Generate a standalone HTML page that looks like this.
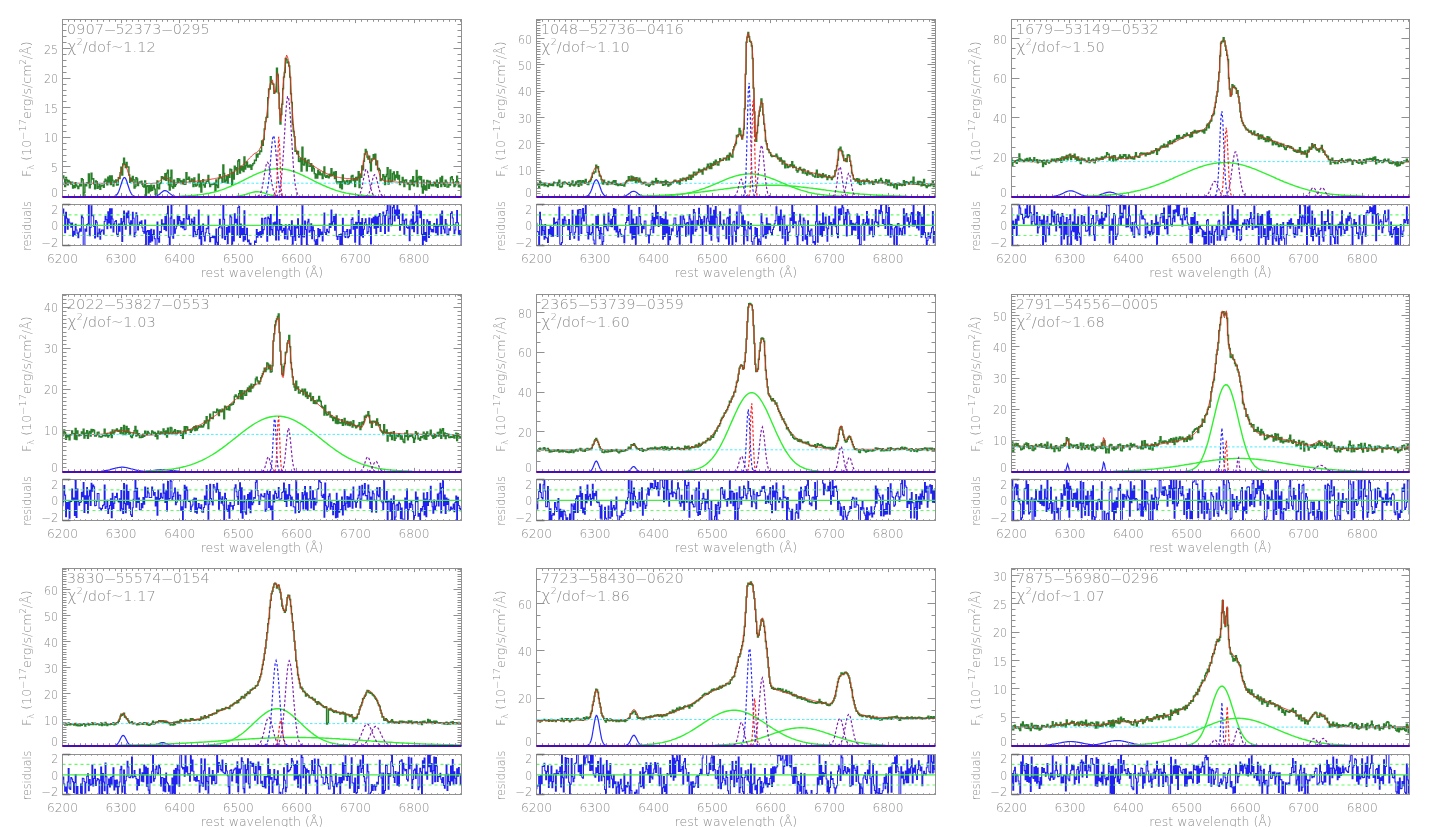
<!DOCTYPE html>
<html><head><meta charset="utf-8"><style>
html,body{margin:0;padding:0;background:#fff;}
svg{display:block;}
text{font-weight:200;}
</style></head><body>
<svg width="1449" height="827" viewBox="0 0 1449 827">
<rect width="1449" height="827" fill="#fff"/>
<clipPath id="c0m"><rect x="62.5" y="19.5" width="399" height="177"/></clipPath>
<clipPath id="c0r"><rect x="62.5" y="204.5" width="399" height="41"/></clipPath>
<g clip-path="url(#c0m)" fill="none">
<path d="M62.5 177.6H62.9V175.9H63.8V178.6H64.7V186.5H65.6V177.4H66.5V180H67.3V184.8H68.2V180.4H69.1V181.8H70V182.5H70.8V184H71.7V182.1H72.6V188.1H73.5V185.8H74.4V187.4H75.2V182.7H76.1V185.2H77V186.6H77.9V188.6H78.8V186.1H79.6V184.7H80.5V185.8H81.4V178.7H82.3V179.8H83.2V196.1H84V192.4H84.9V184.8H85.8V185.8H86.7V182.8H87.5V182.6H88.4V173.9H89.3V187.8H90.2V184.2H91.1V173.2H91.9V179H92.8V178.7H93.7V183.7H94.6V188.8H95.5V181H96.3V181.8H97.2V188.3H98.1V186.7H99V184.8H99.9V189.3H100.7V186.1H101.6V185.3H102.5V185.4H103.4V187.2H104.2V181.5H105.1V179.2H106V180.7H106.9V184.8H107.8V177.2H108.6V182.2H109.5V175.9H110.4V184.5H111.3V175.9H112.2V180.3H113V186.1H113.9V182.3H114.8V180.9H115.7V180H116.5V185.1H117.4V184.8H118.3V177.6H119.2V178.4H120.1V172.6H120.9V167.2H121.8V174.9H122.7V164H123.6V158.1H124.5V164.4H125.3V167.5H126.2V162.4H127.1V167.1H128V167H128.9V175H129.7V182.3H130.6V178.1H131.5V180.9H132.4V176.4H133.2V179.6H134.1V188.1H135V186.5H135.9V177.7H136.8V179H137.6V185.4H138.5V183.2H139.4V182H140.3V182.5H141.2V181.3H142V184.4H142.9V186.2H143.8V186.9H144.7V181H145.6V195.5H146.4V186.2H147.3V185.7H148.2V192.7H149.1V185.7H149.9V190.9H150.8V185.1H151.7V190.3H152.6V187.5H153.5V185.4H154.3V189.1H155.2V194.3H156.1V196.4H157V181H157.9V187.8H158.7V188.8H159.6V183.4H160.5V183H161.4V176.6H162.2V178.6H163.1V177.2H164V179.4H164.9V173.6H165.8V180.2H166.6V173.1H167.5V170.2H168.4V184.7H169.3V190.1H170.2V177.7H171V170.2H171.9V186.6H172.8V188.1H173.7V180.1H174.6V186.2H175.4V184.4H176.3V183.1H177.2V178.7H178.1V182.3H178.9V178.9H179.8V180.6H180.7V183.4H181.6V181H182.5V183.7H183.3V179.5H184.2V184.3H185.1V184H186V172.6H186.9V179.2H187.7V179.3H188.6V177.1H189.5V181.7H190.4V181.3H191.3V178.9H192.1V180H193V186.6H193.9V177.9H194.8V184.1H195.6V186H196.5V185.1H197.4V182.8H198.3V174.1H199.2V186.7H200V181.3H200.9V191.9H201.8V183.1H202.7V179.7H203.6V185.1H204.4V187H205.3V183.3H206.2V181.2H207.1V181.2H208V175.4H208.8V183.1H209.7V186.6H210.6V184.6H211.5V184.4H212.3V183.7H213.2V184.3H214.1V183.3H215V191.2H215.9V179.9H216.7V185.5H217.6V187.4H218.5V178.6H219.4V174.7H220.3V177.4H221.1V178.1H222V182.2H222.9V165H223.8V173.5H224.6V182.1H225.5V180.3H226.4V176.2H227.3V183H228.2V175H229V177.2H229.9V169.2H230.8V169.7H231.7V185.2H232.6V172.4H233.4V179H234.3V166.3H235.2V169.8H236.1V167.6H237V174.2H237.8V161H238.7V159.8H239.6V173H240.5V166.1H241.3V170.1H242.2V166.6H243.1V171.4H244V156.9H244.9V168.9H245.7V165.6H246.6V162H247.5V167.1H248.4V165.4H249.3V166.9H250.1V165H251V169.3H251.9V165.6H252.8V163.8H253.7V163.3H254.5V160.2H255.4V160.4H256.3V154.3H257.2V157.1H258V154H258.9V153.9H259.8V150.9H260.7V151.6H261.6V141H262.4V145.3H263.3V139.6H264.2V128.9H265.1V121.6H266V117.5H266.8V117.2H267.7V97.8H268.6V88.9H269.5V88.9H270.3V76.8H271.2V82.3H272.1V84H273V84.1H273.9V93.3H274.7V91.1H275.6V91.7H276.5V68.3H277.4V75H278.3V93.1H279.1V108.5H280V123.9H280.9V114.5H281.8V104.2H282.7V88.7H283.5V77.1H284.4V72.5H285.3V58.4H286.2V59.7H287V62.7H287.9V62.3H288.8V65.9H289.7V77.1H290.6V93.8H291.4V102.4H292.3V124.6H293.2V131.5H294.1V136.6H295V151.2H295.8V150.9H296.7V153.8H297.6V151.5H298.5V161.2H299.4V161.4H300.2V158.1H301.1V171.1H302V147.3H302.9V164.5H303.7V165.1H304.6V158.5H305.5V162.8H306.4V170.8H307.3V160.6H308.1V160H309V166.3H309.9V166.2H310.8V163.7H311.7V170.9H312.5V166.1H313.4V168.5H314.3V173.6H315.2V178.1H316V174.1H316.9V177.9H317.8V170.3H318.7V174.5H319.6V171.9H320.4V174.7H321.3V174H322.2V178.4H323.1V171.9H324V166.9H324.8V176.1H325.7V177.3H326.6V175.4H327.5V176.8H328.4V177.8H329.2V174.1H330.1V176H331V168.6H331.9V175.3H332.7V174.4H333.6V172.3H334.5V178.6H335.4V171.8H336.3V181.8H337.1V183.4H338V182.2H338.9V181.6H339.8V187.6H340.7V181.6H341.5V188.7H342.4V174.9H343.3V181H344.2V183H345.1V183.8H345.9V181.2H346.8V180.4H347.7V184H348.6V183.6H349.4V180.6H350.3V182.4H351.2V176.2H352.1V175.5H353V180.6H353.8V178.6H354.7V186.4H355.6V177.5H356.5V180.1H357.4V177.3H358.2V171.6H359.1V187.4H360V174.2H360.9V177.3H361.8V166H362.6V169.7H363.5V161.2H364.4V153.9H365.3V149.5H366.1V151.5H367V157H367.9V159.1H368.8V156.1H369.7V162.6H370.5V170.8H371.4V158.9H372.3V158.9H373.2V154.8H374.1V159H374.9V154.2H375.8V164.7H376.7V160.9H377.6V169.6H378.4V168.4H379.3V170.3H380.2V180.4H381.1V179H382V179.4H382.8V174.6H383.7V176.5H384.6V184.5H385.5V176.5H386.4V174.5H387.2V167.8H388.1V184H389V178.5H389.9V170H390.8V181.7H391.6V181.1H392.5V173.8H393.4V172H394.3V179.9H395.1V175.1H396V177.5H396.9V171.8H397.8V179.1H398.7V175.4H399.5V184.4H400.4V182H401.3V182.3H402.2V177.4H403.1V180.3H403.9V186.5H404.8V180.3H405.7V179.9H406.6V183.6H407.5V184H408.3V183.4H409.2V189.6H410.1V180.8H411V180.1H411.8V184.4H412.7V176.8H413.6V185.7H414.5V181.7H415.4V181.3H416.2V170.5H417.1V186.6H418V177.5H418.9V176.4H419.8V179.5H420.6V176.6H421.5V186.8H422.4V193.1H423.3V180.3H424.1V189.5H425V186H425.9V190.1H426.8V180.4H427.7V181.3H428.5V188.3H429.4V181.1H430.3V184.6H431.2V185.7H432.1V184.7H432.9V185.8H433.8V182.1H434.7V183.3H435.6V186.1H436.5V180.1H437.3V187.2H438.2V183.2H439.1V182.6H440V177.9H440.8V186.6H441.7V176.5H442.6V183.2H443.5V184.5H444.4V186.2H445.2V180.3H446.1V182.3H447V187.1H447.9V187H448.8V184.4H449.6V185.1H450.5V177.6H451.4V176.8H452.3V179.6H453.2V182.5H454V186.5H454.9V184.9H455.8V181.6H456.7V176.3H457.5V181.7H458.4V186.8H459.3V185.1H460.2V187H461.1V196.5H461.5" stroke="#2a7f2a" stroke-width="1.45"/>
<path d="M62.5 183.2l.9 0 .9 0 .8 0 .9 0 .9 0 .9 0 .9 0 .8 0 .9 0 .9 0 .9 0 .8 0 .9 0 .9 0 .9 0 .9 0 .8 0 .9 0 .9 0 .9 0 .9 0 .8 0 .9 0 .9 0 .9 0 .9 0 .8 0 .9 0 .9 0 .9 0 .8 0 .9 0 .9 0 .9 0 .9 0 .8 0 .9 0 .9 .1 .9 0 .9 0 .8 0 .9 0 .9 0 .9 0 .8 0 .9 0 .9 0 .9 0 .9 0 .8 0 .9 0 .9 0 .9 0 .9 0 .8 0 .9 0 .9-.1 .9 0 .9-.2 .8-.3 .9-.5 .9-.9 .9-1.3 .8-1.8 .9-2.3 .9-2.7 .9-2.9 .9-2.6 .8-2.1 .9-1.1 .9 .1 .9 1.2 .9 2.1 .8 2.6 .9 2.9 .9 2.7 .9 2.3 .9 1.8 .8 1.2 .9 .9 .9 .5 .9 .3 .8 .2 .9 0 .9 .1 .9 0 .9 0 .8 0 .9 0 .9 0 .9 0 .9 0 .8 0 .9 .1 .9 0 .9 0 .8 0 .9 0 .9 0 .9 0 .9 0 .8-.1 .9 0 .9-.1 .9-.1 .9-.1 .8-.3 .9-.4 .9-.4 .9-.6 .9-.7 .8-.8 .9-.8 .9-.7 .9-.5 .8-.3 .9 0 .9 .2 .9 .4 .9 .6 .8 .7 .9 .8 .9 .7 .9 .6 .9 .5 .8 .3 .9 .3 .9 .1 .9 .1 .9 0 .8 0 .9 0 .9-.1 .9 0 .8-.1 .9-.1 .9 0 .9-.1 .9-.1 .8-.1 .9 0 .9-.1 .9-.1 .9-.1 .8-.1 .9-.1 .9-.1 .9-.1 .8-.1 .9 0 .9-.1 .9-.1 .9-.2 .8-.1 .9-.1 .9-.1 .9-.1 .9-.1 .8-.1 .9-.1 .9-.1 .9-.2 .9-.1 .8-.1 .9-.1 .9-.1 .9-.2 .8-.1 .9-.2 .9-.1 .9-.2 .9-.1 .8-.2 .9-.2 .9-.1 .9-.2 .9-.2 .8-.3 .9-.2 .9-.2 .9-.3 .9-.2 .8-.3 .9-.3 .9-.2 .9-.3 .8-.4 .9-.3 .9-.3 .9-.4 .9-.4 .8-.4 .9-.4 .9-.5 .9-.4 .9-.6 .8-.5 .9-.6 .9-.7 .9-.7 .8-.7 .9-.7 .9-.8 .9-.8 .9-.8 .8-.9 .9-.9 .9-.9 .9-.9 .9-.9 .8-.9 .9-.9 .9-1 .9-.8 .9-.9 .8-.8 .9-.8 .9-.7 .9-.6 .8-.4 .9-.4 .9-.7 .9-1 .9-1.2 .8-1.5 .9-1.8 .9-2.2 .9-2.6 .9-3.8 .8-5.7 .9-7 .9-7.5 .9-7.4 .9-8.6 .8-9.5 .9-7.5 .9-2.8 .9-1.3 .8-.4 .9 5.3 .9 7.8 .9-.5 .9-7.3 .8-8.4 .9-4 .9 13.7 .9 24.6 .9 10.6 .8-6.9 .9-13.7 .9-14.8 .9-10.6 .9-9.2 .8-7.9 .9-3.6 .9 1.5 .9 4.1 .8 5.6 .9 8.7 .9 14.2 .9 15.2 .9 11.9 .8 10.1 .9 9.8 .9 8.3 .9 5.8 .9 2.4 .8 1.7 .9 1.6 .9 1.2 .9 .7 .8 .6 .9 .5 .9 .5 .9 .5 .9 .5 .8 .6 .9 .5 .9 .6 .9 .5 .9 .6 .8 .5 .9 .6 .9 .6 .9 .6 .9 .5 .8 .6 .9 .6 .9 .5 .9 .6 .8 .5 .9 .6 .9 .5 .9 .5 .9 .5 .8 .5 .9 .5 .9 .4 .9 .5 .9 .4 .8 .4 .9 .4 .9 .4 .9 .3 .9 .3 .8 .4 .9 .3 .9 .2 .9 .3 .8 .2 .9 .3 .9 .2 .9 .2 .9 .2 .8 .1 .9 .2 .9 .1 .9 .2 .9 .1 .8 .1 .9 .1 .9 .1 .9 .1 .8 .1 .9 0 .9 .1 .9 .1 .9 0 .8 .1 .9 0 .9 0 .9 .1 .9 0 .8 0 .9-.1 .9-.2 .9-.5 .9-1 .8-1.7 .9-2.7 .9-3.8 .9-4.6 .8-4.9 .9-4.2 .9-2.8 .9-.6 .9 1.5 .8 2.9 .9 3.1 .9 2.3 .9 .9 .9-.8 .8-1.7 .9-1.7 .9-.7 .9 .9 .9 2.4 .8 3.6 .9 4.1 .9 3.8 .9 3 .8 2.3 .9 1.4 .9 .9 .9 .4 .9 .3 .8 .2 .9 .1 .9 .1 .9 .1 .9 0 .8 .1 .9 .1 .9 .1 .9 .1 .8 0 .9 .1 .9 .1 .9 .1 .9 0 .8 .1 .9 .1 .9 .1 .9 0 .9 .1 .8 0 .9 .1 .9 .1 .9 0 .9 0 .8 .1 .9 0 .9 .1 .9 0 .8 0 .9 0 .9 .1 .9 0 .9 0 .8 0 .9 0 .9 0 .9 0 .9 0 .8 0 .9 0 .9 0 .9 0 .9 0 .8 0 .9 0 .9 0 .9 0 .8 0 .9 0 .9 0 .9 0 .9 0 .8 0 .9 0 .9 0 .9 0 .9 0 .8 0 .9 0 .9 0 .9 0 .8 0 .9 0 .9 0 .9 0 .9 0 .8 0 .9 0 .9 0 .9 0 .9 0 .8 0 .9 0 .9 0 .9 0 .9 0 .8 0 .9 0 .9 0 .9 0 .8 0 .9 0 .9 0 .9 0 .9 0 .8 0 .9 0 .9 0" stroke="#e8281e" stroke-width="0.9"/>
<path d="M62.5 183.2l3.5 0 3.5 0 3.5 0 3.6 0 3.5 0 3.5 0 3.5 0 3.5 0 3.5 0 3.6 0 3.5 0 3.5 0 3.5 0 3.5 0 3.5 0 3.5 0 3.6 0 3.5 0 3.5 0 3.5 0 3.5 0 3.5 0 3.6 0 3.5 0 3.5 0 3.5 0 3.5 0 3.5 0 3.5 0 3.6 0 3.5 0 3.5 0 3.5 0 3.5 0 3.5 0 3.6 0 3.5 0 3.5 0 3.5 0 3.5 0 3.5 0 3.5 0 3.6 0 3.5 0 3.5 0 3.5 0 3.5 0 3.5 0 3.6 0 3.5 0 3.5 0 3.5 0 3.5 0 3.5 0 3.5 0 3.6 0 3.5 0 3.5 0 3.5 0 3.5 0 3.5 0 3.6 0 3.5 0 3.5 0 3.5 0 3.5 0 3.5 0 3.5 0 3.6 0 3.5 0 3.5 0 3.5 0 3.5 0 3.5 0 3.6 0 3.5 0 3.5 0 3.5 0 3.5 0 3.5 0 3.5 0 3.6 0 3.5 0 3.5 0 3.5 0 3.5 0 3.5 0 3.6 0 3.5 0 3.5 0 3.5 0 3.5 0 3.5 0 3.5 0 3.6 0 3.5 0 3.5 0 3.5 0 3.5 0 3.5 0 3.6 0 3.5 0 3.5 0 3.5 0 3.5 0 3.5 0 3.5 0 3.6 0 3.5 0 3.5 0 3.5 0 3.5 0 3.5 0" stroke="#40f0ff" stroke-width="1.0" stroke-dasharray="2.5,2"/>
<path d="M114.4 196.2l.8-.3 .9-.6 .9-.8 .9-1.3 .8-1.8 .9-2.3 .9-2.7 .9-2.9 .9-2.7 .8-2 .9-1.1 .9 0 .9 1.2 .9 2.1 .8 2.7 .9 2.8 .9 2.7 .9 2.3 .9 1.8 .8 1.3 .9 .8 .9 .5 .9 .3" stroke="#2828ff" stroke-width="1.2"/>
<path d="M154.8 196.2l.9-.1 .8-.3 .9-.4 .9-.4 .9-.6 .9-.7 .8-.8 .9-.7 .9-.7 .9-.6 .8-.3 .9 0 .9 .2 .9 .5 .9 .6 .8 .8 .9 .7 .9 .7 .9 .7 .9 .5 .8 .4 .9 .3 .9 .2" stroke="#2828ff" stroke-width="1.2"/>
<path d="M179.4 196.1l1.7 0 1.8-.1 1.8-.1 1.7 0 1.8-.1 1.7-.2 1.8-.1 1.7-.1 1.8-.2 1.8-.2 1.7-.1 1.8-.3 1.7-.2 1.8-.3 1.8-.3 1.7-.3 1.8-.3 1.7-.4 1.8-.4 1.7-.4 1.8-.5 1.8-.5 1.7-.6 1.8-.5 1.7-.6 1.8-.7 1.7-.7 1.8-.7 1.8-.7 1.7-.8 1.8-.8 1.7-.8 1.8-.8 1.7-.9 1.8-.8 1.8-.9 1.7-.9 1.8-.9 1.7-.9 1.8-.9 1.8-.8 1.7-.9 1.8-.8 1.7-.8 1.8-.7 1.7-.7 1.8-.6 1.8-.7 1.7-.5 1.8-.5 1.7-.4 1.8-.3 1.7-.3 1.8-.2 1.8-.2 1.7 0 1.8 0 1.7 .1 1.8 .2 1.8 .3 1.7 .3 1.8 .4 1.7 .4 1.8 .6 1.7 .5 1.8 .7 1.8 .7 1.7 .7 1.8 .8 1.7 .8 1.8 .8 1.7 .9 1.8 .8 1.8 .9 1.7 .9 1.8 .9 1.7 .9 1.8 .8 1.7 .9 1.8 .8 1.8 .9 1.7 .8 1.8 .7 1.7 .8 1.8 .7 1.8 .7 1.7 .6 1.8 .7 1.7 .6 1.8 .5 1.7 .5 1.8 .5 1.8 .5 1.7 .4 1.8 .4 1.7 .3 1.8 .3 1.7 .3 1.8 .3 1.8 .3 1.7 .2 1.8 .2 1.7 .2 1.8 .1 1.7 .2 1.8 .1 1.8 .1 1.7 .1 1.8 .1 1.7 .1 1.8 .1 1.8 0" stroke="#30f030" stroke-width="1.4"/>
<path d="M236.5 196.2l1.8-.2 1.7-.2 1.8-.4 1.7-.4 1.8-.4 1.8-.6 1.7-.6 1.8-.5 1.7-.5 1.8-.4 1.7-.2 1.8 0 1.8 .1 1.7 .4 1.8 .4 1.7 .5 1.8 .6 1.8 .6 1.7 .5 1.8 .4 1.7 .4 1.8 .2 1.7 .2" stroke="#30f030" stroke-width="1.4"/>
<path d="M263.8 196.3l.8-.4 .9-.8 .9-1.7 .9-3.1 .9-5 .8-7.4 .9-9.6 .9-11 .9-10.4 .8-7.9 .9-3.4 .9 2 .9 6.8 .9 10 .8 11 .9 10.1 .9 8.1 .9 5.6 .9 3.5 .8 2 .9 1 .9 .5" stroke="#2828ff" stroke-width="1.2" stroke-dasharray="2.5,2"/>
<path d="M274.3 196.5l.9-.4 .9-3 .8-12.1 .9-24.7 .9-19.5 .9 9.3 .9 26.1 .8 17.6 .9 5.7 .9 .9" stroke="#ff2020" stroke-width="1.2" stroke-dasharray="2.5,2"/>
<path d="M257.6 196.2l.9-.4 .9-.8 .8-1.3 .9-2.2 .9-3.2 .9-4.4 .9-5.2 .8-5.6 .9-5.3 .9-3.8 .9-1.8 .9 .8 .8 3.1 .9 4.8 .9 5.5 .9 5.5 .8 4.8 .9 3.7 .9 2.5 .9 1.7 .9 .9 .8 .6 .9 .2" stroke="#8020b0" stroke-width="1.2" stroke-dasharray="2.5,2"/>
<path d="M276.1 196.2l.8-.4 .9-.9 .9-1.5 .9-2.8 .9-4.4 .8-6.8 .9-9.4 .9-12.1 .9-14.3 .9-15.2 .8-14.2 .9-11.1 .9-6.3 .9-.2 .8 5.9 .9 10.8 .9 14.1 .9 15.2 .9 14.4 .8 12.3 .9 9.6 .9 6.9 .9 4.6 .9 2.8 .8 1.6 .9 .9 .9 .5" stroke="#8020b0" stroke-width="1.2" stroke-dasharray="2.5,2"/>
<path d="M356.9 196.3l.9-.2 .9-.5 .9-1 .8-1.8 .9-2.7 .9-3.8 .9-4.7 .8-4.9 .9-4.2 .9-2.7 .9-.4 .9 2 .8 3.8 .9 4.8 .9 4.8 .9 4.1 .9 3.1 .8 2.1 .9 1.2 .9 .7 .9 .3" stroke="#8020b0" stroke-width="1.2" stroke-dasharray="2.5,2"/>
<path d="M365.7 196.3l.9-.3 .9-.5 .8-1 .9-1.7 .9-2.6 .9-3.3 .9-3.9 .8-3.9 .9-3 .9-1.4 .9 .4 .9 2.3 .8 3.5 .9 3.9 .9 3.7 .9 3 .8 2.2 .9 1.3 .9 .8 .9 .4" stroke="#8020b0" stroke-width="1.2" stroke-dasharray="2.5,2"/>
</g>
<g clip-path="url(#c0r)" fill="none">
<path d="M62.5 212.8H62.9V209H63.8V215.1H64.7V232.7H65.6V212.3H66.5V218.2H67.3V229.1H68.2V219.1H69.1V222.2H70V223.7H70.8V227.2H71.7V222.9H72.6V236.3H73.5V231.2H74.4V234.8H75.2V224.3H76.1V229.9H77V233.1H77.9V237.6H78.8V231.9H79.6V228.8H80.5V231.1H81.4V215.2H82.3V217.7H83.2V254.3H84V246.1H84.9V229H85.8V231.2H86.7V224.5H87.5V224H88.4V204.5H89.3V235.7H90.2V227.5H91.1V202.8H91.9V215.8H92.8V215.1H93.7V226.5H94.6V237.9H95.5V220.4H96.3V222.1H97.2V236.8H98.1V233.1H99V228.9H99.9V239.1H100.7V231.7H101.6V230.1H102.5V230.1H103.4V234.2H104.2V221.4H105.1V216.3H106V219.6H106.9V228.8H107.8V211.8H108.6V222.9H109.5V208.7H110.4V228H111.3V208.8H112.2V218.9H113V232H113.9V223.9H114.8V221.5H115.7V220.5H116.5V234.1H117.4V236.3H118.3V224.1H119.2V231.1H120.1V224.1H120.9V218.5H121.8V241.5H122.7V221.7H123.6V211H124.5V225H125.3V229.2H126.2V213.1H127.1V217.6H128V210.9H128.9V223H129.7V234.2H130.6V220.7H131.5V224.2H132.4V212.3H133.2V218.3H134.1V236.6H135V232.7H135.9V212.8H136.8V215.6H137.6V229.9H138.5V225H139.4V222.1H140.3V223.4H141.2V220.7H142V227.7H142.9V231.5H143.8V233.1H144.7V219.9H145.6V252.4H146.4V231.6H147.3V230.5H148.2V246.1H149.1V230.4H149.9V242.1H150.8V229.2H151.7V240.9H152.6V234.5H153.5V230H154.3V238.6H155.2V250.6H156.1V256H157V222.1H157.9V238.6H158.7V242.2H159.6V231.6H160.5V232.5H161.4V219.8H162.2V225.6H163.1V223.8H164V229.4H164.9V216.5H165.8V230.8H166.6V214H167.5V206H168.4V237.1H169.3V247.5H170.2V218.1H171V199.9H171.9V235.6H172.8V238.3H173.7V219.7H174.6V233.1H175.4V228.7H176.3V225.9H177.2V215.9H178.1V224.1H178.9V216.5H179.8V220.5H180.7V226.9H181.6V221.7H182.5V228H183.3V218.6H184.2V229.7H185.1V229.2H186V203.8H186.9V218.8H187.7V219.2H188.6V214.4H189.5V224.8H190.4V224.2H191.3V219.1H192.1V221.6H193V236.7H193.9V217.3H194.8V231.5H195.6V236H196.5V234.4H197.4V229.5H198.3V209.9H199.2V238.6H200V226.6H200.9V250.9H201.8V231.4H202.7V223.9H203.6V236.3H204.4V240.9H205.3V232.7H206.2V228.3H207.1V228.7H208V215.8H208.8V233.4H209.7V241.7H210.6V237.4H211.5V237.4H212.3V236H213.2V237.8H214.1V236H215V254.2H215.9V229H216.7V242.2H217.6V246.9H218.5V227.6H219.4V219.3H220.3V225.9H221.1V227.9H222V237.9H222.9V199.8H223.8V219.3H224.6V239.4H225.5V236H226.4V227.5H227.3V243.7H228.2V226.3H229V232.1H229.9V214.9H230.8V217H231.7V252.8H232.6V225H233.4V241H234.3V213.7H235.2V222.8H236.1V219.2H237V235.5H237.8V207.4H238.7V206.2H239.6V237.5H240.5V223.9H241.3V234.7H242.2V228.6H243.1V241.3H244V210.8H244.9V239.7H245.7V234.4H246.6V228.3H247.5V241.8H248.4V240.1H249.3V245.5H250.1V243.2H251V254.9H251.9V248.3H252.8V246H253.7V246.4H254.5V241H255.4V242.4H256.3V229.4H257.2V237.3H258V232.6H258.9V235.2H259.8V231.6H260.7V237.2H261.6V218.3H262.4V234H263.3V229.6H264.2V218.4H265.1V217.8H266V225.5H266.8V241.2H267.7V216.9H268.6V218.6H269.5V235.4H270.3V214.4H271.2V229.6H272.1V234.4H273V222.8H273.9V225.8H274.7V222H275.6V239.9H276.5V206H277.4V230.1H278.3V239.9H279.1V219.4H280V230H280.9V224.5H281.8V232.3H282.7V230.5H283.5V228.3H284.4V238.6H285.3V224.7H286.2V235.8H287V239.2H287.9V229H288.8V224.4H289.7V230.3H290.6V235.9H291.4V220.7H292.3V244.1H293.2V236.8H294.1V226.3H295V240.4H295.8V226.8H296.7V227.9H297.6V218.8H298.5V237.2H299.4V234.8H300.2V225.8H301.1V253.8H302V199H302.9V236.7H303.7V236.9H304.6V220.9H305.5V229.4H306.4V246.1H307.3V221.9H308.1V219.3H309V232.2H309.9V230.8H310.8V223.8H311.7V238.7H312.5V226.7H313.4V230.6H314.3V241H315.2V249.7H316V239.5H316.9V246.8H317.8V228.6H318.7V236.8H319.6V229.6H320.4V234.8H321.3V232.1H322.2V240.9H323.1V225.2H324V212.9H324.8V232.5H325.7V234.4H326.6V229.2H327.5V231.5H328.4V232.8H329.2V223.7H330.1V227.4H331V210H331.9V224.4H332.7V221.7H333.6V216.4H334.5V230.1H335.4V214.3H336.3V236.3H337.1V239.5H338V236.3H338.9V234.6H339.8V247.6H340.7V233.9H341.5V249.5H342.4V218.2H343.3V231.5H344.2V235.9H345.1V237.5H345.9V231.5H346.8V229.5H347.7V237.6H348.6V236.5H349.4V229.7H350.3V233.4H351.2V219.4H352.1V217.8H353V229.1H353.8V224.5H354.7V242.1H355.6V222.2H356.5V228.2H357.4V222.4H358.2V210.6H359.1V248.3H360V222.6H360.9V235.6H361.8V218.5H362.6V237.2H363.5V229.2H364.4V222.4H365.3V218.7H366.1V224.4H367V233.5H367.9V231.7H368.8V218H369.7V227.2H370.5V244H371.4V218.8H372.3V222.6H373.2V217.2H374.1V228.2H374.9V215.7H375.8V233.6H376.7V217H377.6V227.5H378.4V216.3H379.3V213.6H380.2V231.4H381.1V225H382V224H382.8V212.1H383.7V215.7H384.6V233.4H385.5V215.1H386.4V210.5H387.2V195.1H388.1V231.3H389V218.8H389.9V199.4H390.8V225.7H391.6V224.2H392.5V207.6H393.4V203.4H394.3V220.9H395.1V209.9H396V215.1H396.9V202.2H397.8V218.5H398.7V209.9H399.5V230.1H400.4V224.5H401.3V225H402.2V214H403.1V220.4H403.9V234.2H404.8V220.1H405.7V219.1H406.6V227.4H407.5V228.2H408.3V226.8H409.2V240.7H410.1V220.9H411V219.2H411.8V228.8H412.7V211.7H413.6V231.6H414.5V222.8H415.4V221.8H416.2V197.6H417.1V233.7H418V213.3H418.9V210.7H419.8V217.7H420.6V211.2H421.5V234.3H422.4V248.4H423.3V219.6H424.1V240.2H425V232.5H425.9V241.5H426.8V219.8H427.7V221.8H428.5V237.5H429.4V221.4H430.3V229.1H431.2V231.6H432.1V229.5H432.9V231.9H433.8V223.6H434.7V226.3H435.6V232.6H436.5V219H437.3V235H438.2V226.1H439.1V224.8H440V214.2H440.8V233.7H441.7V211.1H442.6V226H443.5V229H444.4V232.9H445.2V219.5H446.1V224.1H447V234.8H447.9V234.6H448.8V228.8H449.6V230.3H450.5V213.4H451.4V211.7H452.3V218H453.2V224.5H454V233.6H454.9V230H455.8V222.6H456.7V210.6H457.5V222.7H458.4V234.1H459.3V230.4H460.2V234.7H461.1V250.2H461.5" stroke="#2020f0" stroke-width="1.05"/>
<line x1="62.5" y1="225.4" x2="461.5" y2="225.4" stroke="#40f040" stroke-width="1.1"/>
<line x1="62.5" y1="214.92" x2="461.5" y2="214.92" stroke="#60ff60" stroke-width="1.1" stroke-dasharray="3,3"/>
<line x1="62.5" y1="235.47" x2="461.5" y2="235.47" stroke="#60ff60" stroke-width="1.1" stroke-dasharray="3,3"/>
</g>
<g fill="none" stroke="#909090" stroke-width="1">
<rect x="62.5" y="19.5" width="399" height="177"/>
<rect x="62.5" y="204.5" width="399" height="41"/>
<path d="M68.5 196.5v-2.3 M68.5 19.5v2.3 M68.5 245.5v-1.2 M68.5 204.5v1.2 M74.5 196.5v-2.3 M74.5 19.5v2.3 M74.5 245.5v-1.2 M74.5 204.5v1.2 M80.5 196.5v-2.3 M80.5 19.5v2.3 M80.5 245.5v-1.2 M80.5 204.5v1.2 M85.5 196.5v-2.3 M85.5 19.5v2.3 M85.5 245.5v-1.2 M85.5 204.5v1.2 M91.5 196.5v-2.3 M91.5 19.5v2.3 M91.5 245.5v-1.2 M91.5 204.5v1.2 M97.5 196.5v-2.3 M97.5 19.5v2.3 M97.5 245.5v-1.2 M97.5 204.5v1.2 M103.5 196.5v-2.3 M103.5 19.5v2.3 M103.5 245.5v-1.2 M103.5 204.5v1.2 M109.5 196.5v-2.3 M109.5 19.5v2.3 M109.5 245.5v-1.2 M109.5 204.5v1.2 M115.5 196.5v-2.3 M115.5 19.5v2.3 M115.5 245.5v-1.2 M115.5 204.5v1.2 M121.5 196.5v-3.6 M121.5 19.5v3.6 M121.5 245.5v-2 M121.5 204.5v2 M126.5 196.5v-2.3 M126.5 19.5v2.3 M126.5 245.5v-1.2 M126.5 204.5v1.2 M132.5 196.5v-2.3 M132.5 19.5v2.3 M132.5 245.5v-1.2 M132.5 204.5v1.2 M138.5 196.5v-2.3 M138.5 19.5v2.3 M138.5 245.5v-1.2 M138.5 204.5v1.2 M144.5 196.5v-2.3 M144.5 19.5v2.3 M144.5 245.5v-1.2 M144.5 204.5v1.2 M150.5 196.5v-2.3 M150.5 19.5v2.3 M150.5 245.5v-1.2 M150.5 204.5v1.2 M156.5 196.5v-2.3 M156.5 19.5v2.3 M156.5 245.5v-1.2 M156.5 204.5v1.2 M162.5 196.5v-2.3 M162.5 19.5v2.3 M162.5 245.5v-1.2 M162.5 204.5v1.2 M167.5 196.5v-2.3 M167.5 19.5v2.3 M167.5 245.5v-1.2 M167.5 204.5v1.2 M173.5 196.5v-2.3 M173.5 19.5v2.3 M173.5 245.5v-1.2 M173.5 204.5v1.2 M179.5 196.5v-3.6 M179.5 19.5v3.6 M179.5 245.5v-2 M179.5 204.5v2 M185.5 196.5v-2.3 M185.5 19.5v2.3 M185.5 245.5v-1.2 M185.5 204.5v1.2 M191.5 196.5v-2.3 M191.5 19.5v2.3 M191.5 245.5v-1.2 M191.5 204.5v1.2 M197.5 196.5v-2.3 M197.5 19.5v2.3 M197.5 245.5v-1.2 M197.5 204.5v1.2 M203.5 196.5v-2.3 M203.5 19.5v2.3 M203.5 245.5v-1.2 M203.5 204.5v1.2 M208.5 196.5v-2.3 M208.5 19.5v2.3 M208.5 245.5v-1.2 M208.5 204.5v1.2 M214.5 196.5v-2.3 M214.5 19.5v2.3 M214.5 245.5v-1.2 M214.5 204.5v1.2 M220.5 196.5v-2.3 M220.5 19.5v2.3 M220.5 245.5v-1.2 M220.5 204.5v1.2 M226.5 196.5v-2.3 M226.5 19.5v2.3 M226.5 245.5v-1.2 M226.5 204.5v1.2 M232.5 196.5v-2.3 M232.5 19.5v2.3 M232.5 245.5v-1.2 M232.5 204.5v1.2 M238.5 196.5v-3.6 M238.5 19.5v3.6 M238.5 245.5v-2 M238.5 204.5v2 M244.5 196.5v-2.3 M244.5 19.5v2.3 M244.5 245.5v-1.2 M244.5 204.5v1.2 M249.5 196.5v-2.3 M249.5 19.5v2.3 M249.5 245.5v-1.2 M249.5 204.5v1.2 M255.5 196.5v-2.3 M255.5 19.5v2.3 M255.5 245.5v-1.2 M255.5 204.5v1.2 M261.5 196.5v-2.3 M261.5 19.5v2.3 M261.5 245.5v-1.2 M261.5 204.5v1.2 M267.5 196.5v-2.3 M267.5 19.5v2.3 M267.5 245.5v-1.2 M267.5 204.5v1.2 M273.5 196.5v-2.3 M273.5 19.5v2.3 M273.5 245.5v-1.2 M273.5 204.5v1.2 M279.5 196.5v-2.3 M279.5 19.5v2.3 M279.5 245.5v-1.2 M279.5 204.5v1.2 M285.5 196.5v-2.3 M285.5 19.5v2.3 M285.5 245.5v-1.2 M285.5 204.5v1.2 M291.5 196.5v-2.3 M291.5 19.5v2.3 M291.5 245.5v-1.2 M291.5 204.5v1.2 M296.5 196.5v-3.6 M296.5 19.5v3.6 M296.5 245.5v-2 M296.5 204.5v2 M302.5 196.5v-2.3 M302.5 19.5v2.3 M302.5 245.5v-1.2 M302.5 204.5v1.2 M308.5 196.5v-2.3 M308.5 19.5v2.3 M308.5 245.5v-1.2 M308.5 204.5v1.2 M314.5 196.5v-2.3 M314.5 19.5v2.3 M314.5 245.5v-1.2 M314.5 204.5v1.2 M320.5 196.5v-2.3 M320.5 19.5v2.3 M320.5 245.5v-1.2 M320.5 204.5v1.2 M326.5 196.5v-2.3 M326.5 19.5v2.3 M326.5 245.5v-1.2 M326.5 204.5v1.2 M332.5 196.5v-2.3 M332.5 19.5v2.3 M332.5 245.5v-1.2 M332.5 204.5v1.2 M337.5 196.5v-2.3 M337.5 19.5v2.3 M337.5 245.5v-1.2 M337.5 204.5v1.2 M343.5 196.5v-2.3 M343.5 19.5v2.3 M343.5 245.5v-1.2 M343.5 204.5v1.2 M349.5 196.5v-2.3 M349.5 19.5v2.3 M349.5 245.5v-1.2 M349.5 204.5v1.2 M355.5 196.5v-3.6 M355.5 19.5v3.6 M355.5 245.5v-2 M355.5 204.5v2 M361.5 196.5v-2.3 M361.5 19.5v2.3 M361.5 245.5v-1.2 M361.5 204.5v1.2 M367.5 196.5v-2.3 M367.5 19.5v2.3 M367.5 245.5v-1.2 M367.5 204.5v1.2 M373.5 196.5v-2.3 M373.5 19.5v2.3 M373.5 245.5v-1.2 M373.5 204.5v1.2 M378.5 196.5v-2.3 M378.5 19.5v2.3 M378.5 245.5v-1.2 M378.5 204.5v1.2 M384.5 196.5v-2.3 M384.5 19.5v2.3 M384.5 245.5v-1.2 M384.5 204.5v1.2 M390.5 196.5v-2.3 M390.5 19.5v2.3 M390.5 245.5v-1.2 M390.5 204.5v1.2 M396.5 196.5v-2.3 M396.5 19.5v2.3 M396.5 245.5v-1.2 M396.5 204.5v1.2 M402.5 196.5v-2.3 M402.5 19.5v2.3 M402.5 245.5v-1.2 M402.5 204.5v1.2 M408.5 196.5v-2.3 M408.5 19.5v2.3 M408.5 245.5v-1.2 M408.5 204.5v1.2 M414.5 196.5v-3.6 M414.5 19.5v3.6 M414.5 245.5v-2 M414.5 204.5v2 M419.5 196.5v-2.3 M419.5 19.5v2.3 M419.5 245.5v-1.2 M419.5 204.5v1.2 M425.5 196.5v-2.3 M425.5 19.5v2.3 M425.5 245.5v-1.2 M425.5 204.5v1.2 M431.5 196.5v-2.3 M431.5 19.5v2.3 M431.5 245.5v-1.2 M431.5 204.5v1.2 M437.5 196.5v-2.3 M437.5 19.5v2.3 M437.5 245.5v-1.2 M437.5 204.5v1.2 M443.5 196.5v-2.3 M443.5 19.5v2.3 M443.5 245.5v-1.2 M443.5 204.5v1.2 M449.5 196.5v-2.3 M449.5 19.5v2.3 M449.5 245.5v-1.2 M449.5 204.5v1.2 M455.5 196.5v-2.3 M455.5 19.5v2.3 M455.5 245.5v-1.2 M455.5 204.5v1.2 M460.5 196.5v-2.3 M460.5 19.5v2.3 M460.5 245.5v-1.2 M460.5 204.5v1.2 M62.5 190.5h4 M461.5 190.5h-4 M62.5 184.5h4 M461.5 184.5h-4 M62.5 178.5h4 M461.5 178.5h-4 M62.5 172.5h4 M461.5 172.5h-4 M62.5 166.5h8 M461.5 166.5h-8 M62.5 161.5h4 M461.5 161.5h-4 M62.5 155.5h4 M461.5 155.5h-4 M62.5 149.5h4 M461.5 149.5h-4 M62.5 143.5h4 M461.5 143.5h-4 M62.5 137.5h8 M461.5 137.5h-8 M62.5 131.5h4 M461.5 131.5h-4 M62.5 125.5h4 M461.5 125.5h-4 M62.5 119.5h4 M461.5 119.5h-4 M62.5 113.5h4 M461.5 113.5h-4 M62.5 107.5h8 M461.5 107.5h-8 M62.5 101.5h4 M461.5 101.5h-4 M62.5 95.5h4 M461.5 95.5h-4 M62.5 90.5h4 M461.5 90.5h-4 M62.5 84.5h4 M461.5 84.5h-4 M62.5 78.5h8 M461.5 78.5h-8 M62.5 72.5h4 M461.5 72.5h-4 M62.5 66.5h4 M461.5 66.5h-4 M62.5 60.5h4 M461.5 60.5h-4 M62.5 54.5h4 M461.5 54.5h-4 M62.5 48.5h8 M461.5 48.5h-8 M62.5 42.5h4 M461.5 42.5h-4 M62.5 36.5h4 M461.5 36.5h-4 M62.5 30.5h4 M461.5 30.5h-4 M62.5 24.5h4 M461.5 24.5h-4"/>
</g>
<path d="M62.5 204.5h8M62.5 245.5h8" stroke="#6e6e6e" stroke-width="1.3" fill="none"/>
<line x1="62.5" y1="197" x2="461.5" y2="197" stroke="#2418e8" stroke-width="2"/>
<line x1="62.5" y1="197" x2="461.5" y2="197" stroke="#68009c" stroke-width="2" stroke-dasharray="3,2"/>
<g fill="#8c8c8c" font-family="'DejaVu Sans', 'Liberation Sans', sans-serif">
<text x="57.9" y="197.1" font-size="12.2" text-anchor="end" textLength="7" lengthAdjust="spacingAndGlyphs">0</text>
<text x="57.9" y="171.92" font-size="12.2" text-anchor="end" textLength="7" lengthAdjust="spacingAndGlyphs">5</text>
<text x="57.9" y="142.34" font-size="12.2" text-anchor="end" textLength="14" lengthAdjust="spacingAndGlyphs">10</text>
<text x="57.9" y="112.76" font-size="12.2" text-anchor="end" textLength="14" lengthAdjust="spacingAndGlyphs">15</text>
<text x="57.9" y="83.18" font-size="12.2" text-anchor="end" textLength="14" lengthAdjust="spacingAndGlyphs">20</text>
<text x="57.9" y="53.61" font-size="12.2" text-anchor="end" textLength="14" lengthAdjust="spacingAndGlyphs">25</text>
<text x="58.3" y="213.5" font-size="12.2" text-anchor="end" textLength="7" lengthAdjust="spacingAndGlyphs">2</text>
<text x="58.3" y="230" font-size="12.2" text-anchor="end" textLength="7" lengthAdjust="spacingAndGlyphs">0</text>
<text x="58.3" y="246.5" font-size="12.2" text-anchor="end" textLength="17" lengthAdjust="spacingAndGlyphs">&#8722;2</text>
<text x="62.5" y="263.1" font-size="12.4" text-anchor="middle" textLength="31" lengthAdjust="spacingAndGlyphs">6200</text>
<text x="121.09" y="263.1" font-size="12.4" text-anchor="middle" textLength="31" lengthAdjust="spacingAndGlyphs">6300</text>
<text x="179.68" y="263.1" font-size="12.4" text-anchor="middle" textLength="31" lengthAdjust="spacingAndGlyphs">6400</text>
<text x="238.27" y="263.1" font-size="12.4" text-anchor="middle" textLength="31" lengthAdjust="spacingAndGlyphs">6500</text>
<text x="296.86" y="263.1" font-size="12.4" text-anchor="middle" textLength="31" lengthAdjust="spacingAndGlyphs">6600</text>
<text x="355.45" y="263.1" font-size="12.4" text-anchor="middle" textLength="31" lengthAdjust="spacingAndGlyphs">6700</text>
<text x="414.04" y="263.1" font-size="12.4" text-anchor="middle" textLength="31" lengthAdjust="spacingAndGlyphs">6800</text>
<text x="262" y="277.3" font-size="12" text-anchor="middle" textLength="122.5" lengthAdjust="spacingAndGlyphs">rest wavelength (&#197;)</text>
<text y="34.1" font-size="13.8"><tspan x="66.7" textLength="37.5" lengthAdjust="spacingAndGlyphs">0907</tspan><tspan x="103.4" textLength="13.2" lengthAdjust="spacingAndGlyphs">-</tspan><tspan x="115.4" textLength="46" lengthAdjust="spacingAndGlyphs">52373</tspan><tspan x="160.7" textLength="12.8" lengthAdjust="spacingAndGlyphs">-</tspan><tspan x="172.8" textLength="36.8" lengthAdjust="spacingAndGlyphs">0295</tspan></text>
<text x="67.3" y="51.8" font-size="13.8" textLength="88.5" lengthAdjust="spacingAndGlyphs"><tspan font-size="15">&#967;</tspan><tspan font-size="9" dy="-7">2</tspan><tspan dy="7">/dof~1.12</tspan></text>
<text x="31.3" y="109.2" font-size="12" text-anchor="middle" textLength="135.5" lengthAdjust="spacingAndGlyphs" transform="rotate(-90 31.3 109.2)">F<tspan font-size="8" dy="3">&#955;</tspan><tspan dy="-3"> (10</tspan><tspan font-size="9.5" dy="-5">&#8722;17</tspan><tspan dy="5">erg/s/cm</tspan><tspan font-size="8" dy="-5">2</tspan><tspan dy="5">/&#197;)</tspan></text>
<text x="30.8" y="226" font-size="11.6" text-anchor="middle" textLength="49.7" lengthAdjust="spacingAndGlyphs" transform="rotate(-90 30.8 226)">residuals</text>
</g>
<clipPath id="c1m"><rect x="536.5" y="19.5" width="399" height="177"/></clipPath>
<clipPath id="c1r"><rect x="536.5" y="204.5" width="399" height="41"/></clipPath>
<g clip-path="url(#c1m)" fill="none">
<path d="M536.5 183H536.9V184.4H537.8V184.5H538.7V188.2H539.6V181.1H540.5V182.4H541.3V185.1H542.2V183.3H543.1V184.3H544V185.8H544.8V183.3H545.7V185.6H546.6V185.6H547.5V186.4H548.4V184.1H549.2V184.9H550.1V183.6H551V185.3H551.9V183.8H552.8V185.4H553.6V182.2H554.5V183.2H555.4V183H556.3V182.9H557.2V185.4H558V182.4H558.9V180.3H559.8V186.8H560.7V186.9H561.5V186.5H562.4V182.4H563.3V183.7H564.2V182H565.1V182.6H565.9V183.5H566.8V183.5H567.7V184.3H568.6V182.5H569.5V186H570.3V184.8H571.2V183.6H572.1V180.9H573V185.3H573.9V185.8H574.7V184.8H575.6V182H576.5V183.8H577.4V180.9H578.2V186.2H579.1V180.8H580V180.8H580.9V185H581.8V182.3H582.6V180.6H583.5V182.8H584.4V181.5H585.3V179.4H586.2V183.2H587V184.1H587.9V184.6H588.8V181.4H589.7V181.6H590.5V179.7H591.4V177.2H592.3V173.2H593.2V173.5H594.1V172H594.9V172H595.8V165.2H596.7V167.7H597.6V166.8H598.5V171.8H599.3V175.7H600.2V176.3H601.1V179.6H602V183.5H602.9V184.1H603.7V180.3H604.6V183.1H605.5V183H606.4V184H607.2V184.4H608.1V181.4H609V182.8H609.9V183.7H610.8V182.5H611.6V183.8H612.5V182H613.4V180.6H614.3V184.3H615.2V180.7H616V184.7H616.9V183.6H617.8V185.5H618.7V184.6H619.6V184.2H620.4V184.9H621.3V185.3H622.2V185H623.1V185H623.9V186H624.8V183.4H625.7V181.9H626.6V180.6H627.5V180.5H628.3V176.8H629.2V179.9H630.1V180.7H631V176.1H631.9V180.8H632.7V177H633.6V180.2H634.5V178H635.4V182.4H636.2V177.8H637.1V180.2H638V182.1H638.9V178.1H639.8V180.3H640.6V182H641.5V183.8H642.4V183H643.3V183.6H644.2V182.3H645V182.4H645.9V185H646.8V184.9H647.7V184.9H648.6V186.3H649.4V184.9H650.3V183.9H651.2V182.4H652.1V181.1H652.9V184.5H653.8V181.8H654.7V183.2H655.6V178.5H656.5V182H657.3V180.8H658.2V183.3H659.1V183.1H660V181.5H660.9V182.7H661.7V181.7H662.6V185.3H663.5V181.8H664.4V184.7H665.3V180.4H666.1V184H667V181.7H667.9V186H668.8V182.7H669.6V184.8H670.5V183.9H671.4V182.7H672.3V183H673.2V181.6H674V180.5H674.9V180.3H675.8V181.3H676.7V183.3H677.6V182.1H678.4V180.9H679.3V184.1H680.2V178.9H681.1V180.5H682V180.4H682.8V178.1H683.7V178.4H684.6V178.9H685.5V180.7H686.3V178H687.2V177.5H688.1V179.2H689V175.3H689.9V175.6H690.7V179.3H691.6V175.1H692.5V176.9H693.4V172.2H694.3V172.2H695.1V175.1H696V174.3H696.9V172.2H697.8V172.5H698.6V169.2H699.5V170.3H700.4V171.8H701.3V169.9H702.2V174.1H703V169.5H703.9V168.1H704.8V169.4H705.7V169.8H706.6V167.1H707.4V164.2H708.3V166.7H709.2V168.5H710.1V163.5H711V168.6H711.8V163.9H712.7V165.2H713.6V161.9H714.5V164.5H715.3V160.3H716.2V161.7H717.1V164.8H718V165H718.9V161.8H719.7V158.7H720.6V160.4H721.5V160.2H722.4V160.3H723.3V158.2H724.1V158.4H725V158.2H725.9V160.1H726.8V156H727.7V155.4H728.5V159.7H729.4V153.1H730.3V155.4H731.2V156.5H732V157H732.9V149.8H733.8V146.7H734.7V145H735.6V143.5H736.4V135.5H737.3V136.5H738.2V134.7H739.1V128.5H740V131H740.8V135.2H741.7V139.1H742.6V135.1H743.5V129.1H744.3V108.8H745.2V74.1H746.1V42.2H747V37.2H747.9V32.5H748.7V36.6H749.6V41.3H750.5V41.9H751.4V46H752.3V58.4H753.1V88.1H754V112H754.9V135H755.8V141.3H756.7V132.7H757.5V125.5H758.4V116H759.3V110.9H760.2V106.9H761V99H761.9V103.6H762.8V114.7H763.7V123.9H764.6V130.5H765.4V141.1H766.3V143.7H767.2V149.3H768.1V149.7H769V152.5H769.8V152.8H770.7V155.4H771.6V156.6H772.5V156.3H773.4V156.3H774.2V156H775.1V156.1H776V154.3H776.9V156.2H777.7V158.8H778.6V157.9H779.5V161H780.4V158H781.3V160.3H782.1V164.1H783V160.9H783.9V161.2H784.8V167.7H785.7V164.7H786.5V164.5H787.4V167.5H788.3V166.4H789.2V166.7H790V164.6H790.9V165.4H791.8V161.8H792.7V167.4H793.6V165.1H794.4V167.3H795.3V167.3H796.2V170.2H797.1V172H798V170.5H798.8V168.4H799.7V167.5H800.6V169.6H801.5V170.2H802.4V172.9H803.2V169.2H804.1V169.8H805V173.4H805.9V172.9H806.7V174.9H807.6V170.9H808.5V172.9H809.4V174H810.3V173.2H811.1V173.2H812V174.7H812.9V176.1H813.8V176.1H814.7V176.9H815.5V173.2H816.4V170.2H817.3V177.2H818.2V174.3H819.1V174.1H819.9V176.7H820.8V174.9H821.7V177.4H822.6V173.6H823.4V176.8H824.3V175.8H825.2V174.9H826.1V177H827V179.6H827.8V177.6H828.7V175.6H829.6V177.4H830.5V177.1H831.4V179.6H832.2V177.6H833.1V176.3H834V176.4H834.9V170.8H835.8V170.3H836.6V165.8H837.5V160H838.4V149.4H839.3V148.7H840.1V147.3H841V150.5H841.9V151.6H842.8V155.3H843.7V160.4H844.5V160.5H845.4V158.8H846.3V161.4H847.2V155.1H848.1V154.6H848.9V155.8H849.8V161.3H850.7V165.5H851.6V173.1H852.4V175.1H853.3V178.9H854.2V179.3H855.1V181H856V180H856.8V178.6H857.7V183H858.6V179.1H859.5V184.2H860.4V184.5H861.2V181H862.1V180.9H863V180.2H863.9V183.9H864.8V181.2H865.6V181H866.5V179.1H867.4V181.6H868.3V180.6H869.1V183.4H870V182.2H870.9V182.9H871.8V181.1H872.7V184.2H873.5V184.1H874.4V181.8H875.3V179.7H876.2V182.1H877.1V182H877.9V182.9H878.8V180.1H879.7V180.8H880.6V178.4H881.5V180.6H882.3V182.7H883.2V182.1H884.1V183H885V183.8H885.8V179.8H886.7V181H887.6V185.1H888.5V180.2H889.4V183.2H890.2V185.5H891.1V183.3H892V184.1H892.9V185.3H893.8V187.4H894.6V184H895.5V183.6H896.4V188.7H897.3V183.4H898.1V183.3H899V185.2H899.9V184.2H900.8V184.7H901.7V185.4H902.5V184.2H903.4V180.8H904.3V185.3H905.2V181.9H906.1V181.7H906.9V183H907.8V182.4H908.7V184.1H909.6V183.2H910.5V181.8H911.3V181.5H912.2V183.9H913.1V177.3H914V183.9H914.8V182.9H915.7V183.8H916.6V184.2H917.5V181.4H918.4V184.5H919.2V181.5H920.1V181.9H921V185.8H921.9V182.3H922.8V185.3H923.6V179.4H924.5V184.9H925.4V185.8H926.3V187.4H927.2V186.2H928V184.9H928.9V185.5H929.8V185.8H930.7V184.8H931.5V183.9H932.4V181H933.3V186.5H934.2V184.4H935.1V185.1H935.5" stroke="#2a7f2a" stroke-width="1.45"/>
<path d="M536.5 183.3l.9 0 .9 .1 .8 0 .9 0 .9 0 .9 0 .9 0 .8 0 .9 0 .9 0 .9 0 .8 0 .9 0 .9 0 .9 0 .9 0 .8 0 .9 .1 .9 0 .9 0 .9 0 .8 0 .9 0 .9 0 .9 0 .9 0 .8 0 .9 0 .9 0 .9 0 .8 0 .9 0 .9 0 .9 0 .9 0 .8 0 .9 0 .9 .1 .9 0 .9 0 .8 0 .9 0 .9 0 .9 0 .8 0 .9 0 .9 0 .9 0 .9 0 .8 0 .9 0 .9 0 .9 0 .9 0 .8-.1 .9-.1 .9-.2 .9-.3 .9-.6 .8-1 .9-1.3 .9-1.9 .9-2.2 .8-2.5 .9-2.5 .9-2.2 .9-1.4 .9-.5 .8 .5 .9 1.4 .9 2.2 .9 2.5 .9 2.5 .8 2.2 .9 1.9 .9 1.3 .9 .9 .9 .6 .8 .4 .9 .2 .9 .1 .9 0 .8 .1 .9 0 .9 0 .9 0 .9-.1 .8 0 .9 0 .9 0 .9 0 .9 0 .8 0 .9 0 .9 0 .9-.1 .8 0 .9-.1 .9-.1 .9-.2 .9-.2 .8-.4 .9-.4 .9-.6 .9-.7 .9-.6 .8-.7 .9-.6 .9-.5 .9-.2 .9 0 .8 .2 .9 .4 .9 .6 .9 .7 .8 .6 .9 .7 .9 .5 .9 .4 .9 .4 .8 .2 .9 .2 .9 .1 .9 0 .9 .1 .8 0 .9 0 .9 0 .9 0 .9 0 .8 0 .9 0 .9 0 .9 0 .8 0 .9-.1 .9 0 .9 0 .9 0 .8-.1 .9 0 .9 0 .9-.1 .9 0 .8-.1 .9 0 .9-.1 .9 0 .8-.1 .9-.1 .9-.1 .9-.1 .9-.1 .8-.1 .9-.1 .9-.1 .9-.1 .9-.2 .8-.1 .9-.2 .9-.2 .9-.1 .9-.2 .8-.2 .9-.3 .9-.2 .9-.3 .8-.3 .9-.4 .9-.3 .9-.4 .9-.4 .8-.4 .9-.4 .9-.4 .9-.5 .9-.4 .8-.5 .9-.4 .9-.5 .9-.5 .9-.4 .8-.5 .9-.4 .9-.5 .9-.4 .8-.4 .9-.4 .9-.4 .9-.5 .9-.4 .8-.4 .9-.5 .9-.4 .9-.5 .9-.4 .8-.5 .9-.5 .9-.5 .9-.4 .8-.5 .9-.5 .9-.5 .9-.5 .9-.5 .8-.5 .9-.5 .9-.5 .9-.5 .9-.5 .8-.4 .9-.5 .9-.5 .9-.5 .9-.5 .8-.4 .9-.5 .9-.5 .9-.4 .8-.5 .9-.4 .9-.9 .9-1.7 .9-2.5 .8-3 .9-3.4 .9-3.4 .9-2.8 .9-1.8 .8-1.6 .9-.5 .9 1.3 .9 2.2 .9 1.6 .8-2.1 .9-11.1 .9-16.2 .9-36.3 .8-33 .9-5.8 .9-1.4 .9 3.1 .9 4.5 .8 1.5 .9 .9 .9 11.7 .9 28.6 .9 26.3 .8 24.9 .9 4.8 .9-7.2 .9-10.4 .9-8.2 .8-5.5 .9-4.7 .9-2.4 .9 3.1 .8 8.6 .9 9.6 .9 8.1 .9 8.5 .9 6.1 .8 2.8 .9 2.2 .9 1.7 .9 1.4 .9 1 .8 .9 .9 .6 .9 .4 .9 .3 .8 .6 .9 .7 .9 .6 .9 .6 .9 .7 .8 .6 .9 .6 .9 .6 .9 .6 .9 .6 .8 .5 .9 .5 .9 .4 .9 .4 .9 .5 .8 .3 .9 .4 .9 .4 .9 .4 .8 .3 .9 .4 .9 .3 .9 .3 .9 .4 .8 .3 .9 .3 .9 .3 .9 .2 .9 .3 .8 .3 .9 .3 .9 .2 .9 .3 .9 .2 .8 .3 .9 .2 .9 .3 .9 .2 .8 .2 .9 .3 .9 .2 .9 .2 .9 .2 .8 .3 .9 .2 .9 .2 .9 .3 .9 .2 .8 .3 .9 .2 .9 .3 .9 .2 .8 .3 .9 .2 .9 .2 .9 .3 .9 .2 .8 .2 .9 .2 .9 .2 .9 .3 .9 .2 .8 .2 .9 .1 .9 .2 .9 0 .9-.4 .8-1 .9-2.3 .9-4 .9-5.7 .8-6.5 .9-5.6 .9-2.6 .9 .5 .9 2.2 .8 3.1 .9 2.9 .9 2 .9 1.1 .9-.4 .8-1.5 .9-1.8 .9-.9 .9 .8 .9 3.5 .8 5.1 .9 5.2 .9 4 .9 2.6 .8 1.4 .9 .7 .9 .3 .9 .1 .9 .1 .8 0 .9 .1 .9 .1 .9 .1 .9 .1 .8 .1 .9 .1 .9 .1 .9 .1 .8 .1 .9 .1 .9 0 .9 .1 .9 .1 .8 .1 .9 .1 .9 .1 .9 .1 .9 .1 .8 .1 .9 .1 .9 0 .9 .1 .9 .1 .8 .1 .9 0 .9 .1 .9 .1 .8 0 .9 .1 .9 0 .9 .1 .9 0 .8 0 .9 .1 .9 0 .9 0 .9 .1 .8 0 .9 0 .9 0 .9 .1 .9 0 .8 0 .9 0 .9 .1 .9 0 .8 0 .9 0 .9 0 .9 0 .9 0 .8 .1 .9 0 .9 0 .9 0 .9 0 .8 0 .9 0 .9 0 .9 0 .8 0 .9 0 .9 0 .9 0 .9 0 .8 0 .9 0 .9 0 .9-.1 .9 0 .8 0 .9 0 .9 0 .9 0 .9 0 .8-.1 .9 0 .9 0 .9 0 .8-.1 .9 0 .9 0 .9 0 .9-.1 .8 0 .9 0 .9-.1" stroke="#e8281e" stroke-width="0.9"/>
<path d="M536.5 183.3l3.5 0 3.5 0 3.5 0 3.6 0 3.5 0 3.5 0 3.5 0 3.5 0 3.5 0 3.6 0 3.5 0 3.5 0 3.5 0 3.5 0 3.5 0 3.5 0 3.6 0 3.5 0 3.5 0 3.5 0 3.5 0 3.5 0 3.6 0 3.5 0 3.5 0 3.5 0 3.5 0 3.5 0 3.5 0 3.6 0 3.5 0 3.5 0 3.5 0 3.5 0 3.5 0 3.6 0 3.5 0 3.5 0 3.5 0 3.5 0 3.5 0 3.5 0 3.6 0 3.5 0 3.5 0 3.5 0 3.5 0 3.5 0 3.6 0 3.5 0 3.5 0 3.5 0 3.5 0 3.5 0 3.5 0 3.6 0 3.5 0 3.5 0 3.5 0 3.5 0 3.5 0 3.6 0 3.5 0 3.5 0 3.5 0 3.5 0 3.5 0 3.5 0 3.6 0 3.5 0 3.5 0 3.5 0 3.5 0 3.5 0 3.6 0 3.5 0 3.5 0 3.5 0 3.5 0 3.5 0 3.5 0 3.6 0 3.5 0 3.5 0 3.5 0 3.5 0 3.5 0 3.6 0 3.5 0 3.5 0 3.5 0 3.5 0 3.5 0 3.5 0 3.6 0 3.5 0 3.5 0 3.5 0 3.5 0 3.5 0 3.6 0 3.5 0 3.5 0 3.5 0 3.5 0 3.5 0 3.5 0 3.6 0 3.5 0 3.5 0 3.5 0 3.5 0 3.5 0" stroke="#40f0ff" stroke-width="1.0" stroke-dasharray="2.5,2"/>
<path d="M585.7 196.3l.9-.2 .9-.3 .9-.6 .8-1 .9-1.3 .9-1.9 .9-2.2 .8-2.5 .9-2.5 .9-2.2 .9-1.4 .9-.5 .8 .5 .9 1.4 .9 2.2 .9 2.5 .9 2.5 .8 2.2 .9 1.9 .9 1.3 .9 1 .9 .6 .8 .3 .9 .2" stroke="#2828ff" stroke-width="1.2"/>
<path d="M623.5 196.2l.9-.1 .9-.3 .8-.3 .9-.5 .9-.5 .9-.7 .9-.6 .8-.7 .9-.6 .9-.4 .9-.2 .9 0 .8 .2 .9 .5 .9 .5 .9 .7 .8 .7 .9 .6 .9 .6 .9 .4 .9 .3 .8 .3 .9 .2" stroke="#2828ff" stroke-width="1.2"/>
<path d="M656.9 196.2l1.8-.1 1.7-.1 1.8 0 1.7-.1 1.8-.1 1.7-.1 1.8-.1 1.8-.2 1.7-.1 1.8-.2 1.7-.2 1.8-.2 1.8-.2 1.7-.3 1.8-.3 1.7-.3 1.8-.3 1.7-.4 1.8-.4 1.8-.4 1.7-.5 1.8-.4 1.7-.6 1.8-.5 1.7-.6 1.8-.6 1.8-.6 1.7-.7 1.8-.6 1.7-.7 1.8-.7 1.7-.8 1.8-.7 1.8-.8 1.7-.7 1.8-.8 1.7-.7 1.8-.8 1.8-.7 1.7-.7 1.8-.7 1.7-.6 1.8-.6 1.7-.6 1.8-.5 1.8-.4 1.7-.5 1.8-.3 1.7-.3 1.8-.2 1.7-.2 1.8-.1 1.8 0 1.7 0 1.8 .1 1.7 .2 1.8 .2 1.8 .3 1.7 .4 1.8 .4 1.7 .5 1.8 .5 1.7 .6 1.8 .6 1.8 .6 1.7 .7 1.8 .7 1.7 .7 1.8 .8 1.7 .7 1.8 .8 1.8 .7 1.7 .8 1.8 .7 1.7 .7 1.8 .8 1.7 .7 1.8 .6 1.8 .7 1.7 .6 1.8 .6 1.7 .6 1.8 .5 1.8 .5 1.7 .5 1.8 .5 1.7 .4 1.8 .4 1.7 .3 1.8 .4 1.8 .3 1.7 .2 1.8 .3 1.7 .2 1.8 .2 1.7 .2 1.8 .2 1.8 .1 1.7 .2 1.8 .1 1.7 .1 1.8 .1 1.7 .1 1.8 .1 1.8 0" stroke="#30f030" stroke-width="1.4"/>
<path d="M634.9 196.1l1.8 0 1.7 0 1.8-.1 1.8 0 1.7 0 1.8-.1 1.7 0 1.8-.1 1.8-.1 1.7 0 1.8-.1 1.7 0 1.8-.1 1.7-.1 1.8-.1 1.8-.1 1.7-.1 1.8-.1 1.7-.1 1.8-.1 1.7-.1 1.8-.1 1.8-.1 1.7-.2 1.8-.1 1.7-.1 1.8-.2 1.7-.2 1.8-.1 1.8-.2 1.7-.2 1.8-.1 1.7-.2 1.8-.2 1.8-.2 1.7-.2 1.8-.2 1.7-.2 1.8-.2 1.7-.2 1.8-.3 1.8-.2 1.7-.2 1.8-.2 1.7-.3 1.8-.2 1.7-.2 1.8-.3 1.8-.2 1.7-.2 1.8-.3 1.7-.2 1.8-.2 1.7-.2 1.8-.3 1.8-.2 1.7-.2 1.8-.2 1.7-.2 1.8-.2 1.8-.2 1.7-.2 1.8-.1 1.7-.2 1.8-.2 1.7-.1 1.8-.1 1.8-.2 1.7-.1 1.8-.1 1.7-.1 1.8 0 1.7-.1 1.8 0 1.8-.1 1.7 0 1.8 0 1.7 0 1.8 0 1.7 0 1.8 .1 1.8 0 1.7 .1 1.8 .1 1.7 .1 1.8 .1 1.8 .1 1.7 .1 1.8 .1 1.7 .2 1.8 .1 1.7 .2 1.8 .2 1.8 .2 1.7 .2 1.8 .2 1.7 .2 1.8 .2 1.7 .2 1.8 .2 1.8 .2 1.7 .3 1.8 .2 1.7 .2 1.8 .2 1.7 .3 1.8 .2 1.8 .2 1.7 .3 1.8 .2 1.7 .2 1.8 .3 1.8 .2 1.7 .2 1.8 .2 1.7 .3 1.8 .2 1.7 .2 1.8 .2 1.8 .2 1.7 .2 1.8 .2 1.7 .1 1.8 .2 1.7 .2 1.8 .1 1.8 .2 1.7 .2 1.8 .1 1.7 .1 1.8 .2 1.7 .1 1.8 .1 1.8 .1 1.7 .2 1.8 .1 1.7 .1 1.8 .1 1.8 .1 1.7 0 1.8 .1 1.7 .1 1.8 .1 1.7 0 1.8 .1 1.8 .1 1.7 0 1.8 .1 1.7 0 1.8 .1 1.7 0 1.8 .1 1.8 0 1.7 0 1.8 .1" stroke="#30f030" stroke-width="1.4"/>
<path d="M743 196.3l.9-.8 .9-3.6 .9-10.9 .8-23.8 .9-35.3 .9-31.6 .9-7.4 .9 22.5 .8 36.2 .9 30.1 .9 16.4 .9 6.3 .9 1.7 .8 .3" stroke="#2828ff" stroke-width="1.2" stroke-dasharray="2.5,2"/>
<path d="M748.3 196.4l.9-.7 .9-4.7 .8-17.2 .9-35.7 .9-35.9 .9-1.5 .9 34.7 .8 36.6 .9 18.3 .9 5.2 .9 .9" stroke="#ff2020" stroke-width="1.2" stroke-dasharray="2.5,2"/>
<path d="M734.2 196.2l.9-.4 .9-1 .9-1.9 .9-2.9 .8-3.8 .9-3.8 .9-2.6 .9-.6 .9 1.8 .8 3.4 .9 3.9 .9 3.4 .9 2.3 .8 1.4 .9 .7 .9 .3" stroke="#8020b0" stroke-width="1.2" stroke-dasharray="2.5,2"/>
<path d="M752.7 196.3l.9-.3 .9-.9 .8-1.8 .9-3.4 .9-5.7 .9-8.2 .9-9.9 .8-10.1 .9-7.7 .9-3.1 .9 2.4 .8 7.2 .9 9.9 .9 10.1 .9 8.4 .9 6 .8 3.7 .9 2 .9 1 .9 .4" stroke="#8020b0" stroke-width="1.2" stroke-dasharray="2.5,2"/>
<path d="M832.7 196.2l.9-.5 .8-1.2 .9-2.4 .9-4.2 .9-5.9 .8-6.7 .9-5.7 .9-2.8 .9 1.3 .9 4.7 .8 6.6 .9 6.3 .9 4.9 .9 3.1 .9 1.6 .8 .8 .9 .3" stroke="#8020b0" stroke-width="1.2" stroke-dasharray="2.5,2"/>
<path d="M841.5 196.3l.8-.3 .9-.9 .9-1.8 .9-3.1 .9-4.4 .8-5.3 .9-4.7 .9-2.5 .9 .5 .9 3.4 .8 5.1 .9 5.1 .9 4 .9 2.7 .8 1.4 .9 .6 .9 .3" stroke="#8020b0" stroke-width="1.2" stroke-dasharray="2.5,2"/>
</g>
<g clip-path="url(#c1r)" fill="none">
<path d="M536.5 223.2H536.9V231.6H537.8V231.8H538.7V253.2H539.6V212.3H540.5V219.7H541.3V235.1H542.2V224.9H543.1V230.4H544V239.3H544.8V224.6H545.7V237.7H546.6V238H547.5V242.4H548.4V229.4H549.2V233.9H550.1V226.2H551V236.2H551.9V227.4H552.8V236.2H553.6V218.1H554.5V224H555.4V222.4H556.3V221.9H557.2V236.4H558V219.2H558.9V207H559.8V243.9H560.7V244.9H561.5V242.6H562.4V219.2H563.3V226.1H564.2V216.7H565.1V220.2H565.9V225.5H566.8V225H567.7V229.7H568.6V219.6H569.5V239.5H570.3V232.5H571.2V225.8H572.1V210.3H573V235.4H573.9V238.1H574.7V232.3H575.6V216.1H576.5V226.8H577.4V210H578.2V240.3H579.1V209.4H580V209.4H580.9V233.4H581.8V218.1H582.6V208.4H583.5V221H584.4V213.8H585.3V202.2H586.2V225.1H587V232.5H587.9V238.9H588.8V225.8H589.7V234.5H590.5V234.1H591.4V232.6H592.3V224.1H593.2V240H594.1V243.8H594.9V252.2H595.8V216.2H596.7V227.8H597.6V214.4H598.5V230.4H599.3V238.7H600.2V227.6H601.1V233.6H602V245.5H602.9V241.4H603.7V214.2H604.6V226.7H605.5V224.3H606.4V229H607.2V230.8H608.1V213H609V221.1H609.9V226.2H610.8V219.2H611.6V226.7H612.5V216.5H613.4V208.4H614.3V229.6H615.2V209.2H616V232H616.9V225.7H617.8V236.9H618.7V231.7H619.6V229.3H620.4V233.9H621.3V236.1H622.2V235.2H623.1V235.8H623.9V242.6H624.8V229.2H625.7V222.4H626.6V217.5H627.5V220.4H628.3V203H629.2V224.8H630.1V233H631V210.3H631.9V239.3H632.7V219.1H633.6V237.6H634.5V223.9H635.4V246.1H636.2V216.8H637.1V226.5H638V233.9H638.9V207.4H639.8V216.5H640.6V224.1H641.5V232.6H642.4V226.6H643.3V228.8H644.2V220.9H645V220.9H645.9V236H646.8V235.2H647.7V235.1H648.6V243H649.4V235.1H650.3V229.5H651.2V220.7H652.1V213.2H652.9V232.7H653.8V217.6H654.7V225.7H655.6V199.1H656.5V218.8H657.3V212.4H658.2V226.4H659.1V225.5H660V216.5H660.9V223.8H661.7V218.4H662.6V239.3H663.5V219.2H664.4V236.4H665.3V211.9H666.1V233H667V220.1H667.9V245.2H668.8V227.1H669.6V239.7H670.5V234.9H671.4V228.8H672.3V230.9H673.2V223.9H674V218H674.9V218H675.8V224.6H676.7V236.8H677.6V231H678.4V225H679.3V244.2H680.2V216.1H681.1V226.4H682V227.1H682.8V215.8H683.7V219.1H684.6V223.9H685.5V236.2H686.3V223.1H687.2V222.5H688.1V234.2H689V214.5H689.9V219H690.7V242.7H691.6V221.1H692.5V234H693.4V209.6H694.3V212.5H695.1V231.3H696V229.5H696.9V220.4H697.8V224.7H698.6V208.2H699.5V216.9H700.4V227.7H701.3V219.5H702.2V245.4H703V222H703.9V216.2H704.8V226.2H705.7V231.1H706.6V218.3H707.4V204.3H708.3V221.3H709.2V234H710.1V208H711V240.2H711.8V215.8H712.7V225.8H713.6V210.3H714.5V227.7H715.3V206.4H716.2V217.1H717.1V238H718V241.6H718.9V226.4H719.7V211.7H720.6V224.3H721.5V225.6H722.4V229.2H723.3V220H724.1V224H725V225.4H725.9V238.7H726.8V218.1H727.7V217.2H728.5V244.4H729.4V209.1H730.3V224.6H731.2V236H732V248.8H732.9V221.9H733.8V221.2H734.7V231.1H735.6V241.8H736.4V212.1H737.3V228.6H738.2V227.3H739.1V194.4H740V201.4H740.8V212.8H741.7V226.5H742.6V215.2H743.5V244.1H744.3V220.7H745.2V229.9H746.1V236.3H747V240.8H747.9V221.7H748.7V227.9H749.6V228.9H750.5V223.6H751.4V241.5H752.3V246.2H753.1V252.1H754V238.1H754.9V227.4H755.8V236.5H756.7V228.6H757.5V246.4H758.4V239.1H759.3V241.6H760.2V245.6H761V213.8H761.9V222.4H762.8V236.8H763.7V235H764.6V226.1H765.4V238.1H766.3V217.9H767.2V233.8H768.1V223.7H769V229.6H769.8V223.9H770.7V232.4H771.6V235H772.5V229.4H773.4V227.1H774.2V223.8H775.1V220.6H776V206.7H776.9V214.2H777.7V225.3H778.6V216.2H779.5V230.8H780.4V210.1H781.3V219.3H782.1V238.1H783V216.7H783.9V215.4H784.8V249.4H785.7V229.5H786.5V226.4H787.4V240.8H788.3V232.5H789.2V231.8H790V218H790.9V220.5H791.8V197.7H792.7V227.8H793.6V212.5H794.4V223.3H795.3V221.8H796.2V236.6H797.1V245H798V234.9H798.8V221.1H799.7V214.2H800.6V225H801.5V226.9H802.4V240.8H803.2V217.9H804.1V220.3H805V239.3H805.9V235H806.7V244.8H807.6V220.7H808.5V231.2H809.4V235.9H810.3V230.3H811.1V228.9H812V236H812.9V242.7H813.8V241.6H814.7V244.7H815.5V221.8H816.4V203.8H817.3V242.2H818.2V223.9H819.1V221.3H819.9V235.2H820.8V223.4H821.7V236.1H822.6V213.1H823.4V230.4H824.3V223.1H825.2V217H826.1V227.8H827V241.1H827.8V228.8H828.7V216.2H829.6V225H830.5V222.5H831.4V236H832.2V224.5H833.1V219H834V225.7H834.9V206.7H835.8V226.6H836.6V233.6H837.5V237.8H838.4V209H839.3V220H840.1V208.8H841V214.4H841.9V203.3H842.8V207.7H843.7V225H844.5V219.6H845.4V212.4H846.3V236H847.2V209.6H848.1V212H848.9V214.1H849.8V225.6H850.7V220.5H851.6V234.6H852.4V223.2H853.3V230H854.2V223.9H855.1V230.2H856V222.8H856.8V214.1H857.7V238.7H858.6V216.3H859.5V244.8H860.4V246.1H861.2V225.5H862.1V224H863V219.5H863.9V240.1H864.8V224.4H865.6V222.6H866.5V211.5H867.4V225H868.3V219H869.1V234.3H870V226.9H870.9V230.1H871.8V219.4H872.7V236.8H873.5V235.7H874.4V221.8H875.3V209.5H876.2V222.6H877.1V222H877.9V226.6H878.8V210.3H879.7V213.5H880.6V199.6H881.5V211.8H882.3V223.5H883.2V219.5H884.1V224.4H885V228.4H885.8V205.6H886.7V212.5H887.6V235.2H888.5V207.4H889.4V224.3H890.2V237.2H891.1V224.4H892V229H892.9V235.8H893.8V247.3H894.6V227.7H895.5V225.4H896.4V254.3H897.3V223.8H898.1V223.6H899V234.4H899.9V228.2H900.8V231H901.7V234.9H902.5V228H903.4V208.7H904.3V233.9H905.2V215H906.1V213.6H906.9V221.1H907.8V217.7H908.7V227H909.6V222H910.5V214.2H911.3V212.4H912.2V226H913.1V188.5H914V226H914.8V220.5H915.7V225.3H916.6V227.9H917.5V211.7H918.4V229.9H919.2V212.5H920.1V214.9H921V237.2H921.9V217.2H922.8V234.4H923.6V201.3H924.5V232.4H925.4V237.8H926.3V247.1H927.2V240.5H928V232.8H928.9V236.4H929.8V238.3H930.7V232.8H931.5V228H932.4V211.6H933.3V242.8H934.2V231.4H935.1V235.2H935.5" stroke="#2020f0" stroke-width="1.05"/>
<line x1="536.5" y1="225.4" x2="935.5" y2="225.4" stroke="#40f040" stroke-width="1.1"/>
<line x1="536.5" y1="214.92" x2="935.5" y2="214.92" stroke="#60ff60" stroke-width="1.1" stroke-dasharray="3,3"/>
<line x1="536.5" y1="235.47" x2="935.5" y2="235.47" stroke="#60ff60" stroke-width="1.1" stroke-dasharray="3,3"/>
</g>
<g fill="none" stroke="#909090" stroke-width="1">
<rect x="536.5" y="19.5" width="399" height="177"/>
<rect x="536.5" y="204.5" width="399" height="41"/>
<path d="M542.5 196.5v-2.3 M542.5 19.5v2.3 M542.5 245.5v-1.2 M542.5 204.5v1.2 M548.5 196.5v-2.3 M548.5 19.5v2.3 M548.5 245.5v-1.2 M548.5 204.5v1.2 M554.5 196.5v-2.3 M554.5 19.5v2.3 M554.5 245.5v-1.2 M554.5 204.5v1.2 M559.5 196.5v-2.3 M559.5 19.5v2.3 M559.5 245.5v-1.2 M559.5 204.5v1.2 M565.5 196.5v-2.3 M565.5 19.5v2.3 M565.5 245.5v-1.2 M565.5 204.5v1.2 M571.5 196.5v-2.3 M571.5 19.5v2.3 M571.5 245.5v-1.2 M571.5 204.5v1.2 M577.5 196.5v-2.3 M577.5 19.5v2.3 M577.5 245.5v-1.2 M577.5 204.5v1.2 M583.5 196.5v-2.3 M583.5 19.5v2.3 M583.5 245.5v-1.2 M583.5 204.5v1.2 M589.5 196.5v-2.3 M589.5 19.5v2.3 M589.5 245.5v-1.2 M589.5 204.5v1.2 M595.5 196.5v-3.6 M595.5 19.5v3.6 M595.5 245.5v-2 M595.5 204.5v2 M600.5 196.5v-2.3 M600.5 19.5v2.3 M600.5 245.5v-1.2 M600.5 204.5v1.2 M606.5 196.5v-2.3 M606.5 19.5v2.3 M606.5 245.5v-1.2 M606.5 204.5v1.2 M612.5 196.5v-2.3 M612.5 19.5v2.3 M612.5 245.5v-1.2 M612.5 204.5v1.2 M618.5 196.5v-2.3 M618.5 19.5v2.3 M618.5 245.5v-1.2 M618.5 204.5v1.2 M624.5 196.5v-2.3 M624.5 19.5v2.3 M624.5 245.5v-1.2 M624.5 204.5v1.2 M630.5 196.5v-2.3 M630.5 19.5v2.3 M630.5 245.5v-1.2 M630.5 204.5v1.2 M636.5 196.5v-2.3 M636.5 19.5v2.3 M636.5 245.5v-1.2 M636.5 204.5v1.2 M641.5 196.5v-2.3 M641.5 19.5v2.3 M641.5 245.5v-1.2 M641.5 204.5v1.2 M647.5 196.5v-2.3 M647.5 19.5v2.3 M647.5 245.5v-1.2 M647.5 204.5v1.2 M653.5 196.5v-3.6 M653.5 19.5v3.6 M653.5 245.5v-2 M653.5 204.5v2 M659.5 196.5v-2.3 M659.5 19.5v2.3 M659.5 245.5v-1.2 M659.5 204.5v1.2 M665.5 196.5v-2.3 M665.5 19.5v2.3 M665.5 245.5v-1.2 M665.5 204.5v1.2 M671.5 196.5v-2.3 M671.5 19.5v2.3 M671.5 245.5v-1.2 M671.5 204.5v1.2 M677.5 196.5v-2.3 M677.5 19.5v2.3 M677.5 245.5v-1.2 M677.5 204.5v1.2 M682.5 196.5v-2.3 M682.5 19.5v2.3 M682.5 245.5v-1.2 M682.5 204.5v1.2 M688.5 196.5v-2.3 M688.5 19.5v2.3 M688.5 245.5v-1.2 M688.5 204.5v1.2 M694.5 196.5v-2.3 M694.5 19.5v2.3 M694.5 245.5v-1.2 M694.5 204.5v1.2 M700.5 196.5v-2.3 M700.5 19.5v2.3 M700.5 245.5v-1.2 M700.5 204.5v1.2 M706.5 196.5v-2.3 M706.5 19.5v2.3 M706.5 245.5v-1.2 M706.5 204.5v1.2 M712.5 196.5v-3.6 M712.5 19.5v3.6 M712.5 245.5v-2 M712.5 204.5v2 M718.5 196.5v-2.3 M718.5 19.5v2.3 M718.5 245.5v-1.2 M718.5 204.5v1.2 M723.5 196.5v-2.3 M723.5 19.5v2.3 M723.5 245.5v-1.2 M723.5 204.5v1.2 M729.5 196.5v-2.3 M729.5 19.5v2.3 M729.5 245.5v-1.2 M729.5 204.5v1.2 M735.5 196.5v-2.3 M735.5 19.5v2.3 M735.5 245.5v-1.2 M735.5 204.5v1.2 M741.5 196.5v-2.3 M741.5 19.5v2.3 M741.5 245.5v-1.2 M741.5 204.5v1.2 M747.5 196.5v-2.3 M747.5 19.5v2.3 M747.5 245.5v-1.2 M747.5 204.5v1.2 M753.5 196.5v-2.3 M753.5 19.5v2.3 M753.5 245.5v-1.2 M753.5 204.5v1.2 M759.5 196.5v-2.3 M759.5 19.5v2.3 M759.5 245.5v-1.2 M759.5 204.5v1.2 M765.5 196.5v-2.3 M765.5 19.5v2.3 M765.5 245.5v-1.2 M765.5 204.5v1.2 M770.5 196.5v-3.6 M770.5 19.5v3.6 M770.5 245.5v-2 M770.5 204.5v2 M776.5 196.5v-2.3 M776.5 19.5v2.3 M776.5 245.5v-1.2 M776.5 204.5v1.2 M782.5 196.5v-2.3 M782.5 19.5v2.3 M782.5 245.5v-1.2 M782.5 204.5v1.2 M788.5 196.5v-2.3 M788.5 19.5v2.3 M788.5 245.5v-1.2 M788.5 204.5v1.2 M794.5 196.5v-2.3 M794.5 19.5v2.3 M794.5 245.5v-1.2 M794.5 204.5v1.2 M800.5 196.5v-2.3 M800.5 19.5v2.3 M800.5 245.5v-1.2 M800.5 204.5v1.2 M806.5 196.5v-2.3 M806.5 19.5v2.3 M806.5 245.5v-1.2 M806.5 204.5v1.2 M811.5 196.5v-2.3 M811.5 19.5v2.3 M811.5 245.5v-1.2 M811.5 204.5v1.2 M817.5 196.5v-2.3 M817.5 19.5v2.3 M817.5 245.5v-1.2 M817.5 204.5v1.2 M823.5 196.5v-2.3 M823.5 19.5v2.3 M823.5 245.5v-1.2 M823.5 204.5v1.2 M829.5 196.5v-3.6 M829.5 19.5v3.6 M829.5 245.5v-2 M829.5 204.5v2 M835.5 196.5v-2.3 M835.5 19.5v2.3 M835.5 245.5v-1.2 M835.5 204.5v1.2 M841.5 196.5v-2.3 M841.5 19.5v2.3 M841.5 245.5v-1.2 M841.5 204.5v1.2 M847.5 196.5v-2.3 M847.5 19.5v2.3 M847.5 245.5v-1.2 M847.5 204.5v1.2 M852.5 196.5v-2.3 M852.5 19.5v2.3 M852.5 245.5v-1.2 M852.5 204.5v1.2 M858.5 196.5v-2.3 M858.5 19.5v2.3 M858.5 245.5v-1.2 M858.5 204.5v1.2 M864.5 196.5v-2.3 M864.5 19.5v2.3 M864.5 245.5v-1.2 M864.5 204.5v1.2 M870.5 196.5v-2.3 M870.5 19.5v2.3 M870.5 245.5v-1.2 M870.5 204.5v1.2 M876.5 196.5v-2.3 M876.5 19.5v2.3 M876.5 245.5v-1.2 M876.5 204.5v1.2 M882.5 196.5v-2.3 M882.5 19.5v2.3 M882.5 245.5v-1.2 M882.5 204.5v1.2 M888.5 196.5v-3.6 M888.5 19.5v3.6 M888.5 245.5v-2 M888.5 204.5v2 M893.5 196.5v-2.3 M893.5 19.5v2.3 M893.5 245.5v-1.2 M893.5 204.5v1.2 M899.5 196.5v-2.3 M899.5 19.5v2.3 M899.5 245.5v-1.2 M899.5 204.5v1.2 M905.5 196.5v-2.3 M905.5 19.5v2.3 M905.5 245.5v-1.2 M905.5 204.5v1.2 M911.5 196.5v-2.3 M911.5 19.5v2.3 M911.5 245.5v-1.2 M911.5 204.5v1.2 M917.5 196.5v-2.3 M917.5 19.5v2.3 M917.5 245.5v-1.2 M917.5 204.5v1.2 M923.5 196.5v-2.3 M923.5 19.5v2.3 M923.5 245.5v-1.2 M923.5 204.5v1.2 M929.5 196.5v-2.3 M929.5 19.5v2.3 M929.5 245.5v-1.2 M929.5 204.5v1.2 M934.5 196.5v-2.3 M934.5 19.5v2.3 M934.5 245.5v-1.2 M934.5 204.5v1.2 M536.5 193.5h4 M935.5 193.5h-4 M536.5 191.5h4 M935.5 191.5h-4 M536.5 188.5h4 M935.5 188.5h-4 M536.5 185.5h4 M935.5 185.5h-4 M536.5 183.5h4 M935.5 183.5h-4 M536.5 180.5h4 M935.5 180.5h-4 M536.5 178.5h4 M935.5 178.5h-4 M536.5 175.5h4 M935.5 175.5h-4 M536.5 172.5h4 M935.5 172.5h-4 M536.5 170.5h8 M935.5 170.5h-8 M536.5 167.5h4 M935.5 167.5h-4 M536.5 164.5h4 M935.5 164.5h-4 M536.5 162.5h4 M935.5 162.5h-4 M536.5 159.5h4 M935.5 159.5h-4 M536.5 157.5h4 M935.5 157.5h-4 M536.5 154.5h4 M935.5 154.5h-4 M536.5 151.5h4 M935.5 151.5h-4 M536.5 149.5h4 M935.5 149.5h-4 M536.5 146.5h4 M935.5 146.5h-4 M536.5 143.5h8 M935.5 143.5h-8 M536.5 141.5h4 M935.5 141.5h-4 M536.5 138.5h4 M935.5 138.5h-4 M536.5 135.5h4 M935.5 135.5h-4 M536.5 133.5h4 M935.5 133.5h-4 M536.5 130.5h4 M935.5 130.5h-4 M536.5 128.5h4 M935.5 128.5h-4 M536.5 125.5h4 M935.5 125.5h-4 M536.5 122.5h4 M935.5 122.5h-4 M536.5 120.5h4 M935.5 120.5h-4 M536.5 117.5h8 M935.5 117.5h-8 M536.5 114.5h4 M935.5 114.5h-4 M536.5 112.5h4 M935.5 112.5h-4 M536.5 109.5h4 M935.5 109.5h-4 M536.5 107.5h4 M935.5 107.5h-4 M536.5 104.5h4 M935.5 104.5h-4 M536.5 101.5h4 M935.5 101.5h-4 M536.5 99.5h4 M935.5 99.5h-4 M536.5 96.5h4 M935.5 96.5h-4 M536.5 93.5h4 M935.5 93.5h-4 M536.5 91.5h8 M935.5 91.5h-8 M536.5 88.5h4 M935.5 88.5h-4 M536.5 85.5h4 M935.5 85.5h-4 M536.5 83.5h4 M935.5 83.5h-4 M536.5 80.5h4 M935.5 80.5h-4 M536.5 78.5h4 M935.5 78.5h-4 M536.5 75.5h4 M935.5 75.5h-4 M536.5 72.5h4 M935.5 72.5h-4 M536.5 70.5h4 M935.5 70.5h-4 M536.5 67.5h4 M935.5 67.5h-4 M536.5 64.5h8 M935.5 64.5h-8 M536.5 62.5h4 M935.5 62.5h-4 M536.5 59.5h4 M935.5 59.5h-4 M536.5 57.5h4 M935.5 57.5h-4 M536.5 54.5h4 M935.5 54.5h-4 M536.5 51.5h4 M935.5 51.5h-4 M536.5 49.5h4 M935.5 49.5h-4 M536.5 46.5h4 M935.5 46.5h-4 M536.5 43.5h4 M935.5 43.5h-4 M536.5 41.5h4 M935.5 41.5h-4 M536.5 38.5h8 M935.5 38.5h-8 M536.5 35.5h4 M935.5 35.5h-4 M536.5 33.5h4 M935.5 33.5h-4 M536.5 30.5h4 M935.5 30.5h-4 M536.5 28.5h4 M935.5 28.5h-4 M536.5 25.5h4 M935.5 25.5h-4 M536.5 22.5h4 M935.5 22.5h-4 M536.5 20.5h4 M935.5 20.5h-4"/>
</g>
<path d="M536.5 204.5h8M536.5 245.5h8" stroke="#6e6e6e" stroke-width="1.3" fill="none"/>
<line x1="536.5" y1="197" x2="935.5" y2="197" stroke="#2418e8" stroke-width="2"/>
<line x1="536.5" y1="197" x2="935.5" y2="197" stroke="#68009c" stroke-width="2" stroke-dasharray="3,2"/>
<g fill="#8c8c8c" font-family="'DejaVu Sans', 'Liberation Sans', sans-serif">
<text x="531.9" y="197.1" font-size="12.2" text-anchor="end" textLength="7" lengthAdjust="spacingAndGlyphs">0</text>
<text x="531.9" y="175.18" font-size="12.2" text-anchor="end" textLength="14" lengthAdjust="spacingAndGlyphs">10</text>
<text x="531.9" y="148.87" font-size="12.2" text-anchor="end" textLength="14" lengthAdjust="spacingAndGlyphs">20</text>
<text x="531.9" y="122.55" font-size="12.2" text-anchor="end" textLength="14" lengthAdjust="spacingAndGlyphs">30</text>
<text x="531.9" y="96.24" font-size="12.2" text-anchor="end" textLength="14" lengthAdjust="spacingAndGlyphs">40</text>
<text x="531.9" y="69.92" font-size="12.2" text-anchor="end" textLength="14" lengthAdjust="spacingAndGlyphs">50</text>
<text x="531.9" y="43.61" font-size="12.2" text-anchor="end" textLength="14" lengthAdjust="spacingAndGlyphs">60</text>
<text x="532.3" y="213.5" font-size="12.2" text-anchor="end" textLength="7" lengthAdjust="spacingAndGlyphs">2</text>
<text x="532.3" y="230" font-size="12.2" text-anchor="end" textLength="7" lengthAdjust="spacingAndGlyphs">0</text>
<text x="532.3" y="246.5" font-size="12.2" text-anchor="end" textLength="17" lengthAdjust="spacingAndGlyphs">&#8722;2</text>
<text x="536.5" y="263.1" font-size="12.4" text-anchor="middle" textLength="31" lengthAdjust="spacingAndGlyphs">6200</text>
<text x="595.09" y="263.1" font-size="12.4" text-anchor="middle" textLength="31" lengthAdjust="spacingAndGlyphs">6300</text>
<text x="653.68" y="263.1" font-size="12.4" text-anchor="middle" textLength="31" lengthAdjust="spacingAndGlyphs">6400</text>
<text x="712.27" y="263.1" font-size="12.4" text-anchor="middle" textLength="31" lengthAdjust="spacingAndGlyphs">6500</text>
<text x="770.86" y="263.1" font-size="12.4" text-anchor="middle" textLength="31" lengthAdjust="spacingAndGlyphs">6600</text>
<text x="829.45" y="263.1" font-size="12.4" text-anchor="middle" textLength="31" lengthAdjust="spacingAndGlyphs">6700</text>
<text x="888.04" y="263.1" font-size="12.4" text-anchor="middle" textLength="31" lengthAdjust="spacingAndGlyphs">6800</text>
<text x="736" y="277.3" font-size="12" text-anchor="middle" textLength="122.5" lengthAdjust="spacingAndGlyphs">rest wavelength (&#197;)</text>
<text y="34.1" font-size="13.8"><tspan x="540.7" textLength="37.5" lengthAdjust="spacingAndGlyphs">1048</tspan><tspan x="577.4" textLength="13.2" lengthAdjust="spacingAndGlyphs">-</tspan><tspan x="589.4" textLength="46" lengthAdjust="spacingAndGlyphs">52736</tspan><tspan x="634.7" textLength="12.8" lengthAdjust="spacingAndGlyphs">-</tspan><tspan x="646.8" textLength="36.8" lengthAdjust="spacingAndGlyphs">0416</tspan></text>
<text x="541.3" y="51.8" font-size="13.8" textLength="88.5" lengthAdjust="spacingAndGlyphs"><tspan font-size="15">&#967;</tspan><tspan font-size="9" dy="-7">2</tspan><tspan dy="7">/dof~1.10</tspan></text>
<text x="505.3" y="109.2" font-size="12" text-anchor="middle" textLength="135.5" lengthAdjust="spacingAndGlyphs" transform="rotate(-90 505.3 109.2)">F<tspan font-size="8" dy="3">&#955;</tspan><tspan dy="-3"> (10</tspan><tspan font-size="9.5" dy="-5">&#8722;17</tspan><tspan dy="5">erg/s/cm</tspan><tspan font-size="8" dy="-5">2</tspan><tspan dy="5">/&#197;)</tspan></text>
<text x="504.8" y="226" font-size="11.6" text-anchor="middle" textLength="49.7" lengthAdjust="spacingAndGlyphs" transform="rotate(-90 504.8 226)">residuals</text>
</g>
<clipPath id="c2m"><rect x="1011.5" y="19.5" width="398" height="177"/></clipPath>
<clipPath id="c2r"><rect x="1011.5" y="204.5" width="398" height="41"/></clipPath>
<g clip-path="url(#c2m)" fill="none">
<path d="M1011.5 158.8H1011.9V166H1012.8V160.9H1013.7V162.1H1014.6V161.5H1015.4V160.7H1016.3V163.2H1017.2V160H1018.1V160.8H1019V154H1019.8V158.9H1020.7V159.9H1021.6V159.9H1022.5V160.6H1023.3V161.4H1024.2V160.4H1025.1V159.1H1026V160.3H1026.8V158.5H1027.7V160.5H1028.6V160.2H1029.5V157.9H1030.3V159.7H1031.2V161.5H1032.1V161.1H1033V160H1033.9V157.8H1034.7V161.5H1035.6V161.5H1036.5V159.6H1037.4V162.8H1038.2V162H1039.1V160.3H1040V160.9H1040.9V161.7H1041.7V160.8H1042.6V166.4H1043.5V160.1H1044.4V163.2H1045.3V164.2H1046.1V161H1047V160.2H1047.9V162.1H1048.8V163.1H1049.6V161.3H1050.5V161.5H1051.4V159.1H1052.3V160.1H1053.1V160.8H1054V159.1H1054.9V160.9H1055.8V161.8H1056.6V159H1057.5V158.7H1058.4V159.7H1059.3V160.2H1060.2V158.3H1061V162.3H1061.9V156.9H1062.8V156.9H1063.7V160H1064.5V157H1065.4V158.4H1066.3V155.4H1067.2V159.7H1068V157.8H1068.9V155H1069.8V154.2H1070.7V159.5H1071.6V156.8H1072.4V155.6H1073.3V157.3H1074.2V154.2H1075.1V159.1H1075.9V157.3H1076.8V160.2H1077.7V156.9H1078.6V159.8H1079.4V160.9H1080.3V163.4H1081.2V158.2H1082.1V159.7H1082.9V159.7H1083.8V159H1084.7V160.1H1085.6V161.6H1086.5V161.7H1087.3V161.6H1088.2V158H1089.1V162.4H1090V161H1090.8V160.5H1091.7V159.6H1092.6V159.1H1093.5V162H1094.3V162.7H1095.2V159.9H1096.1V157.9H1097V158.4H1097.9V159.1H1098.7V159.7H1099.6V158.5H1100.5V159H1101.4V156.9H1102.2V159.2H1103.1V157.3H1104V157.4H1104.9V156.1H1105.7V156.4H1106.6V152.6H1107.5V154.2H1108.4V154.2H1109.2V159.9H1110.1V157.3H1111V157.9H1111.9V156.2H1112.8V160.9H1113.6V155.6H1114.5V155.9H1115.4V159.9H1116.3V159.5H1117.1V159.4H1118V158.1H1118.9V157.2H1119.8V154.9H1120.6V158.4H1121.5V156.7H1122.4V157.5H1123.3V154.6H1124.1V156H1125V154.8H1125.9V158.7H1126.8V157.3H1127.7V158.4H1128.5V154.9H1129.4V156.4H1130.3V158.1H1131.2V158.5H1132V156.9H1132.9V158.7H1133.8V158.9H1134.7V156.3H1135.5V152.7H1136.4V156.6H1137.3V156.7H1138.2V157.2H1139.1V157.1H1139.9V153.7H1140.8V152.9H1141.7V153.9H1142.6V153.2H1143.4V153.4H1144.3V153.2H1145.2V155.8H1146.1V154H1146.9V153H1147.8V154.3H1148.7V153.7H1149.6V154.1H1150.4V153.1H1151.3V151.1H1152.2V152.9H1153.1V152.4H1154V150.6H1154.8V150.6H1155.7V148.6H1156.6V154.3H1157.5V149.1H1158.3V150.6H1159.2V149H1160.1V147.3H1161V146.3H1161.8V145.9H1162.7V146.9H1163.6V144.3H1164.5V147.1H1165.4V146.6H1166.2V144.9H1167.1V146.7H1168V141.9H1168.9V143.2H1169.7V140.7H1170.6V143.6H1171.5V143.4H1172.4V141.8H1173.2V140.1H1174.1V141.5H1175V139.2H1175.9V139.1H1176.7V135.8H1177.6V138.8H1178.5V135.5H1179.4V137.9H1180.3V138.1H1181.1V137.5H1182V138.2H1182.9V136.1H1183.8V134.6H1184.6V136H1185.5V135.1H1186.4V133.3H1187.3V135.3H1188.1V135H1189V135.4H1189.9V137.1H1190.8V132.8H1191.7V136.4H1192.5V132H1193.4V132.7H1194.3V130.5H1195.2V132.1H1196V133H1196.9V130.9H1197.8V132.1H1198.7V131.2H1199.5V130.6H1200.4V130.7H1201.3V130.7H1202.2V131.7H1203V130.3H1203.9V133H1204.8V129.1H1205.7V130H1206.6V125.3H1207.4V123.9H1208.3V127.7H1209.2V122.7H1210.1V121.3H1210.9V120.7H1211.8V115.8H1212.7V114.9H1213.6V113.8H1214.4V107.4H1215.3V102.4H1216.2V96.3H1217.1V91.8H1218V81.2H1218.8V72.3H1219.7V56H1220.6V43.2H1221.5V41.4H1222.3V41.7H1223.2V37.8H1224.1V40.9H1225V45.9H1225.8V50.3H1226.7V55.3H1227.6V59.5H1228.5V78.2H1229.3V89H1230.2V96H1231.1V94.4H1232V84.6H1232.9V87.5H1233.7V85.9H1234.6V87.8H1235.5V88.5H1236.4V93.3H1237.2V90.8H1238.1V96.8H1239V102.9H1239.9V111.7H1240.7V117.6H1241.6V121.1H1242.5V123H1243.4V125.2H1244.3V125.9H1245.1V127.8H1246V129.8H1246.9V129.3H1247.8V130.3H1248.6V132H1249.5V131.2H1250.4V130.9H1251.3V133.1H1252.1V134.4H1253V132.9H1253.9V131.2H1254.8V134.9H1255.6V135H1256.5V135.4H1257.4V133.6H1258.3V138.9H1259.2V135.8H1260V135H1260.9V138.6H1261.8V135.3H1262.7V137.2H1263.5V139.3H1264.4V138.5H1265.3V141.6H1266.2V140.3H1267V136.8H1267.9V141.4H1268.8V137.2H1269.7V140.6H1270.6V139.1H1271.4V140.8H1272.3V144.7H1273.2V142.3H1274.1V141.4H1274.9V143.8H1275.8V144.5H1276.7V142.1H1277.6V144.2H1278.4V146.4H1279.3V145.4H1280.2V143.5H1281.1V146.3H1281.9V144.6H1282.8V144.2H1283.7V146.9H1284.6V149H1285.5V149.4H1286.3V147.3H1287.2V145.8H1288.1V146.7H1289V146.2H1289.8V147.8H1290.7V146.7H1291.6V148.2H1292.5V148.3H1293.3V150.3H1294.2V151.3H1295.1V150.1H1296V151.8H1296.9V152.3H1297.7V150.3H1298.6V152.1H1299.5V147.8H1300.4V151.3H1301.2V153.9H1302.1V151.7H1303V152.4H1303.9V153.9H1304.7V150.9H1305.6V153.7H1306.5V157H1307.4V150.3H1308.2V151.7H1309.1V147.2H1310V149.3H1310.9V148.9H1311.8V143.6H1312.6V147.4H1313.5V145.8H1314.4V144.7H1315.3V148.1H1316.1V149.6H1317V150.2H1317.9V149.3H1318.8V151.7H1319.6V148.8H1320.5V148.4H1321.4V145.4H1322.3V150.2H1323.1V152.2H1324V151.1H1324.9V154.6H1325.8V155.1H1326.7V156.7H1327.5V156.1H1328.4V159.8H1329.3V159.4H1330.2V163.9H1331V161.6H1331.9V158.1H1332.8V162H1333.7V162.3H1334.5V163.4H1335.4V160.6H1336.3V161.4H1337.2V163.6H1338.1V160.6H1338.9V161.2H1339.8V160.3H1340.7V162.5H1341.6V158.6H1342.4V160.7H1343.3V161.6H1344.2V162.2H1345.1V161.8H1345.9V160H1346.8V161.7H1347.7V159.5H1348.6V160.3H1349.4V159.1H1350.3V159.9H1351.2V161.3H1352.1V164.3H1353V160.9H1353.8V160.1H1354.7V161.2H1355.6V160.6H1356.5V162.3H1357.3V162.2H1358.2V163.2H1359.1V159.6H1360V161.6H1360.8V162.7H1361.7V164.1H1362.6V162.2H1363.5V159.7H1364.4V161.2H1365.2V162.9H1366.1V159.3H1367V159H1367.9V159.4H1368.7V159.4H1369.6V158.5H1370.5V159.2H1371.4V158.6H1372.2V161.1H1373.1V157.4H1374V159.6H1374.9V157H1375.7V163.8H1376.6V159.8H1377.5V159.7H1378.4V162H1379.3V161H1380.1V160.6H1381V160.9H1381.9V162.6H1382.8V161.9H1383.6V159.9H1384.5V159.3H1385.4V161H1386.3V160.9H1387.1V160.6H1388V159.2H1388.9V162.6H1389.8V163.2H1390.7V161.1H1391.5V163.4H1392.4V163H1393.3V162.3H1394.2V162H1395V164.7H1395.9V161.8H1396.8V166H1397.7V162.2H1398.5V165.5H1399.4V164.9H1400.3V161.6H1401.2V163.1H1402V163.5H1402.9V162.7H1403.8V160.9H1404.7V161.5H1405.6V161.1H1406.4V159.1H1407.3V161.6H1408.2V161.1H1409.1V161.1H1409.5" stroke="#2a7f2a" stroke-width="1.45"/>
<path d="M1011.5 161.6l.9 0 .9 0 .8 0 .9 0 .9 0 .9 0 .8 0 .9 0 .9 0 .9 0 .8 0 .9 0 .9 0 .9 0 .8 0 .9 0 .9 0 .9 0 .9 0 .8 0 .9 .1 .9 0 .9 0 .8 0 .9 0 .9 0 .9 0 .8 0 .9 0 .9 0 .9 0 .9 0 .8 0 .9 0 .9 0 .9 0 .8 0 .9 0 .9 0 .9-.1 .8 0 .9 0 .9 0 .9 0 .8-.1 .9 0 .9-.1 .9-.1 .9-.1 .8-.1 .9-.2 .9-.2 .9-.2 .8-.3 .9-.3 .9-.4 .9-.4 .8-.4 .9-.4 .9-.4 .9-.5 .9-.4 .8-.3 .9-.4 .9-.2 .9-.2 .8-.1 .9 .1 .9 0 .9 .2 .8 .3 .9 .3 .9 .3 .9 .4 .8 .4 .9 .4 .9 .4 .9 .4 .9 .4 .8 .3 .9 .3 .9 .2 .9 .2 .8 .2 .9 .1 .9 .1 .9 0 .8 0 .9 0 .9 0 .9 0 .9-.1 .8-.1 .9-.1 .9-.1 .9-.1 .8-.1 .9-.2 .9-.2 .9-.1 .8-.2 .9-.3 .9-.2 .9-.3 .8-.2 .9-.3 .9-.2 .9-.2 .9-.2 .8-.2 .9-.1 .9-.1 .9 0 .8 0 .9 0 .9 .1 .9 .1 .8 .2 .9 .1 .9 .2 .9 .1 .9 .2 .8 .1 .9 .1 .9 .1 .9 .1 .8 0 .9 0 .9 0 .9-.1 .8-.1 .9-.1 .9-.1 .9-.1 .8-.2 .9-.2 .9-.1 .9-.2 .9-.2 .8-.2 .9-.2 .9-.2 .9-.2 .8-.3 .9-.2 .9-.2 .9-.3 .8-.2 .9-.2 .9-.3 .9-.3 .9-.2 .8-.3 .9-.3 .9-.2 .9-.3 .8-.3 .9-.3 .9-.3 .9-.3 .8-.3 .9-.4 .9-.3 .9-.3 .8-.4 .9-.3 .9-.4 .9-.3 .9-.4 .8-.3 .9-.4 .9-.4 .9-.3 .8-.4 .9-.4 .9-.4 .9-.4 .8-.4 .9-.4 .9-.4 .9-.4 .9-.5 .8-.4 .9-.4 .9-.4 .9-.5 .8-.4 .9-.4 .9-.5 .9-.4 .8-.4 .9-.5 .9-.4 .9-.4 .8-.5 .9-.4 .9-.4 .9-.4 .9-.5 .8-.4 .9-.4 .9-.4 .9-.4 .8-.4 .9-.4 .9-.4 .9-.4 .8-.3 .9-.4 .9-.4 .9-.3 .9-.3 .8-.4 .9-.3 .9-.3 .9-.3 .8-.1 .9-.2 .9-.4 .9-.6 .8-.8 .9-.9 .9-1.1 .9-1.3 .8-1.4 .9-1.6 .9-1.8 .9-2 .9-2.2 .8-2.5 .9-3 .9-3.9 .9-4.7 .8-5.6 .9-6.6 .9-7.6 .9-8.8 .8-19.4 .9-12.1 .9-.9 .9-.6 .8-.3 .9 .7 .9 3.1 .9 4.9 .9 6.2 .8 8 .9 14.9 .9 11.3 .9 7.7 .8-2.5 .9-6.1 .9-1.6 .9 .5 .8 1 .9 1.4 .9 1.8 .9 2.2 .9 2.7 .8 6.3 .9 7 .9 6.1 .9 5.4 .8 2.6 .9 1.8 .9 1.5 .9 1.4 .8 1.1 .9 .9 .9 .9 .9 .7 .8 .6 .9 .6 .9 .5 .9 .4 .9 .2 .8 .2 .9 .3 .9 .3 .9 .3 .8 .3 .9 .3 .9 .4 .9 .3 .8 .3 .9 .3 .9 .3 .9 .3 .9 .3 .8 .4 .9 .3 .9 .3 .9 .3 .8 .3 .9 .3 .9 .3 .9 .4 .8 .3 .9 .3 .9 .3 .9 .3 .8 .3 .9 .4 .9 .3 .9 .3 .9 .3 .8 .3 .9 .4 .9 .3 .9 .3 .8 .4 .9 .3 .9 .3 .9 .3 .8 .4 .9 .3 .9 .4 .9 .3 .9 .4 .8 .4 .9 .5 .9 .4 .9 .4 .8 .5 .9 .5 .9 .4 .9 .5 .8 .4 .9 .4 .9 .4 .9 .4 .8 .4 .9 .3 .9 .3 .9 .2 .9 0 .8-.3 .9-.7 .9-1.1 .9-1.4 .8-1.7 .9-1.7 .9-1.4 .9-.7 .8 0 .9 .7 .9 1.1 .9 1.1 .9 .7 .8 .2 .9-.3 .9-.6 .9-.4 .8 0 .9 .7 .9 1.5 .9 1.9 .8 2.1 .9 1.9 .9 1.6 .9 1.2 .8 .8 .9 .4 .9 .3 .9 .2 .9 .1 .8 .1 .9 .1 .9 0 .9 .1 .8 .1 .9 0 .9 .1 .9 0 .8 0 .9 .1 .9 0 .9 0 .9 0 .8 .1 .9 0 .9 0 .9 0 .8 0 .9 0 .9 0 .9 0 .8 0 .9 .1 .9 0 .9 0 .8 0 .9 0 .9 0 .9 0 .9 0 .8 0 .9 0 .9 .1 .9 0 .8 0 .9 0 .9 0 .9 .1 .8 0 .9 0 .9 0 .9 0 .9 0 .8 .1 .9 0 .9 0 .9 0 .8 0 .9 0 .9 0 .9 0 .8 .1 .9 0 .9 0 .9 0 .8 0 .9 0 .9 0 .9 0 .9 0 .8 .1 .9 0 .9 0 .9 0 .8 0 .9 0 .9 0 .9 0 .8 0 .9 .1 .9 0 .9 0 .9 0 .8 0 .9 0 .9 0 .9 .1 .8 0 .9 0 .9 0 .9 0 .8 0 .9 .1 .9 0 .9 0 .8 0 .9 0 .9 .1" stroke="#e8281e" stroke-width="0.9"/>
<path d="M1011.5 161.6l3.5 0 3.5 0 3.5 0 3.5 0 3.5 0 3.5 0 3.5 0 3.6 0 3.5 0 3.5 0 3.5 0 3.5 0 3.5 0 3.5 0 3.5 0 3.5 0 3.5 0 3.5 0 3.5 0 3.5 0 3.5 0 3.5 0 3.6 0 3.5 0 3.5 0 3.5 0 3.5 0 3.5 0 3.5 0 3.5 0 3.5 0 3.5 0 3.5 0 3.5 0 3.5 0 3.5 0 3.5 0 3.6 0 3.5 0 3.5 0 3.5 0 3.5 0 3.5 0 3.5 0 3.5 0 3.5 0 3.5 0 3.5 0 3.5 0 3.5 0 3.5 0 3.5 0 3.6 0 3.5 0 3.5 0 3.5 0 3.5 0 3.5 0 3.5 0 3.5 0 3.5 0 3.5 0 3.5 0 3.5 0 3.5 0 3.5 0 3.5 0 3.5 0 3.6 0 3.5 0 3.5 0 3.5 0 3.5 0 3.5 0 3.5 0 3.5 0 3.5 0 3.5 0 3.5 0 3.5 0 3.5 0 3.5 0 3.5 0 3.6 0 3.5 0 3.5 0 3.5 0 3.5 0 3.5 0 3.5 0 3.5 0 3.5 0 3.5 0 3.5 0 3.5 0 3.5 0 3.5 0 3.5 0 3.6 0 3.5 0 3.5 0 3.5 0 3.5 0 3.5 0 3.5 0 3.5 0 3.5 0 3.5 0 3.5 0 3.5 0 3.5 0 3.5 0 3.5 0" stroke="#40f0ff" stroke-width="1.0" stroke-dasharray="2.5,2"/>
<path d="M1053.6 196.2l.9-.1 .8-.1 .9-.2 .9-.2 .9-.2 .8-.3 .9-.3 .9-.4 .9-.4 .8-.4 .9-.4 .9-.5 .9-.4 .9-.4 .8-.3 .9-.3 .9-.3 .9-.1 .8-.1 .9 0 .9 .1 .9 .2 .8 .2 .9 .4 .9 .3 .9 .5 .8 .4 .9 .4 .9 .4 .9 .4 .9 .4 .8 .4 .9 .3 .9 .2 .9 .3 .8 .1 .9 .2 .9 .1 .9 .1" stroke="#2828ff" stroke-width="1.2"/>
<path d="M1093 196.2l.9-.1 .9-.1 .9-.1 .8-.2 .9-.2 .9-.2 .9-.3 .8-.3 .9-.3 .9-.3 .9-.3 .8-.3 .9-.4 .9-.2 .9-.3 .9-.2 .8-.1 .9-.1 .9 0 .9 0 .8 .1 .9 .2 .9 .2 .9 .3 .8 .3 .9 .3 .9 .4 .9 .3 .9 .3 .8 .3 .9 .3 .9 .2 .9 .2 .8 .2 .9 .2 .9 .1 .9 .1" stroke="#2828ff" stroke-width="1.2"/>
<path d="M1084.3 196.2l1.7-.1 1.8 0 1.7-.1 1.8 0 1.7-.1 1.8-.1 1.7 0 1.8-.1 1.7-.1 1.8-.1 1.7-.1 1.8-.1 1.8-.1 1.7-.2 1.8-.1 1.7-.2 1.8-.1 1.7-.2 1.8-.2 1.7-.2 1.8-.3 1.7-.2 1.8-.3 1.7-.2 1.8-.3 1.7-.3 1.8-.4 1.8-.3 1.7-.4 1.8-.4 1.7-.4 1.8-.4 1.7-.5 1.8-.5 1.7-.5 1.8-.5 1.7-.5 1.8-.6 1.7-.6 1.8-.6 1.7-.6 1.8-.7 1.8-.6 1.7-.7 1.8-.7 1.7-.7 1.8-.8 1.7-.7 1.8-.8 1.7-.7 1.8-.8 1.7-.8 1.8-.8 1.7-.7 1.8-.8 1.7-.8 1.8-.8 1.8-.7 1.7-.8 1.8-.7 1.7-.8 1.8-.7 1.7-.7 1.8-.6 1.7-.7 1.8-.6 1.7-.5 1.8-.6 1.7-.5 1.8-.5 1.7-.4 1.8-.4 1.8-.4 1.7-.3 1.8-.2 1.7-.3 1.8-.1 1.7-.1 1.8-.1 1.7 0 1.8 0 1.7 .1 1.8 .1 1.7 .1 1.8 .3 1.7 .2 1.8 .3 1.8 .4 1.7 .4 1.8 .4 1.7 .5 1.8 .5 1.7 .6 1.8 .5 1.7 .6 1.8 .7 1.7 .6 1.8 .7 1.7 .7 1.8 .8 1.7 .7 1.8 .8 1.8 .7 1.7 .8 1.8 .8 1.7 .8 1.8 .7 1.7 .8 1.8 .8 1.7 .8 1.8 .7 1.7 .8 1.8 .7 1.7 .8 1.8 .7 1.7 .7 1.8 .7 1.8 .6 1.7 .7 1.8 .6 1.7 .6 1.8 .6 1.7 .6 1.8 .5 1.7 .5 1.8 .5 1.7 .5 1.8 .5 1.7 .4 1.8 .4 1.7 .4 1.8 .4 1.8 .3 1.7 .4 1.8 .3 1.7 .3 1.8 .2 1.7 .3 1.8 .2 1.7 .3 1.8 .2 1.7 .2 1.8 .2 1.7 .1 1.8 .2 1.7 .1 1.8 .2 1.8 .1 1.7 .1 1.8 .1 1.7 .1 1.8 .1 1.7 .1 1.8 0 1.7 .1 1.8 .1 1.7 0 1.8 .1 1.7 0 1.8 .1" stroke="#30f030" stroke-width="1.4"/>
<path d="M1214.9 196.2l.9-.8 .8-2.5 .9-6.1 .9-12 .9-18.6 .8-21.9 .9-17.7 .9-5.6 .9 9.4 .8 19.7 .9 21.6 .9 17 .9 10.2 .9 4.9 .8 1.9 .9 .6" stroke="#2828ff" stroke-width="1.2" stroke-dasharray="2.5,2"/>
<path d="M1220.1 196.3l.9-.6 .9-2.5 .9-6.7 .8-13.5 .9-19.7 .9-18.6 .9-7 .9 9.1 .8 19.3 .9 19.1 .9 12.6 .9 5.9 .8 2.1 .9 .6" stroke="#ff2020" stroke-width="1.2" stroke-dasharray="2.5,2"/>
<path d="M1204.4 196.3l.8-.2 .9-.4 .9-.6 .9-.9 .8-1.4 .9-1.7 .9-2.1 .9-2.3 .9-2.2 .8-1.8 .9-1.1 .9-.3 .9 .7 .8 1.6 .9 2 .9 2.3 .9 2.2 .8 1.9 .9 1.6 .9 1.1 .9 .8 .8 .4 .9 .3" stroke="#8020b0" stroke-width="1.2" stroke-dasharray="2.5,2"/>
<path d="M1224.5 196.2l.9-.4 .9-.7 .9-1.2 .8-2 .9-3 .9-4.2 .9-5.4 .8-6.4 .9-6.7 .9-6.4 .9-4.9 .8-2.8 .9-.1 .9 2.6 .9 4.9 .9 6.2 .8 6.8 .9 6.4 .9 5.5 .9 4.3 .8 3 .9 2.1 .9 1.2 .9 .8 .8 .4" stroke="#8020b0" stroke-width="1.2" stroke-dasharray="2.5,2"/>
<path d="M1305.2 196.3l.9-.2 .8-.5 .9-.7 .9-1 .9-1.4 .8-1.6 .9-1.5 .9-1.2 .9-.6 .8 .3 .9 .9 .9 1.5 .9 1.6 .9 1.5 .8 1.1 .9 .9 .9 .5 .9 .3" stroke="#8020b0" stroke-width="1.2" stroke-dasharray="2.5,2"/>
<path d="M1313.9 196.3l.9-.2 .9-.4 .9-.7 .9-1 .8-1.3 .9-1.6 .9-1.6 .9-1.2 .8-.6 .9 .1 .9 .9 .9 1.4 .8 1.6 .9 1.5 .9 1.2 .9 .9 .8 .6 .9 .3" stroke="#8020b0" stroke-width="1.2" stroke-dasharray="2.5,2"/>
</g>
<g clip-path="url(#c2r)" fill="none">
<path d="M1011.5 207.9H1011.9V253.7H1012.8V220.9H1013.7V228.5H1014.6V224.6H1015.4V219.3H1016.3V235.4H1017.2V214.9H1018.1V220.1H1019V176.2H1019.8V208H1020.7V214.4H1021.6V214.3H1022.5V219H1023.3V223.7H1024.2V217.5H1025.1V209H1026V216.9H1026.8V205.1H1027.7V217.8H1028.6V216.2H1029.5V201.4H1030.3V212.6H1031.2V224.2H1032.1V221.5H1033V214.6H1033.9V200.8H1034.7V224.1H1035.6V224.5H1036.5V212.4H1037.4V232.9H1038.2V227.7H1039.1V216.5H1040V220.4H1040.9V225.8H1041.7V219.9H1042.6V255.7H1043.5V215.5H1044.4V235.2H1045.3V241.8H1046.1V221.1H1047V216.4H1047.9V228.2H1048.8V234.8H1049.6V223.8H1050.5V224.9H1051.4V210H1052.3V216.6H1053.1V221.9H1054V211.7H1054.9V224.4H1055.8V230.9H1056.6V214.5H1057.5V213.9H1058.4V221.8H1059.3V227.6H1060.2V217.3H1061V245.8H1061.9V213.5H1062.8V216.2H1063.7V239H1064.5V222.5H1065.4V234.1H1066.3V217.4H1067.2V247H1068V236.1H1068.9V219.5H1069.8V214.8H1070.7V248.6H1071.6V231H1072.4V222.1H1073.3V231.6H1074.2V209.3H1075.1V238.9H1075.9V224.3H1076.8V240.4H1077.7V216.8H1078.6V232.9H1079.4V237.3H1080.3V251.2H1081.2V215.5H1082.1V223.9H1082.9V222.2H1083.8V216.4H1084.7V222.6H1085.6V231.1H1086.5V231.3H1087.3V230.2H1088.2V206.9H1089.1V235.6H1090V226.5H1090.8V223.8H1091.7V218.5H1092.6V215.4H1093.5V234.8H1094.3V240.4H1095.2V223H1096.1V210.6H1097V215.3H1097.9V220.7H1098.7V225.8H1099.6V219H1100.5V223.9H1101.4V212.3H1102.2V228.3H1103.1V218.2H1104V220.3H1104.9V213.4H1105.7V216.9H1106.6V193.3H1107.5V204.8H1108.4V205.6H1109.2V243H1110.1V226.4H1111V230.1H1111.9V219.1H1112.8V248.8H1113.6V213.6H1114.5V215H1115.4V239.5H1116.3V236.1H1117.1V234.1H1118V225H1118.9V218.2H1119.8V202.8H1120.6V224.7H1121.5V213.2H1122.4V217.8H1123.3V199.7H1124.1V208.9H1125V201.7H1125.9V226.9H1126.8V218.7H1127.7V226.7H1128.5V204.8H1129.4V215.9H1130.3V227.9H1131.2V231.2H1132V222.6H1132.9V235.2H1133.8V237.4H1134.7V222.1H1135.5V200.5H1136.4V227.1H1137.3V228.9H1138.2V233.9H1139.1V234.4H1139.9V214.3H1140.8V210.4H1141.7V218.9H1142.6V215.8H1143.4V218.7H1144.3V219.3H1145.2V237.6H1146.1V227.8H1146.9V223.1H1147.8V233.4H1148.7V231.3H1149.6V235.7H1150.4V231.7H1151.3V220.4H1152.2V234.3H1153.1V232.7H1154V223.5H1154.8V225.8H1155.7V215.1H1156.6V253.7H1157.5V222.3H1158.3V234.6H1159.2V226.5H1160.1V217.6H1161V213.7H1161.8V213.4H1162.7V222.5H1163.6V208.1H1164.5V228.6H1165.4V228.3H1166.2V219.6H1167.1V233.9H1168V205.7H1168.9V216.6H1169.7V203.3H1170.6V224.2H1171.5V226H1172.4V218.3H1173.2V210.3H1174.1V221.8H1175V209.8H1175.9V211.9H1176.7V193.4H1177.6V215.7H1178.5V197.5H1179.4V215.2H1180.3V219.6H1181.1V218.8H1182V226H1182.9V214.8H1183.8V208.2H1184.6V219.6H1185.5V216.9H1186.4V208.1H1187.3V223.1H1188.1V224.4H1189V229.2H1189.9V242.6H1190.8V217.6H1191.7V243H1192.5V217.6H1193.4V224.2H1194.3V212.5H1195.2V225H1196V233.3H1196.9V221.6H1197.8V231.7H1198.7V228.2H1199.5V226.3H1200.4V228.5H1201.3V229.5H1202.2V236.7H1203V230.8H1203.9V251.7H1204.8V232.2H1205.7V243.8H1206.6V220.6H1207.4V219.5H1208.3V252.9H1209.2V231.2H1210.1V233.7H1210.9V242.7H1211.8V225.7H1212.7V235.2H1213.6V247.9H1214.4V231.6H1215.3V229.7H1216.2V226.6H1217.1V240.2H1218V221.2H1218.8V220.3H1219.7V240.2H1220.6V235.7H1221.5V230.3H1222.3V235.7H1223.2V212.1H1224.1V227.9H1225V240.2H1225.8V237.4H1226.7V229.3H1227.6V204.5H1228.5V229.5H1229.3V226H1230.2V221.7H1231.1V227.2H1232V203.1H1232.9V232H1233.7V218.9H1234.6V225H1235.5V220.5H1236.4V239.5H1237.2V209.8H1238.1V230.1H1239V229.5H1239.9V240.6H1240.7V239.5H1241.6V226.9H1242.5V223H1243.4V225.2H1244.3V219.8H1245.1V223.7H1246V229.4H1246.9V219.6H1247.8V221H1248.6V227.3H1249.5V218.4H1250.4V212.5H1251.3V223.4H1252.1V229.5H1253V218.4H1253.9V206.1H1254.8V227.7H1255.6V226.6H1256.5V227.3H1257.4V213.7H1258.3V246H1259.2V224.1H1260V216.3H1260.9V237.7H1261.8V214.6H1262.7V224.9H1263.5V236.4H1264.4V228.8H1265.3V246.8H1266.2V236.7H1267V211.8H1267.9V239.4H1268.8V210.7H1269.7V230.1H1270.6V218.5H1271.4V227.8H1272.3V250.9H1273.2V233.3H1274.1V225.2H1274.9V238.8H1275.8V240.9H1276.7V223.7H1277.6V235H1278.4V247.1H1279.3V238.4H1280.2V224.5H1281.1V240.3H1281.9V227.5H1282.8V222.5H1283.7V238.2H1284.6V249.6H1285.5V249.8H1286.3V234.4H1287.2V222.4H1288.1V225.9H1289V220.3H1289.8V228.3H1290.7V218.8H1291.6V225.6H1292.5V223.5H1293.3V233.6H1294.2V237.1H1295.1V227H1296V234.9H1296.9V234.9H1297.7V219.4H1298.6V228.3H1299.5V197.3H1300.4V217.2H1301.2V231.8H1302.1V215.3H1303V217.3H1303.9V225.6H1304.7V205.2H1305.6V223.2H1306.5V246.2H1307.4V206.9H1308.2V222.9H1309.1V203.4H1310V228.1H1310.9V236.4H1311.8V211.1H1312.6V240.6H1313.5V229.5H1314.4V218.2H1315.3V233.2H1316.1V236.1H1317V235H1317.9V228H1318.8V245.3H1319.6V230.8H1320.5V230.6H1321.4V211.5H1322.3V237.3H1323.1V241.1H1324V221.6H1324.9V230.8H1325.8V221.5H1326.7V221.5H1327.5V209.9H1328.4V228.7H1329.3V223.6H1330.2V250.3H1331V234.8H1331.9V211.5H1332.8V236H1333.7V237.5H1334.5V243.7H1335.4V225.7H1336.3V230H1337.2V243.8H1338.1V224.2H1338.9V227.8H1339.8V222H1340.7V235.8H1341.6V210.7H1342.4V224.1H1343.3V229.3H1344.2V233.4H1345.1V230.4H1345.9V218.8H1346.8V230.2H1347.7V216H1348.6V220.8H1349.4V212.7H1350.3V218.2H1351.2V227.3H1352.1V246.6H1353V224.1H1353.8V219.4H1354.7V226.3H1355.6V222.5H1356.5V233.4H1357.3V232.8H1358.2V238.8H1359.1V215.4H1360V228.1H1360.8V235.2H1361.7V244.1H1362.6V232.1H1363.5V215.5H1364.4V225H1365.2V236.2H1366.1V212.5H1367V210.6H1367.9V213H1368.7V212.7H1369.6V206.8H1370.5V211.4H1371.4V207.8H1372.2V223.3H1373.1V200H1374V214H1374.9V197H1375.7V240.8H1376.6V214.6H1377.5V213.8H1378.4V229.1H1379.3V222.1H1380.1V219.7H1381V221.5H1381.9V232.6H1382.8V227.7H1383.6V214.6H1384.5V210.8H1385.4V221.7H1386.3V220.9H1387.1V218.9H1388V209.9H1388.9V231.7H1389.8V235.5H1390.7V222.1H1391.5V237H1392.4V234.1H1393.3V229.5H1394.2V227.4H1395V244.8H1395.9V226.2H1396.8V252.8H1397.7V228.5H1398.5V249.6H1399.4V245.4H1400.3V224.5H1401.2V234H1402V236.4H1402.9V231H1403.8V219.6H1404.7V222.8H1405.6V220.3H1406.4V207.1H1407.3V223.6H1408.2V219.8H1409.1V219.5H1409.5" stroke="#2020f0" stroke-width="1.05"/>
<line x1="1011.5" y1="225.4" x2="1409.5" y2="225.4" stroke="#40f040" stroke-width="1.1"/>
<line x1="1011.5" y1="214.92" x2="1409.5" y2="214.92" stroke="#60ff60" stroke-width="1.1" stroke-dasharray="3,3"/>
<line x1="1011.5" y1="235.47" x2="1409.5" y2="235.47" stroke="#60ff60" stroke-width="1.1" stroke-dasharray="3,3"/>
</g>
<g fill="none" stroke="#909090" stroke-width="1">
<rect x="1011.5" y="19.5" width="398" height="177"/>
<rect x="1011.5" y="204.5" width="398" height="41"/>
<path d="M1017.5 196.5v-2.3 M1017.5 19.5v2.3 M1017.5 245.5v-1.2 M1017.5 204.5v1.2 M1023.5 196.5v-2.3 M1023.5 19.5v2.3 M1023.5 245.5v-1.2 M1023.5 204.5v1.2 M1029.5 196.5v-2.3 M1029.5 19.5v2.3 M1029.5 245.5v-1.2 M1029.5 204.5v1.2 M1034.5 196.5v-2.3 M1034.5 19.5v2.3 M1034.5 245.5v-1.2 M1034.5 204.5v1.2 M1040.5 196.5v-2.3 M1040.5 19.5v2.3 M1040.5 245.5v-1.2 M1040.5 204.5v1.2 M1046.5 196.5v-2.3 M1046.5 19.5v2.3 M1046.5 245.5v-1.2 M1046.5 204.5v1.2 M1052.5 196.5v-2.3 M1052.5 19.5v2.3 M1052.5 245.5v-1.2 M1052.5 204.5v1.2 M1058.5 196.5v-2.3 M1058.5 19.5v2.3 M1058.5 245.5v-1.2 M1058.5 204.5v1.2 M1064.5 196.5v-2.3 M1064.5 19.5v2.3 M1064.5 245.5v-1.2 M1064.5 204.5v1.2 M1069.5 196.5v-3.6 M1069.5 19.5v3.6 M1069.5 245.5v-2 M1069.5 204.5v2 M1075.5 196.5v-2.3 M1075.5 19.5v2.3 M1075.5 245.5v-1.2 M1075.5 204.5v1.2 M1081.5 196.5v-2.3 M1081.5 19.5v2.3 M1081.5 245.5v-1.2 M1081.5 204.5v1.2 M1087.5 196.5v-2.3 M1087.5 19.5v2.3 M1087.5 245.5v-1.2 M1087.5 204.5v1.2 M1093.5 196.5v-2.3 M1093.5 19.5v2.3 M1093.5 245.5v-1.2 M1093.5 204.5v1.2 M1099.5 196.5v-2.3 M1099.5 19.5v2.3 M1099.5 245.5v-1.2 M1099.5 204.5v1.2 M1105.5 196.5v-2.3 M1105.5 19.5v2.3 M1105.5 245.5v-1.2 M1105.5 204.5v1.2 M1110.5 196.5v-2.3 M1110.5 19.5v2.3 M1110.5 245.5v-1.2 M1110.5 204.5v1.2 M1116.5 196.5v-2.3 M1116.5 19.5v2.3 M1116.5 245.5v-1.2 M1116.5 204.5v1.2 M1122.5 196.5v-2.3 M1122.5 19.5v2.3 M1122.5 245.5v-1.2 M1122.5 204.5v1.2 M1128.5 196.5v-3.6 M1128.5 19.5v3.6 M1128.5 245.5v-2 M1128.5 204.5v2 M1134.5 196.5v-2.3 M1134.5 19.5v2.3 M1134.5 245.5v-1.2 M1134.5 204.5v1.2 M1140.5 196.5v-2.3 M1140.5 19.5v2.3 M1140.5 245.5v-1.2 M1140.5 204.5v1.2 M1145.5 196.5v-2.3 M1145.5 19.5v2.3 M1145.5 245.5v-1.2 M1145.5 204.5v1.2 M1151.5 196.5v-2.3 M1151.5 19.5v2.3 M1151.5 245.5v-1.2 M1151.5 204.5v1.2 M1157.5 196.5v-2.3 M1157.5 19.5v2.3 M1157.5 245.5v-1.2 M1157.5 204.5v1.2 M1163.5 196.5v-2.3 M1163.5 19.5v2.3 M1163.5 245.5v-1.2 M1163.5 204.5v1.2 M1169.5 196.5v-2.3 M1169.5 19.5v2.3 M1169.5 245.5v-1.2 M1169.5 204.5v1.2 M1175.5 196.5v-2.3 M1175.5 19.5v2.3 M1175.5 245.5v-1.2 M1175.5 204.5v1.2 M1180.5 196.5v-2.3 M1180.5 19.5v2.3 M1180.5 245.5v-1.2 M1180.5 204.5v1.2 M1186.5 196.5v-3.6 M1186.5 19.5v3.6 M1186.5 245.5v-2 M1186.5 204.5v2 M1192.5 196.5v-2.3 M1192.5 19.5v2.3 M1192.5 245.5v-1.2 M1192.5 204.5v1.2 M1198.5 196.5v-2.3 M1198.5 19.5v2.3 M1198.5 245.5v-1.2 M1198.5 204.5v1.2 M1204.5 196.5v-2.3 M1204.5 19.5v2.3 M1204.5 245.5v-1.2 M1204.5 204.5v1.2 M1210.5 196.5v-2.3 M1210.5 19.5v2.3 M1210.5 245.5v-1.2 M1210.5 204.5v1.2 M1216.5 196.5v-2.3 M1216.5 19.5v2.3 M1216.5 245.5v-1.2 M1216.5 204.5v1.2 M1221.5 196.5v-2.3 M1221.5 19.5v2.3 M1221.5 245.5v-1.2 M1221.5 204.5v1.2 M1227.5 196.5v-2.3 M1227.5 19.5v2.3 M1227.5 245.5v-1.2 M1227.5 204.5v1.2 M1233.5 196.5v-2.3 M1233.5 19.5v2.3 M1233.5 245.5v-1.2 M1233.5 204.5v1.2 M1239.5 196.5v-2.3 M1239.5 19.5v2.3 M1239.5 245.5v-1.2 M1239.5 204.5v1.2 M1245.5 196.5v-3.6 M1245.5 19.5v3.6 M1245.5 245.5v-2 M1245.5 204.5v2 M1251.5 196.5v-2.3 M1251.5 19.5v2.3 M1251.5 245.5v-1.2 M1251.5 204.5v1.2 M1256.5 196.5v-2.3 M1256.5 19.5v2.3 M1256.5 245.5v-1.2 M1256.5 204.5v1.2 M1262.5 196.5v-2.3 M1262.5 19.5v2.3 M1262.5 245.5v-1.2 M1262.5 204.5v1.2 M1268.5 196.5v-2.3 M1268.5 19.5v2.3 M1268.5 245.5v-1.2 M1268.5 204.5v1.2 M1274.5 196.5v-2.3 M1274.5 19.5v2.3 M1274.5 245.5v-1.2 M1274.5 204.5v1.2 M1280.5 196.5v-2.3 M1280.5 19.5v2.3 M1280.5 245.5v-1.2 M1280.5 204.5v1.2 M1286.5 196.5v-2.3 M1286.5 19.5v2.3 M1286.5 245.5v-1.2 M1286.5 204.5v1.2 M1292.5 196.5v-2.3 M1292.5 19.5v2.3 M1292.5 245.5v-1.2 M1292.5 204.5v1.2 M1297.5 196.5v-2.3 M1297.5 19.5v2.3 M1297.5 245.5v-1.2 M1297.5 204.5v1.2 M1303.5 196.5v-3.6 M1303.5 19.5v3.6 M1303.5 245.5v-2 M1303.5 204.5v2 M1309.5 196.5v-2.3 M1309.5 19.5v2.3 M1309.5 245.5v-1.2 M1309.5 204.5v1.2 M1315.5 196.5v-2.3 M1315.5 19.5v2.3 M1315.5 245.5v-1.2 M1315.5 204.5v1.2 M1321.5 196.5v-2.3 M1321.5 19.5v2.3 M1321.5 245.5v-1.2 M1321.5 204.5v1.2 M1327.5 196.5v-2.3 M1327.5 19.5v2.3 M1327.5 245.5v-1.2 M1327.5 204.5v1.2 M1332.5 196.5v-2.3 M1332.5 19.5v2.3 M1332.5 245.5v-1.2 M1332.5 204.5v1.2 M1338.5 196.5v-2.3 M1338.5 19.5v2.3 M1338.5 245.5v-1.2 M1338.5 204.5v1.2 M1344.5 196.5v-2.3 M1344.5 19.5v2.3 M1344.5 245.5v-1.2 M1344.5 204.5v1.2 M1350.5 196.5v-2.3 M1350.5 19.5v2.3 M1350.5 245.5v-1.2 M1350.5 204.5v1.2 M1356.5 196.5v-2.3 M1356.5 19.5v2.3 M1356.5 245.5v-1.2 M1356.5 204.5v1.2 M1362.5 196.5v-3.6 M1362.5 19.5v3.6 M1362.5 245.5v-2 M1362.5 204.5v2 M1368.5 196.5v-2.3 M1368.5 19.5v2.3 M1368.5 245.5v-1.2 M1368.5 204.5v1.2 M1373.5 196.5v-2.3 M1373.5 19.5v2.3 M1373.5 245.5v-1.2 M1373.5 204.5v1.2 M1379.5 196.5v-2.3 M1379.5 19.5v2.3 M1379.5 245.5v-1.2 M1379.5 204.5v1.2 M1385.5 196.5v-2.3 M1385.5 19.5v2.3 M1385.5 245.5v-1.2 M1385.5 204.5v1.2 M1391.5 196.5v-2.3 M1391.5 19.5v2.3 M1391.5 245.5v-1.2 M1391.5 204.5v1.2 M1397.5 196.5v-2.3 M1397.5 19.5v2.3 M1397.5 245.5v-1.2 M1397.5 204.5v1.2 M1403.5 196.5v-2.3 M1403.5 19.5v2.3 M1403.5 245.5v-1.2 M1403.5 204.5v1.2 M1408.5 196.5v-2.3 M1408.5 19.5v2.3 M1408.5 245.5v-1.2 M1408.5 204.5v1.2 M1011.5 186.5h4 M1409.5 186.5h-4 M1011.5 176.5h4 M1409.5 176.5h-4 M1011.5 166.5h4 M1409.5 166.5h-4 M1011.5 157.5h8 M1409.5 157.5h-8 M1011.5 147.5h4 M1409.5 147.5h-4 M1011.5 137.5h4 M1409.5 137.5h-4 M1011.5 127.5h4 M1409.5 127.5h-4 M1011.5 117.5h8 M1409.5 117.5h-8 M1011.5 107.5h4 M1409.5 107.5h-4 M1011.5 97.5h4 M1409.5 97.5h-4 M1011.5 87.5h4 M1409.5 87.5h-4 M1011.5 78.5h8 M1409.5 78.5h-8 M1011.5 68.5h4 M1409.5 68.5h-4 M1011.5 58.5h4 M1409.5 58.5h-4 M1011.5 48.5h4 M1409.5 48.5h-4 M1011.5 38.5h8 M1409.5 38.5h-8 M1011.5 28.5h4 M1409.5 28.5h-4"/>
</g>
<path d="M1011.5 204.5h8M1011.5 245.5h8" stroke="#6e6e6e" stroke-width="1.3" fill="none"/>
<line x1="1011.5" y1="197" x2="1409.5" y2="197" stroke="#2418e8" stroke-width="2"/>
<line x1="1011.5" y1="197" x2="1409.5" y2="197" stroke="#68009c" stroke-width="2" stroke-dasharray="3,2"/>
<g fill="#8c8c8c" font-family="'DejaVu Sans', 'Liberation Sans', sans-serif">
<text x="1006.9" y="197.1" font-size="12.2" text-anchor="end" textLength="7" lengthAdjust="spacingAndGlyphs">0</text>
<text x="1006.9" y="162.04" font-size="12.2" text-anchor="end" textLength="14" lengthAdjust="spacingAndGlyphs">20</text>
<text x="1006.9" y="122.57" font-size="12.2" text-anchor="end" textLength="14" lengthAdjust="spacingAndGlyphs">40</text>
<text x="1006.9" y="83.11" font-size="12.2" text-anchor="end" textLength="14" lengthAdjust="spacingAndGlyphs">60</text>
<text x="1006.9" y="43.64" font-size="12.2" text-anchor="end" textLength="14" lengthAdjust="spacingAndGlyphs">80</text>
<text x="1007.3" y="213.5" font-size="12.2" text-anchor="end" textLength="7" lengthAdjust="spacingAndGlyphs">2</text>
<text x="1007.3" y="230" font-size="12.2" text-anchor="end" textLength="7" lengthAdjust="spacingAndGlyphs">0</text>
<text x="1007.3" y="246.5" font-size="12.2" text-anchor="end" textLength="17" lengthAdjust="spacingAndGlyphs">&#8722;2</text>
<text x="1011.5" y="263.1" font-size="12.4" text-anchor="middle" textLength="31" lengthAdjust="spacingAndGlyphs">6200</text>
<text x="1069.94" y="263.1" font-size="12.4" text-anchor="middle" textLength="31" lengthAdjust="spacingAndGlyphs">6300</text>
<text x="1128.39" y="263.1" font-size="12.4" text-anchor="middle" textLength="31" lengthAdjust="spacingAndGlyphs">6400</text>
<text x="1186.83" y="263.1" font-size="12.4" text-anchor="middle" textLength="31" lengthAdjust="spacingAndGlyphs">6500</text>
<text x="1245.27" y="263.1" font-size="12.4" text-anchor="middle" textLength="31" lengthAdjust="spacingAndGlyphs">6600</text>
<text x="1303.72" y="263.1" font-size="12.4" text-anchor="middle" textLength="31" lengthAdjust="spacingAndGlyphs">6700</text>
<text x="1362.16" y="263.1" font-size="12.4" text-anchor="middle" textLength="31" lengthAdjust="spacingAndGlyphs">6800</text>
<text x="1210.5" y="277.3" font-size="12" text-anchor="middle" textLength="122.5" lengthAdjust="spacingAndGlyphs">rest wavelength (&#197;)</text>
<text y="34.1" font-size="13.8"><tspan x="1015.7" textLength="37.5" lengthAdjust="spacingAndGlyphs">1679</tspan><tspan x="1052.4" textLength="13.2" lengthAdjust="spacingAndGlyphs">-</tspan><tspan x="1064.4" textLength="46" lengthAdjust="spacingAndGlyphs">53149</tspan><tspan x="1109.7" textLength="12.8" lengthAdjust="spacingAndGlyphs">-</tspan><tspan x="1121.8" textLength="36.8" lengthAdjust="spacingAndGlyphs">0532</tspan></text>
<text x="1016.3" y="51.8" font-size="13.8" textLength="88.5" lengthAdjust="spacingAndGlyphs"><tspan font-size="15">&#967;</tspan><tspan font-size="9" dy="-7">2</tspan><tspan dy="7">/dof~1.50</tspan></text>
<text x="980.3" y="109.2" font-size="12" text-anchor="middle" textLength="135.5" lengthAdjust="spacingAndGlyphs" transform="rotate(-90 980.3 109.2)">F<tspan font-size="8" dy="3">&#955;</tspan><tspan dy="-3"> (10</tspan><tspan font-size="9.5" dy="-5">&#8722;17</tspan><tspan dy="5">erg/s/cm</tspan><tspan font-size="8" dy="-5">2</tspan><tspan dy="5">/&#197;)</tspan></text>
<text x="979.8" y="226" font-size="11.6" text-anchor="middle" textLength="49.7" lengthAdjust="spacingAndGlyphs" transform="rotate(-90 979.8 226)">residuals</text>
</g>
<clipPath id="c3m"><rect x="62.5" y="294.5" width="399" height="177"/></clipPath>
<clipPath id="c3r"><rect x="62.5" y="479.5" width="399" height="41"/></clipPath>
<g clip-path="url(#c3m)" fill="none">
<path d="M62.5 436H62.9V434.8H63.8V429.9H64.7V432.8H65.6V439.2H66.5V435H67.3V436.8H68.2V434.9H69.1V439.7H70V434.7H70.8V434.7H71.7V431H72.6V434.3H73.5V433.6H74.4V438.9H75.2V428.5H76.1V439.5H77V431H77.9V434.6H78.8V435.8H79.6V435H80.5V434.9H81.4V432H82.3V433.4H83.2V429.1H84V438.1H84.9V433.1H85.8V435.4H86.7V430.6H87.5V438.2H88.4V433.1H89.3V431.5H90.2V436H91.1V429.4H91.9V431.8H92.8V429.8H93.7V430.4H94.6V436H95.5V435.9H96.3V434.7H97.2V432.4H98.1V432.3H99V436.7H99.9V436.5H100.7V437.1H101.6V436.6H102.5V435.6H103.4V435.3H104.2V429.3H105.1V436.1H106V435.5H106.9V433.4H107.8V437.1H108.6V435.5H109.5V434.3H110.4V432.1H111.3V437.6H112.2V430H113V434.3H113.9V432.5H114.8V430.2H115.7V430.3H116.5V428.9H117.4V430.9H118.3V431.2H119.2V430.1H120.1V433.6H120.9V427.6H121.8V433H122.7V434.4H123.6V425.5H124.5V431.6H125.3V434.6H126.2V426.5H127.1V432.5H128V428.8H128.9V434H129.7V432.6H130.6V436.6H131.5V437.4H132.4V435H133.2V432.8H134.1V430.6H135V426.4H135.9V435.9H136.8V430.5H137.6V434.9H138.5V433.8H139.4V437.5H140.3V437.6H141.2V435.9H142V437.2H142.9V434.2H143.8V436.3H144.7V431.2H145.6V434.3H146.4V434.3H147.3V431.5H148.2V433H149.1V434.3H149.9V434.3H150.8V434.2H151.7V431H152.6V431.9H153.5V433.3H154.3V432.4H155.2V436.2H156.1V433.5H157V438.8H157.9V431.1H158.7V434.2H159.6V433.5H160.5V431.9H161.4V433H162.2V433.2H163.1V428.9H164V431.6H164.9V434.4H165.8V430.9H166.6V436.9H167.5V428.1H168.4V433.4H169.3V433.1H170.2V427.4H171V428H171.9V433.7H172.8V432.4H173.7V431.3H174.6V429.7H175.4V434.6H176.3V433.7H177.2V430.6H178.1V432.8H178.9V431.1H179.8V431H180.7V435.2H181.6V433.9H182.5V438.3H183.3V431.4H184.2V426.8H185.1V433.2H186V426.7H186.9V427.3H187.7V430.1H188.6V430H189.5V429.8H190.4V432.2H191.3V430.5H192.1V429.6H193V427.6H193.9V426.8H194.8V430.6H195.6V426H196.5V430.1H197.4V428.1H198.3V426.3H199.2V427.1H200V426.9H200.9V425.4H201.8V427.1H202.7V426.7H203.6V424.8H204.4V420.9H205.3V423H206.2V416.8H207.1V420.5H208V428.4H208.8V420.7H209.7V414.2H210.6V417.9H211.5V418.3H212.3V418.6H213.2V411.9H214.1V412.1H215V412.3H215.9V412.4H216.7V409.1H217.6V410.4H218.5V415.6H219.4V409.9H220.3V411.2H221.1V411.8H222V409.2H222.9V411H223.8V418.7H224.6V406.1H225.5V407H226.4V409.4H227.3V409.3H228.2V406.8H229V409.9H229.9V404.6H230.8V404.9H231.7V404H232.6V404.3H233.4V402.5H234.3V396.5H235.2V394.9H236.1V396.2H237V396.9H237.8V398.5H238.7V393.6H239.6V390.7H240.5V398.8H241.3V390.7H242.2V399.1H243.1V393.6H244V391H244.9V395.2H245.7V395.2H246.6V390.2H247.5V388H248.4V391.4H249.3V386.2H250.1V391.6H251V384.2H251.9V388H252.8V386.8H253.7V384.7H254.5V384.4H255.4V379H256.3V377.2H257.2V380.8H258V381.9H258.9V383.7H259.8V381.3H260.7V377.6H261.6V376H262.4V373.7H263.3V371.5H264.2V368.2H265.1V371.5H266V369.4H266.8V363H267.7V363.9H268.6V368.7H269.5V365.3H270.3V372H271.2V371.4H272.1V365.8H273V340.9H273.9V333.8H274.7V325H275.6V321H276.5V318.9H277.4V316.4H278.3V313.9H279.1V332.4H280V351.1H280.9V364.4H281.8V373.9H282.7V375H283.5V366.5H284.4V363.5H285.3V352.4H286.2V352.1H287V343.3H287.9V340.6H288.8V335.4H289.7V346.8H290.6V362.7H291.4V369.1H292.3V376.9H293.2V384.3H294.1V386.9H295V390.2H295.8V381.2H296.7V388.8H297.6V386.9H298.5V392.9H299.4V393H300.2V390.9H301.1V391.3H302V389.2H302.9V394.7H303.7V391.1H304.6V389.2H305.5V396.5H306.4V392.3H307.3V398.2H308.1V395.5H309V396.2H309.9V393.2H310.8V400.4H311.7V398.6H312.5V396.8H313.4V403.3H314.3V400.6H315.2V403.4H316V403.5H316.9V400.3H317.8V400.9H318.7V396.5H319.6V400.4H320.4V401.4H321.3V406.2H322.2V407.4H323.1V407.3H324V414.9H324.8V405.4H325.7V412.9H326.6V415.1H327.5V414.6H328.4V412H329.2V411.9H330.1V417.1H331V415.6H331.9V417.5H332.7V420.4H333.6V417.6H334.5V418.3H335.4V422.9H336.3V416H337.1V423.6H338V419.1H338.9V423H339.8V422.8H340.7V422.9H341.5V419.6H342.4V425.3H343.3V422.8H344.2V418.4H345.1V424.8H345.9V423.2H346.8V421.5H347.7V425H348.6V422.3H349.4V425.5H350.3V422H351.2V423.9H352.1V426.9H353V420.8H353.8V425.1H354.7V425.8H355.6V427.8H356.5V426.7H357.4V425.8H358.2V425.1H359.1V422.8H360V429.4H360.9V426.7H361.8V422.1H362.6V423.9H363.5V421.6H364.4V416.2H365.3V417.3H366.1V415.1H367V415.7H367.9V411.6H368.8V415.5H369.7V422.8H370.5V421.5H371.4V427.3H372.3V421.1H373.2V421.2H374.1V421.9H374.9V421.5H375.8V425H376.7V418.9H377.6V423H378.4V425.5H379.3V424.7H380.2V430.1H381.1V431.1H382V432.2H382.8V434.6H383.7V424.8H384.6V432.2H385.5V433H386.4V429.9H387.2V441.1H388.1V433H389V433.2H389.9V436.1H390.8V432.5H391.6V439.5H392.5V434.1H393.4V431.8H394.3V440.3H395.1V438.3H396V434.9H396.9V434.7H397.8V436.5H398.7V434H399.5V434.6H400.4V439.1H401.3V436H402.2V439.3H403.1V441.6H403.9V442.5H404.8V433.2H405.7V436.3H406.6V430.6H407.5V439.8H408.3V436.8H409.2V434.9H410.1V436.2H411V434.4H411.8V435.4H412.7V437.5H413.6V442.3H414.5V438.7H415.4V431.7H416.2V434.6H417.1V433.3H418V439H418.9V438.2H419.8V440.2H420.6V436.7H421.5V437.5H422.4V436.1H423.3V432.2H424.1V438.7H425V433.9H425.9V439.2H426.8V432H427.7V435.9H428.5V434.8H429.4V434.2H430.3V430.2H431.2V434.9H432.1V436.3H432.9V438.3H433.8V434.3H434.7V437.3H435.6V436.1H436.5V434.6H437.3V432.5H438.2V436.1H439.1V432.3H440V429.3H440.8V438.2H441.7V430.6H442.6V428.6H443.5V436.1H444.4V432.9H445.2V438.4H446.1V433.8H447V435.7H447.9V434.2H448.8V437.6H449.6V437.4H450.5V436.5H451.4V437.2H452.3V436.9H453.2V435.7H454V438H454.9V435.2H455.8V433.3H456.7V440.6H457.5V433.6H458.4V436.1H459.3V437H460.2V437.6H461.1V436.4H461.5" stroke="#2a7f2a" stroke-width="1.45"/>
<path d="M62.5 434.4l.9 0 .9 0 .8 0 .9 0 .9 0 .9 0 .9 0 .8 0 .9 0 .9 0 .9 0 .8 0 .9 0 .9 0 .9 0 .9 0 .8 0 .9 0 .9 0 .9 0 .9 0 .8 0 .9 0 .9 0 .9 0 .9 .1 .8 0 .9 0 .9 0 .9 0 .8 0 .9 0 .9 0 .9 0 .9 0 .8 0 .9 0 .9-.1 .9 0 .9 0 .8 0 .9-.1 .9 0 .9-.1 .8 0 .9-.1 .9-.1 .9-.1 .9-.2 .8-.1 .9-.2 .9-.2 .9-.2 .9-.2 .8-.2 .9-.2 .9-.3 .9-.2 .9-.2 .8-.3 .9-.2 .9-.2 .9-.1 .8-.2 .9-.1 .9-.1 .9 0 .9 0 .8 0 .9 .1 .9 .1 .9 .2 .9 .1 .8 .2 .9 .3 .9 .2 .9 .3 .9 .3 .8 .3 .9 .2 .9 .3 .9 .3 .8 .2 .9 .3 .9 .2 .9 .2 .9 .2 .8 .2 .9 .1 .9 .1 .9 .1 .9 .1 .8 .1 .9 0 .9 .1 .9 0 .8 0 .9-.1 .9 0 .9-.1 .9 0 .8-.1 .9-.1 .9-.1 .9-.1 .9-.1 .8-.1 .9-.1 .9-.1 .9-.1 .9-.1 .8-.1 .9 0 .9-.1 .9 0 .8-.1 .9 0 .9 0 .9 0 .9 0 .8 0 .9-.1 .9 0 .9 0 .9-.1 .8 0 .9-.1 .9-.1 .9-.1 .9-.1 .8-.2 .9-.1 .9-.2 .9-.2 .8-.2 .9-.2 .9-.3 .9-.2 .9-.3 .8-.3 .9-.3 .9-.3 .9-.4 .9-.3 .8-.3 .9-.4 .9-.4 .9-.3 .8-.4 .9-.4 .9-.4 .9-.4 .9-.4 .8-.5 .9-.4 .9-.4 .9-.5 .9-.4 .8-.5 .9-.5 .9-.4 .9-.5 .9-.5 .8-.5 .9-.6 .9-.5 .9-.5 .8-.6 .9-.6 .9-.5 .9-.6 .9-.6 .8-.6 .9-.6 .9-.6 .9-.7 .9-.6 .8-.6 .9-.7 .9-.7 .9-.6 .9-.7 .8-.7 .9-.7 .9-.7 .9-.7 .8-.7 .9-.7 .9-.7 .9-.8 .9-.7 .8-.7 .9-.7 .9-.8 .9-.7 .9-.8 .8-.7 .9-.7 .9-.7 .9-.8 .8-.7 .9-.7 .9-.7 .9-.7 .9-.7 .8-.7 .9-.7 .9-.7 .9-.6 .9-.7 .8-.6 .9-.7 .9-.6 .9-.6 .9-.6 .8-.6 .9-.6 .9-.6 .9-.5 .8-.6 .9-.2 .9-.4 .9-.5 .9-.8 .8-1.3 .9-1.8 .9-2.1 .9-2.4 .9-2.4 .8-2.2 .9-2 .9-1.5 .9-.9 .9-.2 .8 .9 .9 1.4 .9 1.2 .9 .6 .8-9.8 .9-17.5 .9-9.2 .9-5.5 .9-4.8 .8-3.5 .9-2.1 .9 .4 .9 14.7 .9 18.7 .8 13.7 .9 11.4 .9 1.3 .9-5.9 .9-8.5 .8-7.5 .9-5.4 .9-5.4 .9-3.9 .8-.9 .9 8.2 .9 12.8 .9 9 .9 6.9 .8 5.4 .9 2.6 .9 1.4 .9 1.1 .9 .8 .8 .5 .9 .5 .9 .6 .9 .5 .8 .6 .9 .6 .9 .5 .9 .6 .9 .6 .8 .7 .9 .6 .9 .7 .9 .7 .9 .7 .8 .7 .9 .7 .9 .8 .9 .8 .9 .7 .8 .8 .9 .8 .9 .8 .9 .8 .8 .8 .9 .8 .9 .8 .9 .8 .9 .8 .8 .7 .9 .8 .9 .7 .9 .8 .9 .7 .8 .7 .9 .6 .9 .7 .9 .6 .9 .6 .8 .6 .9 .5 .9 .6 .9 .5 .8 .5 .9 .5 .9 .4 .9 .5 .9 .4 .8 .4 .9 .4 .9 .4 .9 .4 .9 .4 .8 .3 .9 .4 .9 .3 .9 .3 .8 .4 .9 .3 .9 .3 .9 .3 .9 .3 .8 .3 .9 .3 .9 .3 .9 .3 .9 .3 .8 .4 .9 .3 .9 .3 .9 .3 .9 .3 .8 .2 .9-.1 .9-.5 .9-1.1 .8-1.8 .9-2.4 .9-2.6 .9-2.1 .9-1 .8 .6 .9 1.8 .9 2.4 .9 2.1 .9 1.3 .8 .1 .9-.8 .9-1 .9-.7 .9 .1 .8 1.2 .9 1.8 .9 2.1 .9 1.9 .8 1.5 .9 1 .9 .5 .9 .4 .9 .2 .8 .2 .9 .1 .9 .1 .9 .1 .9 .1 .8 .1 .9 .1 .9 .1 .9 .1 .8 0 .9 .1 .9 .1 .9 0 .9 .1 .8 .1 .9 0 .9 .1 .9 0 .9 .1 .8 0 .9 .1 .9 0 .9 .1 .9 0 .8 0 .9 .1 .9 0 .9 0 .8 .1 .9 0 .9 0 .9 0 .9 .1 .8 0 .9 0 .9 0 .9 0 .9 0 .8 .1 .9 0 .9 0 .9 0 .9 0 .8 0 .9 0 .9 .1 .9 0 .8 0 .9 0 .9 0 .9 0 .9 0 .8 0 .9 0 .9 0 .9 0 .9 0 .8 .1 .9 0 .9 0 .9 0 .8 0 .9 0 .9 0 .9 0 .9 0 .8 0 .9 0 .9 0 .9 0 .9 0 .8 0 .9 0 .9 0 .9 0 .9 0 .8 0 .9 0 .9 0 .9 .1 .8 0 .9 0 .9 0 .9 0 .9 0 .8 0 .9 0 .9 0" stroke="#e8281e" stroke-width="0.9"/>
<path d="M62.5 434.4l3.5 0 3.5 0 3.5 0 3.6 0 3.5 0 3.5 0 3.5 0 3.5 0 3.5 0 3.6 0 3.5 0 3.5 0 3.5 0 3.5 0 3.5 0 3.5 0 3.6 0 3.5 0 3.5 0 3.5 0 3.5 0 3.5 0 3.6 0 3.5 0 3.5 0 3.5 0 3.5 0 3.5 0 3.5 0 3.6 0 3.5 0 3.5 0 3.5 0 3.5 0 3.5 0 3.6 0 3.5 0 3.5 0 3.5 0 3.5 0 3.5 0 3.5 0 3.6 0 3.5 0 3.5 0 3.5 0 3.5 0 3.5 0 3.6 0 3.5 0 3.5 0 3.5 0 3.5 0 3.5 0 3.5 0 3.6 0 3.5 0 3.5 0 3.5 0 3.5 0 3.5 0 3.6 0 3.5 0 3.5 0 3.5 0 3.5 0 3.5 0 3.5 0 3.6 0 3.5 0 3.5 0 3.5 0 3.5 0 3.5 0 3.6 0 3.5 0 3.5 0 3.5 0 3.5 0 3.5 0 3.5 0 3.6 0 3.5 0 3.5 0 3.5 0 3.5 0 3.5 0 3.6 0 3.5 0 3.5 0 3.5 0 3.5 0 3.5 0 3.5 0 3.6 0 3.5 0 3.5 0 3.5 0 3.5 0 3.5 0 3.6 0 3.5 0 3.5 0 3.5 0 3.5 0 3.5 0 3.5 0 3.6 0 3.5 0 3.5 0 3.5 0 3.5 0 3.5 0" stroke="#40f0ff" stroke-width="1.0" stroke-dasharray="2.5,2"/>
<path d="M101.2 471.1l.8 0 .9-.1 .9-.1 .9-.2 .9-.1 .8-.2 .9-.1 .9-.2 .9-.2 .9-.3 .8-.2 .9-.2 .9-.3 .9-.2 .9-.2 .8-.3 .9-.2 .9-.2 .9-.2 .8-.1 .9-.2 .9 0 .9-.1 .9 0 .8 0 .9 .1 .9 .1 .9 .1 .9 .2 .8 .1 .9 .3 .9 .2 .9 .2 .9 .3 .8 .2 .9 .2 .9 .3 .9 .2 .8 .2 .9 .2 .9 .2 .9 .2 .9 .1 .8 .2 .9 .1 .9 .1 .9 .1 .9 .1" stroke="#2828ff" stroke-width="1.2"/>
<path d="M146 471.2l.9-.1 .8 0 .9-.1 .9-.1 .9-.1 .9-.1 .8-.1 .9-.1 .9-.1 .9-.1 .9-.2 .8-.1 .9-.1 .9 0 .9-.1 .9-.1 .8 0 .9 0 .9 0 .9 0 .8 0 .9 0 .9 .1 .9 .1 .9 .1 .8 .1 .9 .1 .9 .1 .9 .1 .9 .1 .8 .1 .9 .1 .9 .1 .9 .1 .9 .1 .8 .1 .9 0 .9 .1" stroke="#2828ff" stroke-width="1.2"/>
<path d="M143.4 471.1l1.7 0 1.8-.1 1.7 0 1.8-.1 1.7-.1 1.8-.1 1.8-.1 1.7-.1 1.8-.1 1.7-.1 1.8-.2 1.7-.1 1.8-.2 1.8-.2 1.7-.2 1.8-.2 1.7-.3 1.8-.3 1.8-.3 1.7-.3 1.8-.4 1.7-.4 1.8-.4 1.7-.4 1.8-.5 1.8-.5 1.7-.6 1.8-.6 1.7-.6 1.8-.7 1.7-.7 1.8-.8 1.8-.7 1.7-.9 1.8-.9 1.7-.9 1.8-1 1.7-1 1.8-1 1.8-1.1 1.7-1.1 1.8-1.2 1.7-1.2 1.8-1.2 1.8-1.3 1.7-1.3 1.8-1.3 1.7-1.4 1.8-1.4 1.7-1.3 1.8-1.4 1.8-1.4 1.7-1.4 1.8-1.4 1.7-1.4 1.8-1.4 1.7-1.3 1.8-1.4 1.8-1.3 1.7-1.2 1.8-1.3 1.7-1.1 1.8-1.2 1.7-1 1.8-1 1.8-1 1.7-.8 1.8-.8 1.7-.8 1.8-.6 1.8-.5 1.7-.5 1.8-.3 1.7-.3 1.8-.2 1.7-.1 1.8 0 1.8 .2 1.7 .2 1.8 .3 1.7 .4 1.8 .4 1.7 .6 1.8 .7 1.8 .7 1.7 .8 1.8 .9 1.7 1 1.8 1 1.7 1.1 1.8 1.2 1.8 1.1 1.7 1.3 1.8 1.3 1.7 1.3 1.8 1.3 1.8 1.4 1.7 1.4 1.8 1.3 1.7 1.4 1.8 1.4 1.7 1.4 1.8 1.4 1.8 1.4 1.7 1.4 1.8 1.3 1.7 1.3 1.8 1.3 1.7 1.3 1.8 1.2 1.8 1.2 1.7 1.1 1.8 1.2 1.7 1 1.8 1.1 1.7 1 1.8 .9 1.8 .9 1.7 .9 1.8 .8 1.7 .8 1.8 .7 1.8 .7 1.7 .7 1.8 .6 1.7 .6 1.8 .5 1.7 .5 1.8 .5 1.8 .5 1.7 .4 1.8 .3 1.7 .4 1.8 .3 1.7 .3 1.8 .3 1.8 .2 1.7 .3 1.8 .2 1.7 .2 1.8 .1 1.7 .2 1.8 .1 1.8 .2 1.7 .1 1.8 .1 1.7 .1 1.8 .1 1.8 0 1.7 .1 1.8 .1 1.7 0 1.8 .1" stroke="#30f030" stroke-width="1.4"/>
<path d="M269.9 471.2l.9-1.4 .9-5.1 .8-12.4 .9-18.8 .9-14.6 .9 1.9 .9 16.5 .8 18.2 .9 10.7 .9 4.1 .9 1" stroke="#2828ff" stroke-width="1.2" stroke-dasharray="2.5,2"/>
<path d="M274.3 471.4l.9-1 .9-5.8 .8-17.2 .9-24.2 .9-6.8 .9 19.3 .9 22.6 .8 10.4 .9 2.5" stroke="#ff2020" stroke-width="1.2" stroke-dasharray="2.5,2"/>
<path d="M262 471.4l.9-.4 .9-.8 .8-1.8 .9-2.9 .9-3.7 .9-3.4 .9-1.6 .8 .9 .9 3.1 .9 3.8 .9 3.2 .8 2 .9 1.1 .9 .4" stroke="#8020b0" stroke-width="1.2" stroke-dasharray="2.5,2"/>
<path d="M280.5 471.4l.8-.3 .9-.7 .9-1.8 .9-3.6 .9-6.1 .8-8.6 .9-9.7 .9-8.4 .9-4.1 .8 1.8 .9 7 .9 9.5 .9 9.3 .9 7.2 .8 4.5 .9 2.4 .9 1.1 .9 .4" stroke="#8020b0" stroke-width="1.2" stroke-dasharray="2.5,2"/>
<path d="M360.4 471.2l.9-.5 .9-.9 .9-1.5 .8-2.2 .9-2.8 .9-2.9 .9-2.4 .9-1.2 .8 .4 .9 1.8 .9 2.7 .9 3 .9 2.5 .8 1.9 .9 1.2 .9 .7 .9 .3" stroke="#8020b0" stroke-width="1.2" stroke-dasharray="2.5,2"/>
<path d="M368.3 471.3l.9-.2 .9-.6 .9-.9 .9-1.4 .8-1.8 .9-2.1 .9-1.8 .9-1.1 .9 0 .8 1 .9 1.8 .9 2 .9 1.9 .8 1.5 .9 .9 .9 .5 .9 .3" stroke="#8020b0" stroke-width="1.2" stroke-dasharray="2.5,2"/>
</g>
<g clip-path="url(#c3r)" fill="none">
<path d="M62.5 505.7H62.9V501.7H63.8V485.4H64.7V495.1H65.6V516.6H66.5V502.4H67.3V508.6H68.2V502.1H69.1V518.3H70V501.6H70.8V501.5H71.7V489.1H72.6V500.1H73.5V497.9H74.4V515.4H75.2V480.6H76.1V517.5H77V489.1H77.9V501.1H78.8V505.1H79.6V502.4H80.5V502H81.4V492.3H82.3V496.8H83.2V482.4H84V512.5H84.9V495.8H85.8V503.4H86.7V487.6H87.5V512.9H88.4V496H89.3V490.3H90.2V505.4H91.1V483.2H91.9V491.3H92.8V484.9H93.7V486.7H94.6V505.7H95.5V505.4H96.3V501.2H97.2V493.5H98.1V493.4H99V508.3H99.9V507.9H100.7V510.1H101.6V508.5H102.5V505.6H103.4V504.8H104.2V485.1H105.1V508.5H106V506.8H106.9V500.3H107.8V513.5H108.6V508.7H109.5V505.5H110.4V498.8H111.3V517.8H112.2V493.2H113V508.5H113.9V503.2H114.8V496.4H115.7V497.4H116.5V493.2H117.4V500.7H118.3V502H119.2V498.8H120.1V510.6H120.9V490.6H121.8V508.8H122.7V513.4H123.6V483.4H124.5V503.4H125.3V512.8H126.2V485.1H127.1V504.6H128V491.4H128.9V508.1H129.7V502.3H130.6V514.8H131.5V516.5H132.4V507.7H133.2V499.3H134.1V491.2H135V476.1H135.9V507.2H136.8V488.3H137.6V502.5H138.5V498H139.4V509.8H140.3V509.7H141.2V503.5H142V507.6H142.9V497.4H143.8V504.3H144.7V487H145.6V497.2H146.4V497.1H147.3V487.9H148.2V493H149.1V497.4H149.9V497.4H150.8V497.5H151.7V487H152.6V490.4H153.5V495.2H154.3V492.6H155.2V505.9H156.1V497.2H157V515.1H157.9V489.9H158.7V500.6H159.6V498.5H160.5V493.3H161.4V497.2H162.2V498.1H163.1V483.9H164V493.1H164.9V502.4H165.8V490.6H166.6V510.9H167.5V481.5H168.4V499.2H169.3V498.4H170.2V479.3H171V481.2H171.9V500.5H172.8V496.5H173.7V492.9H174.6V487.9H175.4V504.6H176.3V502.2H177.2V492H178.1V500.2H178.9V495H179.8V495.3H180.7V510.1H181.6V506.7H182.5V522.1H183.3V500H184.2V485.3H185.1V507.8H186V487.1H186.9V490.1H187.7V500.7H188.6V501.5H189.5V501.7H190.4V511.2H191.3V506.7H192.1V505H193V499.4H193.9V498H194.8V512.2H195.6V498.2H196.5V513.2H197.4V508H198.3V503.5H199.2V507.4H200V508.5H200.9V504.8H201.8V512H202.7V512.3H203.6V507.5H204.4V496.1H205.3V504.8H206.2V485.6H207.1V500H208V528.1H208.8V504.2H209.7V484.3H210.6V498.5H211.5V501.7H212.3V504.9H213.2V484.4H214.1V486.9H215V489.8H215.9V492.1H216.7V483.3H217.6V489.6H218.5V509.1H219.4V492.2H220.3V499H221.1V503.1H222V496.8H222.9V505H223.8V533.1H224.6V493.3H225.5V498.5H226.4V509.2H227.3V511.3H228.2V505.3H229V518.2H229.9V502.6H230.8V506.1H231.7V505.7H232.6V509.2H233.4V505.4H234.3V487.9H235.2V484.8H236.1V491.8H237V496.6H237.8V504.4H238.7V490.4H239.6V482.8H240.5V512.6H241.3V487.7H242.2V518.3H243.1V502H244V495.7H244.9V512.1H245.7V514.1H246.6V499.6H247.5V494.5H248.4V508H249.3V492.7H250.1V512.8H251V490.2H251.9V504.7H252.8V502.7H253.7V497.6H254.5V498.3H255.4V482.3H256.3V477H257.2V490.4H258V495.7H258.9V504.4H259.8V500.6H260.7V494.1H261.6V495.9H262.4V496.3H263.3V496.9H264.2V493.4H265.1V511.1H266V509.2H266.8V490.7H267.7V494.2H268.6V507.5H269.5V491.6H270.3V509.8H271.2V506H272.1V519.9H273V495H273.9V501.9H274.7V491.1H275.6V493.5H276.5V498.3H277.4V497.2H278.3V487.6H279.1V500H280V500.2H280.9V498.6H281.8V492.4H282.7V491.8H283.5V483.1H284.4V501.4H285.3V489.1H286.2V506.4H287V494.8H287.9V499H288.8V484.6H289.7V495.3H290.6V505.6H291.4V497.1H292.3V500.1H293.2V506.8H294.1V507H295V512.9H295.8V479H296.7V502.2H297.6V493.8H298.5V512.4H299.4V511H300.2V501.9H301.1V501.5H302V492.6H302.9V508.9H303.7V495H304.6V486.4H305.5V508.9H306.4V492.8H307.3V510.3H308.1V498.9H309V498.9H309.9V486.4H310.8V508H311.7V499.6H312.5V490.7H313.4V509.8H314.3V498.2H315.2V505H316V502.7H316.9V489.4H317.8V488.6H318.7V471.1H319.6V481.7H320.4V482.4H321.3V495.7H322.2V497.4H323.1V494.2H324V517.3H324.8V483.1H325.7V505.8H326.6V511H327.5V507H328.4V496.2H329.2V493.8H330.1V509.1H331V502H331.9V506.5H332.7V514.7H333.6V503.5H334.5V504.2H335.4V517.7H336.3V493.2H337.1V517.1H338V500.6H338.9V512.2H339.8V510.3H340.7V509.5H341.5V497H342.4V515H343.3V505.4H344.2V489.6H345.1V509.7H345.9V503.3H346.8V496.5H347.7V507.2H348.6V496.9H349.4V506.7H350.3V493.9H351.2V499.4H352.1V508.3H353V486.9H353.8V500.4H354.7V501.7H355.6V507.1H356.5V502.3H357.4V498.2H358.2V495.1H359.1V486.2H360V507.9H360.9V499.1H361.8V485.3H362.6V495H363.5V493.6H364.4V483.6H365.3V495.8H366.1V495.4H367V500.7H367.9V485H368.8V492.1H369.7V508.5H370.5V497H371.4V512H372.3V491.1H373.2V493.8H374.1V500H374.9V500.8H375.8V512.1H376.7V487.8H377.6V495.1H378.4V496.7H379.3V487.6H380.2V500.8H381.1V500.9H382V502.7H382.8V509.5H383.7V476H384.6V500.3H385.5V502.2H386.4V491.5H387.2V528.9H388.1V501.3H389V501.7H389.9V511.3H390.8V498.9H391.6V521.8H392.5V503.6H393.4V495.7H394.3V523.9H395.1V516.9H396V505.3H396.9V504.3H397.8V510.5H398.7V501.9H399.5V503.7H400.4V518.7H401.3V507.9H402.2V518.9H403.1V526.4H403.9V529.4H404.8V498H405.7V508.2H406.6V489H407.5V519.9H408.3V509.6H409.2V503.2H410.1V507.5H411V501.5H411.8V504.7H412.7V511.7H413.6V527.6H414.5V515.5H415.4V492.1H416.2V501.7H417.1V497.3H418V516.1H418.9V513.4H419.8V520.1H420.6V508.5H421.5V511H422.4V506.4H423.3V493.1H424.1V515H425V498.9H425.9V516.6H426.8V492.4H427.7V505.4H428.5V501.6H429.4V499.7H430.3V486.3H431.2V502.1H432.1V506.8H432.9V513.3H433.8V500H434.7V509.9H435.6V506H436.5V500.9H437.3V493.9H438.2V506H439.1V493.1H440V483.2H440.8V513H441.7V487.4H442.6V480.5H443.5V505.8H444.4V495.1H445.2V513.4H446.1V498.1H447V504.5H447.9V499.2H448.8V510.7H449.6V510.1H450.5V506.9H451.4V509.3H452.3V508.3H453.2V504.1H454V511.8H454.9V502.4H455.8V496H456.7V520.7H457.5V497.3H458.4V505.4H459.3V508.5H460.2V510.6H461.1V506.4H461.5" stroke="#2020f0" stroke-width="1.05"/>
<line x1="62.5" y1="500.4" x2="461.5" y2="500.4" stroke="#40f040" stroke-width="1.1"/>
<line x1="62.5" y1="489.92" x2="461.5" y2="489.92" stroke="#60ff60" stroke-width="1.1" stroke-dasharray="3,3"/>
<line x1="62.5" y1="510.46" x2="461.5" y2="510.46" stroke="#60ff60" stroke-width="1.1" stroke-dasharray="3,3"/>
</g>
<g fill="none" stroke="#909090" stroke-width="1">
<rect x="62.5" y="294.5" width="399" height="177"/>
<rect x="62.5" y="479.5" width="399" height="41"/>
<path d="M68.5 471.5v-2.3 M68.5 294.5v2.3 M68.5 520.5v-1.2 M68.5 479.5v1.2 M74.5 471.5v-2.3 M74.5 294.5v2.3 M74.5 520.5v-1.2 M74.5 479.5v1.2 M80.5 471.5v-2.3 M80.5 294.5v2.3 M80.5 520.5v-1.2 M80.5 479.5v1.2 M85.5 471.5v-2.3 M85.5 294.5v2.3 M85.5 520.5v-1.2 M85.5 479.5v1.2 M91.5 471.5v-2.3 M91.5 294.5v2.3 M91.5 520.5v-1.2 M91.5 479.5v1.2 M97.5 471.5v-2.3 M97.5 294.5v2.3 M97.5 520.5v-1.2 M97.5 479.5v1.2 M103.5 471.5v-2.3 M103.5 294.5v2.3 M103.5 520.5v-1.2 M103.5 479.5v1.2 M109.5 471.5v-2.3 M109.5 294.5v2.3 M109.5 520.5v-1.2 M109.5 479.5v1.2 M115.5 471.5v-2.3 M115.5 294.5v2.3 M115.5 520.5v-1.2 M115.5 479.5v1.2 M121.5 471.5v-3.6 M121.5 294.5v3.6 M121.5 520.5v-2 M121.5 479.5v2 M126.5 471.5v-2.3 M126.5 294.5v2.3 M126.5 520.5v-1.2 M126.5 479.5v1.2 M132.5 471.5v-2.3 M132.5 294.5v2.3 M132.5 520.5v-1.2 M132.5 479.5v1.2 M138.5 471.5v-2.3 M138.5 294.5v2.3 M138.5 520.5v-1.2 M138.5 479.5v1.2 M144.5 471.5v-2.3 M144.5 294.5v2.3 M144.5 520.5v-1.2 M144.5 479.5v1.2 M150.5 471.5v-2.3 M150.5 294.5v2.3 M150.5 520.5v-1.2 M150.5 479.5v1.2 M156.5 471.5v-2.3 M156.5 294.5v2.3 M156.5 520.5v-1.2 M156.5 479.5v1.2 M162.5 471.5v-2.3 M162.5 294.5v2.3 M162.5 520.5v-1.2 M162.5 479.5v1.2 M167.5 471.5v-2.3 M167.5 294.5v2.3 M167.5 520.5v-1.2 M167.5 479.5v1.2 M173.5 471.5v-2.3 M173.5 294.5v2.3 M173.5 520.5v-1.2 M173.5 479.5v1.2 M179.5 471.5v-3.6 M179.5 294.5v3.6 M179.5 520.5v-2 M179.5 479.5v2 M185.5 471.5v-2.3 M185.5 294.5v2.3 M185.5 520.5v-1.2 M185.5 479.5v1.2 M191.5 471.5v-2.3 M191.5 294.5v2.3 M191.5 520.5v-1.2 M191.5 479.5v1.2 M197.5 471.5v-2.3 M197.5 294.5v2.3 M197.5 520.5v-1.2 M197.5 479.5v1.2 M203.5 471.5v-2.3 M203.5 294.5v2.3 M203.5 520.5v-1.2 M203.5 479.5v1.2 M208.5 471.5v-2.3 M208.5 294.5v2.3 M208.5 520.5v-1.2 M208.5 479.5v1.2 M214.5 471.5v-2.3 M214.5 294.5v2.3 M214.5 520.5v-1.2 M214.5 479.5v1.2 M220.5 471.5v-2.3 M220.5 294.5v2.3 M220.5 520.5v-1.2 M220.5 479.5v1.2 M226.5 471.5v-2.3 M226.5 294.5v2.3 M226.5 520.5v-1.2 M226.5 479.5v1.2 M232.5 471.5v-2.3 M232.5 294.5v2.3 M232.5 520.5v-1.2 M232.5 479.5v1.2 M238.5 471.5v-3.6 M238.5 294.5v3.6 M238.5 520.5v-2 M238.5 479.5v2 M244.5 471.5v-2.3 M244.5 294.5v2.3 M244.5 520.5v-1.2 M244.5 479.5v1.2 M249.5 471.5v-2.3 M249.5 294.5v2.3 M249.5 520.5v-1.2 M249.5 479.5v1.2 M255.5 471.5v-2.3 M255.5 294.5v2.3 M255.5 520.5v-1.2 M255.5 479.5v1.2 M261.5 471.5v-2.3 M261.5 294.5v2.3 M261.5 520.5v-1.2 M261.5 479.5v1.2 M267.5 471.5v-2.3 M267.5 294.5v2.3 M267.5 520.5v-1.2 M267.5 479.5v1.2 M273.5 471.5v-2.3 M273.5 294.5v2.3 M273.5 520.5v-1.2 M273.5 479.5v1.2 M279.5 471.5v-2.3 M279.5 294.5v2.3 M279.5 520.5v-1.2 M279.5 479.5v1.2 M285.5 471.5v-2.3 M285.5 294.5v2.3 M285.5 520.5v-1.2 M285.5 479.5v1.2 M291.5 471.5v-2.3 M291.5 294.5v2.3 M291.5 520.5v-1.2 M291.5 479.5v1.2 M296.5 471.5v-3.6 M296.5 294.5v3.6 M296.5 520.5v-2 M296.5 479.5v2 M302.5 471.5v-2.3 M302.5 294.5v2.3 M302.5 520.5v-1.2 M302.5 479.5v1.2 M308.5 471.5v-2.3 M308.5 294.5v2.3 M308.5 520.5v-1.2 M308.5 479.5v1.2 M314.5 471.5v-2.3 M314.5 294.5v2.3 M314.5 520.5v-1.2 M314.5 479.5v1.2 M320.5 471.5v-2.3 M320.5 294.5v2.3 M320.5 520.5v-1.2 M320.5 479.5v1.2 M326.5 471.5v-2.3 M326.5 294.5v2.3 M326.5 520.5v-1.2 M326.5 479.5v1.2 M332.5 471.5v-2.3 M332.5 294.5v2.3 M332.5 520.5v-1.2 M332.5 479.5v1.2 M337.5 471.5v-2.3 M337.5 294.5v2.3 M337.5 520.5v-1.2 M337.5 479.5v1.2 M343.5 471.5v-2.3 M343.5 294.5v2.3 M343.5 520.5v-1.2 M343.5 479.5v1.2 M349.5 471.5v-2.3 M349.5 294.5v2.3 M349.5 520.5v-1.2 M349.5 479.5v1.2 M355.5 471.5v-3.6 M355.5 294.5v3.6 M355.5 520.5v-2 M355.5 479.5v2 M361.5 471.5v-2.3 M361.5 294.5v2.3 M361.5 520.5v-1.2 M361.5 479.5v1.2 M367.5 471.5v-2.3 M367.5 294.5v2.3 M367.5 520.5v-1.2 M367.5 479.5v1.2 M373.5 471.5v-2.3 M373.5 294.5v2.3 M373.5 520.5v-1.2 M373.5 479.5v1.2 M378.5 471.5v-2.3 M378.5 294.5v2.3 M378.5 520.5v-1.2 M378.5 479.5v1.2 M384.5 471.5v-2.3 M384.5 294.5v2.3 M384.5 520.5v-1.2 M384.5 479.5v1.2 M390.5 471.5v-2.3 M390.5 294.5v2.3 M390.5 520.5v-1.2 M390.5 479.5v1.2 M396.5 471.5v-2.3 M396.5 294.5v2.3 M396.5 520.5v-1.2 M396.5 479.5v1.2 M402.5 471.5v-2.3 M402.5 294.5v2.3 M402.5 520.5v-1.2 M402.5 479.5v1.2 M408.5 471.5v-2.3 M408.5 294.5v2.3 M408.5 520.5v-1.2 M408.5 479.5v1.2 M414.5 471.5v-3.6 M414.5 294.5v3.6 M414.5 520.5v-2 M414.5 479.5v2 M419.5 471.5v-2.3 M419.5 294.5v2.3 M419.5 520.5v-1.2 M419.5 479.5v1.2 M425.5 471.5v-2.3 M425.5 294.5v2.3 M425.5 520.5v-1.2 M425.5 479.5v1.2 M431.5 471.5v-2.3 M431.5 294.5v2.3 M431.5 520.5v-1.2 M431.5 479.5v1.2 M437.5 471.5v-2.3 M437.5 294.5v2.3 M437.5 520.5v-1.2 M437.5 479.5v1.2 M443.5 471.5v-2.3 M443.5 294.5v2.3 M443.5 520.5v-1.2 M443.5 479.5v1.2 M449.5 471.5v-2.3 M449.5 294.5v2.3 M449.5 520.5v-1.2 M449.5 479.5v1.2 M455.5 471.5v-2.3 M455.5 294.5v2.3 M455.5 520.5v-1.2 M455.5 479.5v1.2 M460.5 471.5v-2.3 M460.5 294.5v2.3 M460.5 520.5v-1.2 M460.5 479.5v1.2 M62.5 467.5h4 M461.5 467.5h-4 M62.5 463.5h4 M461.5 463.5h-4 M62.5 459.5h4 M461.5 459.5h-4 M62.5 455.5h4 M461.5 455.5h-4 M62.5 450.5h4 M461.5 450.5h-4 M62.5 446.5h4 M461.5 446.5h-4 M62.5 442.5h4 M461.5 442.5h-4 M62.5 438.5h4 M461.5 438.5h-4 M62.5 434.5h4 M461.5 434.5h-4 M62.5 430.5h8 M461.5 430.5h-8 M62.5 426.5h4 M461.5 426.5h-4 M62.5 422.5h4 M461.5 422.5h-4 M62.5 418.5h4 M461.5 418.5h-4 M62.5 414.5h4 M461.5 414.5h-4 M62.5 409.5h4 M461.5 409.5h-4 M62.5 405.5h4 M461.5 405.5h-4 M62.5 401.5h4 M461.5 401.5h-4 M62.5 397.5h4 M461.5 397.5h-4 M62.5 393.5h4 M461.5 393.5h-4 M62.5 389.5h8 M461.5 389.5h-8 M62.5 385.5h4 M461.5 385.5h-4 M62.5 381.5h4 M461.5 381.5h-4 M62.5 377.5h4 M461.5 377.5h-4 M62.5 373.5h4 M461.5 373.5h-4 M62.5 368.5h4 M461.5 368.5h-4 M62.5 364.5h4 M461.5 364.5h-4 M62.5 360.5h4 M461.5 360.5h-4 M62.5 356.5h4 M461.5 356.5h-4 M62.5 352.5h4 M461.5 352.5h-4 M62.5 348.5h8 M461.5 348.5h-8 M62.5 344.5h4 M461.5 344.5h-4 M62.5 340.5h4 M461.5 340.5h-4 M62.5 336.5h4 M461.5 336.5h-4 M62.5 332.5h4 M461.5 332.5h-4 M62.5 327.5h4 M461.5 327.5h-4 M62.5 323.5h4 M461.5 323.5h-4 M62.5 319.5h4 M461.5 319.5h-4 M62.5 315.5h4 M461.5 315.5h-4 M62.5 311.5h4 M461.5 311.5h-4 M62.5 307.5h8 M461.5 307.5h-8 M62.5 303.5h4 M461.5 303.5h-4 M62.5 299.5h4 M461.5 299.5h-4 M62.5 295.5h4 M461.5 295.5h-4"/>
</g>
<path d="M62.5 479.5h8M62.5 520.5h8" stroke="#6e6e6e" stroke-width="1.3" fill="none"/>
<line x1="62.5" y1="472" x2="461.5" y2="472" stroke="#2418e8" stroke-width="2"/>
<line x1="62.5" y1="472" x2="461.5" y2="472" stroke="#68009c" stroke-width="2" stroke-dasharray="3,2"/>
<g fill="#8c8c8c" font-family="'DejaVu Sans', 'Liberation Sans', sans-serif">
<text x="57.9" y="472.1" font-size="12.2" text-anchor="end" textLength="7" lengthAdjust="spacingAndGlyphs">0</text>
<text x="57.9" y="435.48" font-size="12.2" text-anchor="end" textLength="14" lengthAdjust="spacingAndGlyphs">10</text>
<text x="57.9" y="394.46" font-size="12.2" text-anchor="end" textLength="14" lengthAdjust="spacingAndGlyphs">20</text>
<text x="57.9" y="353.44" font-size="12.2" text-anchor="end" textLength="14" lengthAdjust="spacingAndGlyphs">30</text>
<text x="57.9" y="312.42" font-size="12.2" text-anchor="end" textLength="14" lengthAdjust="spacingAndGlyphs">40</text>
<text x="58.3" y="488.5" font-size="12.2" text-anchor="end" textLength="7" lengthAdjust="spacingAndGlyphs">2</text>
<text x="58.3" y="505" font-size="12.2" text-anchor="end" textLength="7" lengthAdjust="spacingAndGlyphs">0</text>
<text x="58.3" y="521.5" font-size="12.2" text-anchor="end" textLength="17" lengthAdjust="spacingAndGlyphs">&#8722;2</text>
<text x="62.5" y="538.1" font-size="12.4" text-anchor="middle" textLength="31" lengthAdjust="spacingAndGlyphs">6200</text>
<text x="121.09" y="538.1" font-size="12.4" text-anchor="middle" textLength="31" lengthAdjust="spacingAndGlyphs">6300</text>
<text x="179.68" y="538.1" font-size="12.4" text-anchor="middle" textLength="31" lengthAdjust="spacingAndGlyphs">6400</text>
<text x="238.27" y="538.1" font-size="12.4" text-anchor="middle" textLength="31" lengthAdjust="spacingAndGlyphs">6500</text>
<text x="296.86" y="538.1" font-size="12.4" text-anchor="middle" textLength="31" lengthAdjust="spacingAndGlyphs">6600</text>
<text x="355.45" y="538.1" font-size="12.4" text-anchor="middle" textLength="31" lengthAdjust="spacingAndGlyphs">6700</text>
<text x="414.04" y="538.1" font-size="12.4" text-anchor="middle" textLength="31" lengthAdjust="spacingAndGlyphs">6800</text>
<text x="262" y="552.3" font-size="12" text-anchor="middle" textLength="122.5" lengthAdjust="spacingAndGlyphs">rest wavelength (&#197;)</text>
<text y="309.1" font-size="13.8"><tspan x="66.7" textLength="37.5" lengthAdjust="spacingAndGlyphs">2022</tspan><tspan x="103.4" textLength="13.2" lengthAdjust="spacingAndGlyphs">-</tspan><tspan x="115.4" textLength="46" lengthAdjust="spacingAndGlyphs">53827</tspan><tspan x="160.7" textLength="12.8" lengthAdjust="spacingAndGlyphs">-</tspan><tspan x="172.8" textLength="36.8" lengthAdjust="spacingAndGlyphs">0553</tspan></text>
<text x="67.3" y="326.8" font-size="13.8" textLength="88.5" lengthAdjust="spacingAndGlyphs"><tspan font-size="15">&#967;</tspan><tspan font-size="9" dy="-7">2</tspan><tspan dy="7">/dof~1.03</tspan></text>
<text x="31.3" y="384.2" font-size="12" text-anchor="middle" textLength="135.5" lengthAdjust="spacingAndGlyphs" transform="rotate(-90 31.3 384.2)">F<tspan font-size="8" dy="3">&#955;</tspan><tspan dy="-3"> (10</tspan><tspan font-size="9.5" dy="-5">&#8722;17</tspan><tspan dy="5">erg/s/cm</tspan><tspan font-size="8" dy="-5">2</tspan><tspan dy="5">/&#197;)</tspan></text>
<text x="30.8" y="501" font-size="11.6" text-anchor="middle" textLength="49.7" lengthAdjust="spacingAndGlyphs" transform="rotate(-90 30.8 501)">residuals</text>
</g>
<clipPath id="c4m"><rect x="536.5" y="294.5" width="399" height="177"/></clipPath>
<clipPath id="c4r"><rect x="536.5" y="479.5" width="399" height="41"/></clipPath>
<g clip-path="url(#c4m)" fill="none">
<path d="M536.5 450.3H536.9V450.7H537.8V449.7H538.7V449H539.6V448.3H540.5V449.1H541.3V449.6H542.2V449.7H543.1V448.3H544V447.6H544.8V448.9H545.7V450.4H546.6V450.5H547.5V448.5H548.4V450H549.2V451.9H550.1V450.7H551V451.7H551.9V451.3H552.8V451.1H553.6V451.3H554.5V450.1H555.4V450.5H556.3V450.9H557.2V450H558V449.7H558.9V451.9H559.8V450.7H560.7V451.4H561.5V450.8H562.4V451.8H563.3V450.8H564.2V450.9H565.1V451.2H565.9V452H566.8V451.5H567.7V452.2H568.6V452.5H569.5V451.2H570.3V452.3H571.2V450.2H572.1V450.4H573V452.5H573.9V450.2H574.7V451H575.6V449.7H576.5V449.4H577.4V451H578.2V449.4H579.1V449.5H580V448.5H580.9V450.6H581.8V449.2H582.6V451H583.5V450.6H584.4V451.2H585.3V449.3H586.2V450.1H587V448.4H587.9V449.8H588.8V449.3H589.7V448.9H590.5V449.5H591.4V447.9H592.3V444.9H593.2V444.1H594.1V441.2H594.9V439.6H595.8V438.4H596.7V440.2H597.6V442.1H598.5V444.4H599.3V447H600.2V449.8H601.1V449.4H602V452.1H602.9V452.3H603.7V452.5H604.6V450.5H605.5V451.5H606.4V451.9H607.2V451.9H608.1V450.4H609V451.5H609.9V451.6H610.8V449.8H611.6V451.3H612.5V450.6H613.4V450.3H614.3V450.8H615.2V450.6H616V449.5H616.9V451.3H617.8V452.1H618.7V452.7H619.6V451.3H620.4V451.4H621.3V450.8H622.2V451.3H623.1V451.1H623.9V451H624.8V450.6H625.7V449.8H626.6V450H627.5V449.3H628.3V447.3H629.2V447.8H630.1V448.7H631V444.7H631.9V444.8H632.7V445.3H633.6V443.7H634.5V445.2H635.4V446.8H636.2V448H637.1V449.3H638V449.1H638.9V448.7H639.8V450.2H640.6V449.7H641.5V448.5H642.4V451.2H643.3V449.7H644.2V450.1H645V450.5H645.9V450.2H646.8V449.1H647.7V448.5H648.6V449.2H649.4V448.6H650.3V448H651.2V448.4H652.1V448H652.9V448.5H653.8V448.5H654.7V447.3H655.6V448.3H656.5V448.6H657.3V447.9H658.2V449.2H659.1V448.5H660V447.5H660.9V447.6H661.7V446.9H662.6V448.3H663.5V449.7H664.4V446.8H665.3V447.6H666.1V449.5H667V447.3H667.9V448.5H668.8V450H669.6V448.8H670.5V448.8H671.4V447H672.3V449.1H673.2V448.6H674V448.6H674.9V448.6H675.8V449.1H676.7V448.2H677.6V447.5H678.4V447.9H679.3V449.3H680.2V449.5H681.1V448.4H682V449H682.8V448.8H683.7V449.6H684.6V446.2H685.5V447H686.3V448.5H687.2V446.7H688.1V446.3H689V449.5H689.9V447.9H690.7V447.7H691.6V446.8H692.5V447.5H693.4V447.5H694.3V447.3H695.1V445.4H696V444.9H696.9V447H697.8V446.9H698.6V443.4H699.5V446.1H700.4V445.2H701.3V444.2H702.2V443.2H703V442.2H703.9V442.2H704.8V442.7H705.7V440.9H706.6V440.6H707.4V438.5H708.3V439.6H709.2V440H710.1V439H711V436H711.8V436.9H712.7V437.2H713.6V434.8H714.5V433H715.3V430.6H716.2V431H717.1V428H718V426.2H718.9V425.8H719.7V423.6H720.6V420.1H721.5V418.3H722.4V417.3H723.3V415.9H724.1V413.3H725V412.6H725.9V410.7H726.8V409.5H727.7V407H728.5V405.3H729.4V401.1H730.3V402.1H731.2V399H732V396.9H732.9V395.9H733.8V392.1H734.7V392H735.6V386.7H736.4V382.3H737.3V380.7H738.2V374.1H739.1V368.1H740V366.1H740.8V365H741.7V365.7H742.6V368.9H743.5V367.9H744.3V361.6H745.2V352.6H746.1V339H747V321.8H747.9V307.2H748.7V303.7H749.6V303.5H750.5V304.2H751.4V305.2H752.3V309.9H753.1V325.5H754V343.5H754.9V364.3H755.8V371.6H756.7V371.1H757.5V368.9H758.4V359.2H759.3V350.7H760.2V342.7H761V338.4H761.9V338H762.8V338.7H763.7V341.2H764.6V355.5H765.4V370.3H766.3V379.2H767.2V387H768.1V393.7H769V395.5H769.8V396.4H770.7V399.1H771.6V400.7H772.5V398.8H773.4V400.6H774.2V400.9H775.1V404H776V403H776.9V406H777.7V408.9H778.6V411.3H779.5V412.8H780.4V414.9H781.3V416.9H782.1V419.4H783V419H783.9V421.8H784.8V423.4H785.7V425H786.5V428.7H787.4V427.7H788.3V430.1H789.2V431.6H790V432.7H790.9V435H791.8V434.7H792.7V437.2H793.6V438.2H794.4V438.9H795.3V438.6H796.2V438.6H797.1V440.1H798V441.3H798.8V439.4H799.7V441.6H800.6V440H801.5V441.5H802.4V442.5H803.2V442.8H804.1V442.2H805V442.1H805.9V443.4H806.7V442.7H807.6V442H808.5V444.3H809.4V445.4H810.3V445.5H811.1V446H812V445.5H812.9V445.7H813.8V446.3H814.7V444.7H815.5V447.5H816.4V446.4H817.3V443.6H818.2V444.6H819.1V445.3H819.9V445.5H820.8V444.5H821.7V445.8H822.6V446.3H823.4V447.6H824.3V446.7H825.2V447.4H826.1V447.6H827V447.8H827.8V447.5H828.7V448.1H829.6V447.4H830.5V449.6H831.4V449H832.2V447.5H833.1V449.3H834V448.2H834.9V447.6H835.8V445.8H836.6V443.4H837.5V440.8H838.4V434.3H839.3V429.4H840.1V427.4H841V426.6H841.9V430.1H842.8V434.7H843.7V437.3H844.5V440.4H845.4V442H846.3V441.5H847.2V439.3H848.1V437.4H848.9V436.5H849.8V436.9H850.7V439.5H851.6V441.8H852.4V444.5H853.3V446.8H854.2V448.9H855.1V449.6H856V448.9H856.8V449.7H857.7V449.7H858.6V452H859.5V452.4H860.4V449.9H861.2V450.1H862.1V449.3H863V450H863.9V450.5H864.8V450.7H865.6V451.9H866.5V450H867.4V451.3H868.3V450.4H869.1V450.7H870V450.5H870.9V449.9H871.8V450.9H872.7V450.5H873.5V450.6H874.4V449.9H875.3V447.9H876.2V449.5H877.1V448.2H877.9V448.6H878.8V448.8H879.7V449H880.6V450.7H881.5V449.7H882.3V448.7H883.2V450.8H884.1V450.2H885V450.6H885.8V449.6H886.7V450.6H887.6V448.1H888.5V449.7H889.4V450.6H890.2V447.7H891.1V448.5H892V449H892.9V449H893.8V449.9H894.6V449.8H895.5V448.9H896.4V448.6H897.3V448.5H898.1V449H899V449.4H899.9V449H900.8V447.7H901.7V447.3H902.5V448.8H903.4V448.9H904.3V447.5H905.2V448H906.1V448.2H906.9V450.1H907.8V449.4H908.7V449.7H909.6V449.3H910.5V451.1H911.3V448.7H912.2V449.7H913.1V449.7H914V451.2H914.8V450.2H915.7V448.9H916.6V451.4H917.5V449.6H918.4V449.2H919.2V450.3H920.1V449H921V449.9H921.9V448.6H922.8V449.2H923.6V449.5H924.5V447.9H925.4V448.9H926.3V448.3H927.2V450.4H928V449.7H928.9V448.3H929.8V448.2H930.7V449H931.5V448.3H932.4V450H933.3V448.9H934.2V450H935.1V448.7H935.5" stroke="#2a7f2a" stroke-width="1.45"/>
<path d="M536.5 449.8l.9 0 .9 0 .8 0 .9 0 .9 0 .9 0 .9 0 .8 0 .9 0 .9 0 .9 0 .8 0 .9 0 .9 0 .9 0 .9 0 .8 0 .9 0 .9 0 .9 0 .9 0 .8 0 .9 0 .9 0 .9 0 .9 0 .8 0 .9 0 .9 0 .9 0 .8 0 .9 0 .9 0 .9 0 .9 0 .8 0 .9 0 .9 0 .9 0 .9 0 .8 0 .9 0 .9 0 .9 0 .8 0 .9 0 .9 0 .9 0 .9 0 .8 0 .9 0 .9 0 .9 0 .9 0 .8 0 .9 0 .9 0 .9 0 .9 0 .8-.1 .9-.2 .9-.5 .9-1 .8-1.6 .9-2.1 .9-2.4 .9-1.9 .9-.7 .8 .7 .9 1.9 .9 2.4 .9 2.1 .9 1.6 .8 1 .9 .5 .9 .2 .9 .1 .9 0 .8 0 .9 0 .9 0 .9 0 .8 0 .9 0 .9 0 .9 0 .9 0 .8 0 .9 0 .9 0 .9 0 .9 0 .8 0 .9 0 .9 0 .9 0 .8 0 .9 0 .9 0 .9 0 .9 0 .8 0 .9-.1 .9-.2 .9-.3 .9-.6 .8-1 .9-1.1 .9-1 .9-.6 .9 0 .8 .6 .9 1.1 .9 1.1 .9 .9 .8 .6 .9 .3 .9 .1 .9 .1 .9 0 .8 0 .9 0 .9 0 .9 0 .9 0 .8 0 .9 0 .9 0 .9 0 .9 0 .8 0 .9 0 .9 0 .9 0 .8-.1 .9 0 .9 0 .9 0 .9 0 .8 0 .9 0 .9 0 .9 0 .9 0 .8 0 .9 0 .9-.1 .9 0 .8 0 .9 0 .9 0 .9 0 .9 0 .8-.1 .9 0 .9 0 .9 0 .9-.1 .8 0 .9-.1 .9 0 .9-.1 .9-.1 .8 0 .9-.1 .9-.1 .9-.1 .8-.1 .9-.1 .9-.1 .9-.1 .9-.1 .8-.2 .9-.1 .9-.2 .9-.2 .9-.2 .8-.2 .9-.2 .9-.2 .9-.3 .9-.3 .8-.3 .9-.3 .9-.4 .9-.4 .8-.4 .9-.4 .9-.5 .9-.5 .9-.6 .8-.6 .9-.7 .9-.7 .9-.7 .9-.8 .8-.9 .9-.9 .9-1 .9-1 .8-1.1 .9-1.2 .9-1.2 .9-1.3 .9-1.3 .8-1.4 .9-1.5 .9-1.5 .9-1.6 .9-1.6 .8-1.7 .9-1.7 .9-1.8 .9-1.8 .9-1.7 .8-1.8 .9-1.8 .9-1.8 .9-1.9 .8-1.8 .9-1.7 .9-1.9 .9-2.1 .9-2.4 .8-2.6 .9-3 .9-3.2 .9-3.6 .9-4.3 .8-5.3 .9-4 .9-3 .9-1.7 .9 1.3 .8 3.2 .9 .1 .9-6.6 .9-9.6 .8-14 .9-16.7 .9-13.4 .9-4.4 .9 0 .8 0 .9 0 .9 5.2 .9 16.8 .9 17.5 .8 19.9 .9 6.8 .9 1.1 .9-2.6 .9-9.6 .8-8.5 .9-7.5 .9-4.4 .9 0 .8 .5 .9 2.8 .9 13.7 .9 13.7 .9 9.1 .8 8.3 .9 6.1 .9 2.6 .9 1.5 .9 1.1 .8 .8 .9 .7 .9 .8 .9 .9 .8 1.1 .9 1.7 .9 2 .9 2.2 .9 2.2 .8 2 .9 1.9 .9 1.9 .9 1.8 .9 1.7 .8 1.7 .9 1.6 .9 1.5 .9 1.4 .9 1.4 .8 1.3 .9 1.3 .9 1.1 .9 1.1 .8 1.1 .9 .9 .9 1 .9 .8 .9 .8 .8 .8 .9 .7 .9 .7 .9 .6 .9 .6 .8 .5 .9 .5 .9 .4 .9 .5 .9 .4 .8 .4 .9 .3 .9 .3 .9 .3 .8 .3 .9 .3 .9 .3 .9 .2 .9 .3 .8 .2 .9 .2 .9 .2 .9 .2 .9 .2 .8 .2 .9 .2 .9 .1 .9 .2 .8 .2 .9 .1 .9 .2 .9 .2 .9 .1 .8 .2 .9 .1 .9 .1 .9 .2 .9 .1 .8 .1 .9 .2 .9 .2 .9 .1 .9 .1 .8-.2 .9-.7 .9-1.6 .9-2.9 .8-4.5 .9-5.5 .9-5.2 .9-3.1 .9-.1 .8 2.7 .9 4.1 .9 4 .9 2.8 .9 .9 .8-.7 .9-1.8 .9-1.7 .9-.7 .9 .9 .8 2.4 .9 3.1 .9 2.9 .9 2.2 .8 1.3 .9 .6 .9 .3 .9 0 .9 .1 .8 0 .9 0 .9 0 .9 0 .9 0 .8 0 .9 0 .9 0 .9 0 .8 0 .9 0 .9 0 .9 0 .9 0 .8 0 .9 0 .9 0 .9 0 .9 0 .8 0 .9 0 .9 0 .9 0 .9 0 .8 0 .9 0 .9 0 .9 0 .8 0 .9 0 .9 0 .9 0 .9 0 .8 0 .9 0 .9 0 .9 0 .9 0 .8 0 .9 0 .9 0 .9 0 .9 0 .8 0 .9 0 .9 0 .9 0 .8 .1 .9 0 .9 0 .9 0 .9 0 .8 0 .9 0 .9 0 .9 0 .9 0 .8 0 .9 0 .9 0 .9 .1 .8 0 .9 0 .9 0 .9 0 .9 0 .8 0 .9 0 .9 0 .9 .1 .9 0 .8 0 .9 0 .9 0 .9 0 .9 0 .8 .1 .9 0 .9 0 .9 0 .8 0 .9 0 .9 .1 .9 0 .9 0 .8 0 .9 0 .9 0" stroke="#e8281e" stroke-width="0.9"/>
<path d="M536.5 449.8l3.5 0 3.5 0 3.5 0 3.6 0 3.5 0 3.5 0 3.5 0 3.5 0 3.5 0 3.6 0 3.5 0 3.5 0 3.5 0 3.5 0 3.5 0 3.5 0 3.6 0 3.5 0 3.5 0 3.5 0 3.5 0 3.5 0 3.6 0 3.5 0 3.5 0 3.5 0 3.5 0 3.5 0 3.5 0 3.6 0 3.5 0 3.5 0 3.5 0 3.5 0 3.5 0 3.6 0 3.5 0 3.5 0 3.5 0 3.5 0 3.5 0 3.5 0 3.6 0 3.5 0 3.5 0 3.5 0 3.5 0 3.5 0 3.6 0 3.5 0 3.5 0 3.5 0 3.5 0 3.5 0 3.5 0 3.6 0 3.5 0 3.5 0 3.5 0 3.5 0 3.5 0 3.6 0 3.5 0 3.5 0 3.5 0 3.5 0 3.5 0 3.5 0 3.6 0 3.5 0 3.5 0 3.5 0 3.5 0 3.5 0 3.6 0 3.5 0 3.5 0 3.5 0 3.5 0 3.5 0 3.5 0 3.6 0 3.5 0 3.5 0 3.5 0 3.5 0 3.5 0 3.6 0 3.5 0 3.5 0 3.5 0 3.5 0 3.5 0 3.5 0 3.6 0 3.5 0 3.5 0 3.5 0 3.5 0 3.5 0 3.6 0 3.5 0 3.5 0 3.5 0 3.5 0 3.5 0 3.5 0 3.6 0 3.5 0 3.5 0 3.5 0 3.5 0 3.5 0" stroke="#40f0ff" stroke-width="1.0" stroke-dasharray="2.5,2"/>
<path d="M590.1 471.2l.9-.5 .9-1 .8-1.6 .9-2.2 .9-2.3 .9-1.9 .9-.7 .8 .7 .9 1.9 .9 2.3 .9 2.2 .9 1.6 .8 1 .9 .5" stroke="#2828ff" stroke-width="1.2"/>
<path d="M627.9 471.2l.9-.3 .9-.6 .8-.9 .9-1.1 .9-1.1 .9-.6 .9 0 .8 .7 .9 1 .9 1.1 .9 .9 .8 .6 .9 .4" stroke="#2828ff" stroke-width="1.2"/>
<path d="M682.4 471.2l1.7-.1 1.8-.1 1.8-.2 1.7-.2 1.8-.3 1.7-.3 1.8-.4 1.8-.4 1.7-.6 1.8-.7 1.7-.8 1.8-1 1.7-1.1 1.8-1.4 1.8-1.5 1.7-1.8 1.8-1.9 1.7-2.3 1.8-2.4 1.7-2.8 1.8-2.9 1.8-3.3 1.7-3.4 1.8-3.6 1.7-3.8 1.8-3.9 1.7-4 1.8-4.1 1.8-4 1.7-3.9 1.8-3.8 1.7-3.6 1.8-3.2 1.8-3 1.7-2.5 1.8-2.1 1.7-1.6 1.8-1 1.7-.5 1.8 0 1.8 .7 1.7 1.1 1.8 1.7 1.7 2.2 1.8 2.6 1.7 3 1.8 3.3 1.8 3.6 1.7 3.8 1.8 4 1.7 4 1.8 4.1 1.7 4 1.8 3.9 1.8 3.7 1.7 3.6 1.8 3.4 1.7 3.2 1.8 2.9 1.8 2.7 1.7 2.4 1.8 2.2 1.7 1.9 1.8 1.7 1.7 1.5 1.8 1.3 1.8 1.1 1.7 .9 1.8 .8 1.7 .7 1.8 .6 1.7 .4 1.8 .4 1.8 .3 1.7 .2 1.8 .2 1.7 .2 1.8 .1" stroke="#30f030" stroke-width="1.4"/>
<path d="M742.2 471.4l.8-.3 .9-1.5 .9-4.9 .9-11.3 .8-18.4 .9-18.5 .9-7.3 .9 9.3 .9 19.2 .8 17.6 .9 10.4 .9 4.2 .9 1.3" stroke="#2828ff" stroke-width="1.2" stroke-dasharray="2.5,2"/>
<path d="M747.4 471.2l.9-2.1 .9-8.7 .9-21.3 .8-26.8 .9-8.9 .9 18.9 .9 26.9 .9 15.9 .8 5.3 .9 1" stroke="#ff2020" stroke-width="1.2" stroke-dasharray="2.5,2"/>
<path d="M734.2 471.4l.9-.3 .9-.6 .9-1.3 .9-2.1 .8-3 .9-3.5 .9-2.9 .9-1.5 .9 .7 .8 2.4 .9 3.4 .9 3.3 .9 2.5 .8 1.6 .9 .8 .9 .4" stroke="#8020b0" stroke-width="1.2" stroke-dasharray="2.5,2"/>
<path d="M753.6 471.3l.9-.4 .8-.8 .9-1.8 .9-3.4 .9-5.3 .9-7.5 .8-8.8 .9-8.5 .9-6 .9-1.8 .8 3.1 .9 6.8 .9 8.8 .9 8.6 .9 6.9 .8 4.8 .9 2.9 .9 1.5 .9 .7 .9 .3" stroke="#8020b0" stroke-width="1.2" stroke-dasharray="2.5,2"/>
<path d="M833.6 471.3l.8-.3 .9-.8 .9-1.8 .9-3.1 .8-4.6 .9-5.6 .9-5.3 .9-3.1 .9 .1 .8 3.3 .9 5.3 .9 5.6 .9 4.6 .9 3 .8 1.6 .9 .8 .9 .3" stroke="#8020b0" stroke-width="1.2" stroke-dasharray="2.5,2"/>
<path d="M842.3 471.4l.9-.3 .9-.7 .9-1.3 .9-2.1 .8-2.9 .9-3.2 .9-2.6 .9-1.1 .9 .8 .8 2.5 .9 3.2 .9 3 .9 2.2 .8 1.4 .9 .7 .9 .3" stroke="#8020b0" stroke-width="1.2" stroke-dasharray="2.5,2"/>
</g>
<g clip-path="url(#c4r)" fill="none">
<path d="M536.5 504.8H536.9V508.9H537.8V498.4H538.7V491.5H539.6V484.1H540.5V492.4H541.3V497.5H542.2V498.9H543.1V484.8H544V477.2H544.8V490.9H545.7V506.6H546.6V506.7H547.5V486.4H548.4V501.9H549.2V521.9H550.1V508.8H551V519.7H551.9V515.2H552.8V513.6H553.6V515H554.5V502.6H555.4V507.3H556.3V511.5H557.2V502.1H558V498.4H558.9V521.2H559.8V509.3H560.7V516.6H561.5V510.2H562.4V521.2H563.3V510.2H564.2V511.5H565.1V514.9H565.9V522.6H566.8V517.7H567.7V524.9H568.6V528.1H569.5V514H570.3V525.8H571.2V503.9H572.1V506H573V527.7H573.9V503.7H574.7V512.5H575.6V498.7H576.5V495.8H577.4V512.4H578.2V495.7H579.1V496.4H580V486.8H580.9V508.4H581.8V493.6H582.6V512.8H583.5V508.1H584.4V514.3H585.3V494.5H586.2V502.6H587V485H587.9V499.9H588.8V496.3H589.7V494.3H590.5V505.3H591.4V498.5H592.3V484.2H593.2V499.1H594.1V493.5H594.9V495.8H595.8V491.3H596.7V502.1H597.6V502.7H598.5V502.1H599.3V506.5H600.2V518.3H601.1V505H602V526.9H602.9V527.2H603.7V528.2H604.6V507.3H605.5V518.2H606.4V522.1H607.2V521.8H608.1V505.9H609V517.7H609.9V518.3H610.8V500.2H611.6V516.1H612.5V508H613.4V505.5H614.3V510.3H615.2V508.1H616V497.1H616.9V515.7H617.8V524H618.7V530.4H619.6V516.1H620.4V517.2H621.3V510.6H622.2V515.5H623.1V513.5H623.9V513.3H624.8V509H625.7V500.6H626.6V503.6H627.5V497.8H628.3V480.5H629.2V492.8H630.1V511.1H631V480.9H631.9V493.4H632.7V504.9H633.6V488.1H634.5V496.3H635.4V502.4H636.2V503.4H637.1V507.8H638V499.9H638.9V492.3H639.8V506.3H640.6V500.6H641.5V487.7H642.4V515.3H643.3V500.7H644.2V503.9H645V508.4H645.9V505.6H646.8V494.1H647.7V488H648.6V495.3H649.4V489.2H650.3V483.2H651.2V487.6H652.1V483.4H652.9V488H653.8V488.4H654.7V476.2H655.6V486.4H656.5V489.5H657.3V482.6H658.2V495.8H659.1V489.3H660V478.4H660.9V479.9H661.7V472.3H662.6V487.3H663.5V501.7H664.4V471.7H665.3V480.1H666.1V499.8H667V477.7H667.9V489.6H668.8V506.1H669.6V493.3H670.5V494H671.4V475H672.3V496.7H673.2V491.9H674V492.3H674.9V493.5H675.8V498.9H676.7V489.4H677.6V482.7H678.4V488.1H679.3V503.3H680.2V506.3H681.1V495.2H682V502.6H682.8V501.4H683.7V510.2H684.6V476.5H685.5V485.3H686.3V502.2H687.2V485.4H688.1V482.2H689V517.2H689.9V502.1H690.7V502.6H691.6V495.2H692.5V504.2H693.4V507H694.3V506.8H695.1V490.3H696V487.9H696.9V512.3H697.8V515.5H698.6V482H699.5V514.5H700.4V509.8H701.3V503.4H702.2V498.6H703V493.2H703.9V499H704.8V510.9H705.7V499.3H706.6V502.9H707.4V489.7H708.3V508.6H709.2V522.4H710.1V521.6H711V500.6H711.8V520H712.7V535.2H713.6V521.8H714.5V516.2H715.3V504.4H716.2V522.8H717.1V505.5H718V502.1H718.9V513.7H719.7V507.3H720.6V488.1H721.5V487.4H722.4V494.3H723.3V498.1H724.1V489.9H725V500.7H725.9V499.6H726.8V506.2H727.7V498.5H728.5V499.9H729.4V475.1H730.3V503.2H731.2V491.1H732V491.6H732.9V505.6H733.8V493.2H734.7V522.9H735.6V501.1H736.4V492.8H737.3V520.9H738.2V508.2H739.1V486.8H740V497.5H740.8V504.2H741.7V496.9H742.6V497.8H743.5V486H744.3V488.4H745.2V495.2H746.1V498.9H747V493.7H747.9V481.6H748.7V490.8H749.6V488.6H750.5V496.1H751.4V506.7H752.3V501.7H753.1V489.4H754V494.2H754.9V502.9H755.8V508.8H756.7V492.5H757.5V495.9H758.4V495.6H759.3V495.5H760.2V490.4H761V491.4H761.9V486.7H762.8V488.5H763.7V486.3H764.6V492.3H765.4V503.4H766.3V501.1H767.2V495.9H768.1V502.6H769V493.9H769.8V487.5H770.7V504.5H771.6V512.7H772.5V485.7H773.4V496.6H774.2V490.9H775.1V510.1H776V482.9H776.9V492.3H777.7V500.3H778.6V502.2H779.5V497.7H780.4V499.8H781.3V500.3H782.1V507.6H783V485.8H783.9V497.7H784.8V497.1H785.7V497.9H786.5V521.7H787.4V497.6H788.3V508.2H789.2V511H790V511H790.9V523.5H791.8V509.2H792.7V524.4H793.6V526.1H794.4V524.4H795.3V512.7H796.2V504.3H797.1V513.1H798V518.2H798.8V492.1H799.7V509.3H800.6V487.2H801.5V497.5H802.4V502.6H803.2V501.4H804.1V490.8H805V486.4H805.9V495.8H806.7V485.1H807.6V474.7H808.5V495.5H809.4V504.1H810.3V503.1H811.1V505.6H812V497.8H812.9V497.1H813.8V500.9H814.7V482.4H815.5V509.3H816.4V496.4H817.3V465.4H818.2V474H819.1V478.6H819.9V479.4H820.8V467.7H821.7V479H822.6V483.1H823.4V494.7H824.3V483.9H825.2V489.9H826.1V489.9H827V490.9H827.8V486.2H828.7V490.6H829.6V481.9H830.5V504.1H831.4V495.6H832.2V478.8H833.1V496.4H834V486.6H834.9V487.4H835.8V485.9H836.6V491.3H837.5V510.8H838.4V501.2H839.3V503.2H840.1V515.1H841V506.9H841.9V515.9H842.8V521.6H843.7V506.5H844.5V510.2H845.4V517H846.3V519.6H847.2V515.3H848.1V512.8H848.9V511.4H849.8V506.5H850.7V508.4H851.6V499.5H852.4V497.3H853.3V498.1H854.2V507.2H855.1V507H856V498H856.8V504.8H857.7V504.9H858.6V529H859.5V533H860.4V507.5H861.2V509.4H862.1V501.2H863V508.1H863.9V513.1H864.8V515.1H865.6V528.3H866.5V507.7H867.4V521.6H868.3V512.1H869.1V514.9H870V513.8H870.9V506.7H871.8V516.9H872.7V513H873.5V514H874.4V506.7H875.3V486H876.2V503.2H877.1V489.1H877.9V493.3H878.8V495.8H879.7V497.2H880.6V515.7H881.5V504.8H882.3V494.9H883.2V515.9H884.1V509.5H885V514.1H885.8V503.2H886.7V513.9H887.6V487.6H888.5V504.3H889.4V514.1H890.2V483.8H891.1V491.8H892V496.7H892.9V497.4H893.8V506.1H894.6V505H895.5V496H896.4V493.3H897.3V491.8H898.1V496.7H899V501.1H899.9V496.9H900.8V483.6H901.7V479.4H902.5V494.7H903.4V495.7H904.3V480.4H905.2V486H906.1V487.5H906.9V507.4H907.8V500.6H908.7V503.7H909.6V498.9H910.5V517.9H911.3V492.6H912.2V502.8H913.1V502.7H914V517.9H914.8V507.4H915.7V494.5H916.6V519.9H917.5V501.6H918.4V496.8H919.2V508.4H920.1V494.1H921V504.2H921.9V490.1H922.8V496.6H923.6V499.2H924.5V482.5H925.4V492.1H926.3V486.3H927.2V507.3H928V500.9H928.9V486.2H929.8V484.8H930.7V493.1H931.5V485.5H932.4V502.2H933.3V490.5H934.2V502.5H935.1V488.5H935.5" stroke="#2020f0" stroke-width="1.05"/>
<line x1="536.5" y1="500.4" x2="935.5" y2="500.4" stroke="#40f040" stroke-width="1.1"/>
<line x1="536.5" y1="489.92" x2="935.5" y2="489.92" stroke="#60ff60" stroke-width="1.1" stroke-dasharray="3,3"/>
<line x1="536.5" y1="510.46" x2="935.5" y2="510.46" stroke="#60ff60" stroke-width="1.1" stroke-dasharray="3,3"/>
</g>
<g fill="none" stroke="#909090" stroke-width="1">
<rect x="536.5" y="294.5" width="399" height="177"/>
<rect x="536.5" y="479.5" width="399" height="41"/>
<path d="M542.5 471.5v-2.3 M542.5 294.5v2.3 M542.5 520.5v-1.2 M542.5 479.5v1.2 M548.5 471.5v-2.3 M548.5 294.5v2.3 M548.5 520.5v-1.2 M548.5 479.5v1.2 M554.5 471.5v-2.3 M554.5 294.5v2.3 M554.5 520.5v-1.2 M554.5 479.5v1.2 M559.5 471.5v-2.3 M559.5 294.5v2.3 M559.5 520.5v-1.2 M559.5 479.5v1.2 M565.5 471.5v-2.3 M565.5 294.5v2.3 M565.5 520.5v-1.2 M565.5 479.5v1.2 M571.5 471.5v-2.3 M571.5 294.5v2.3 M571.5 520.5v-1.2 M571.5 479.5v1.2 M577.5 471.5v-2.3 M577.5 294.5v2.3 M577.5 520.5v-1.2 M577.5 479.5v1.2 M583.5 471.5v-2.3 M583.5 294.5v2.3 M583.5 520.5v-1.2 M583.5 479.5v1.2 M589.5 471.5v-2.3 M589.5 294.5v2.3 M589.5 520.5v-1.2 M589.5 479.5v1.2 M595.5 471.5v-3.6 M595.5 294.5v3.6 M595.5 520.5v-2 M595.5 479.5v2 M600.5 471.5v-2.3 M600.5 294.5v2.3 M600.5 520.5v-1.2 M600.5 479.5v1.2 M606.5 471.5v-2.3 M606.5 294.5v2.3 M606.5 520.5v-1.2 M606.5 479.5v1.2 M612.5 471.5v-2.3 M612.5 294.5v2.3 M612.5 520.5v-1.2 M612.5 479.5v1.2 M618.5 471.5v-2.3 M618.5 294.5v2.3 M618.5 520.5v-1.2 M618.5 479.5v1.2 M624.5 471.5v-2.3 M624.5 294.5v2.3 M624.5 520.5v-1.2 M624.5 479.5v1.2 M630.5 471.5v-2.3 M630.5 294.5v2.3 M630.5 520.5v-1.2 M630.5 479.5v1.2 M636.5 471.5v-2.3 M636.5 294.5v2.3 M636.5 520.5v-1.2 M636.5 479.5v1.2 M641.5 471.5v-2.3 M641.5 294.5v2.3 M641.5 520.5v-1.2 M641.5 479.5v1.2 M647.5 471.5v-2.3 M647.5 294.5v2.3 M647.5 520.5v-1.2 M647.5 479.5v1.2 M653.5 471.5v-3.6 M653.5 294.5v3.6 M653.5 520.5v-2 M653.5 479.5v2 M659.5 471.5v-2.3 M659.5 294.5v2.3 M659.5 520.5v-1.2 M659.5 479.5v1.2 M665.5 471.5v-2.3 M665.5 294.5v2.3 M665.5 520.5v-1.2 M665.5 479.5v1.2 M671.5 471.5v-2.3 M671.5 294.5v2.3 M671.5 520.5v-1.2 M671.5 479.5v1.2 M677.5 471.5v-2.3 M677.5 294.5v2.3 M677.5 520.5v-1.2 M677.5 479.5v1.2 M682.5 471.5v-2.3 M682.5 294.5v2.3 M682.5 520.5v-1.2 M682.5 479.5v1.2 M688.5 471.5v-2.3 M688.5 294.5v2.3 M688.5 520.5v-1.2 M688.5 479.5v1.2 M694.5 471.5v-2.3 M694.5 294.5v2.3 M694.5 520.5v-1.2 M694.5 479.5v1.2 M700.5 471.5v-2.3 M700.5 294.5v2.3 M700.5 520.5v-1.2 M700.5 479.5v1.2 M706.5 471.5v-2.3 M706.5 294.5v2.3 M706.5 520.5v-1.2 M706.5 479.5v1.2 M712.5 471.5v-3.6 M712.5 294.5v3.6 M712.5 520.5v-2 M712.5 479.5v2 M718.5 471.5v-2.3 M718.5 294.5v2.3 M718.5 520.5v-1.2 M718.5 479.5v1.2 M723.5 471.5v-2.3 M723.5 294.5v2.3 M723.5 520.5v-1.2 M723.5 479.5v1.2 M729.5 471.5v-2.3 M729.5 294.5v2.3 M729.5 520.5v-1.2 M729.5 479.5v1.2 M735.5 471.5v-2.3 M735.5 294.5v2.3 M735.5 520.5v-1.2 M735.5 479.5v1.2 M741.5 471.5v-2.3 M741.5 294.5v2.3 M741.5 520.5v-1.2 M741.5 479.5v1.2 M747.5 471.5v-2.3 M747.5 294.5v2.3 M747.5 520.5v-1.2 M747.5 479.5v1.2 M753.5 471.5v-2.3 M753.5 294.5v2.3 M753.5 520.5v-1.2 M753.5 479.5v1.2 M759.5 471.5v-2.3 M759.5 294.5v2.3 M759.5 520.5v-1.2 M759.5 479.5v1.2 M765.5 471.5v-2.3 M765.5 294.5v2.3 M765.5 520.5v-1.2 M765.5 479.5v1.2 M770.5 471.5v-3.6 M770.5 294.5v3.6 M770.5 520.5v-2 M770.5 479.5v2 M776.5 471.5v-2.3 M776.5 294.5v2.3 M776.5 520.5v-1.2 M776.5 479.5v1.2 M782.5 471.5v-2.3 M782.5 294.5v2.3 M782.5 520.5v-1.2 M782.5 479.5v1.2 M788.5 471.5v-2.3 M788.5 294.5v2.3 M788.5 520.5v-1.2 M788.5 479.5v1.2 M794.5 471.5v-2.3 M794.5 294.5v2.3 M794.5 520.5v-1.2 M794.5 479.5v1.2 M800.5 471.5v-2.3 M800.5 294.5v2.3 M800.5 520.5v-1.2 M800.5 479.5v1.2 M806.5 471.5v-2.3 M806.5 294.5v2.3 M806.5 520.5v-1.2 M806.5 479.5v1.2 M811.5 471.5v-2.3 M811.5 294.5v2.3 M811.5 520.5v-1.2 M811.5 479.5v1.2 M817.5 471.5v-2.3 M817.5 294.5v2.3 M817.5 520.5v-1.2 M817.5 479.5v1.2 M823.5 471.5v-2.3 M823.5 294.5v2.3 M823.5 520.5v-1.2 M823.5 479.5v1.2 M829.5 471.5v-3.6 M829.5 294.5v3.6 M829.5 520.5v-2 M829.5 479.5v2 M835.5 471.5v-2.3 M835.5 294.5v2.3 M835.5 520.5v-1.2 M835.5 479.5v1.2 M841.5 471.5v-2.3 M841.5 294.5v2.3 M841.5 520.5v-1.2 M841.5 479.5v1.2 M847.5 471.5v-2.3 M847.5 294.5v2.3 M847.5 520.5v-1.2 M847.5 479.5v1.2 M852.5 471.5v-2.3 M852.5 294.5v2.3 M852.5 520.5v-1.2 M852.5 479.5v1.2 M858.5 471.5v-2.3 M858.5 294.5v2.3 M858.5 520.5v-1.2 M858.5 479.5v1.2 M864.5 471.5v-2.3 M864.5 294.5v2.3 M864.5 520.5v-1.2 M864.5 479.5v1.2 M870.5 471.5v-2.3 M870.5 294.5v2.3 M870.5 520.5v-1.2 M870.5 479.5v1.2 M876.5 471.5v-2.3 M876.5 294.5v2.3 M876.5 520.5v-1.2 M876.5 479.5v1.2 M882.5 471.5v-2.3 M882.5 294.5v2.3 M882.5 520.5v-1.2 M882.5 479.5v1.2 M888.5 471.5v-3.6 M888.5 294.5v3.6 M888.5 520.5v-2 M888.5 479.5v2 M893.5 471.5v-2.3 M893.5 294.5v2.3 M893.5 520.5v-1.2 M893.5 479.5v1.2 M899.5 471.5v-2.3 M899.5 294.5v2.3 M899.5 520.5v-1.2 M899.5 479.5v1.2 M905.5 471.5v-2.3 M905.5 294.5v2.3 M905.5 520.5v-1.2 M905.5 479.5v1.2 M911.5 471.5v-2.3 M911.5 294.5v2.3 M911.5 520.5v-1.2 M911.5 479.5v1.2 M917.5 471.5v-2.3 M917.5 294.5v2.3 M917.5 520.5v-1.2 M917.5 479.5v1.2 M923.5 471.5v-2.3 M923.5 294.5v2.3 M923.5 520.5v-1.2 M923.5 479.5v1.2 M929.5 471.5v-2.3 M929.5 294.5v2.3 M929.5 520.5v-1.2 M929.5 479.5v1.2 M934.5 471.5v-2.3 M934.5 294.5v2.3 M934.5 520.5v-1.2 M934.5 479.5v1.2 M536.5 461.5h4 M935.5 461.5h-4 M536.5 451.5h4 M935.5 451.5h-4 M536.5 441.5h4 M935.5 441.5h-4 M536.5 431.5h8 M935.5 431.5h-8 M536.5 421.5h4 M935.5 421.5h-4 M536.5 411.5h4 M935.5 411.5h-4 M536.5 401.5h4 M935.5 401.5h-4 M536.5 392.5h8 M935.5 392.5h-8 M536.5 382.5h4 M935.5 382.5h-4 M536.5 372.5h4 M935.5 372.5h-4 M536.5 362.5h4 M935.5 362.5h-4 M536.5 352.5h8 M935.5 352.5h-8 M536.5 342.5h4 M935.5 342.5h-4 M536.5 332.5h4 M935.5 332.5h-4 M536.5 322.5h4 M935.5 322.5h-4 M536.5 312.5h8 M935.5 312.5h-8 M536.5 302.5h4 M935.5 302.5h-4"/>
</g>
<path d="M536.5 479.5h8M536.5 520.5h8" stroke="#6e6e6e" stroke-width="1.3" fill="none"/>
<line x1="536.5" y1="472" x2="935.5" y2="472" stroke="#2418e8" stroke-width="2"/>
<line x1="536.5" y1="472" x2="935.5" y2="472" stroke="#68009c" stroke-width="2" stroke-dasharray="3,2"/>
<g fill="#8c8c8c" font-family="'DejaVu Sans', 'Liberation Sans', sans-serif">
<text x="531.9" y="472.1" font-size="12.2" text-anchor="end" textLength="7" lengthAdjust="spacingAndGlyphs">0</text>
<text x="531.9" y="436.77" font-size="12.2" text-anchor="end" textLength="14" lengthAdjust="spacingAndGlyphs">20</text>
<text x="531.9" y="397.04" font-size="12.2" text-anchor="end" textLength="14" lengthAdjust="spacingAndGlyphs">40</text>
<text x="531.9" y="357.31" font-size="12.2" text-anchor="end" textLength="14" lengthAdjust="spacingAndGlyphs">60</text>
<text x="531.9" y="317.58" font-size="12.2" text-anchor="end" textLength="14" lengthAdjust="spacingAndGlyphs">80</text>
<text x="532.3" y="488.5" font-size="12.2" text-anchor="end" textLength="7" lengthAdjust="spacingAndGlyphs">2</text>
<text x="532.3" y="505" font-size="12.2" text-anchor="end" textLength="7" lengthAdjust="spacingAndGlyphs">0</text>
<text x="532.3" y="521.5" font-size="12.2" text-anchor="end" textLength="17" lengthAdjust="spacingAndGlyphs">&#8722;2</text>
<text x="536.5" y="538.1" font-size="12.4" text-anchor="middle" textLength="31" lengthAdjust="spacingAndGlyphs">6200</text>
<text x="595.09" y="538.1" font-size="12.4" text-anchor="middle" textLength="31" lengthAdjust="spacingAndGlyphs">6300</text>
<text x="653.68" y="538.1" font-size="12.4" text-anchor="middle" textLength="31" lengthAdjust="spacingAndGlyphs">6400</text>
<text x="712.27" y="538.1" font-size="12.4" text-anchor="middle" textLength="31" lengthAdjust="spacingAndGlyphs">6500</text>
<text x="770.86" y="538.1" font-size="12.4" text-anchor="middle" textLength="31" lengthAdjust="spacingAndGlyphs">6600</text>
<text x="829.45" y="538.1" font-size="12.4" text-anchor="middle" textLength="31" lengthAdjust="spacingAndGlyphs">6700</text>
<text x="888.04" y="538.1" font-size="12.4" text-anchor="middle" textLength="31" lengthAdjust="spacingAndGlyphs">6800</text>
<text x="736" y="552.3" font-size="12" text-anchor="middle" textLength="122.5" lengthAdjust="spacingAndGlyphs">rest wavelength (&#197;)</text>
<text y="309.1" font-size="13.8"><tspan x="540.7" textLength="37.5" lengthAdjust="spacingAndGlyphs">2365</tspan><tspan x="577.4" textLength="13.2" lengthAdjust="spacingAndGlyphs">-</tspan><tspan x="589.4" textLength="46" lengthAdjust="spacingAndGlyphs">53739</tspan><tspan x="634.7" textLength="12.8" lengthAdjust="spacingAndGlyphs">-</tspan><tspan x="646.8" textLength="36.8" lengthAdjust="spacingAndGlyphs">0359</tspan></text>
<text x="541.3" y="326.8" font-size="13.8" textLength="88.5" lengthAdjust="spacingAndGlyphs"><tspan font-size="15">&#967;</tspan><tspan font-size="9" dy="-7">2</tspan><tspan dy="7">/dof~1.60</tspan></text>
<text x="505.3" y="384.2" font-size="12" text-anchor="middle" textLength="135.5" lengthAdjust="spacingAndGlyphs" transform="rotate(-90 505.3 384.2)">F<tspan font-size="8" dy="3">&#955;</tspan><tspan dy="-3"> (10</tspan><tspan font-size="9.5" dy="-5">&#8722;17</tspan><tspan dy="5">erg/s/cm</tspan><tspan font-size="8" dy="-5">2</tspan><tspan dy="5">/&#197;)</tspan></text>
<text x="504.8" y="501" font-size="11.6" text-anchor="middle" textLength="49.7" lengthAdjust="spacingAndGlyphs" transform="rotate(-90 504.8 501)">residuals</text>
</g>
<clipPath id="c5m"><rect x="1011.5" y="294.5" width="398" height="177"/></clipPath>
<clipPath id="c5r"><rect x="1011.5" y="479.5" width="398" height="41"/></clipPath>
<g clip-path="url(#c5m)" fill="none">
<path d="M1011.5 443.8H1011.9V442H1012.8V451.7H1013.7V446.4H1014.6V444H1015.4V443.5H1016.3V445.3H1017.2V443.6H1018.1V446.5H1019V446H1019.8V446.9H1020.7V449.7H1021.6V449.2H1022.5V446.4H1023.3V448.6H1024.2V444.3H1025.1V444.2H1026V442.9H1026.8V446.9H1027.7V443.6H1028.6V448.6H1029.5V448.3H1030.3V446.2H1031.2V445.8H1032.1V450.1H1033V450.6H1033.9V446.1H1034.7V449H1035.6V444.4H1036.5V446.3H1037.4V446.5H1038.2V446.5H1039.1V444.8H1040V446.8H1040.9V443.8H1041.7V447.1H1042.6V446.3H1043.5V447.3H1044.4V444.5H1045.3V445.9H1046.1V448.2H1047V442.2H1047.9V447.9H1048.8V447.7H1049.6V446.9H1050.5V444.1H1051.4V448.6H1052.3V446.8H1053.1V448.2H1054V451.6H1054.9V446.5H1055.8V445.8H1056.6V448.5H1057.5V447.8H1058.4V450.8H1059.3V450.6H1060.2V447.8H1061V445.2H1061.9V447.4H1062.8V445.5H1063.7V443.8H1064.5V445.5H1065.4V443.3H1066.3V437.7H1067.2V440.6H1068V439H1068.9V448.3H1069.8V444H1070.7V444.6H1071.6V446.3H1072.4V447.5H1073.3V445.3H1074.2V446.3H1075.1V445.3H1075.9V447.7H1076.8V444.6H1077.7V448.3H1078.6V446.8H1079.4V447H1080.3V443.3H1081.2V449.5H1082.1V447.1H1082.9V443.5H1083.8V447.7H1084.7V449.1H1085.6V445.8H1086.5V447.3H1087.3V445H1088.2V449.1H1089.1V446.8H1090V445.8H1090.8V445H1091.7V449.8H1092.6V444.1H1093.5V449.3H1094.3V450.7H1095.2V449.5H1096.1V447.1H1097V448.2H1097.9V446.5H1098.7V446.5H1099.6V446.9H1100.5V448.2H1101.4V442.9H1102.2V448.6H1103.1V442.3H1104V440.8H1104.9V447.8H1105.7V452.8H1106.6V449H1107.5V448.9H1108.4V452.8H1109.2V445.4H1110.1V444.5H1111V444.7H1111.9V448.7H1112.8V447.3H1113.6V450.1H1114.5V447.1H1115.4V448.9H1116.3V446.4H1117.1V448H1118V444.8H1118.9V445.1H1119.8V444.1H1120.6V450.4H1121.5V450.8H1122.4V445.8H1123.3V448H1124.1V445.9H1125V446.2H1125.9V446.6H1126.8V445H1127.7V446H1128.5V446.3H1129.4V449.4H1130.3V443.5H1131.2V447H1132V444.7H1132.9V446.3H1133.8V444.1H1134.7V446.4H1135.5V446.1H1136.4V446.2H1137.3V448.1H1138.2V447.8H1139.1V446.9H1139.9V446.9H1140.8V448.8H1141.7V441.3H1142.6V448.7H1143.4V447.1H1144.3V440.7H1145.2V447.6H1146.1V444.2H1146.9V444.3H1147.8V446.2H1148.7V448.8H1149.6V449H1150.4V445.4H1151.3V444.3H1152.2V449.9H1153.1V444.6H1154V446.2H1154.8V442.6H1155.7V444.1H1156.6V446.1H1157.5V445.1H1158.3V443.8H1159.2V440.7H1160.1V436.6H1161V442.4H1161.8V442.7H1162.7V441.2H1163.6V442.5H1164.5V440.9H1165.4V441.3H1166.2V442.1H1167.1V443.8H1168V441.6H1168.9V439.9H1169.7V441.8H1170.6V438.6H1171.5V439.9H1172.4V442.3H1173.2V438.1H1174.1V444.4H1175V439.1H1175.9V437.4H1176.7V441.8H1177.6V441.1H1178.5V438.5H1179.4V437H1180.3V438.9H1181.1V439.1H1182V437.3H1182.9V438.5H1183.8V441.5H1184.6V439H1185.5V438.3H1186.4V441.3H1187.3V436.7H1188.1V438.9H1189V435.2H1189.9V439.8H1190.8V438H1191.7V438.7H1192.5V431.9H1193.4V431.2H1194.3V429.8H1195.2V428.8H1196V429H1196.9V427.9H1197.8V432.4H1198.7V426.6H1199.5V427.1H1200.4V425.5H1201.3V426.3H1202.2V419.2H1203V420.3H1203.9V422.2H1204.8V415.6H1205.7V414.4H1206.6V413.9H1207.4V409.5H1208.3V407.3H1209.2V406.9H1210.1V400.9H1210.9V391.7H1211.8V387.1H1212.7V382.1H1213.6V379.9H1214.4V372.3H1215.3V363.6H1216.2V354.5H1217.1V350H1218V342.7H1218.8V330.5H1219.7V324.7H1220.6V317.4H1221.5V312.7H1222.3V312.6H1223.2V311.7H1224.1V315.1H1225V313.6H1225.8V313.1H1226.7V318.2H1227.6V335.3H1228.5V344.5H1229.3V348.5H1230.2V356.9H1231.1V357.4H1232V355H1232.9V359.1H1233.7V359.8H1234.6V363.5H1235.5V365.7H1236.4V365.1H1237.2V369.8H1238.1V372.1H1239V376.1H1239.9V381.9H1240.7V386H1241.6V391.6H1242.5V402.9H1243.4V404.4H1244.3V408.7H1245.1V409H1246V416.2H1246.9V414.8H1247.8V417.3H1248.6V419.4H1249.5V424.1H1250.4V423.5H1251.3V426.7H1252.1V424.8H1253V424.8H1253.9V431.2H1254.8V430.5H1255.6V429.7H1256.5V431.3H1257.4V427.4H1258.3V431.7H1259.2V431.4H1260V434.9H1260.9V429.4H1261.8V433H1262.7V432H1263.5V434H1264.4V439.4H1265.3V438.7H1266.2V438.4H1267V434.9H1267.9V437.5H1268.8V435.7H1269.7V436.2H1270.6V436.5H1271.4V435.1H1272.3V436.8H1273.2V441H1274.1V439H1274.9V433.8H1275.8V440.1H1276.7V434.8H1277.6V434.3H1278.4V439.6H1279.3V437.8H1280.2V442H1281.1V437.4H1281.9V441.2H1282.8V442.7H1283.7V440.9H1284.6V441.2H1285.5V441.6H1286.3V440H1287.2V440.8H1288.1V442H1289V438.4H1289.8V435.2H1290.7V440.6H1291.6V442.4H1292.5V443.2H1293.3V439.9H1294.2V442H1295.1V441.6H1296V446.3H1296.9V444.6H1297.7V444.9H1298.6V440.5H1299.5V443.5H1300.4V448.8H1301.2V442.5H1302.1V441.5H1303V441.5H1303.9V451H1304.7V444.7H1305.6V443.5H1306.5V444.3H1307.4V446.4H1308.2V450.1H1309.1V447.2H1310V447.1H1310.9V445.1H1311.8V445H1312.6V446.8H1313.5V444.2H1314.4V448.2H1315.3V447H1316.1V445.2H1317V443.4H1317.9V445H1318.8V441.2H1319.6V442.7H1320.5V445.6H1321.4V443.3H1322.3V445.6H1323.1V445.9H1324V447.2H1324.9V441.3H1325.8V442.7H1326.7V448.8H1327.5V443.1H1328.4V443.9H1329.3V447.2H1330.2V445.7H1331V442.1H1331.9V446.8H1332.8V446.8H1333.7V445.5H1334.5V450.6H1335.4V451.3H1336.3V451.8H1337.2V448.9H1338.1V446.8H1338.9V450.7H1339.8V451.8H1340.7V448.2H1341.6V449.3H1342.4V447H1343.3V448.6H1344.2V448.6H1345.1V448.3H1345.9V448H1346.8V450.2H1347.7V450.6H1348.6V444.5H1349.4V441.2H1350.3V445.6H1351.2V451.8H1352.1V448H1353V445.2H1353.8V451.4H1354.7V448.6H1355.6V448.2H1356.5V449.2H1357.3V449H1358.2V444.8H1359.1V448.2H1360V447.8H1360.8V443.5H1361.7V449.5H1362.6V452H1363.5V446.4H1364.4V443.5H1365.2V447.7H1366.1V447.6H1367V451.2H1367.9V450.4H1368.7V445H1369.6V445.3H1370.5V446.7H1371.4V449.4H1372.2V450.5H1373.1V450.1H1374V450.4H1374.9V446.4H1375.7V449.5H1376.6V448.8H1377.5V446.2H1378.4V446.2H1379.3V447.6H1380.1V446.6H1381V447.7H1381.9V452H1382.8V447.8H1383.6V448.5H1384.5V448.4H1385.4V447.1H1386.3V449H1387.1V445.1H1388V448.4H1388.9V447.8H1389.8V447.6H1390.7V448.9H1391.5V447.1H1392.4V446.8H1393.3V447.1H1394.2V450H1395V450.4H1395.9V449.7H1396.8V448.4H1397.7V452.6H1398.5V450.2H1399.4V450.8H1400.3V449.6H1401.2V450H1402V445.8H1402.9V446.4H1403.8V445.1H1404.7V449.4H1405.6V449H1406.4V448.2H1407.3V444.1H1408.2V444.5H1409.1V450.1H1409.5" stroke="#2a7f2a" stroke-width="1.45"/>
<path d="M1011.5 446.3l.9 0 .9 0 .8 0 .9 0 .9 0 .9 0 .8 0 .9 0 .9 0 .9 0 .8 0 .9 0 .9 0 .9 0 .8 0 .9 0 .9 0 .9 0 .9 0 .8 0 .9 0 .9 0 .9 0 .8 0 .9 0 .9 0 .9 0 .8 0 .9 0 .9 0 .9 0 .9 0 .8 0 .9 0 .9 0 .9 0 .8 0 .9 0 .9 0 .9 .1 .8 0 .9 0 .9 0 .9 0 .8 0 .9 0 .9 0 .9 0 .9 0 .8 0 .9 0 .9 0 .9 0 .8 0 .9 0 .9 0 .9 0 .8 0 .9 0 .9 0 .9 0 .9-1 .8-3.5 .9-2.9 .9 2.9 .9 3.6 .8 .9 .9 .1 .9 0 .9 0 .8 0 .9 0 .9 0 .9 0 .8 0 .9 0 .9 0 .9 0 .9 0 .8 0 .9 .1 .9 0 .9 0 .8 0 .9 0 .9 0 .9 0 .8 0 .9 0 .9 0 .9 0 .9 0 .8 0 .9 0 .9 0 .9 0 .8 0 .9 .1 .9 0 .9 0 .8 0 .9 0 .9-.6 .9-3.4 .8-5.1 .9 1.4 .9 5.3 .9 2.2 .9 .3 .8 0 .9 0 .9 0 .9 0 .8 0 .9 0 .9 0 .9 0 .8 0 .9 0 .9 0 .9 0 .9 0 .8 0 .9 0 .9 0 .9 0 .8 0 .9 0 .9 0 .9 0 .8 0 .9 0 .9-.1 .9 0 .8 0 .9 0 .9-.1 .9 0 .9 0 .8 0 .9-.1 .9 0 .9-.1 .8 0 .9-.1 .9 0 .9-.1 .8 0 .9-.1 .9-.1 .9 0 .9-.1 .8-.1 .9-.1 .9 0 .9-.1 .8-.1 .9-.1 .9-.1 .9-.1 .8-.1 .9-.1 .9-.2 .9-.1 .8-.1 .9-.1 .9-.1 .9-.2 .9-.1 .8-.1 .9-.2 .9-.1 .9-.2 .8-.1 .9-.2 .9-.1 .9-.2 .8-.1 .9-.2 .9-.2 .9-.1 .9-.2 .8-.2 .9-.1 .9-.2 .9-.2 .8-.2 .9-.1 .9-.2 .9-.2 .8-.2 .9-.2 .9-.2 .9-.2 .8-.2 .9-.3 .9-.2 .9-.3 .9-.3 .8-.3 .9-.4 .9-.3 .9-.5 .8-.4 .9-.5 .9-.6 .9-.6 .8-.7 .9-.8 .9-.8 .9-1 .9-1 .8-1.2 .9-1.3 .9-1.4 .9-1.3 .8-1.4 .9-1.5 .9-1.6 .9-1.9 .8-2.2 .9-2.5 .9-2.7 .9-2.7 .8-3.3 .9-3.7 .9-4.3 .9-4.7 .9-5 .8-5.3 .9-5.5 .9-6.4 .9-7.3 .8-7.8 .9-7.9 .9-7.8 .9-7.2 .8-8.2 .9-8.2 .9-5.3 .9 .2 .8 4.4 .9 2.1 .9-4.6 .9-2.4 .9 11.6 .8 16.9 .9 8.2 .9 3.1 .9 2.1 .8 1.7 .9 1.7 .9 2 .9 1.9 .8 1.8 .9 1.9 .9 2.1 .9 2.4 .9 3.1 .8 4.5 .9 5.7 .9 6.2 .9 6.1 .8 5.3 .9 4.1 .9 3.8 .9 3.6 .8 3.4 .9 3.1 .9 2.6 .9 2 .8 1.4 .9 1.4 .9 1.5 .9 1.6 .9 1.5 .8 1 .9 .9 .9 .8 .9 .6 .8 .6 .9 .4 .9 .4 .9 .3 .8 .3 .9 .3 .9 .2 .9 .2 .9 .2 .8 .2 .9 .2 .9 .2 .9 .1 .8 .2 .9 .2 .9 .2 .9 .2 .8 .2 .9 .1 .9 .2 .9 .2 .8 .2 .9 .2 .9 .2 .9 .2 .9 .2 .8 .2 .9 .2 .9 .2 .9 .2 .8 .3 .9 .2 .9 .2 .9 .2 .8 .2 .9 .2 .9 .3 .9 .2 .9 .2 .8 .2 .9 .2 .9 .3 .9 .2 .8 .2 .9 .2 .9 .2 .9 .2 .8 .2 .9 .2 .9 .2 .9 .2 .8 .2 .9 .2 .9 .2 .9 .1 .9 .2 .8 .1 .9 .1 .9 .1 .9 0 .8 0 .9-.1 .9-.3 .9-.3 .8-.4 .9-.5 .9-.5 .9-.6 .9-.5 .8-.5 .9-.3 .9-.1 .9 .1 .8 .3 .9 .5 .9 .6 .9 .7 .8 .7 .9 .8 .9 .7 .9 .6 .8 .5 .9 .4 .9 .3 .9 .3 .9 .2 .8 .1 .9 .1 .9 .1 .9 .1 .8 0 .9 .1 .9 0 .9 0 .8 0 .9 .1 .9 0 .9 0 .9 0 .8 .1 .9 0 .9 0 .9 0 .8 0 .9 0 .9 0 .9 .1 .8 0 .9 0 .9 0 .9 0 .8 0 .9 0 .9 0 .9 0 .9 0 .8 0 .9 0 .9 0 .9 0 .8 0 .9 0 .9 0 .9 0 .8 0 .9 0 .9 0 .9 0 .9-.1 .8 0 .9 0 .9 0 .9 0 .8 0 .9 0 .9 0 .9 0 .8 0 .9-.1 .9 0 .9 0 .8 0 .9 0 .9 0 .9 0 .9 0 .8 0 .9-.1 .9 0 .9 0 .8 0 .9 0 .9 0 .9 0 .8-.1 .9 0 .9 0 .9 0 .9 0 .8 0 .9 0 .9 0 .9-.1 .8 0 .9 0 .9 0 .9 0 .8 0 .9 0 .9 0 .9-.1 .8 0 .9 0 .9 0" stroke="#e8281e" stroke-width="0.9"/>
<path d="M1011.5 446.9l3.5 0 3.5 0 3.5 0 3.5 0 3.5 0 3.5 0 3.5 0 3.6 0 3.5 0 3.5 0 3.5 0 3.5 0 3.5 0 3.5 0 3.5 0 3.5 0 3.5 0 3.5 0 3.5 0 3.5 0 3.5 0 3.5 0 3.6 0 3.5 0 3.5 0 3.5 0 3.5 0 3.5 0 3.5 0 3.5 0 3.5 0 3.5 0 3.5 0 3.5 0 3.5 0 3.5 0 3.5 0 3.6 0 3.5 0 3.5 0 3.5 0 3.5 0 3.5 0 3.5 0 3.5 0 3.5 0 3.5 0 3.5 0 3.5 0 3.5 0 3.5 0 3.5 0 3.6 0 3.5 0 3.5 0 3.5 0 3.5 0 3.5 0 3.5 0 3.5 0 3.5 0 3.5 0 3.5 0 3.5 0 3.5 0 3.5 0 3.5 0 3.5 0 3.6 0 3.5 0 3.5 0 3.5 0 3.5 0 3.5 0 3.5 0 3.5 0 3.5 0 3.5 0 3.5 0 3.5 0 3.5 0 3.5 0 3.5 0 3.6 0 3.5 0 3.5 0 3.5 0 3.5 0 3.5 0 3.5 0 3.5 0 3.5 0 3.5 0 3.5 0 3.5 0 3.5 0 3.5 0 3.5 0 3.6 0 3.5 0 3.5 0 3.5 0 3.5 0 3.5 0 3.5 0 3.5 0 3.5 0 3.5 0 3.5 0 3.5 0 3.5 0 3.5 0 3.5 0" stroke="#40f0ff" stroke-width="1.0" stroke-dasharray="2.5,2"/>
<path d="M1065 471.4l.9-.9 .8-3.5 .9-3 .9 3 .9 3.5 .8 .9" stroke="#2828ff" stroke-width="1.2"/>
<path d="M1100.9 471.5l.9-.6 .9-3.4 .8-5.1 .9 1.4 .9 5.3 .9 2.1" stroke="#2828ff" stroke-width="1.2"/>
<path d="M1185.1 471.2l1.7-.2 1.8-.3 1.7-.5 1.8-.6 1.7-.9 1.8-1.3 1.8-1.6 1.7-2.2 1.8-2.8 1.7-3.5 1.8-4.2 1.7-5 1.8-5.8 1.7-6.5 1.8-7.1 1.7-7.4 1.8-7.5 1.7-7.3 1.8-6.8 1.7-5.8 1.8-4.6 1.7-3.2 1.8-1.4 1.8 .3 1.7 2 1.8 3.6 1.7 5.1 1.8 6.2 1.7 6.9 1.8 7.5 1.7 7.5 1.8 7.3 1.7 6.9 1.8 6.3 1.7 5.5 1.8 4.8 1.7 4 1.8 3.2 1.8 2.6 1.7 2 1.8 1.5 1.7 1.1 1.8 .8 1.7 .6 1.8 .4 1.7 .2 1.8 .2" stroke="#30f030" stroke-width="1.4"/>
<path d="M1113.2 471.2l1.7-.1 1.8 0 1.8-.1 1.7 0 1.8-.1 1.7 0 1.8-.1 1.7 0 1.8-.1 1.7-.1 1.8-.1 1.7 0 1.8-.1 1.7-.1 1.8-.1 1.7-.1 1.8-.2 1.8-.1 1.7-.1 1.8-.2 1.7-.1 1.8-.2 1.7-.1 1.8-.2 1.7-.2 1.8-.2 1.7-.2 1.8-.2 1.7-.2 1.8-.2 1.7-.2 1.8-.2 1.8-.3 1.7-.2 1.8-.3 1.7-.3 1.8-.2 1.7-.3 1.8-.3 1.7-.3 1.8-.3 1.7-.3 1.8-.2 1.7-.3 1.8-.3 1.7-.3 1.8-.3 1.8-.3 1.7-.3 1.8-.3 1.7-.3 1.8-.3 1.7-.3 1.8-.2 1.7-.3 1.8-.2 1.7-.3 1.8-.2 1.7-.2 1.8-.2 1.7-.2 1.8-.2 1.7-.2 1.8-.1 1.8-.1 1.7-.2 1.8-.1 1.7 0 1.8-.1 1.7-.1 1.8 0 1.7 0 1.8 0 1.7 0 1.8 .1 1.7 .1 1.8 0 1.7 .1 1.8 .2 1.8 .1 1.7 .1 1.8 .2 1.7 .2 1.8 .2 1.7 .2 1.8 .2 1.7 .2 1.8 .3 1.7 .2 1.8 .3 1.7 .2 1.8 .3 1.7 .3 1.8 .3 1.8 .3 1.7 .3 1.8 .3 1.7 .3 1.8 .3 1.7 .3 1.8 .3 1.7 .2 1.8 .3 1.7 .3 1.8 .3 1.7 .3 1.8 .3 1.7 .2 1.8 .3 1.8 .3 1.7 .2 1.8 .3 1.7 .2 1.8 .2 1.7 .2 1.8 .2 1.7 .2 1.8 .2 1.7 .2 1.8 .2 1.7 .2 1.8 .1 1.7 .2 1.8 .1 1.8 .2 1.7 .1 1.8 .1 1.7 .2 1.8 .1 1.7 .1 1.8 .1 1.7 .1 1.8 0 1.7 .1 1.8 .1 1.7 .1 1.8 0 1.7 .1 1.8 0 1.8 .1 1.7 0 1.8 .1 1.7 0 1.8 .1" stroke="#30f030" stroke-width="1.4"/>
<path d="M1217.5 471.5l.9-.5 .9-3 .8-10.7 .9-18.7 .9-10.7 .9 10.7 .8 18.7 .9 10.7 .9 3 .9 .5" stroke="#2828ff" stroke-width="1.2" stroke-dasharray="2.5,2"/>
<path d="M1222.8 471.5l.8-.6 .9-5.6 .9-16.7 .9-8 .9 15.6 .8 12.5 .9 2.6" stroke="#ff2020" stroke-width="1.2" stroke-dasharray="2.5,2"/>
<path d="M1215.8 471.3l.8-1.3 .9-2 .9 .5 .9 2.1 .8 .8" stroke="#8020b0" stroke-width="1.2" stroke-dasharray="2.5,2"/>
<path d="M1235 471.5l.9-.5 .9-3.7 .9-8.3 .9-1.3 .8 8.2 .9 4.8 .9 .8" stroke="#8020b0" stroke-width="1.2" stroke-dasharray="2.5,2"/>
<path d="M1308.7 471.3l.9-.2 .8-.2 .9-.3 .9-.4 .9-.4 .8-.6 .9-.6 .9-.7 .9-.7 .9-.7 .8-.6 .9-.4 .9-.2 .9 0 .8 .2 .9 .4 .9 .6 .9 .6 .8 .7 .9 .7 .9 .7 .9 .5 .8 .5 .9 .4 .9 .3 .9 .2 .9 .1" stroke="#8020b0" stroke-width="1.2" stroke-dasharray="2.5,2"/>
</g>
<g clip-path="url(#c5r)" fill="none">
<path d="M1011.5 485.8H1011.9V475.4H1012.8V532.4H1013.7V501.1H1014.6V487H1015.4V484H1016.3V494.6H1017.2V484.7H1018.1V501.6H1019V498.7H1019.8V504H1020.7V520.7H1021.6V517.7H1022.5V501.4H1023.3V513.9H1024.2V489.1H1025.1V488.2H1026V480.8H1026.8V504H1027.7V484.4H1028.6V513.9H1029.5V512.2H1030.3V500.1H1031.2V497.7H1032.1V523.1H1033V525.7H1033.9V499.1H1034.7V516.1H1035.6V489.4H1036.5V500.4H1037.4V501.2H1038.2V501.7H1039.1V491.2H1040V503.4H1040.9V485.3H1041.7V505.1H1042.6V500.1H1043.5V505.8H1044.4V489.3H1045.3V497.9H1046.1V511.4H1047V475.8H1047.9V509.3H1048.8V508.3H1049.6V503.5H1050.5V487.2H1051.4V513.3H1052.3V502.7H1053.1V510.9H1054V531.3H1054.9V501H1055.8V497.1H1056.6V512.6H1057.5V508.3H1058.4V526.4H1059.3V525H1060.2V508.4H1061V493.4H1061.9V506.3H1062.8V494.9H1063.7V484.8H1064.5V495.2H1065.4V487.9H1066.3V475.5H1067.2V510.1H1068V483.1H1068.9V517.2H1069.8V486.2H1070.7V489.1H1071.6V499H1072.4V506.4H1073.3V493.6H1074.2V498.9H1075.1V493.1H1075.9V507.3H1076.8V489H1077.7V510.7H1078.6V501.7H1079.4V503.2H1080.3V481.4H1081.2V517.8H1082.1V503.4H1082.9V482.4H1083.8V506.9H1084.7V515.2H1085.6V496.1H1086.5V504.8H1087.3V491.2H1088.2V515.4H1089.1V501.6H1090V495.8H1090.8V491.1H1091.7V519.3H1092.6V485.8H1093.5V516.4H1094.3V524.4H1095.2V517.2H1096.1V502.8H1097V509.5H1097.9V499.7H1098.7V499.3H1099.6V501.7H1100.5V509.3H1101.4V481.8H1102.2V534.7H1103.1V527.9H1104V511.2H1104.9V520.5H1105.7V537.3H1106.6V513.7H1107.5V513H1108.4V535.5H1109.2V492.2H1110.1V486.8H1111V488.1H1111.9V511.4H1112.8V502.9H1113.6V519.6H1114.5V501.7H1115.4V512.8H1116.3V497.8H1117.1V507.1H1118V488.2H1118.9V490.2H1119.8V484.2H1120.6V521.2H1121.5V523.7H1122.4V494.2H1123.3V507.3H1124.1V494.8H1125V496.8H1125.9V499.1H1126.8V490.2H1127.7V495.9H1128.5V497.7H1129.4V516.2H1130.3V481.8H1131.2V502.7H1132V489.3H1132.9V498.9H1133.8V485.7H1134.7V499.7H1135.5V498.4H1136.4V499.2H1137.3V510.5H1138.2V509.1H1139.1V504H1139.9V504.2H1140.8V516H1141.7V472.1H1142.6V516.1H1143.4V506.9H1144.3V470.1H1145.2V510.6H1146.1V491.4H1146.9V492.6H1147.8V503.9H1148.7V519.9H1149.6V521.5H1150.4V501H1151.3V495.1H1152.2V528.9H1153.1V498.2H1154V508.6H1154.8V487.9H1155.7V497.2H1156.6V509.9H1157.5V504.6H1158.3V497.9H1159.2V480.2H1160.1V457.2H1161V492.1H1161.8V494.8H1162.7V486.9H1163.6V495.5H1164.5V486.7H1165.4V490H1166.2V495.3H1167.1V506.3H1168V494.5H1168.9V485.6H1169.7V497.7H1170.6V479.9H1171.5V488.6H1172.4V503.8H1173.2V479.9H1174.1V518.1H1175V487.9H1175.9V478.6H1176.7V505.9H1177.6V503.1H1178.5V488.5H1179.4V481.1H1180.3V493.4H1181.1V495.6H1182V486.4H1182.9V494.9H1183.8V514.4H1184.6V501H1185.5V498.8H1186.4V518.4H1187.3V493.4H1188.1V508.5H1189V489H1189.9V518.6H1190.8V511.2H1191.7V518.4H1192.5V482.1H1193.4V481.8H1194.3V478.6H1195.2V477.8H1196V484.5H1196.9V484H1197.8V517.8H1198.7V490.9H1199.5V502.1H1200.4V500.3H1201.3V513.1H1202.2V480.4H1203V496.5H1203.9V518.8H1204.8V492.8H1205.7V500.6H1206.6V513.3H1207.4V503.2H1208.3V509.3H1209.2V529.2H1210.1V519.1H1210.9V492.5H1211.8V495H1212.7V496.6H1213.6V516.3H1214.4V509.2H1215.3V501H1216.2V493.1H1217.1V513.5H1218V516.3H1218.8V487H1219.7V500.6H1220.6V505.8H1221.5V509.7H1222.3V507.7H1223.2V477.3H1224.1V484.8H1225V502.7H1225.8V513.7H1226.7V475.3H1227.6V477.2H1228.5V482.8H1229.3V488.4H1230.2V525.3H1231.1V518.2H1232V494.4H1232.9V506.1H1233.7V499.3H1234.6V509.9H1235.5V512H1236.4V496.6H1237.2V509.7H1238.1V505.1H1239V502.2H1239.9V502.9H1240.7V490.6H1241.6V487.4H1242.5V522.7H1243.4V507.1H1244.3V510.7H1245.1V490.7H1246V513.2H1246.9V487.3H1247.8V486.8H1248.6V486.9H1249.5V505.9H1250.4V494.5H1251.3V504.4H1252.1V483.6H1253V475H1253.9V506.8H1254.8V497.2H1255.6V488.4H1256.5V493.6H1257.4V467.6H1258.3V490.2H1259.2V486H1260V505.1H1260.9V471.1H1261.8V490.4H1262.7V483.6H1263.5V494H1264.4V524.6H1265.3V519.3H1266.2V516.8H1267V494.9H1267.9V508.8H1268.8V497.1H1269.7V499.2H1270.6V499.6H1271.4V490.4H1272.3V499.6H1273.2V523.2H1274.1V510H1274.9V478.6H1275.8V514.4H1276.7V482H1277.6V478.2H1278.4V508.1H1279.3V496.1H1280.2V519.8H1281.1V491.8H1281.9V512.9H1282.8V520.3H1283.7V508.4H1284.6V509H1285.5V510.2H1286.3V499H1287.2V502.9H1288.1V508.4H1289V486.1H1289.8V465.8H1290.7V496.2H1291.6V505.8H1292.5V509.3H1293.3V488.2H1294.2V499.2H1295.1V495.6H1296V522.2H1296.9V510.9H1297.7V511.6H1298.6V484.2H1299.5V500.9H1300.4V531H1301.2V492.9H1302.1V485.5H1303V484.3H1303.9V539.6H1304.7V501.4H1305.6V493.5H1306.5V497H1307.4V508.8H1308.2V530.3H1309.1V513.1H1310V512.7H1310.9V502H1311.8V502.3H1312.6V515.2H1313.5V502.1H1314.4V528.6H1315.3V524.8H1316.1V517.2H1317V509.9H1317.9V521.9H1318.8V501.1H1319.6V511.1H1320.5V527.6H1321.4V512.1H1322.3V522.7H1323.1V521.2H1324V524.9H1324.9V485.2H1325.8V489.5H1326.7V521H1327.5V484.1H1328.4V485.5H1329.3V502.9H1330.2V491.7H1331V469.3H1331.9V496H1332.8V495.1H1333.7V486.7H1334.5V516.1H1335.4V520H1336.3V522.5H1337.2V505.3H1338.1V492.9H1338.9V515.5H1339.8V521.9H1340.7V500.3H1341.6V507.1H1342.4V493.5H1343.3V502.4H1344.2V502.5H1345.1V500.7H1345.9V498.7H1346.8V511.7H1347.7V513.8H1348.6V478H1349.4V458.3H1350.3V484.3H1351.2V520.4H1352.1V498H1353V481.8H1353.8V517.8H1354.7V501.7H1355.6V499.5H1356.5V505.4H1357.3V503.9H1358.2V479.4H1359.1V499H1360V496.7H1360.8V471.9H1361.7V506.7H1362.6V521.8H1363.5V488.9H1364.4V471.8H1365.2V496.4H1366.1V495.7H1367V517.1H1367.9V512.4H1368.7V480.4H1369.6V482.6H1370.5V490.8H1371.4V506.5H1372.2V513.4H1373.1V511.1H1374V512.7H1374.9V489H1375.7V507.5H1376.6V503.7H1377.5V488H1378.4V488.4H1379.3V496.7H1380.1V491H1381V497.2H1381.9V522.7H1382.8V498H1383.6V502.4H1384.5V501.5H1385.4V493.9H1386.3V505.2H1387.1V482.4H1388V502H1388.9V498.8H1389.8V497.7H1390.7V505.1H1391.5V494.7H1392.4V493.3H1393.3V494.8H1394.2V512.2H1395V514.7H1395.9V510.7H1396.8V502.6H1397.7V527.5H1398.5V513.8H1399.4V517.4H1400.3V510.3H1401.2V512.4H1402V488H1402.9V491.5H1403.8V483.9H1404.7V509.4H1405.6V507.2H1406.4V502.3H1407.3V478.5H1408.2V480.8H1409.1V513.9H1409.5" stroke="#2020f0" stroke-width="1.05"/>
<line x1="1011.5" y1="500.4" x2="1409.5" y2="500.4" stroke="#40f040" stroke-width="1.1"/>
<line x1="1011.5" y1="489.92" x2="1409.5" y2="489.92" stroke="#60ff60" stroke-width="1.1" stroke-dasharray="3,3"/>
<line x1="1011.5" y1="510.46" x2="1409.5" y2="510.46" stroke="#60ff60" stroke-width="1.1" stroke-dasharray="3,3"/>
</g>
<g fill="none" stroke="#909090" stroke-width="1">
<rect x="1011.5" y="294.5" width="398" height="177"/>
<rect x="1011.5" y="479.5" width="398" height="41"/>
<path d="M1017.5 471.5v-2.3 M1017.5 294.5v2.3 M1017.5 520.5v-1.2 M1017.5 479.5v1.2 M1023.5 471.5v-2.3 M1023.5 294.5v2.3 M1023.5 520.5v-1.2 M1023.5 479.5v1.2 M1029.5 471.5v-2.3 M1029.5 294.5v2.3 M1029.5 520.5v-1.2 M1029.5 479.5v1.2 M1034.5 471.5v-2.3 M1034.5 294.5v2.3 M1034.5 520.5v-1.2 M1034.5 479.5v1.2 M1040.5 471.5v-2.3 M1040.5 294.5v2.3 M1040.5 520.5v-1.2 M1040.5 479.5v1.2 M1046.5 471.5v-2.3 M1046.5 294.5v2.3 M1046.5 520.5v-1.2 M1046.5 479.5v1.2 M1052.5 471.5v-2.3 M1052.5 294.5v2.3 M1052.5 520.5v-1.2 M1052.5 479.5v1.2 M1058.5 471.5v-2.3 M1058.5 294.5v2.3 M1058.5 520.5v-1.2 M1058.5 479.5v1.2 M1064.5 471.5v-2.3 M1064.5 294.5v2.3 M1064.5 520.5v-1.2 M1064.5 479.5v1.2 M1069.5 471.5v-3.6 M1069.5 294.5v3.6 M1069.5 520.5v-2 M1069.5 479.5v2 M1075.5 471.5v-2.3 M1075.5 294.5v2.3 M1075.5 520.5v-1.2 M1075.5 479.5v1.2 M1081.5 471.5v-2.3 M1081.5 294.5v2.3 M1081.5 520.5v-1.2 M1081.5 479.5v1.2 M1087.5 471.5v-2.3 M1087.5 294.5v2.3 M1087.5 520.5v-1.2 M1087.5 479.5v1.2 M1093.5 471.5v-2.3 M1093.5 294.5v2.3 M1093.5 520.5v-1.2 M1093.5 479.5v1.2 M1099.5 471.5v-2.3 M1099.5 294.5v2.3 M1099.5 520.5v-1.2 M1099.5 479.5v1.2 M1105.5 471.5v-2.3 M1105.5 294.5v2.3 M1105.5 520.5v-1.2 M1105.5 479.5v1.2 M1110.5 471.5v-2.3 M1110.5 294.5v2.3 M1110.5 520.5v-1.2 M1110.5 479.5v1.2 M1116.5 471.5v-2.3 M1116.5 294.5v2.3 M1116.5 520.5v-1.2 M1116.5 479.5v1.2 M1122.5 471.5v-2.3 M1122.5 294.5v2.3 M1122.5 520.5v-1.2 M1122.5 479.5v1.2 M1128.5 471.5v-3.6 M1128.5 294.5v3.6 M1128.5 520.5v-2 M1128.5 479.5v2 M1134.5 471.5v-2.3 M1134.5 294.5v2.3 M1134.5 520.5v-1.2 M1134.5 479.5v1.2 M1140.5 471.5v-2.3 M1140.5 294.5v2.3 M1140.5 520.5v-1.2 M1140.5 479.5v1.2 M1145.5 471.5v-2.3 M1145.5 294.5v2.3 M1145.5 520.5v-1.2 M1145.5 479.5v1.2 M1151.5 471.5v-2.3 M1151.5 294.5v2.3 M1151.5 520.5v-1.2 M1151.5 479.5v1.2 M1157.5 471.5v-2.3 M1157.5 294.5v2.3 M1157.5 520.5v-1.2 M1157.5 479.5v1.2 M1163.5 471.5v-2.3 M1163.5 294.5v2.3 M1163.5 520.5v-1.2 M1163.5 479.5v1.2 M1169.5 471.5v-2.3 M1169.5 294.5v2.3 M1169.5 520.5v-1.2 M1169.5 479.5v1.2 M1175.5 471.5v-2.3 M1175.5 294.5v2.3 M1175.5 520.5v-1.2 M1175.5 479.5v1.2 M1180.5 471.5v-2.3 M1180.5 294.5v2.3 M1180.5 520.5v-1.2 M1180.5 479.5v1.2 M1186.5 471.5v-3.6 M1186.5 294.5v3.6 M1186.5 520.5v-2 M1186.5 479.5v2 M1192.5 471.5v-2.3 M1192.5 294.5v2.3 M1192.5 520.5v-1.2 M1192.5 479.5v1.2 M1198.5 471.5v-2.3 M1198.5 294.5v2.3 M1198.5 520.5v-1.2 M1198.5 479.5v1.2 M1204.5 471.5v-2.3 M1204.5 294.5v2.3 M1204.5 520.5v-1.2 M1204.5 479.5v1.2 M1210.5 471.5v-2.3 M1210.5 294.5v2.3 M1210.5 520.5v-1.2 M1210.5 479.5v1.2 M1216.5 471.5v-2.3 M1216.5 294.5v2.3 M1216.5 520.5v-1.2 M1216.5 479.5v1.2 M1221.5 471.5v-2.3 M1221.5 294.5v2.3 M1221.5 520.5v-1.2 M1221.5 479.5v1.2 M1227.5 471.5v-2.3 M1227.5 294.5v2.3 M1227.5 520.5v-1.2 M1227.5 479.5v1.2 M1233.5 471.5v-2.3 M1233.5 294.5v2.3 M1233.5 520.5v-1.2 M1233.5 479.5v1.2 M1239.5 471.5v-2.3 M1239.5 294.5v2.3 M1239.5 520.5v-1.2 M1239.5 479.5v1.2 M1245.5 471.5v-3.6 M1245.5 294.5v3.6 M1245.5 520.5v-2 M1245.5 479.5v2 M1251.5 471.5v-2.3 M1251.5 294.5v2.3 M1251.5 520.5v-1.2 M1251.5 479.5v1.2 M1256.5 471.5v-2.3 M1256.5 294.5v2.3 M1256.5 520.5v-1.2 M1256.5 479.5v1.2 M1262.5 471.5v-2.3 M1262.5 294.5v2.3 M1262.5 520.5v-1.2 M1262.5 479.5v1.2 M1268.5 471.5v-2.3 M1268.5 294.5v2.3 M1268.5 520.5v-1.2 M1268.5 479.5v1.2 M1274.5 471.5v-2.3 M1274.5 294.5v2.3 M1274.5 520.5v-1.2 M1274.5 479.5v1.2 M1280.5 471.5v-2.3 M1280.5 294.5v2.3 M1280.5 520.5v-1.2 M1280.5 479.5v1.2 M1286.5 471.5v-2.3 M1286.5 294.5v2.3 M1286.5 520.5v-1.2 M1286.5 479.5v1.2 M1292.5 471.5v-2.3 M1292.5 294.5v2.3 M1292.5 520.5v-1.2 M1292.5 479.5v1.2 M1297.5 471.5v-2.3 M1297.5 294.5v2.3 M1297.5 520.5v-1.2 M1297.5 479.5v1.2 M1303.5 471.5v-3.6 M1303.5 294.5v3.6 M1303.5 520.5v-2 M1303.5 479.5v2 M1309.5 471.5v-2.3 M1309.5 294.5v2.3 M1309.5 520.5v-1.2 M1309.5 479.5v1.2 M1315.5 471.5v-2.3 M1315.5 294.5v2.3 M1315.5 520.5v-1.2 M1315.5 479.5v1.2 M1321.5 471.5v-2.3 M1321.5 294.5v2.3 M1321.5 520.5v-1.2 M1321.5 479.5v1.2 M1327.5 471.5v-2.3 M1327.5 294.5v2.3 M1327.5 520.5v-1.2 M1327.5 479.5v1.2 M1332.5 471.5v-2.3 M1332.5 294.5v2.3 M1332.5 520.5v-1.2 M1332.5 479.5v1.2 M1338.5 471.5v-2.3 M1338.5 294.5v2.3 M1338.5 520.5v-1.2 M1338.5 479.5v1.2 M1344.5 471.5v-2.3 M1344.5 294.5v2.3 M1344.5 520.5v-1.2 M1344.5 479.5v1.2 M1350.5 471.5v-2.3 M1350.5 294.5v2.3 M1350.5 520.5v-1.2 M1350.5 479.5v1.2 M1356.5 471.5v-2.3 M1356.5 294.5v2.3 M1356.5 520.5v-1.2 M1356.5 479.5v1.2 M1362.5 471.5v-3.6 M1362.5 294.5v3.6 M1362.5 520.5v-2 M1362.5 479.5v2 M1368.5 471.5v-2.3 M1368.5 294.5v2.3 M1368.5 520.5v-1.2 M1368.5 479.5v1.2 M1373.5 471.5v-2.3 M1373.5 294.5v2.3 M1373.5 520.5v-1.2 M1373.5 479.5v1.2 M1379.5 471.5v-2.3 M1379.5 294.5v2.3 M1379.5 520.5v-1.2 M1379.5 479.5v1.2 M1385.5 471.5v-2.3 M1385.5 294.5v2.3 M1385.5 520.5v-1.2 M1385.5 479.5v1.2 M1391.5 471.5v-2.3 M1391.5 294.5v2.3 M1391.5 520.5v-1.2 M1391.5 479.5v1.2 M1397.5 471.5v-2.3 M1397.5 294.5v2.3 M1397.5 520.5v-1.2 M1397.5 479.5v1.2 M1403.5 471.5v-2.3 M1403.5 294.5v2.3 M1403.5 520.5v-1.2 M1403.5 479.5v1.2 M1408.5 471.5v-2.3 M1408.5 294.5v2.3 M1408.5 520.5v-1.2 M1408.5 479.5v1.2 M1011.5 468.5h4 M1409.5 468.5h-4 M1011.5 465.5h4 M1409.5 465.5h-4 M1011.5 462.5h4 M1409.5 462.5h-4 M1011.5 459.5h4 M1409.5 459.5h-4 M1011.5 455.5h4 M1409.5 455.5h-4 M1011.5 452.5h4 M1409.5 452.5h-4 M1011.5 449.5h4 M1409.5 449.5h-4 M1011.5 446.5h4 M1409.5 446.5h-4 M1011.5 443.5h4 M1409.5 443.5h-4 M1011.5 440.5h8 M1409.5 440.5h-8 M1011.5 437.5h4 M1409.5 437.5h-4 M1011.5 434.5h4 M1409.5 434.5h-4 M1011.5 430.5h4 M1409.5 430.5h-4 M1011.5 427.5h4 M1409.5 427.5h-4 M1011.5 424.5h4 M1409.5 424.5h-4 M1011.5 421.5h4 M1409.5 421.5h-4 M1011.5 418.5h4 M1409.5 418.5h-4 M1011.5 415.5h4 M1409.5 415.5h-4 M1011.5 412.5h4 M1409.5 412.5h-4 M1011.5 409.5h8 M1409.5 409.5h-8 M1011.5 406.5h4 M1409.5 406.5h-4 M1011.5 402.5h4 M1409.5 402.5h-4 M1011.5 399.5h4 M1409.5 399.5h-4 M1011.5 396.5h4 M1409.5 396.5h-4 M1011.5 393.5h4 M1409.5 393.5h-4 M1011.5 390.5h4 M1409.5 390.5h-4 M1011.5 387.5h4 M1409.5 387.5h-4 M1011.5 384.5h4 M1409.5 384.5h-4 M1011.5 381.5h4 M1409.5 381.5h-4 M1011.5 378.5h8 M1409.5 378.5h-8 M1011.5 374.5h4 M1409.5 374.5h-4 M1011.5 371.5h4 M1409.5 371.5h-4 M1011.5 368.5h4 M1409.5 368.5h-4 M1011.5 365.5h4 M1409.5 365.5h-4 M1011.5 362.5h4 M1409.5 362.5h-4 M1011.5 359.5h4 M1409.5 359.5h-4 M1011.5 356.5h4 M1409.5 356.5h-4 M1011.5 353.5h4 M1409.5 353.5h-4 M1011.5 349.5h4 M1409.5 349.5h-4 M1011.5 346.5h8 M1409.5 346.5h-8 M1011.5 343.5h4 M1409.5 343.5h-4 M1011.5 340.5h4 M1409.5 340.5h-4 M1011.5 337.5h4 M1409.5 337.5h-4 M1011.5 334.5h4 M1409.5 334.5h-4 M1011.5 331.5h4 M1409.5 331.5h-4 M1011.5 328.5h4 M1409.5 328.5h-4 M1011.5 325.5h4 M1409.5 325.5h-4 M1011.5 321.5h4 M1409.5 321.5h-4 M1011.5 318.5h4 M1409.5 318.5h-4 M1011.5 315.5h8 M1409.5 315.5h-8 M1011.5 312.5h4 M1409.5 312.5h-4 M1011.5 309.5h4 M1409.5 309.5h-4 M1011.5 306.5h4 M1409.5 306.5h-4 M1011.5 303.5h4 M1409.5 303.5h-4 M1011.5 300.5h4 M1409.5 300.5h-4 M1011.5 296.5h4 M1409.5 296.5h-4"/>
</g>
<path d="M1011.5 479.5h8M1011.5 520.5h8" stroke="#6e6e6e" stroke-width="1.3" fill="none"/>
<line x1="1011.5" y1="472" x2="1409.5" y2="472" stroke="#2418e8" stroke-width="2"/>
<line x1="1011.5" y1="472" x2="1409.5" y2="472" stroke="#68009c" stroke-width="2" stroke-dasharray="3,2"/>
<g fill="#8c8c8c" font-family="'DejaVu Sans', 'Liberation Sans', sans-serif">
<text x="1006.9" y="472.1" font-size="12.2" text-anchor="end" textLength="7" lengthAdjust="spacingAndGlyphs">0</text>
<text x="1006.9" y="445.34" font-size="12.2" text-anchor="end" textLength="14" lengthAdjust="spacingAndGlyphs">10</text>
<text x="1006.9" y="414.18" font-size="12.2" text-anchor="end" textLength="14" lengthAdjust="spacingAndGlyphs">20</text>
<text x="1006.9" y="383.01" font-size="12.2" text-anchor="end" textLength="14" lengthAdjust="spacingAndGlyphs">30</text>
<text x="1006.9" y="351.85" font-size="12.2" text-anchor="end" textLength="14" lengthAdjust="spacingAndGlyphs">40</text>
<text x="1006.9" y="320.69" font-size="12.2" text-anchor="end" textLength="14" lengthAdjust="spacingAndGlyphs">50</text>
<text x="1007.3" y="488.5" font-size="12.2" text-anchor="end" textLength="7" lengthAdjust="spacingAndGlyphs">2</text>
<text x="1007.3" y="505" font-size="12.2" text-anchor="end" textLength="7" lengthAdjust="spacingAndGlyphs">0</text>
<text x="1007.3" y="521.5" font-size="12.2" text-anchor="end" textLength="17" lengthAdjust="spacingAndGlyphs">&#8722;2</text>
<text x="1011.5" y="538.1" font-size="12.4" text-anchor="middle" textLength="31" lengthAdjust="spacingAndGlyphs">6200</text>
<text x="1069.94" y="538.1" font-size="12.4" text-anchor="middle" textLength="31" lengthAdjust="spacingAndGlyphs">6300</text>
<text x="1128.39" y="538.1" font-size="12.4" text-anchor="middle" textLength="31" lengthAdjust="spacingAndGlyphs">6400</text>
<text x="1186.83" y="538.1" font-size="12.4" text-anchor="middle" textLength="31" lengthAdjust="spacingAndGlyphs">6500</text>
<text x="1245.27" y="538.1" font-size="12.4" text-anchor="middle" textLength="31" lengthAdjust="spacingAndGlyphs">6600</text>
<text x="1303.72" y="538.1" font-size="12.4" text-anchor="middle" textLength="31" lengthAdjust="spacingAndGlyphs">6700</text>
<text x="1362.16" y="538.1" font-size="12.4" text-anchor="middle" textLength="31" lengthAdjust="spacingAndGlyphs">6800</text>
<text x="1210.5" y="552.3" font-size="12" text-anchor="middle" textLength="122.5" lengthAdjust="spacingAndGlyphs">rest wavelength (&#197;)</text>
<text y="309.1" font-size="13.8"><tspan x="1015.7" textLength="37.5" lengthAdjust="spacingAndGlyphs">2791</tspan><tspan x="1052.4" textLength="13.2" lengthAdjust="spacingAndGlyphs">-</tspan><tspan x="1064.4" textLength="46" lengthAdjust="spacingAndGlyphs">54556</tspan><tspan x="1109.7" textLength="12.8" lengthAdjust="spacingAndGlyphs">-</tspan><tspan x="1121.8" textLength="36.8" lengthAdjust="spacingAndGlyphs">0005</tspan></text>
<text x="1016.3" y="326.8" font-size="13.8" textLength="88.5" lengthAdjust="spacingAndGlyphs"><tspan font-size="15">&#967;</tspan><tspan font-size="9" dy="-7">2</tspan><tspan dy="7">/dof~1.68</tspan></text>
<text x="980.3" y="384.2" font-size="12" text-anchor="middle" textLength="135.5" lengthAdjust="spacingAndGlyphs" transform="rotate(-90 980.3 384.2)">F<tspan font-size="8" dy="3">&#955;</tspan><tspan dy="-3"> (10</tspan><tspan font-size="9.5" dy="-5">&#8722;17</tspan><tspan dy="5">erg/s/cm</tspan><tspan font-size="8" dy="-5">2</tspan><tspan dy="5">/&#197;)</tspan></text>
<text x="979.8" y="501" font-size="11.6" text-anchor="middle" textLength="49.7" lengthAdjust="spacingAndGlyphs" transform="rotate(-90 979.8 501)">residuals</text>
</g>
<clipPath id="c6m"><rect x="62.5" y="568.5" width="399" height="177"/></clipPath>
<clipPath id="c6r"><rect x="62.5" y="754.5" width="399" height="40"/></clipPath>
<g clip-path="url(#c6m)" fill="none">
<path d="M62.5 723.9H62.9V723.7H63.8V724.3H64.7V725H65.6V724.6H66.5V725.1H67.3V724.2H68.2V723H69.1V724.7H70V724.8H70.8V723.8H71.7V723.9H72.6V724.1H73.5V725H74.4V724.2H75.2V723.5H76.1V725.4H77V724.5H77.9V725.8H78.8V725.3H79.6V725.8H80.5V724.3H81.4V725.3H82.3V723.8H83.2V723.9H84V724.1H84.9V726.1H85.8V724.2H86.7V723.7H87.5V723.4H88.4V724.9H89.3V723.9H90.2V724.4H91.1V724.3H91.9V722.7H92.8V724.5H93.7V723.8H94.6V723.1H95.5V724.4H96.3V724H97.2V723.9H98.1V723.9H99V725.1H99.9V724H100.7V722.9H101.6V725.5H102.5V723.4H103.4V724.1H104.2V724.9H105.1V722.5H106V723.7H106.9V725.5H107.8V724.3H108.6V723.9H109.5V724.5H110.4V723.7H111.3V724.3H112.2V723.6H113V722.8H113.9V724.7H114.8V723.7H115.7V723.9H116.5V722.8H117.4V723.1H118.3V721.2H119.2V719.1H120.1V716.3H120.9V714.3H121.8V715.2H122.7V714.3H123.6V713.3H124.5V716.9H125.3V717.2H126.2V718.6H127.1V719H128V720.8H128.9V722.5H129.7V723.1H130.6V723.3H131.5V721.8H132.4V723.7H133.2V723.6H134.1V723.1H135V723.6H135.9V723.8H136.8V724.8H137.6V723.9H138.5V724.4H139.4V723H140.3V723.5H141.2V724.1H142V723.4H142.9V724.2H143.8V722.8H144.7V723.6H145.6V722.9H146.4V724.6H147.3V723.1H148.2V724.9H149.1V725.3H149.9V723.7H150.8V724.2H151.7V723.2H152.6V721.2H153.5V723.9H154.3V723.5H155.2V722.4H156.1V721.9H157V722.1H157.9V721.8H158.7V720.7H159.6V720.6H160.5V721.8H161.4V720.9H162.2V720.8H163.1V722H164V721.1H164.9V722.5H165.8V721.2H166.6V722.3H167.5V722.7H168.4V723.6H169.3V723.3H170.2V725.1H171V724.3H171.9V722.9H172.8V725H173.7V722.2H174.6V724.4H175.4V721.9H176.3V723.1H177.2V721.4H178.1V721.7H178.9V723H179.8V720.2H180.7V719.8H181.6V721H182.5V721.1H183.3V720.8H184.2V721.4H185.1V719.4H186V720.8H186.9V720.2H187.7V720.8H188.6V720.5H189.5V721.1H190.4V718.7H191.3V719.9H192.1V718.8H193V719.6H193.9V720.2H194.8V719.8H195.6V720H196.5V719.4H197.4V719.6H198.3V719.4H199.2V720.2H200V719.5H200.9V716.9H201.8V718.7H202.7V718.8H203.6V717.1H204.4V715.8H205.3V718.1H206.2V716.7H207.1V716.8H208V717.5H208.8V714.9H209.7V715.2H210.6V714.8H211.5V715.1H212.3V713.6H213.2V714.1H214.1V713.2H215V713.6H215.9V713.2H216.7V710.3H217.6V711.5H218.5V710.3H219.4V710.2H220.3V710.2H221.1V710H222V708.8H222.9V709.4H223.8V709.1H224.6V708.8H225.5V707.5H226.4V707.7H227.3V707.7H228.2V708.2H229V708.5H229.9V705.9H230.8V705.3H231.7V705.7H232.6V704.5H233.4V703.7H234.3V703H235.2V702.4H236.1V703H237V700.6H237.8V702.5H238.7V699.9H239.6V699.6H240.5V698.5H241.3V696.8H242.2V696.4H243.1V698H244V697.7H244.9V694.5H245.7V695.4H246.6V693.6H247.5V692H248.4V693.5H249.3V693.1H250.1V690.2H251V689.7H251.9V689.2H252.8V688.2H253.7V688.2H254.5V688H255.4V685.9H256.3V685.8H257.2V685.3H258V681.7H258.9V680.1H259.8V676.7H260.7V674.1H261.6V669.3H262.4V664.8H263.3V660H264.2V653.6H265.1V648H266V639.9H266.8V632.6H267.7V623.8H268.6V618.6H269.5V607.5H270.3V600.2H271.2V593.8H272.1V591.3H273V587.3H273.9V583.9H274.7V583.3H275.6V584.1H276.5V588H277.4V585.5H278.3V585.2H279.1V589.5H280V592.5H280.9V599.1H281.8V606H282.7V608.6H283.5V610.3H284.4V612.2H285.3V610.4H286.2V605H287V597.7H287.9V595.1H288.8V595.4H289.7V599.5H290.6V606.2H291.4V613.7H292.3V622.3H293.2V630.6H294.1V641.2H295V650H295.8V660.8H296.7V667.1H297.6V674.9H298.5V678.9H299.4V683.2H300.2V687.8H301.1V687.2H302V688.7H302.9V691.4H303.7V691.2H304.6V692.4H305.5V695.9H306.4V694H307.3V695H308.1V695.6H309V697.4H309.9V697.4H310.8V698H311.7V697.5H312.5V699H313.4V700H314.3V699.3H315.2V701.8H316V702.3H316.9V704.2H317.8V701.7H318.7V702.8H319.6V703.4H320.4V704.2H321.3V705.3H322.2V705.8H323.1V706.8H324V707.3H324.8V707.6H325.7V706.7H326.6V724H327.5V723.2H328.4V709.7H329.2V710.1H330.1V708.4H331V709.7H331.9V710.5H332.7V711.2H333.6V712.2H334.5V711.6H335.4V711H336.3V712.4H337.1V712.4H338V712.6H338.9V712.4H339.8V714H340.7V712.9H341.5V713.6H342.4V712.2H343.3V713.9H344.2V712.9H345.1V721.6H345.9V714.3H346.8V714.8H347.7V714.4H348.6V715H349.4V716.4H350.3V715.6H351.2V714.8H352.1V717.4H353V721.4H353.8V718.9H354.7V717.6H355.6V718.7H356.5V717.8H357.4V714.2H358.2V714.1H359.1V709.8H360V706.7H360.9V705.3H361.8V702.5H362.6V698.6H363.5V698.1H364.4V696.2H365.3V695H366.1V692.5H367V690.5H367.9V690.7H368.8V692.6H369.7V692.8H370.5V693.2H371.4V693.4H372.3V694.8H373.2V695.4H374.1V696.4H374.9V698.1H375.8V699.3H376.7V700.8H377.6V703.1H378.4V704.9H379.3V706.3H380.2V710.2H381.1V713.2H382V717H382.8V716.7H383.7V719.9H384.6V720.2H385.5V718.8H386.4V719.6H387.2V720.9H388.1V722.7H389V721.7H389.9V722.1H390.8V721H391.6V719.6H392.5V721.5H393.4V722.5H394.3V723H395.1V722H396V722.2H396.9V723.2H397.8V722.1H398.7V723.3H399.5V721.2H400.4V721.2H401.3V721.1H402.2V722.4H403.1V721.4H403.9V721.9H404.8V722H405.7V721.9H406.6V722.8H407.5V722.9H408.3V720.9H409.2V721.9H410.1V721.6H411V721H411.8V723.6H412.7V722.8H413.6V722.1H414.5V722H415.4V722.8H416.2V721.6H417.1V722.4H418V723.7H418.9V723.5H419.8V722H420.6V722.3H421.5V724.4H422.4V721.4H423.3V721.9H424.1V721.1H425V722.6H425.9V722.4H426.8V723H427.7V719.5H428.5V722H429.4V720.3H430.3V722.4H431.2V721.7H432.1V723.5H432.9V722.4H433.8V721.2H434.7V723.3H435.6V721.3H436.5V722H437.3V723.3H438.2V722.9H439.1V723H440V722.7H440.8V723.2H441.7V723.5H442.6V723.1H443.5V723.8H444.4V724H445.2V722.9H446.1V722.1H447V724.3H447.9V722.9H448.8V723.5H449.6V723.9H450.5V722.2H451.4V723.5H452.3V721.7H453.2V723.8H454V722.8H454.9V723.4H455.8V723.8H456.7V722.6H457.5V723.2H458.4V722.5H459.3V723.1H460.2V724H461.1V723.1H461.5" stroke="#2a7f2a" stroke-width="1.45"/>
<path d="M62.5 723.6l.9 0 .9 0 .8 0 .9 0 .9 0 .9 0 .9 0 .8 0 .9 0 .9 0 .9 0 .8 0 .9 0 .9 0 .9 0 .9 0 .8 0 .9 0 .9 0 .9 0 .9 0 .8 0 .9-.1 .9 0 .9 0 .9 0 .8 0 .9 0 .9 0 .9 0 .8 0 .9 0 .9 0 .9 0 .9 0 .8 0 .9 0 .9 0 .9 0 .9 0 .8 0 .9 0 .9 0 .9 0 .8 0 .9 0 .9 0 .9 0 .9 0 .8 0 .9 0 .9 0 .9 0 .9 0 .8 0 .9 0 .9 0 .9-.1 .9 0 .8-.2 .9-.3 .9-.5 .9-.9 .8-1.3 .9-1.7 .9-1.8 .9-1.7 .9-1.2 .8-.5 .9 .5 .9 1.2 .9 1.7 .9 1.8 .8 1.6 .9 1.3 .9 .9 .9 .6 .9 .3 .8 .1 .9 .1 .9 .1 .9 0 .8 0 .9 0 .9 0 .9 0 .9 0 .8 0 .9 .1 .9 0 .9 0 .9 0 .8 0 .9 0 .9 0 .9 0 .8 0 .9 0 .9 0 .9 0 .9 0 .8-.1 .9-.1 .9-.1 .9-.2 .9-.2 .8-.3 .9-.3 .9-.4 .9-.4 .9-.4 .8-.2 .9-.2 .9-.1 .9 0 .8 .2 .9 .2 .9 .3 .9 .3 .9 .3 .8 .3 .9 .2 .9 .1 .9 .1 .9 0 .8 0 .9 0 .9-.1 .9-.1 .9-.1 .8-.1 .9-.1 .9-.1 .9-.1 .8-.1 .9-.1 .9-.1 .9-.2 .9-.1 .8-.1 .9-.1 .9-.2 .9-.1 .9-.1 .8-.2 .9-.1 .9-.2 .9-.1 .8-.2 .9-.1 .9-.2 .9-.1 .9-.2 .8-.2 .9-.1 .9-.2 .9-.2 .9-.3 .8-.2 .9-.3 .9-.3 .9-.3 .9-.3 .8-.4 .9-.3 .9-.4 .9-.3 .8-.4 .9-.4 .9-.3 .9-.4 .9-.4 .8-.4 .9-.3 .9-.4 .9-.4 .9-.4 .8-.3 .9-.4 .9-.3 .9-.3 .9-.4 .8-.3 .9-.4 .9-.4 .9-.4 .8-.4 .9-.5 .9-.4 .9-.5 .9-.5 .8-.5 .9-.5 .9-.5 .9-.6 .9-.6 .8-.6 .9-.6 .9-.6 .9-.6 .8-.7 .9-.7 .9-.7 .9-.7 .9-.7 .8-.8 .9-.7 .9-.7 .9-.6 .9-.7 .8-.7 .9-.7 .9-.7 .9-.7 .9-.7 .8-.7 .9-.7 .9-.8 .9-.8 .8-.9 .9-1 .9-1.2 .9-1.7 .9-2.3 .8-3 .9-4.1 .9-4.7 .9-4.9 .9-4.8 .8-5.6 .9-6.5 .9-7.1 .9-7.3 .9-7.3 .8-8.3 .9-8.9 .9-8.2 .9-6.3 .8-3.7 .9-3.1 .9-2.4 .9-1.4 .9 .9 .8 3.4 .9-1.3 .9-1.5 .9 2.3 .9 4.3 .8 5.5 .9 5.8 .9 5.1 .9 3.5 .9 .8 .8-2.7 .9-5 .9-5.3 .9-3.4 .8 .4 .9 4.3 .9 6.8 .9 8.3 .9 8.4 .8 7.9 .9 9.3 .9 10.1 .9 9.6 .9 7.8 .8 5.6 .9 5.1 .9 4.3 .9 3.5 .8 2.2 .9 1.3 .9 1 .9 .9 .9 .9 .8 .8 .9 .7 .9 .8 .9 .7 .9 .7 .8 .7 .9 .7 .9 .6 .9 .7 .9 .6 .8 .6 .9 .7 .9 .6 .9 .6 .8 .5 .9 .6 .9 .5 .9 .5 .9 .5 .8 .5 .9 .5 .9 .4 .9 .5 .9 .4 .8 .4 .9 .4 .9 .4 .9 .3 .9 .4 .8 .3 .9 .3 .9 .3 .9 .3 .8 .3 .9 .3 .9 .3 .9 .3 .9 .2 .8 .3 .9 .3 .9 .2 .9 .2 .9 .3 .8 .2 .9 .3 .9 .2 .9 .2 .8 .3 .9 .2 .9 .2 .9 .4 .9 .5 .8 .5 .9 .5 .9 .4 .9 .3 .9 0 .8-.4 .9-.7 .9-1.4 .9-2 .9-2.4 .8-2.5 .9-2.5 .9-2.5 .9-2.6 .8-2.5 .9-2.3 .9-2 .9-1.4 .9-.8 .8-.4 .9-.1 .9 .3 .9 .6 .9 .8 .8 .9 .9 1 .9 1 .9 1.3 .9 1.6 .8 1.8 .9 2.1 .9 2.5 .9 2.7 .8 2.8 .9 2.7 .9 2.2 .9 1.6 .9 1.2 .8 .9 .9 .8 .9 .7 .9 .7 .9 .4 .8 .3 .9 .2 .9 .1 .9 .1 .8 .1 .9 0 .9 0 .9 0 .9 0 .8 0 .9 0 .9 0 .9 0 .9 0 .8 0 .9 .1 .9 0 .9 0 .9 0 .8 0 .9 0 .9 0 .9 0 .8 0 .9 0 .9 0 .9 0 .9 0 .8 0 .9 .1 .9 0 .9 0 .9 0 .8 0 .9 0 .9 0 .9 0 .9 0 .8 .1 .9 0 .9 0 .9 0 .8 0 .9 0 .9 0 .9 0 .9 .1 .8 0 .9 0 .9 0 .9 0 .9 0 .8 0 .9 .1 .9 0 .9 0 .8 0 .9 0 .9 0 .9 0 .9 .1 .8 0 .9 0 .9 0 .9 0 .9 0 .8 0 .9 .1 .9 0 .9 0 .9 0 .8 0 .9 0 .9 0 .9 .1 .8 0 .9 0 .9 0 .9 0 .9 0 .8 .1 .9 0 .9 0" stroke="#e8281e" stroke-width="0.9"/>
<path d="M62.5 723.6l3.5 0 3.5 0 3.5 0 3.6 0 3.5 0 3.5 0 3.5 0 3.5 0 3.5 0 3.6 0 3.5 0 3.5 0 3.5 0 3.5 0 3.5 0 3.5 0 3.6 0 3.5 0 3.5 0 3.5 0 3.5 0 3.5 0 3.6 0 3.5 0 3.5 0 3.5 0 3.5 0 3.5 0 3.5 0 3.6 0 3.5 0 3.5 0 3.5 0 3.5 0 3.5 0 3.6 0 3.5 0 3.5 0 3.5 0 3.5 0 3.5 0 3.5 0 3.6 0 3.5 0 3.5 0 3.5 0 3.5 0 3.5 0 3.6 0 3.5 0 3.5 0 3.5 0 3.5 0 3.5 0 3.5 0 3.6 0 3.5 0 3.5 0 3.5 0 3.5 0 3.5 0 3.6 0 3.5 0 3.5 0 3.5 0 3.5 0 3.5 0 3.5 0 3.6 0 3.5 0 3.5 0 3.5 0 3.5 0 3.5 0 3.6 0 3.5 0 3.5 0 3.5 0 3.5 0 3.5 0 3.5 0 3.6 0 3.5 0 3.5 0 3.5 0 3.5 0 3.5 0 3.6 0 3.5 0 3.5 0 3.5 0 3.5 0 3.5 0 3.5 0 3.6 0 3.5 0 3.5 0 3.5 0 3.5 0 3.5 0 3.6 0 3.5 0 3.5 0 3.5 0 3.5 0 3.5 0 3.5 0 3.6 0 3.5 0 3.5 0 3.5 0 3.5 0 3.5 0" stroke="#40f0ff" stroke-width="1.0" stroke-dasharray="2.5,2"/>
<path d="M115.2 745.2l.9-.3 .9-.5 .9-.9 .8-1.3 .9-1.6 .9-1.9 .9-1.7 .9-1.2 .8-.4 .9 .4 .9 1.2 .9 1.7 .9 1.9 .8 1.6 .9 1.3 .9 .9 .9 .5 .9 .3" stroke="#2828ff" stroke-width="1.2"/>
<path d="M153.9 745.2l.9-.2 .9-.2 .8-.3 .9-.3 .9-.4 .9-.3 .9-.4 .8-.2 .9-.2 .9-.1 .9 .1 .8 .2 .9 .3 .9 .4 .9 .3 .9 .4 .8 .3 .9 .3 .9 .2 .9 .1" stroke="#2828ff" stroke-width="1.2"/>
<path d="M205.8 745.2l1.7-.1 1.8-.1 1.7-.2 1.8-.1 1.7-.2 1.8-.2 1.8-.3 1.7-.3 1.8-.4 1.7-.4 1.8-.5 1.7-.5 1.8-.6 1.8-.7 1.7-.8 1.8-.9 1.7-1 1.8-1 1.7-1.2 1.8-1.2 1.8-1.3 1.7-1.4 1.8-1.5 1.7-1.6 1.8-1.6 1.8-1.6 1.7-1.7 1.8-1.7 1.7-1.6 1.8-1.7 1.7-1.5 1.8-1.5 1.8-1.4 1.7-1.3 1.8-1.2 1.7-1 1.8-.8 1.7-.7 1.8-.4 1.8-.3 1.7 0 1.8 .1 1.7 .4 1.8 .5 1.8 .8 1.7 .9 1.8 1.1 1.7 1.2 1.8 1.4 1.7 1.5 1.8 1.5 1.8 1.6 1.7 1.7 1.8 1.6 1.7 1.7 1.8 1.7 1.7 1.6 1.8 1.6 1.8 1.5 1.7 1.4 1.8 1.4 1.7 1.3 1.8 1.2 1.7 1.1 1.8 1 1.8 .9 1.7 .8 1.8 .7 1.7 .7 1.8 .6 1.8 .5 1.7 .4 1.8 .4 1.7 .4 1.8 .2 1.7 .3 1.8 .2 1.8 .2 1.7 .1 1.8 .1 1.7 .1" stroke="#30f030" stroke-width="1.4"/>
<path d="M118.7 745.2l1.8-.1 1.8 0 1.7 0 1.8 0 1.7-.1 1.8 0 1.8 0 1.7-.1 1.8 0 1.7 0 1.8-.1 1.7 0 1.8 0 1.8-.1 1.7 0 1.8-.1 1.7 0 1.8-.1 1.7 0 1.8-.1 1.8 0 1.7-.1 1.8 0 1.7-.1 1.8-.1 1.7 0 1.8-.1 1.8-.1 1.7 0 1.8-.1 1.7-.1 1.8-.1 1.8-.1 1.7 0 1.8-.1 1.7-.1 1.8-.1 1.7-.1 1.8-.1 1.8-.1 1.7-.1 1.8-.1 1.7-.1 1.8-.1 1.7-.1 1.8-.1 1.8-.1 1.7-.1 1.8-.1 1.7-.1 1.8-.2 1.7-.1 1.8-.1 1.8-.1 1.7-.1 1.8-.2 1.7-.1 1.8-.1 1.8-.1 1.7-.1 1.8-.2 1.7-.1 1.8-.1 1.7-.1 1.8-.1 1.8-.2 1.7-.1 1.8-.1 1.7-.1 1.8-.1 1.7-.1 1.8-.2 1.8-.1 1.7-.1 1.8-.1 1.7-.1 1.8-.1 1.7-.1 1.8-.1 1.8-.1 1.7-.1 1.8 0 1.7-.1 1.8-.1 1.8-.1 1.7 0 1.8-.1 1.7-.1 1.8 0 1.7-.1 1.8 0 1.8-.1 1.7 0 1.8 0 1.7-.1 1.8 0 1.7 0 1.8 0 1.8 0 1.7 0 1.8 0 1.7 0 1.8 0 1.7 0 1.8 0 1.8 0 1.7 .1 1.8 0 1.7 0 1.8 .1 1.8 0 1.7 .1 1.8 0 1.7 .1 1.8 .1 1.7 0 1.8 .1 1.8 .1 1.7 .1 1.8 .1 1.7 .1 1.8 .1 1.7 0 1.8 .1 1.8 .1 1.7 .2 1.8 .1 1.7 .1 1.8 .1 1.7 .1 1.8 .1 1.8 .1 1.7 .1 1.8 .2 1.7 .1 1.8 .1 1.8 .1 1.7 .1 1.8 .2 1.7 .1 1.8 .1 1.7 .1 1.8 .1 1.8 .2 1.7 .1 1.8 .1 1.7 .1 1.8 .1 1.7 .2 1.8 .1 1.8 .1 1.7 .1 1.8 .1 1.7 .1 1.8 .1 1.7 .1 1.8 .2 1.8 .1 1.7 .1 1.8 .1 1.7 .1 1.8 0 1.8 .1 1.7 .1 1.8 .1 1.7 .1 1.8 .1 1.7 .1 1.8 .1 1.8 0 1.7 .1 1.8 .1 1.7 .1 1.8 0 1.7 .1 1.8 .1 1.8 0 1.7 .1 1.8 0 1.7 .1 1.8 0 1.7 .1 1.8 0 1.8 .1 1.7 0 1.8 .1 1.7 0 1.8 .1 1.8 0 1.7 0 1.8 .1 1.7 0 1.8 .1 1.7 0 1.8 0" stroke="#30f030" stroke-width="1.4"/>
<path d="M264.6 745.2l.9-.4 .9-.8 .9-1.5 .9-2.7 .8-4.3 .9-6.5 .9-9 .9-11.3 .8-12.9 .9-13.1 .9-11.4 .9-7.9 .9-2.8 .8 2.8 .9 7.9 .9 11.4 .9 13.1 .9 12.9 .8 11.3 .9 9 .9 6.5 .9 4.3 .9 2.7 .8 1.5 .9 .8 .9 .4" stroke="#2828ff" stroke-width="1.2" stroke-dasharray="2.5,2"/>
<path d="M275.2 745.4l.9-.5 .8-1.5 .9-3.7 .9-6.6 .9-7.9 .9-5 .8 1.1 .9 6.5 .9 7.8 .9 5.6 .9 2.9 .8 1" stroke="#ff2020" stroke-width="1.2" stroke-dasharray="2.5,2"/>
<path d="M256.7 745.2l.9-.3 .9-.4 .9-.8 .8-1.1 .9-1.6 .9-2.3 .9-2.8 .9-3.4 .8-3.7 .9-3.7 .9-3.4 .9-2.6 .9-1.6 .8-.2 .9 1.1 .9 2.3 .9 3.2 .8 3.7 .9 3.7 .9 3.5 .9 3.1 .9 2.4 .8 1.8 .9 1.3 .9 .9 .9 .5 .9 .3 .8 .2" stroke="#8020b0" stroke-width="1.2" stroke-dasharray="2.5,2"/>
<path d="M276.1 745.2l.8-.4 .9-.6 .9-1.1 .9-1.8 .9-2.8 .8-4.2 .9-5.8 .9-7.6 .9-9.4 .9-10.7 .8-11.3 .9-10.8 .9-9.2 .9-6.3 .8-2.5 .9 1.5 .9 5.3 .9 8.5 .9 10.5 .8 11.3 .9 11 .9 9.8 .9 8.1 .9 6.3 .8 4.6 .9 3.1 .9 2 .9 1.3 .8 .7 .9 .4 .9 .2" stroke="#8020b0" stroke-width="1.2" stroke-dasharray="2.5,2"/>
<path d="M352.5 745.2l.9-.3 .9-.3 .9-.4 .8-.7 .9-.8 .9-1.2 .9-1.4 .9-1.7 .8-1.9 .9-2.1 .9-2.3 .9-2.2 .8-2 .9-1.8 .9-1.3 .9-.7 .9-.1 .8 .5 .9 1.1 .9 1.6 .9 2 .9 2.2 .8 2.2 .9 2.2 .9 2 .9 1.8 .9 1.5 .8 1.2 .9 1 .9 .7 .9 .5 .8 .3 .9 .3 .9 .2" stroke="#8020b0" stroke-width="1.2" stroke-dasharray="2.5,2"/>
<path d="M361.3 745.2l.9-.2 .9-.3 .8-.5 .9-.6 .9-.8 .9-1 .9-1.3 .8-1.5 .9-1.8 .9-1.9 .9-2 .9-2 .8-1.8 .9-1.5 .9-1 .9-.6 .9 0 .8 .5 .9 1.1 .9 1.4 .9 1.8 .8 2 .9 2 .9 1.9 .9 1.8 .9 1.5 .8 1.3 .9 1.1 .9 .8 .9 .6 .9 .4 .8 .4 .9 .2" stroke="#8020b0" stroke-width="1.2" stroke-dasharray="2.5,2"/>
</g>
<g clip-path="url(#c6r)" fill="none">
<path d="M62.5 779.1H62.9V776.9H63.8V784H64.7V791.3H65.6V787.1H66.5V793.1H67.3V782H68.2V768.4H69.1V788.1H70V789.5H70.8V777.6H71.7V779H72.6V781.6H73.5V792.5H74.4V782.5H75.2V774.5H76.1V796.1H77V786.4H77.9V801.8H78.8V795.3H79.6V801.3H80.5V784.1H81.4V795.1H82.3V778.2H83.2V778.8H84V781.5H84.9V805.3H85.8V782.8H86.7V776.3H87.5V773.7H88.4V790.8H89.3V779.5H90.2V785.3H91.1V784.2H91.9V765.1H92.8V786H93.7V778.5H94.6V769.3H95.5V785.5H96.3V780.7H97.2V778.6H98.1V779.5H99V793.7H99.9V780.2H100.7V766.9H101.6V798.7H102.5V773.5H103.4V782H104.2V790.8H105.1V763H106V776.8H106.9V798.1H107.8V784.6H108.6V779.1H109.5V787H110.4V777.2H111.3V784.8H112.2V776.4H113V767.7H113.9V790H114.8V780.2H115.7V786.9H116.5V780.1H117.4V793.7H118.3V786.6H119.2V781.9H120.1V769.6H120.9V766.3H121.8V792.2H122.7V786H123.6V769.9H124.5V797.7H125.3V780.7H126.2V776.3H127.1V761.3H128V766.9H128.9V777.4H129.7V777.6H130.6V776H131.5V756.9H132.4V777.8H133.2V776.8H134.1V770.4H135V776.5H135.9V778.6H136.8V789.9H137.6V779.6H138.5V785.4H139.4V769H140.3V774.6H141.2V781.3H142V772.7H142.9V781.8H143.8V765.1H144.7V774.6H145.6V766.9H146.4V786.1H147.3V768.2H148.2V790.1H149.1V794.2H149.9V776H150.8V782.7H151.7V771.3H152.6V748.8H153.5V781.3H154.3V778.6H155.2V769.3H156.1V765.9H157V773.1H157.9V773.8H158.7V764.8H159.6V767.9H160.5V786H161.4V777.4H162.2V777.8H163.1V791H164V778.4H164.9V791.6H165.8V773H166.6V782.2H167.5V783.7H168.4V791.1H169.3V785.8H170.2V805.3H171V795.1H171.9V778H172.8V803.5H173.7V770.3H174.6V796.7H175.4V768.4H176.3V783.9H177.2V764.7H178.1V769.9H178.9V786.1H179.8V754.8H180.7V751.6H181.6V767.1H182.5V768.9H183.3V767.6H184.2V776.3H185.1V754.2H186V771.9H186.9V766.8H187.7V775H188.6V773.7H189.5V781.2H190.4V754.8H191.3V770.9H192.1V759.9H193V771.3H193.9V780.2H194.8V777.5H195.6V781.1H196.5V776.1H197.4V780.9H198.3V780.5H199.2V792.1H200V785.7H200.9V758.7H201.8V782.9H202.7V786.3H203.6V770.7H204.4V758.9H205.3V789.6H206.2V776.5H207.1V781.4H208V794.1H208.8V767.8H209.7V776.2H210.6V775.3H211.5V784H212.3V770.5H213.2V780.4H214.1V774.9H215V783.8H215.9V783.3H216.7V754.2H217.6V772.3H218.5V762.4H219.4V765.1H220.3V769.5H221.1V770.9H222V760.1H222.9V772.2H223.8V772.9H224.6V773.6H225.5V763.6H226.4V770.9H227.3V775.6H228.2V786.6H229V795.7H229.9V770.5H230.8V769.8H231.7V781H232.6V773H233.4V769.9H234.3V769H235.2V767.9H236.1V782.8H237V761.8H237.8V791.6H238.7V769.1H239.6V773.1H240.5V768.9H241.3V757.8H242.2V761.4H243.1V788.6H244V793H244.9V764.4H245.7V782.2H246.6V769.6H247.5V758.7H248.4V783.9H249.3V787.9H250.1V761.7H251V763.6H251.9V766.5H252.8V763.3H253.7V773H254.5V780.2H255.4V766.2H256.3V775.5H257.2V783.8H258V762H258.9V769.7H259.8V766.4H260.7V783.1H261.6V781.2H262.4V786.5H263.3V786.7H264.2V776.4H265.1V788H266V776.5H266.8V776.9H267.7V758.8H268.6V794.9H269.5V769.6H270.3V779.2H271.2V777.5H272.1V792.5H273V781.9H273.9V769.6H274.7V779.6H275.6V779.3H276.5V784.9H277.4V770.7H278.3V784.3H279.1V808.3H280V792.2H280.9V805.6H281.8V818.8H282.7V788.7H283.5V767.7H284.4V780.3H285.3V791.8H286.2V787.6H287V763.4H287.9V771.6H288.8V770.6H289.7V769.8H290.6V767.4H291.4V758.4H292.3V761.1H293.2V765.3H294.1V779.9H295V764.6H295.8V778.8H296.7V761H297.6V787.3H298.5V775.6H299.4V774.4H300.2V788.3H301.1V755.2H302V757.4H302.9V777.6H303.7V763.9H304.6V767.8H305.5V799.7H306.4V768.9H307.3V772.1H308.1V770.6H309V783.3H309.9V775H310.8V774.5H311.7V760.6H312.5V770.5H313.4V774.9H314.3V759H315.2V781.8H316V780.2H316.9V795.5H317.8V759.2H318.7V765.8H319.6V766.7H320.4V770.1H321.3V777.1H322.2V777.3H323.1V783.6H324V784.3H324.8V782.4H325.7V767.3H326.6V777.6H327.5V783.8H328.4V788.9H329.2V788.9H330.1V764.5H331V776.2H331.9V781.2H332.7V786.1H333.6V794.7H334.5V783.9H335.4V773.7H336.3V786.8H337.1V784H338V782.5H338.9V777.3H339.8V793.7H340.7V777.4H341.5V782.6H342.4V762.8H343.3V780H344.2V765.5H345.1V755.8H345.9V776.4H346.8V780.5H347.7V773.2H348.6V776.4H349.4V788.2H350.3V773.5H351.2V757.7H352.1V782.9H353V782.9H353.8V792.4H354.7V778H355.6V794.6H356.5V792.6H357.4V766.1H358.2V788.4H359.1V765.9H360V759.9H360.9V772.4H361.8V768.5H362.6V753.3H363.5V776.6H364.4V781.7H365.3V791.2H366.1V777.9H367V764.3H367.9V771.7H368.8V793.9H369.7V794.6H370.5V792.2H371.4V784.6H372.3V790.5H373.2V786.1H374.1V784.7H374.9V790.3H375.8V786.3H376.7V782.2H377.6V783.9H378.4V776.2H379.3V760.3H380.2V773H381.1V777.9H382V795.9H382.8V772.9H383.7V797.2H384.6V790.5H385.5V765.1H386.4V765.5H387.2V773.5H388.1V789.1H389V773.7H389.9V776.3H390.8V761.7H391.6V744.2H392.5V766.3H393.4V777.5H394.3V782.5H395.1V771.6H396V773.9H396.9V785.2H397.8V772.2H398.7V785.9H399.5V761.3H400.4V761.1H401.3V759.8H402.2V775.2H403.1V763.3H403.9V768.9H404.8V770.6H405.7V769.4H406.6V779.3H407.5V780.9H408.3V757.3H409.2V768.6H410.1V765.2H411V757.9H411.8V788.4H412.7V779.5H413.6V770.3H414.5V769.1H415.4V778.4H416.2V764.2H417.1V773.7H418V789.6H418.9V786.9H419.8V768.3H420.6V771.8H421.5V796.6H422.4V760.8H423.3V767.6H424.1V758H425V774.7H425.9V771.9H426.8V779.2H427.7V738.6H428.5V766.8H429.4V747.6H430.3V771.7H431.2V763.4H432.1V783.8H432.9V770.8H433.8V756.9H434.7V781.6H435.6V757.4H436.5V766H437.3V781.5H438.2V776.5H439.1V776.8H440V773.2H440.8V779.1H441.7V782.8H442.6V777.5H443.5V785.4H444.4V788.2H445.2V774.8H446.1V764.7H447V790.5H447.9V774.2H448.8V781.4H449.6V785.2H450.5V765.9H451.4V780.9H452.3V759.6H453.2V784.2H454V771.8H454.9V778.3H455.8V783.6H456.7V768.8H457.5V776.2H458.4V767.5H459.3V774H460.2V784.7H461.1V774.1H461.5" stroke="#2020f0" stroke-width="1.05"/>
<line x1="62.5" y1="774.9" x2="461.5" y2="774.9" stroke="#40f040" stroke-width="1.1"/>
<line x1="62.5" y1="764.42" x2="461.5" y2="764.42" stroke="#60ff60" stroke-width="1.1" stroke-dasharray="3,3"/>
<line x1="62.5" y1="784.97" x2="461.5" y2="784.97" stroke="#60ff60" stroke-width="1.1" stroke-dasharray="3,3"/>
</g>
<g fill="none" stroke="#909090" stroke-width="1">
<rect x="62.5" y="568.5" width="399" height="177"/>
<rect x="62.5" y="754.5" width="399" height="40"/>
<path d="M68.5 745.5v-2.3 M68.5 568.5v2.3 M68.5 794.5v-1.2 M68.5 754.5v1.2 M74.5 745.5v-2.3 M74.5 568.5v2.3 M74.5 794.5v-1.2 M74.5 754.5v1.2 M80.5 745.5v-2.3 M80.5 568.5v2.3 M80.5 794.5v-1.2 M80.5 754.5v1.2 M85.5 745.5v-2.3 M85.5 568.5v2.3 M85.5 794.5v-1.2 M85.5 754.5v1.2 M91.5 745.5v-2.3 M91.5 568.5v2.3 M91.5 794.5v-1.2 M91.5 754.5v1.2 M97.5 745.5v-2.3 M97.5 568.5v2.3 M97.5 794.5v-1.2 M97.5 754.5v1.2 M103.5 745.5v-2.3 M103.5 568.5v2.3 M103.5 794.5v-1.2 M103.5 754.5v1.2 M109.5 745.5v-2.3 M109.5 568.5v2.3 M109.5 794.5v-1.2 M109.5 754.5v1.2 M115.5 745.5v-2.3 M115.5 568.5v2.3 M115.5 794.5v-1.2 M115.5 754.5v1.2 M121.5 745.5v-3.6 M121.5 568.5v3.6 M121.5 794.5v-2 M121.5 754.5v2 M126.5 745.5v-2.3 M126.5 568.5v2.3 M126.5 794.5v-1.2 M126.5 754.5v1.2 M132.5 745.5v-2.3 M132.5 568.5v2.3 M132.5 794.5v-1.2 M132.5 754.5v1.2 M138.5 745.5v-2.3 M138.5 568.5v2.3 M138.5 794.5v-1.2 M138.5 754.5v1.2 M144.5 745.5v-2.3 M144.5 568.5v2.3 M144.5 794.5v-1.2 M144.5 754.5v1.2 M150.5 745.5v-2.3 M150.5 568.5v2.3 M150.5 794.5v-1.2 M150.5 754.5v1.2 M156.5 745.5v-2.3 M156.5 568.5v2.3 M156.5 794.5v-1.2 M156.5 754.5v1.2 M162.5 745.5v-2.3 M162.5 568.5v2.3 M162.5 794.5v-1.2 M162.5 754.5v1.2 M167.5 745.5v-2.3 M167.5 568.5v2.3 M167.5 794.5v-1.2 M167.5 754.5v1.2 M173.5 745.5v-2.3 M173.5 568.5v2.3 M173.5 794.5v-1.2 M173.5 754.5v1.2 M179.5 745.5v-3.6 M179.5 568.5v3.6 M179.5 794.5v-2 M179.5 754.5v2 M185.5 745.5v-2.3 M185.5 568.5v2.3 M185.5 794.5v-1.2 M185.5 754.5v1.2 M191.5 745.5v-2.3 M191.5 568.5v2.3 M191.5 794.5v-1.2 M191.5 754.5v1.2 M197.5 745.5v-2.3 M197.5 568.5v2.3 M197.5 794.5v-1.2 M197.5 754.5v1.2 M203.5 745.5v-2.3 M203.5 568.5v2.3 M203.5 794.5v-1.2 M203.5 754.5v1.2 M208.5 745.5v-2.3 M208.5 568.5v2.3 M208.5 794.5v-1.2 M208.5 754.5v1.2 M214.5 745.5v-2.3 M214.5 568.5v2.3 M214.5 794.5v-1.2 M214.5 754.5v1.2 M220.5 745.5v-2.3 M220.5 568.5v2.3 M220.5 794.5v-1.2 M220.5 754.5v1.2 M226.5 745.5v-2.3 M226.5 568.5v2.3 M226.5 794.5v-1.2 M226.5 754.5v1.2 M232.5 745.5v-2.3 M232.5 568.5v2.3 M232.5 794.5v-1.2 M232.5 754.5v1.2 M238.5 745.5v-3.6 M238.5 568.5v3.6 M238.5 794.5v-2 M238.5 754.5v2 M244.5 745.5v-2.3 M244.5 568.5v2.3 M244.5 794.5v-1.2 M244.5 754.5v1.2 M249.5 745.5v-2.3 M249.5 568.5v2.3 M249.5 794.5v-1.2 M249.5 754.5v1.2 M255.5 745.5v-2.3 M255.5 568.5v2.3 M255.5 794.5v-1.2 M255.5 754.5v1.2 M261.5 745.5v-2.3 M261.5 568.5v2.3 M261.5 794.5v-1.2 M261.5 754.5v1.2 M267.5 745.5v-2.3 M267.5 568.5v2.3 M267.5 794.5v-1.2 M267.5 754.5v1.2 M273.5 745.5v-2.3 M273.5 568.5v2.3 M273.5 794.5v-1.2 M273.5 754.5v1.2 M279.5 745.5v-2.3 M279.5 568.5v2.3 M279.5 794.5v-1.2 M279.5 754.5v1.2 M285.5 745.5v-2.3 M285.5 568.5v2.3 M285.5 794.5v-1.2 M285.5 754.5v1.2 M291.5 745.5v-2.3 M291.5 568.5v2.3 M291.5 794.5v-1.2 M291.5 754.5v1.2 M296.5 745.5v-3.6 M296.5 568.5v3.6 M296.5 794.5v-2 M296.5 754.5v2 M302.5 745.5v-2.3 M302.5 568.5v2.3 M302.5 794.5v-1.2 M302.5 754.5v1.2 M308.5 745.5v-2.3 M308.5 568.5v2.3 M308.5 794.5v-1.2 M308.5 754.5v1.2 M314.5 745.5v-2.3 M314.5 568.5v2.3 M314.5 794.5v-1.2 M314.5 754.5v1.2 M320.5 745.5v-2.3 M320.5 568.5v2.3 M320.5 794.5v-1.2 M320.5 754.5v1.2 M326.5 745.5v-2.3 M326.5 568.5v2.3 M326.5 794.5v-1.2 M326.5 754.5v1.2 M332.5 745.5v-2.3 M332.5 568.5v2.3 M332.5 794.5v-1.2 M332.5 754.5v1.2 M337.5 745.5v-2.3 M337.5 568.5v2.3 M337.5 794.5v-1.2 M337.5 754.5v1.2 M343.5 745.5v-2.3 M343.5 568.5v2.3 M343.5 794.5v-1.2 M343.5 754.5v1.2 M349.5 745.5v-2.3 M349.5 568.5v2.3 M349.5 794.5v-1.2 M349.5 754.5v1.2 M355.5 745.5v-3.6 M355.5 568.5v3.6 M355.5 794.5v-2 M355.5 754.5v2 M361.5 745.5v-2.3 M361.5 568.5v2.3 M361.5 794.5v-1.2 M361.5 754.5v1.2 M367.5 745.5v-2.3 M367.5 568.5v2.3 M367.5 794.5v-1.2 M367.5 754.5v1.2 M373.5 745.5v-2.3 M373.5 568.5v2.3 M373.5 794.5v-1.2 M373.5 754.5v1.2 M378.5 745.5v-2.3 M378.5 568.5v2.3 M378.5 794.5v-1.2 M378.5 754.5v1.2 M384.5 745.5v-2.3 M384.5 568.5v2.3 M384.5 794.5v-1.2 M384.5 754.5v1.2 M390.5 745.5v-2.3 M390.5 568.5v2.3 M390.5 794.5v-1.2 M390.5 754.5v1.2 M396.5 745.5v-2.3 M396.5 568.5v2.3 M396.5 794.5v-1.2 M396.5 754.5v1.2 M402.5 745.5v-2.3 M402.5 568.5v2.3 M402.5 794.5v-1.2 M402.5 754.5v1.2 M408.5 745.5v-2.3 M408.5 568.5v2.3 M408.5 794.5v-1.2 M408.5 754.5v1.2 M414.5 745.5v-3.6 M414.5 568.5v3.6 M414.5 794.5v-2 M414.5 754.5v2 M419.5 745.5v-2.3 M419.5 568.5v2.3 M419.5 794.5v-1.2 M419.5 754.5v1.2 M425.5 745.5v-2.3 M425.5 568.5v2.3 M425.5 794.5v-1.2 M425.5 754.5v1.2 M431.5 745.5v-2.3 M431.5 568.5v2.3 M431.5 794.5v-1.2 M431.5 754.5v1.2 M437.5 745.5v-2.3 M437.5 568.5v2.3 M437.5 794.5v-1.2 M437.5 754.5v1.2 M443.5 745.5v-2.3 M443.5 568.5v2.3 M443.5 794.5v-1.2 M443.5 754.5v1.2 M449.5 745.5v-2.3 M449.5 568.5v2.3 M449.5 794.5v-1.2 M449.5 754.5v1.2 M455.5 745.5v-2.3 M455.5 568.5v2.3 M455.5 794.5v-1.2 M455.5 754.5v1.2 M460.5 745.5v-2.3 M460.5 568.5v2.3 M460.5 794.5v-1.2 M460.5 754.5v1.2 M62.5 742.5h4 M461.5 742.5h-4 M62.5 740.5h4 M461.5 740.5h-4 M62.5 737.5h4 M461.5 737.5h-4 M62.5 735.5h4 M461.5 735.5h-4 M62.5 732.5h4 M461.5 732.5h-4 M62.5 729.5h4 M461.5 729.5h-4 M62.5 727.5h4 M461.5 727.5h-4 M62.5 724.5h4 M461.5 724.5h-4 M62.5 722.5h4 M461.5 722.5h-4 M62.5 719.5h8 M461.5 719.5h-8 M62.5 716.5h4 M461.5 716.5h-4 M62.5 714.5h4 M461.5 714.5h-4 M62.5 711.5h4 M461.5 711.5h-4 M62.5 709.5h4 M461.5 709.5h-4 M62.5 706.5h4 M461.5 706.5h-4 M62.5 703.5h4 M461.5 703.5h-4 M62.5 701.5h4 M461.5 701.5h-4 M62.5 698.5h4 M461.5 698.5h-4 M62.5 696.5h4 M461.5 696.5h-4 M62.5 693.5h8 M461.5 693.5h-8 M62.5 690.5h4 M461.5 690.5h-4 M62.5 688.5h4 M461.5 688.5h-4 M62.5 685.5h4 M461.5 685.5h-4 M62.5 683.5h4 M461.5 683.5h-4 M62.5 680.5h4 M461.5 680.5h-4 M62.5 678.5h4 M461.5 678.5h-4 M62.5 675.5h4 M461.5 675.5h-4 M62.5 672.5h4 M461.5 672.5h-4 M62.5 670.5h4 M461.5 670.5h-4 M62.5 667.5h8 M461.5 667.5h-8 M62.5 665.5h4 M461.5 665.5h-4 M62.5 662.5h4 M461.5 662.5h-4 M62.5 659.5h4 M461.5 659.5h-4 M62.5 657.5h4 M461.5 657.5h-4 M62.5 654.5h4 M461.5 654.5h-4 M62.5 652.5h4 M461.5 652.5h-4 M62.5 649.5h4 M461.5 649.5h-4 M62.5 646.5h4 M461.5 646.5h-4 M62.5 644.5h4 M461.5 644.5h-4 M62.5 641.5h8 M461.5 641.5h-8 M62.5 639.5h4 M461.5 639.5h-4 M62.5 636.5h4 M461.5 636.5h-4 M62.5 633.5h4 M461.5 633.5h-4 M62.5 631.5h4 M461.5 631.5h-4 M62.5 628.5h4 M461.5 628.5h-4 M62.5 626.5h4 M461.5 626.5h-4 M62.5 623.5h4 M461.5 623.5h-4 M62.5 620.5h4 M461.5 620.5h-4 M62.5 618.5h4 M461.5 618.5h-4 M62.5 615.5h8 M461.5 615.5h-8 M62.5 613.5h4 M461.5 613.5h-4 M62.5 610.5h4 M461.5 610.5h-4 M62.5 607.5h4 M461.5 607.5h-4 M62.5 605.5h4 M461.5 605.5h-4 M62.5 602.5h4 M461.5 602.5h-4 M62.5 600.5h4 M461.5 600.5h-4 M62.5 597.5h4 M461.5 597.5h-4 M62.5 594.5h4 M461.5 594.5h-4 M62.5 592.5h4 M461.5 592.5h-4 M62.5 589.5h8 M461.5 589.5h-8 M62.5 587.5h4 M461.5 587.5h-4 M62.5 584.5h4 M461.5 584.5h-4 M62.5 581.5h4 M461.5 581.5h-4 M62.5 579.5h4 M461.5 579.5h-4 M62.5 576.5h4 M461.5 576.5h-4 M62.5 574.5h4 M461.5 574.5h-4 M62.5 571.5h4 M461.5 571.5h-4 M62.5 569.5h4 M461.5 569.5h-4"/>
</g>
<path d="M62.5 754.5h8M62.5 794.5h8" stroke="#6e6e6e" stroke-width="1.3" fill="none"/>
<line x1="62.5" y1="746" x2="461.5" y2="746" stroke="#2418e8" stroke-width="2"/>
<line x1="62.5" y1="746" x2="461.5" y2="746" stroke="#68009c" stroke-width="2" stroke-dasharray="3,2"/>
<g fill="#8c8c8c" font-family="'DejaVu Sans', 'Liberation Sans', sans-serif">
<text x="57.9" y="746.1" font-size="12.2" text-anchor="end" textLength="7" lengthAdjust="spacingAndGlyphs">0</text>
<text x="57.9" y="724.55" font-size="12.2" text-anchor="end" textLength="14" lengthAdjust="spacingAndGlyphs">10</text>
<text x="57.9" y="698.59" font-size="12.2" text-anchor="end" textLength="14" lengthAdjust="spacingAndGlyphs">20</text>
<text x="57.9" y="672.64" font-size="12.2" text-anchor="end" textLength="14" lengthAdjust="spacingAndGlyphs">30</text>
<text x="57.9" y="646.69" font-size="12.2" text-anchor="end" textLength="14" lengthAdjust="spacingAndGlyphs">40</text>
<text x="57.9" y="620.73" font-size="12.2" text-anchor="end" textLength="14" lengthAdjust="spacingAndGlyphs">50</text>
<text x="57.9" y="594.78" font-size="12.2" text-anchor="end" textLength="14" lengthAdjust="spacingAndGlyphs">60</text>
<text x="58.3" y="763" font-size="12.2" text-anchor="end" textLength="7" lengthAdjust="spacingAndGlyphs">2</text>
<text x="58.3" y="779.5" font-size="12.2" text-anchor="end" textLength="7" lengthAdjust="spacingAndGlyphs">0</text>
<text x="58.3" y="796" font-size="12.2" text-anchor="end" textLength="17" lengthAdjust="spacingAndGlyphs">&#8722;2</text>
<text x="62.5" y="812.1" font-size="12.4" text-anchor="middle" textLength="31" lengthAdjust="spacingAndGlyphs">6200</text>
<text x="121.09" y="812.1" font-size="12.4" text-anchor="middle" textLength="31" lengthAdjust="spacingAndGlyphs">6300</text>
<text x="179.68" y="812.1" font-size="12.4" text-anchor="middle" textLength="31" lengthAdjust="spacingAndGlyphs">6400</text>
<text x="238.27" y="812.1" font-size="12.4" text-anchor="middle" textLength="31" lengthAdjust="spacingAndGlyphs">6500</text>
<text x="296.86" y="812.1" font-size="12.4" text-anchor="middle" textLength="31" lengthAdjust="spacingAndGlyphs">6600</text>
<text x="355.45" y="812.1" font-size="12.4" text-anchor="middle" textLength="31" lengthAdjust="spacingAndGlyphs">6700</text>
<text x="414.04" y="812.1" font-size="12.4" text-anchor="middle" textLength="31" lengthAdjust="spacingAndGlyphs">6800</text>
<text x="262" y="826.3" font-size="12" text-anchor="middle" textLength="122.5" lengthAdjust="spacingAndGlyphs">rest wavelength (&#197;)</text>
<text y="583.1" font-size="13.8"><tspan x="66.7" textLength="37.5" lengthAdjust="spacingAndGlyphs">3830</tspan><tspan x="103.4" textLength="13.2" lengthAdjust="spacingAndGlyphs">-</tspan><tspan x="115.4" textLength="46" lengthAdjust="spacingAndGlyphs">55574</tspan><tspan x="160.7" textLength="12.8" lengthAdjust="spacingAndGlyphs">-</tspan><tspan x="172.8" textLength="36.8" lengthAdjust="spacingAndGlyphs">0154</tspan></text>
<text x="67.3" y="600.8" font-size="13.8" textLength="88.5" lengthAdjust="spacingAndGlyphs"><tspan font-size="15">&#967;</tspan><tspan font-size="9" dy="-7">2</tspan><tspan dy="7">/dof~1.17</tspan></text>
<text x="31.3" y="658.2" font-size="12" text-anchor="middle" textLength="135.5" lengthAdjust="spacingAndGlyphs" transform="rotate(-90 31.3 658.2)">F<tspan font-size="8" dy="3">&#955;</tspan><tspan dy="-3"> (10</tspan><tspan font-size="9.5" dy="-5">&#8722;17</tspan><tspan dy="5">erg/s/cm</tspan><tspan font-size="8" dy="-5">2</tspan><tspan dy="5">/&#197;)</tspan></text>
<text x="30.8" y="775.5" font-size="11.6" text-anchor="middle" textLength="49.7" lengthAdjust="spacingAndGlyphs" transform="rotate(-90 30.8 775.5)">residuals</text>
</g>
<clipPath id="c7m"><rect x="536.5" y="568.5" width="399" height="177"/></clipPath>
<clipPath id="c7r"><rect x="536.5" y="754.5" width="399" height="40"/></clipPath>
<g clip-path="url(#c7m)" fill="none">
<path d="M536.5 721.5H536.9V721.2H537.8V721.2H538.7V720.5H539.6V722H540.5V720.4H541.3V721H542.2V719.7H543.1V719.7H544V719.4H544.8V720H545.7V720.7H546.6V720H547.5V719.6H548.4V721.2H549.2V720.2H550.1V720.7H551V719.5H551.9V721.2H552.8V720.7H553.6V720.1H554.5V720.1H555.4V721.4H556.3V719.8H557.2V720H558V720H558.9V719.9H559.8V719.5H560.7V721H561.5V718.4H562.4V720.3H563.3V721.4H564.2V719.8H565.1V718.7H565.9V720.3H566.8V718.7H567.7V718.7H568.6V720.6H569.5V721.8H570.3V720.7H571.2V718.7H572.1V720.1H573V720.5H573.9V720.2H574.7V719.1H575.6V719H576.5V718.3H577.4V718.2H578.2V719.7H579.1V719.1H580V720H580.9V719.1H581.8V720.1H582.6V720.2H583.5V717.6H584.4V719.1H585.3V718.5H586.2V716.9H587V718H587.9V718.4H588.8V717.5H589.7V716.9H590.5V713.3H591.4V711.1H592.3V705H593.2V701.4H594.1V696.2H594.9V692.1H595.8V689.2H596.7V690H597.6V692.1H598.5V698.4H599.3V703.2H600.2V707.2H601.1V713.2H602V715.7H602.9V717H603.7V719H604.6V720.5H605.5V722H606.4V718.7H607.2V720.2H608.1V719.6H609V720.8H609.9V719H610.8V719.9H611.6V720.2H612.5V720.9H613.4V719.9H614.3V720.5H615.2V720.4H616V721.6H616.9V720.8H617.8V720.4H618.7V721.6H619.6V720.6H620.4V720.2H621.3V720.9H622.2V721.1H623.1V721H623.9V719.7H624.8V721.4H625.7V720.3H626.6V720H627.5V719.1H628.3V718.4H629.2V717.9H630.1V714H631V713.7H631.9V713.4H632.7V712.1H633.6V711.2H634.5V711.4H635.4V714.2H636.2V714.2H637.1V717.4H638V718.3H638.9V718H639.8V717.8H640.6V719.3H641.5V719.4H642.4V717.9H643.3V719.4H644.2V718H645V717.8H645.9V716.9H646.8V717.3H647.7V717.5H648.6V716.6H649.4V717.7H650.3V716H651.2V717H652.1V716.9H652.9V716.3H653.8V715.8H654.7V715.2H655.6V715.8H656.5V715.1H657.3V714.8H658.2V715.7H659.1V716.3H660V714.8H660.9V715.2H661.7V716.8H662.6V715.8H663.5V714.8H664.4V715.7H665.3V715H666.1V715.6H667V713.7H667.9V713.6H668.8V713.3H669.6V712H670.5V713H671.4V712.5H672.3V710.3H673.2V712.4H674V710.4H674.9V711.6H675.8V710H676.7V708.2H677.6V709.3H678.4V709.8H679.3V707.1H680.2V709H681.1V708.5H682V707.8H682.8V708.8H683.7V706.7H684.6V706H685.5V706.4H686.3V706.4H687.2V706.4H688.1V705.3H689V708H689.9V705.3H690.7V704.6H691.6V705.9H692.5V703.6H693.4V703.5H694.3V702.9H695.1V702.1H696V701.1H696.9V700.5H697.8V700.8H698.6V699.4H699.5V698.7H700.4V697.8H701.3V697.6H702.2V695.8H703V695H703.9V694.3H704.8V693.5H705.7V693.4H706.6V694.3H707.4V693.9H708.3V693.2H709.2V692H710.1V691.9H711V690.5H711.8V689.5H712.7V690.6H713.6V689H714.5V689.5H715.3V689.7H716.2V689.3H717.1V688.2H718V689.2H718.9V687.1H719.7V686.1H720.6V688H721.5V687.2H722.4V685.5H723.3V686H724.1V685.6H725V685.4H725.9V683.7H726.8V683.5H727.7V683.8H728.5V684H729.4V683.3H730.3V679.9H731.2V679.7H732V677.4H732.9V676.9H733.8V676.3H734.7V672.2H735.6V668.2H736.4V666.2H737.3V662.3H738.2V657H739.1V656.6H740V653.8H740.8V649.4H741.7V645.8H742.6V641.6H743.5V635.6H744.3V626.5H745.2V612.5H746.1V597H747V586H747.9V583.2H748.7V583.8H749.6V584.3H750.5V581.9H751.4V584.3H752.3V585.2H753.1V591.7H754V598.6H754.9V609.5H755.8V621.4H756.7V633.5H757.5V637H758.4V635.1H759.3V630.1H760.2V625.5H761V619.9H761.9V619.1H762.8V621.2H763.7V626.2H764.6V632.3H765.4V641.5H766.3V648.5H767.2V657.5H768.1V667.4H769V677H769.8V683.3H770.7V685.9H771.6V688.3H772.5V687.5H773.4V689.2H774.2V688.4H775.1V689.3H776V689.2H776.9V689.4H777.7V688.4H778.6V689.2H779.5V688.8H780.4V690.1H781.3V690.3H782.1V689.2H783V692H783.9V691.7H784.8V691.5H785.7V690.2H786.5V692.4H787.4V691.6H788.3V691.4H789.2V693.1H790V693.5H790.9V692.5H791.8V694.7H792.7V695.5H793.6V694.5H794.4V696H795.3V695H796.2V696H797.1V698.1H798V696.8H798.8V697.3H799.7V698.1H800.6V697H801.5V699.3H802.4V699.1H803.2V698.8H804.1V698H805V700.1H805.9V699.8H806.7V700.3H807.6V701.4H808.5V701H809.4V701.9H810.3V701.7H811.1V701.4H812V702.5H812.9V702.6H813.8V702.7H814.7V702.7H815.5V703.2H816.4V702.9H817.3V701.9H818.2V702.7H819.1V699.5H819.9V702.7H820.8V701.8H821.7V703.5H822.6V702.8H823.4V703.3H824.3V703.2H825.2V702.5H826.1V704.1H827V705.2H827.8V704.5H828.7V705.6H829.6V705H830.5V703.5H831.4V703.4H832.2V702.1H833.1V700.6H834V698.3H834.9V695.9H835.8V691H836.6V686.8H837.5V681.9H838.4V678.5H839.3V676.6H840.1V675.8H841V672.9H841.9V673.2H842.8V674.6H843.7V673.8H844.5V672.4H845.4V672.1H846.3V673H847.2V674H848.1V675.8H848.9V677.9H849.8V683H850.7V687.6H851.6V689.9H852.4V697.4H853.3V700.5H854.2V704.6H855.1V707.9H856V710.9H856.8V711.2H857.7V712.9H858.6V714.2H859.5V715.6H860.4V715.1H861.2V715.7H862.1V716.5H863V715.5H863.9V715.6H864.8V715.6H865.6V716.4H866.5V716.9H867.4V716H868.3V716.6H869.1V715.6H870V717.2H870.9V718.5H871.8V717.2H872.7V716.2H873.5V718H874.4V718.4H875.3V718.9H876.2V717.1H877.1V718.8H877.9V718.9H878.8V718.6H879.7V719.9H880.6V719H881.5V719.8H882.3V718.9H883.2V718.3H884.1V717.9H885V718.8H885.8V717.7H886.7V718.5H887.6V719.2H888.5V717.3H889.4V717.7H890.2V717.3H891.1V719.3H892V717H892.9V717H893.8V717.1H894.6V716.6H895.5V717.8H896.4V716.1H897.3V717.4H898.1V717.8H899V720.3H899.9V720H900.8V717.4H901.7V718.3H902.5V717.9H903.4V718.8H904.3V718.5H905.2V717.8H906.1V718.7H906.9V717H907.8V718.7H908.7V717.7H909.6V718H910.5V717.6H911.3V716.9H912.2V718.8H913.1V717.7H914V718H914.8V717.5H915.7V718.2H916.6V718.6H917.5V717.8H918.4V717.2H919.2V717.5H920.1V718H921V717.7H921.9V719.1H922.8V718.3H923.6V718.1H924.5V718.3H925.4V718.4H926.3V717.8H927.2V717.4H928V716.2H928.9V718.2H929.8V718.3H930.7V716.8H931.5V717.5H932.4V718.3H933.3V716.6H934.2V718.1H935.1V718.3H935.5" stroke="#2a7f2a" stroke-width="1.45"/>
<path d="M536.5 720.4l.9 0 .9 0 .8 0 .9 0 .9 0 .9-.1 .9 0 .8 0 .9 0 .9 0 .9 0 .8 0 .9 0 .9-.1 .9 0 .9 0 .8 0 .9 0 .9 0 .9 0 .9 0 .8 0 .9-.1 .9 0 .9 0 .9 0 .8 0 .9 0 .9 0 .9 0 .8 0 .9 0 .9-.1 .9 0 .9 0 .8 0 .9 0 .9 0 .9 0 .9 0 .8 0 .9 0 .9 0 .9 0 .8 0 .9 0 .9-.1 .9 0 .9 0 .8 0 .9 0 .9 0 .9 0 .9 0 .8 0 .9 0 .9-.1 .9-.1 .9-.4 .8-.7 .9-1.4 .9-2.3 .9-3.4 .8-4.6 .9-5.4 .9-5.3 .9-4.3 .9-2.2 .8 .5 .9 2.9 .9 4.8 .9 5.4 .9 5.2 .8 4.2 .9 3.1 .9 1.9 .9 1.1 .9 .6 .8 .3 .9 .1 .9 .1 .9 0 .8 0 .9 0 .9 0 .9 0 .9 0 .8 0 .9 0 .9 0 .9 0 .9 0 .8-.1 .9 0 .9 0 .9 0 .8 0 .9 0 .9 0 .9-.1 .9 0 .8-.2 .9-.4 .9-.6 .9-1 .9-1.4 .8-1.7 .9-1.9 .9-1.6 .9-1.1 .9-.3 .8 .6 .9 1.3 .9 1.6 .9 1.8 .8 1.5 .9 1 .9 .7 .9 .4 .9 .1 .8 0 .9-.1 .9-.2 .9-.1 .9-.2 .8-.2 .9-.2 .9-.2 .9-.1 .9-.2 .8-.2 .9-.2 .9-.1 .9-.2 .8-.1 .9-.2 .9-.1 .9-.2 .9-.1 .8-.1 .9-.2 .9-.2 .9-.1 .9-.2 .8-.2 .9-.2 .9-.2 .9-.2 .8-.2 .9-.2 .9-.3 .9-.2 .9-.3 .8-.2 .9-.3 .9-.3 .9-.3 .9-.3 .8-.3 .9-.3 .9-.4 .9-.3 .9-.4 .8-.4 .9-.4 .9-.4 .9-.4 .8-.4 .9-.4 .9-.5 .9-.4 .9-.5 .8-.4 .9-.5 .9-.5 .9-.5 .9-.5 .8-.5 .9-.5 .9-.5 .9-.5 .9-.5 .8-.6 .9-.5 .9-.6 .9-.5 .8-.6 .9-.5 .9-.6 .9-.5 .9-.6 .8-.5 .9-.5 .9-.6 .9-.5 .9-.5 .8-.5 .9-.5 .9-.5 .9-.5 .8-.5 .9-.5 .9-.5 .9-.4 .9-.5 .8-.4 .9-.4 .9-.5 .9-.4 .9-.4 .8-.4 .9-.3 .9-.5 .9-.5 .9-.6 .8-.6 .9-.7 .9-.7 .9-.8 .8-.8 .9-.8 .9-.9 .9-.9 .9-1.1 .8-2 .9-2.8 .9-3.3 .9-3.5 .9-3.7 .8-3.7 .9-3 .9-2.5 .9-2.8 .9-4.4 .8-5.2 .9-6.4 .9-7.7 .9-13.4 .8-15.9 .9-11.4 .9-2 .9-.4 .9-.2 .8-.2 .9-.1 .9 1.8 .9 6.5 .9 8.2 .8 9.1 .9 12.3 .9 10.9 .9 5.1 .9-1.8 .8-4.9 .9-5.8 .9-4.8 .9-1.5 .8 2.4 .9 5.4 .9 7.2 .9 8 .9 7.5 .8 8.2 .9 10.3 .9 9.4 .9 6.9 .9 3.2 .8 1.1 .9 .7 .9 .5 .9 .5 .8 .3 .9 .4 .9 .3 .9 .3 .9 .3 .8 .3 .9 .3 .9 .2 .9 .3 .9 .3 .8 .2 .9 .3 .9 .3 .9 .2 .9 .3 .8 .2 .9 .3 .9 .2 .9 .3 .8 .2 .9 .2 .9 .3 .9 .2 .9 .3 .8 .2 .9 .3 .9 .2 .9 .3 .9 .2 .8 .3 .9 .2 .9 .3 .9 .3 .9 .2 .8 .3 .9 .2 .9 .3 .9 .3 .8 .2 .9 .3 .9 .2 .9 .3 .9 .2 .8 .2 .9 .3 .9 .2 .9 .2 .9 .2 .8 .2 .9 .2 .9 .2 .9 .2 .8 .2 .9 .2 .9 .2 .9 .3 .9 .2 .8 .2 .9 .2 .9 .1 .9 .2 .9 .1 .8-.1 .9-.4 .9-.7 .9-1.2 .9-1.9 .8-2.6 .9-3.4 .9-3.9 .9-4 .8-3.8 .9-3 .9-2.2 .9-1.6 .9-.9 .8 0 .9 .1 .9-.4 .9-1.1 .9-.8 .8 .8 .9 1.5 .9 1.4 .9 2.4 .9 3.7 .8 4.6 .9 5 .9 5 .9 4.6 .8 3.9 .9 3 .9 2.2 .9 1.5 .9 1 .8 .6 .9 .5 .9 .4 .9 .3 .9 .3 .8 .3 .9 .2 .9 .3 .9 .2 .8 .2 .9 .2 .9 .2 .9 .1 .9 .2 .8 0 .9 .1 .9 .1 .9 .1 .9 0 .8 .1 .9 0 .9 .1 .9 .1 .9 0 .8 .1 .9 0 .9 0 .9 .1 .8 0 .9 0 .9 .1 .9 0 .9 0 .8 0 .9 .1 .9 0 .9 0 .9 0 .8 0 .9 .1 .9 0 .9 0 .9 0 .8 0 .9 0 .9 0 .9 0 .8 .1 .9 0 .9 0 .9 0 .9 0 .8 0 .9 0 .9 0 .9 0 .9 0 .8 0 .9 0 .9 .1 .9 0 .8 0 .9 0 .9 0 .9 0 .9 0 .8 0 .9 0 .9 .1 .9 0 .9 0 .8 0 .9 0 .9 0 .9 0 .9 0 .8 .1 .9 0 .9 0 .9 0 .8 0 .9 0 .9 0 .9 .1 .9 0 .8 0 .9 0 .9 0" stroke="#e8281e" stroke-width="0.9"/>
<path d="M536.5 719.5l3.5 0 3.5 0 3.5 0 3.6 0 3.5 0 3.5 0 3.5 0 3.5 0 3.5 0 3.6 0 3.5 0 3.5 0 3.5 0 3.5 0 3.5 0 3.5 0 3.6 0 3.5 0 3.5 0 3.5 0 3.5 0 3.5 0 3.6 0 3.5 0 3.5 0 3.5 0 3.5 0 3.5 0 3.5 0 3.6 0 3.5 0 3.5 0 3.5 0 3.5 0 3.5 0 3.6 0 3.5 0 3.5 0 3.5 0 3.5 0 3.5 0 3.5 0 3.6 0 3.5 0 3.5 0 3.5 0 3.5 0 3.5 0 3.6 0 3.5 0 3.5 0 3.5 0 3.5 0 3.5 0 3.5 0 3.6 0 3.5 0 3.5 0 3.5 0 3.5 0 3.5 0 3.6 0 3.5 0 3.5 0 3.5 0 3.5 0 3.5 0 3.5 0 3.6 0 3.5 0 3.5 0 3.5 0 3.5 0 3.5 0 3.6 0 3.5 0 3.5 0 3.5 0 3.5 0 3.5 0 3.5 0 3.6 0 3.5 0 3.5 0 3.5 0 3.5 0 3.5 0 3.6 0 3.5 0 3.5 0 3.5 0 3.5 0 3.5 0 3.5 0 3.6 0 3.5 0 3.5 0 3.5 0 3.5 0 3.5 0 3.6 0 3.5 0 3.5 0 3.5 0 3.5 0 3.5 0 3.5 0 3.6 0 3.5 0 3.5 0 3.5 0 3.5 0 3.5 0" stroke="#40f0ff" stroke-width="1.0" stroke-dasharray="2.5,2"/>
<path d="M587.5 745.3l.9-.4 .8-.7 .9-1.4 .9-2.3 .9-3.4 .8-4.6 .9-5.4 .9-5.3 .9-4.3 .9-2.1 .8 .4 .9 3 .9 4.7 .9 5.5 .9 5.1 .8 4.3 .9 3 .9 1.9 .9 1.2 .9 .5 .8 .3" stroke="#2828ff" stroke-width="1.2"/>
<path d="M626.1 745.2l.9-.4 .9-.6 .9-.9 .9-1.4 .8-1.7 .9-1.9 .9-1.6 .9-1.1 .9-.3 .8 .7 .9 1.3 .9 1.8 .9 1.8 .8 1.6 .9 1.2 .9 .8 .9 .5 .9 .3" stroke="#2828ff" stroke-width="1.2"/>
<path d="M635.8 745.2l1.8-.1 1.7-.1 1.8 0 1.7-.1 1.8-.1 1.8-.2 1.7-.1 1.8-.2 1.7-.1 1.8-.2 1.7-.3 1.8-.2 1.8-.3 1.7-.3 1.8-.3 1.7-.4 1.8-.4 1.7-.5 1.8-.5 1.8-.5 1.7-.6 1.8-.6 1.7-.6 1.8-.8 1.8-.7 1.7-.8 1.8-.9 1.7-.9 1.8-.9 1.7-1 1.8-1 1.8-1.1 1.7-1.1 1.8-1.1 1.7-1.1 1.8-1.2 1.7-1.1 1.8-1.2 1.8-1.2 1.7-1.1 1.8-1.1 1.7-1.2 1.8-1 1.7-1.1 1.8-.9 1.8-1 1.7-.8 1.8-.8 1.7-.7 1.8-.7 1.8-.5 1.7-.5 1.8-.3 1.7-.3 1.8-.1 1.7-.1 1.8 .1 1.8 .2 1.7 .2 1.8 .4 1.7 .5 1.8 .5 1.7 .7 1.8 .7 1.8 .8 1.7 .9 1.8 .9 1.7 1 1.8 1.1 1.8 1.1 1.7 1.1 1.8 1.1 1.7 1.2 1.8 1.1 1.7 1.2 1.8 1.2 1.8 1.1 1.7 1.2 1.8 1.1 1.7 1 1.8 1.1 1.7 1 1.8 1 1.8 .9 1.7 .9 1.8 .8 1.7 .8 1.8 .8 1.7 .7 1.8 .6 1.8 .7 1.7 .5 1.8 .5 1.7 .5 1.8 .5 1.8 .4 1.7 .3 1.8 .4 1.7 .3 1.8 .2 1.7 .3 1.8 .2 1.8 .2 1.7 .2 1.8 .1 1.7 .2 1.8 .1 1.7 .1 1.8 .1 1.8 0 1.7 .1 1.8 .1" stroke="#30f030" stroke-width="1.4"/>
<path d="M714.9 745.2l1.8-.1 1.7-.1 1.8 0 1.7-.1 1.8-.1 1.8-.1 1.7-.2 1.8-.1 1.7-.2 1.8-.1 1.7-.2 1.8-.2 1.8-.3 1.7-.2 1.8-.3 1.7-.3 1.8-.4 1.7-.3 1.8-.4 1.8-.4 1.7-.5 1.8-.4 1.7-.5 1.8-.5 1.8-.6 1.7-.5 1.8-.6 1.7-.6 1.8-.6 1.7-.6 1.8-.6 1.8-.7 1.7-.6 1.8-.6 1.7-.6 1.8-.6 1.7-.5 1.8-.6 1.8-.5 1.7-.5 1.8-.4 1.7-.4 1.8-.4 1.7-.3 1.8-.2 1.8-.2 1.7-.1 1.8-.1 1.7 0 1.8 0 1.8 .1 1.7 .1 1.8 .3 1.7 .2 1.8 .3 1.7 .4 1.8 .4 1.8 .5 1.7 .4 1.8 .6 1.7 .5 1.8 .6 1.7 .6 1.8 .6 1.8 .6 1.7 .6 1.8 .6 1.7 .6 1.8 .7 1.7 .6 1.8 .5 1.8 .6 1.7 .6 1.8 .5 1.7 .5 1.8 .5 1.8 .4 1.7 .5 1.8 .4 1.7 .4 1.8 .3 1.7 .3 1.8 .3 1.8 .3 1.7 .3 1.8 .2 1.7 .2 1.8 .2 1.7 .2 1.8 .1 1.8 .2 1.7 .1 1.8 .1 1.7 .1 1.8 .1 1.7 .1 1.8 0" stroke="#30f030" stroke-width="1.4"/>
<path d="M740.4 745.4l.9-.4 .9-.8 .8-2.2 .9-4.6 .9-8.5 .9-13.5 .8-18.3 .9-20.4 .9-17.9 .9-10.1 .9 1.2 .8 12 .9 18.8 .9 20.4 .9 17.4 .9 12.5 .8 7.6 .9 4 .9 1.8 .9 .7 .9 .3" stroke="#2828ff" stroke-width="1.2" stroke-dasharray="2.5,2"/>
<path d="M750.1 745.4l.8-.7 .9-3.6 .9-11 .9-18.6 .9-13.1 .8 6.1 .9 18.6 .9 14.7 .9 6 .9 1.5" stroke="#ff2020" stroke-width="1.2" stroke-dasharray="2.5,2"/>
<path d="M733.4 745.3l.8-.4 .9-.7 .9-1.5 .9-2.4 .9-3.6 .8-4.5 .9-4.6 .9-3.7 .9-1.8 .9 .8 .8 3 .9 4.4 .9 4.7 .9 4 .8 2.9 .9 1.8 .9 1 .9 .5" stroke="#8020b0" stroke-width="1.2" stroke-dasharray="2.5,2"/>
<path d="M751.8 745.3l.9-.3 .9-.7 .9-1.4 .8-2.6 .9-4.3 .9-6.7 .9-9.1 .9-11 .8-11.8 .9-10.4 .9-7.1 .9-2 .8 3.4 .9 8.2 .9 11 .9 11.8 .9 10.6 .8 8.5 .9 6 .9 3.8 .9 2.2 .9 1.2 .8 .5 .9 .3" stroke="#8020b0" stroke-width="1.2" stroke-dasharray="2.5,2"/>
<path d="M829.2 745.2l.8-.2 .9-.6 .9-.8 .9-1.4 .9-2.1 .8-2.8 .9-3.5 .9-4 .9-4.1 .8-3.6 .9-2.6 .9-1.2 .9 .5 .9 2.1 .8 3.3 .9 4 .9 4.1 .9 3.7 .9 3.1 .8 2.3 .9 1.7 .9 1 .9 .7 .9 .3" stroke="#8020b0" stroke-width="1.2" stroke-dasharray="2.5,2"/>
<path d="M837.9 745.2l.9-.3 .9-.5 .9-1 .9-1.5 .8-2.2 .9-3.1 .9-3.9 .9-4.6 .9-4.7 .8-4.2 .9-3.2 .9-1.6 .9 .3 .9 2.2 .8 3.6 .9 4.5 .9 4.7 .9 4.3 .8 3.7 .9 2.8 .9 2 .9 1.3 .9 .8 .8 .5 .9 .2" stroke="#8020b0" stroke-width="1.2" stroke-dasharray="2.5,2"/>
</g>
<g clip-path="url(#c7r)" fill="none">
<path d="M536.5 788.6H536.9V785.2H537.8V785.9H538.7V776.3H539.6V796H540.5V775.4H541.3V783.7H542.2V766.2H543.1V766.5H544V763.3H544.8V770.7H545.7V779.8H546.6V771.6H547.5V765.8H548.4V787.5H549.2V774.9H550.1V781.1H551V765.9H551.9V787.8H552.8V781.6H553.6V773.9H554.5V773.7H555.4V791.2H556.3V770H557.2V773.4H558V773.4H558.9V771.5H559.8V767.1H560.7V786.9H561.5V753.5H562.4V777.7H563.3V792H564.2V771.6H565.1V757.4H565.9V777.9H566.8V758.2H567.7V758.4H568.6V782.2H569.5V797.4H570.3V784.1H571.2V758.5H572.1V776.6H573V781.7H573.9V778.3H574.7V763.6H575.6V762.9H576.5V753.5H577.4V752.2H578.2V771.6H579.1V764.7H580V775.4H580.9V764.4H581.8V777.3H582.6V778.1H583.5V744.9H584.4V764.8H585.3V757.7H586.2V737.7H587V754.2H587.9V762.8H588.8V761.5H589.7V770.5H590.5V754H591.4V770.1H592.3V751.3H593.2V774H594.1V775.6H594.9V777.3H595.8V767.8H596.7V772.7H597.6V761.5H598.5V781.1H599.3V773.5H600.2V758H601.1V780.7H602V774.2H602.9V765.2H603.7V776.6H604.6V789.4H605.5V804.3H606.4V760.5H607.2V779.8H608.1V771H609V787.3H609.9V763.5H610.8V775.2H611.6V779H612.5V787.7H613.4V775H614.3V783.7H615.2V781.8H616V796.8H616.9V787H617.8V781.9H618.7V797.1H619.6V784.8H620.4V779.3H621.3V788.7H622.2V791.2H623.1V790.4H623.9V774.1H624.8V798H625.7V785.5H626.6V786.9H627.5V782.2H628.3V785.8H629.2V798.1H630.1V769.4H631V790.4H631.9V807.8H632.7V805.2H633.6V796.7H634.5V792.2H635.4V811.3H636.2V790.1H637.1V809.3H638V801.6H638.9V782.9H639.8V771.8H640.6V786.6H641.5V785.9H642.4V767.5H643.3V788.1H644.2V772.6H645V771.5H645.9V762.7H646.8V769.2H647.7V774.4H648.6V765.5H649.4V782.5H650.3V762.9H651.2V777.1H652.1V779H652.9V773.2H653.8V768.9H654.7V762.6H655.6V772.4H656.5V764.2H657.3V763.3H658.2V775.6H659.1V785.7H660V768H660.9V775H661.7V799H662.6V787.8H663.5V776.5H664.4V791.4H665.3V784.6H666.1V794.7H667V773.6H667.9V774.6H668.8V774.4H669.6V760.5H670.5V776.6H671.4V774H672.3V749.2H673.2V780.1H674V758.3H674.9V777.2H675.8V761H676.7V742.1H677.6V760.5H678.4V771.4H679.3V741.2H680.2V771.4H681.1V769.6H682V766.2H682.8V784.2H683.7V761.7H684.6V758.5H685.5V768.8H686.3V774.8H687.2V781.2H688.1V772.4H689V813.7H689.9V784.9H690.7V782.1H691.6V805.1H692.5V781.8H693.4V787.3H694.3V785.9H695.1V783.3H696V776.7H696.9V775.4H697.8V787.4H698.6V775.4H699.5V773.5H700.4V769.2H701.3V774H702.2V757.9H703V754.5H703.9V752.7H704.8V749.5H705.7V754.2H706.6V773.9H707.4V775.5H708.3V773.1H709.2V763.2H710.1V769.5H711V757.8H711.8V750.7H712.7V770.7H713.6V756.3H714.5V769.5H715.3V778.2H716.2V778.8H717.1V770.6H718V788.1H718.9V766.9H719.7V759.6H720.6V788.8H721.5V782.8H722.4V765.8H723.3V778.6H724.1V780.3H725V784.6H725.9V771.4H726.8V777.5H727.7V790.7H728.5V803.3H729.4V804.9H730.3V771.1H731.2V779.4H732V761.5H732.9V769.9H733.8V786.7H734.7V770.5H735.6V761.2H736.4V781.9H737.3V778.4H738.2V757H739.1V792.8H740V787.6H740.8V767.8H741.7V777.4H742.6V791.6H743.5V795.6H744.3V777.4H745.2V770.7H746.1V775.3H747V780H747.9V769.8H748.7V781.7H749.6V792.9H750.5V764.1H751.4V795.9H752.3V784.4H753.1V783.3H754V768.1H754.9V789.8H755.8V785.2H756.7V800.4H757.5V779.9H758.4V779.2H759.3V777.4H760.2V793.1H761V781.5H761.9V792.3H762.8V787.7H763.7V783H764.6V768.5H765.4V784.7H766.3V777.7H767.2V786.9H768.1V783.6H769V784.4H769.8V778.5H770.7V768.8H771.6V786.4H772.5V767H773.4V781.8H774.2V766.8H775.1V773H776V767.8H776.9V766.1H777.7V749.1H778.6V755.7H779.5V746.4H780.4V760.1H781.3V758.7H782.1V740.6H783V773.4H783.9V766.4H784.8V760.1H785.7V740.9H786.5V765.6H787.4V752.5H788.3V745.8H789.2V765.4H790V766.9H790.9V751.1H791.8V775.8H792.7V783.4H793.6V767.4H794.4V783.1H795.3V767.2H796.2V776.5H797.1V800.6H798V781.5H798.8V784.7H799.7V791.3H800.6V773.2H801.5V800.8H802.4V794.7H803.2V786.5H804.1V773.7H805V797.6H805.9V790.2H806.7V793.1H807.6V803.4H808.5V794.4H809.4V803.6H810.3V797.6H811.1V790.4H812V801.5H812.9V799.8H813.8V799.1H814.7V795.4H815.5V800H816.4V793.4H817.3V777.7H818.2V784.8H819.1V741H819.9V779.4H820.8V765.4H821.7V784.3H822.6V772.4H823.4V776.3H824.3V773.4H825.2V761.6H826.1V778.9H827V791.6H827.8V780.8H828.7V793.8H829.6V787.4H830.5V771.9H831.4V779.4H832.2V778.4H833.1V783.4H834V787.7H834.9V801H835.8V787.9H836.6V785.8H837.5V771.1H838.4V765.7H839.3V769H840.1V780.5H841V753.6H841.9V757.8H842.8V774.2H843.7V770.5H844.5V766.4H845.4V771.9H846.3V773.8H847.2V767.5H848.1V771.7H848.9V769.1H849.8V786.3H850.7V785.6H851.6V752.2H852.4V784.6H853.3V765.3H854.2V768.1H855.1V770.5H856V781.4H856.8V766.3H857.7V774.7H858.6V783.1H859.5V794.9H860.4V784.1H861.2V788.1H862.1V794.6H863V778H863.9V775.6H864.8V772.6H865.6V779.5H866.5V783.2H867.4V770.1H868.3V774.6H869.1V760.4H870V778.8H870.9V794.7H871.8V776.7H872.7V764H873.5V785.1H874.4V790.4H875.3V795.3H876.2V771.2H877.1V792.7H877.9V793.7H878.8V788.4H879.7V805.4H880.6V793.6H881.5V802.8H882.3V790.7H883.2V783.2H884.1V777.3H885V788.7H885.8V774.1H886.7V783.3H887.6V792.9H888.5V767.7H889.4V772.6H890.2V767H891.1V792.3H892V763.2H892.9V762.7H893.8V763.4H894.6V756.9H895.5V772.8H896.4V750.3H897.3V767H898.1V771.4H899V803.7H899.9V800.2H900.8V766.8H901.7V778H902.5V772.1H903.4V784H904.3V779.8H905.2V770.9H906.1V782.7H906.9V760H907.8V782.8H908.7V768.7H909.6V773.2H910.5V767.1H911.3V758.7H912.2V782.9H913.1V768.1H914V772.1H914.8V765.6H915.7V774.6H916.6V779.4H917.5V769.4H918.4V760.7H919.2V765.2H920.1V770.8H921V767.1H921.9V785.6H922.8V774.9H923.6V771.3H924.5V773.7H925.4V774.8H926.3V767.8H927.2V762.7H928V746.6H928.9V771.7H929.8V772.9H930.7V753.5H931.5V761.9H932.4V772.9H933.3V750.2H934.2V769.1H935.1V772.1H935.5" stroke="#2020f0" stroke-width="1.05"/>
<line x1="536.5" y1="774.9" x2="935.5" y2="774.9" stroke="#40f040" stroke-width="1.1"/>
<line x1="536.5" y1="764.42" x2="935.5" y2="764.42" stroke="#60ff60" stroke-width="1.1" stroke-dasharray="3,3"/>
<line x1="536.5" y1="784.97" x2="935.5" y2="784.97" stroke="#60ff60" stroke-width="1.1" stroke-dasharray="3,3"/>
</g>
<g fill="none" stroke="#909090" stroke-width="1">
<rect x="536.5" y="568.5" width="399" height="177"/>
<rect x="536.5" y="754.5" width="399" height="40"/>
<path d="M542.5 745.5v-2.3 M542.5 568.5v2.3 M542.5 794.5v-1.2 M542.5 754.5v1.2 M548.5 745.5v-2.3 M548.5 568.5v2.3 M548.5 794.5v-1.2 M548.5 754.5v1.2 M554.5 745.5v-2.3 M554.5 568.5v2.3 M554.5 794.5v-1.2 M554.5 754.5v1.2 M559.5 745.5v-2.3 M559.5 568.5v2.3 M559.5 794.5v-1.2 M559.5 754.5v1.2 M565.5 745.5v-2.3 M565.5 568.5v2.3 M565.5 794.5v-1.2 M565.5 754.5v1.2 M571.5 745.5v-2.3 M571.5 568.5v2.3 M571.5 794.5v-1.2 M571.5 754.5v1.2 M577.5 745.5v-2.3 M577.5 568.5v2.3 M577.5 794.5v-1.2 M577.5 754.5v1.2 M583.5 745.5v-2.3 M583.5 568.5v2.3 M583.5 794.5v-1.2 M583.5 754.5v1.2 M589.5 745.5v-2.3 M589.5 568.5v2.3 M589.5 794.5v-1.2 M589.5 754.5v1.2 M595.5 745.5v-3.6 M595.5 568.5v3.6 M595.5 794.5v-2 M595.5 754.5v2 M600.5 745.5v-2.3 M600.5 568.5v2.3 M600.5 794.5v-1.2 M600.5 754.5v1.2 M606.5 745.5v-2.3 M606.5 568.5v2.3 M606.5 794.5v-1.2 M606.5 754.5v1.2 M612.5 745.5v-2.3 M612.5 568.5v2.3 M612.5 794.5v-1.2 M612.5 754.5v1.2 M618.5 745.5v-2.3 M618.5 568.5v2.3 M618.5 794.5v-1.2 M618.5 754.5v1.2 M624.5 745.5v-2.3 M624.5 568.5v2.3 M624.5 794.5v-1.2 M624.5 754.5v1.2 M630.5 745.5v-2.3 M630.5 568.5v2.3 M630.5 794.5v-1.2 M630.5 754.5v1.2 M636.5 745.5v-2.3 M636.5 568.5v2.3 M636.5 794.5v-1.2 M636.5 754.5v1.2 M641.5 745.5v-2.3 M641.5 568.5v2.3 M641.5 794.5v-1.2 M641.5 754.5v1.2 M647.5 745.5v-2.3 M647.5 568.5v2.3 M647.5 794.5v-1.2 M647.5 754.5v1.2 M653.5 745.5v-3.6 M653.5 568.5v3.6 M653.5 794.5v-2 M653.5 754.5v2 M659.5 745.5v-2.3 M659.5 568.5v2.3 M659.5 794.5v-1.2 M659.5 754.5v1.2 M665.5 745.5v-2.3 M665.5 568.5v2.3 M665.5 794.5v-1.2 M665.5 754.5v1.2 M671.5 745.5v-2.3 M671.5 568.5v2.3 M671.5 794.5v-1.2 M671.5 754.5v1.2 M677.5 745.5v-2.3 M677.5 568.5v2.3 M677.5 794.5v-1.2 M677.5 754.5v1.2 M682.5 745.5v-2.3 M682.5 568.5v2.3 M682.5 794.5v-1.2 M682.5 754.5v1.2 M688.5 745.5v-2.3 M688.5 568.5v2.3 M688.5 794.5v-1.2 M688.5 754.5v1.2 M694.5 745.5v-2.3 M694.5 568.5v2.3 M694.5 794.5v-1.2 M694.5 754.5v1.2 M700.5 745.5v-2.3 M700.5 568.5v2.3 M700.5 794.5v-1.2 M700.5 754.5v1.2 M706.5 745.5v-2.3 M706.5 568.5v2.3 M706.5 794.5v-1.2 M706.5 754.5v1.2 M712.5 745.5v-3.6 M712.5 568.5v3.6 M712.5 794.5v-2 M712.5 754.5v2 M718.5 745.5v-2.3 M718.5 568.5v2.3 M718.5 794.5v-1.2 M718.5 754.5v1.2 M723.5 745.5v-2.3 M723.5 568.5v2.3 M723.5 794.5v-1.2 M723.5 754.5v1.2 M729.5 745.5v-2.3 M729.5 568.5v2.3 M729.5 794.5v-1.2 M729.5 754.5v1.2 M735.5 745.5v-2.3 M735.5 568.5v2.3 M735.5 794.5v-1.2 M735.5 754.5v1.2 M741.5 745.5v-2.3 M741.5 568.5v2.3 M741.5 794.5v-1.2 M741.5 754.5v1.2 M747.5 745.5v-2.3 M747.5 568.5v2.3 M747.5 794.5v-1.2 M747.5 754.5v1.2 M753.5 745.5v-2.3 M753.5 568.5v2.3 M753.5 794.5v-1.2 M753.5 754.5v1.2 M759.5 745.5v-2.3 M759.5 568.5v2.3 M759.5 794.5v-1.2 M759.5 754.5v1.2 M765.5 745.5v-2.3 M765.5 568.5v2.3 M765.5 794.5v-1.2 M765.5 754.5v1.2 M770.5 745.5v-3.6 M770.5 568.5v3.6 M770.5 794.5v-2 M770.5 754.5v2 M776.5 745.5v-2.3 M776.5 568.5v2.3 M776.5 794.5v-1.2 M776.5 754.5v1.2 M782.5 745.5v-2.3 M782.5 568.5v2.3 M782.5 794.5v-1.2 M782.5 754.5v1.2 M788.5 745.5v-2.3 M788.5 568.5v2.3 M788.5 794.5v-1.2 M788.5 754.5v1.2 M794.5 745.5v-2.3 M794.5 568.5v2.3 M794.5 794.5v-1.2 M794.5 754.5v1.2 M800.5 745.5v-2.3 M800.5 568.5v2.3 M800.5 794.5v-1.2 M800.5 754.5v1.2 M806.5 745.5v-2.3 M806.5 568.5v2.3 M806.5 794.5v-1.2 M806.5 754.5v1.2 M811.5 745.5v-2.3 M811.5 568.5v2.3 M811.5 794.5v-1.2 M811.5 754.5v1.2 M817.5 745.5v-2.3 M817.5 568.5v2.3 M817.5 794.5v-1.2 M817.5 754.5v1.2 M823.5 745.5v-2.3 M823.5 568.5v2.3 M823.5 794.5v-1.2 M823.5 754.5v1.2 M829.5 745.5v-3.6 M829.5 568.5v3.6 M829.5 794.5v-2 M829.5 754.5v2 M835.5 745.5v-2.3 M835.5 568.5v2.3 M835.5 794.5v-1.2 M835.5 754.5v1.2 M841.5 745.5v-2.3 M841.5 568.5v2.3 M841.5 794.5v-1.2 M841.5 754.5v1.2 M847.5 745.5v-2.3 M847.5 568.5v2.3 M847.5 794.5v-1.2 M847.5 754.5v1.2 M852.5 745.5v-2.3 M852.5 568.5v2.3 M852.5 794.5v-1.2 M852.5 754.5v1.2 M858.5 745.5v-2.3 M858.5 568.5v2.3 M858.5 794.5v-1.2 M858.5 754.5v1.2 M864.5 745.5v-2.3 M864.5 568.5v2.3 M864.5 794.5v-1.2 M864.5 754.5v1.2 M870.5 745.5v-2.3 M870.5 568.5v2.3 M870.5 794.5v-1.2 M870.5 754.5v1.2 M876.5 745.5v-2.3 M876.5 568.5v2.3 M876.5 794.5v-1.2 M876.5 754.5v1.2 M882.5 745.5v-2.3 M882.5 568.5v2.3 M882.5 794.5v-1.2 M882.5 754.5v1.2 M888.5 745.5v-3.6 M888.5 568.5v3.6 M888.5 794.5v-2 M888.5 754.5v2 M893.5 745.5v-2.3 M893.5 568.5v2.3 M893.5 794.5v-1.2 M893.5 754.5v1.2 M899.5 745.5v-2.3 M899.5 568.5v2.3 M899.5 794.5v-1.2 M899.5 754.5v1.2 M905.5 745.5v-2.3 M905.5 568.5v2.3 M905.5 794.5v-1.2 M905.5 754.5v1.2 M911.5 745.5v-2.3 M911.5 568.5v2.3 M911.5 794.5v-1.2 M911.5 754.5v1.2 M917.5 745.5v-2.3 M917.5 568.5v2.3 M917.5 794.5v-1.2 M917.5 754.5v1.2 M923.5 745.5v-2.3 M923.5 568.5v2.3 M923.5 794.5v-1.2 M923.5 754.5v1.2 M929.5 745.5v-2.3 M929.5 568.5v2.3 M929.5 794.5v-1.2 M929.5 754.5v1.2 M934.5 745.5v-2.3 M934.5 568.5v2.3 M934.5 794.5v-1.2 M934.5 754.5v1.2 M536.5 733.5h4 M935.5 733.5h-4 M536.5 721.5h4 M935.5 721.5h-4 M536.5 710.5h4 M935.5 710.5h-4 M536.5 698.5h8 M935.5 698.5h-8 M536.5 686.5h4 M935.5 686.5h-4 M536.5 674.5h4 M935.5 674.5h-4 M536.5 662.5h4 M935.5 662.5h-4 M536.5 650.5h8 M935.5 650.5h-8 M536.5 639.5h4 M935.5 639.5h-4 M536.5 627.5h4 M935.5 627.5h-4 M536.5 615.5h4 M935.5 615.5h-4 M536.5 603.5h8 M935.5 603.5h-8 M536.5 591.5h4 M935.5 591.5h-4 M536.5 579.5h4 M935.5 579.5h-4"/>
</g>
<path d="M536.5 754.5h8M536.5 794.5h8" stroke="#6e6e6e" stroke-width="1.3" fill="none"/>
<line x1="536.5" y1="746" x2="935.5" y2="746" stroke="#2418e8" stroke-width="2"/>
<line x1="536.5" y1="746" x2="935.5" y2="746" stroke="#68009c" stroke-width="2" stroke-dasharray="3,2"/>
<g fill="#8c8c8c" font-family="'DejaVu Sans', 'Liberation Sans', sans-serif">
<text x="531.9" y="746.1" font-size="12.2" text-anchor="end" textLength="7" lengthAdjust="spacingAndGlyphs">0</text>
<text x="531.9" y="703.17" font-size="12.2" text-anchor="end" textLength="14" lengthAdjust="spacingAndGlyphs">20</text>
<text x="531.9" y="655.85" font-size="12.2" text-anchor="end" textLength="14" lengthAdjust="spacingAndGlyphs">40</text>
<text x="531.9" y="608.52" font-size="12.2" text-anchor="end" textLength="14" lengthAdjust="spacingAndGlyphs">60</text>
<text x="532.3" y="763" font-size="12.2" text-anchor="end" textLength="7" lengthAdjust="spacingAndGlyphs">2</text>
<text x="532.3" y="779.5" font-size="12.2" text-anchor="end" textLength="7" lengthAdjust="spacingAndGlyphs">0</text>
<text x="532.3" y="796" font-size="12.2" text-anchor="end" textLength="17" lengthAdjust="spacingAndGlyphs">&#8722;2</text>
<text x="536.5" y="812.1" font-size="12.4" text-anchor="middle" textLength="31" lengthAdjust="spacingAndGlyphs">6200</text>
<text x="595.09" y="812.1" font-size="12.4" text-anchor="middle" textLength="31" lengthAdjust="spacingAndGlyphs">6300</text>
<text x="653.68" y="812.1" font-size="12.4" text-anchor="middle" textLength="31" lengthAdjust="spacingAndGlyphs">6400</text>
<text x="712.27" y="812.1" font-size="12.4" text-anchor="middle" textLength="31" lengthAdjust="spacingAndGlyphs">6500</text>
<text x="770.86" y="812.1" font-size="12.4" text-anchor="middle" textLength="31" lengthAdjust="spacingAndGlyphs">6600</text>
<text x="829.45" y="812.1" font-size="12.4" text-anchor="middle" textLength="31" lengthAdjust="spacingAndGlyphs">6700</text>
<text x="888.04" y="812.1" font-size="12.4" text-anchor="middle" textLength="31" lengthAdjust="spacingAndGlyphs">6800</text>
<text x="736" y="826.3" font-size="12" text-anchor="middle" textLength="122.5" lengthAdjust="spacingAndGlyphs">rest wavelength (&#197;)</text>
<text y="583.1" font-size="13.8"><tspan x="540.7" textLength="37.5" lengthAdjust="spacingAndGlyphs">7723</tspan><tspan x="577.4" textLength="13.2" lengthAdjust="spacingAndGlyphs">-</tspan><tspan x="589.4" textLength="46" lengthAdjust="spacingAndGlyphs">58430</tspan><tspan x="634.7" textLength="12.8" lengthAdjust="spacingAndGlyphs">-</tspan><tspan x="646.8" textLength="36.8" lengthAdjust="spacingAndGlyphs">0620</tspan></text>
<text x="541.3" y="600.8" font-size="13.8" textLength="88.5" lengthAdjust="spacingAndGlyphs"><tspan font-size="15">&#967;</tspan><tspan font-size="9" dy="-7">2</tspan><tspan dy="7">/dof~1.86</tspan></text>
<text x="505.3" y="658.2" font-size="12" text-anchor="middle" textLength="135.5" lengthAdjust="spacingAndGlyphs" transform="rotate(-90 505.3 658.2)">F<tspan font-size="8" dy="3">&#955;</tspan><tspan dy="-3"> (10</tspan><tspan font-size="9.5" dy="-5">&#8722;17</tspan><tspan dy="5">erg/s/cm</tspan><tspan font-size="8" dy="-5">2</tspan><tspan dy="5">/&#197;)</tspan></text>
<text x="504.8" y="775.5" font-size="11.6" text-anchor="middle" textLength="49.7" lengthAdjust="spacingAndGlyphs" transform="rotate(-90 504.8 775.5)">residuals</text>
</g>
<clipPath id="c8m"><rect x="1011.5" y="568.5" width="398" height="177"/></clipPath>
<clipPath id="c8r"><rect x="1011.5" y="754.5" width="398" height="40"/></clipPath>
<g clip-path="url(#c8m)" fill="none">
<path d="M1011.5 728H1011.9V726.3H1012.8V729.8H1013.7V725.8H1014.6V725.1H1015.4V728.1H1016.3V726.6H1017.2V726.9H1018.1V728H1019V728.7H1019.8V730.6H1020.7V724.2H1021.6V726.6H1022.5V721.9H1023.3V724.9H1024.2V726H1025.1V728H1026V724.6H1026.8V728.3H1027.7V724.9H1028.6V728.5H1029.5V727.5H1030.3V730.5H1031.2V723.4H1032.1V727.5H1033V727.8H1033.9V725.5H1034.7V728.4H1035.6V725.4H1036.5V728.8H1037.4V725.7H1038.2V728.5H1039.1V729.9H1040V727.6H1040.9V729.1H1041.7V725.5H1042.6V726.5H1043.5V725.6H1044.4V726.4H1045.3V727.1H1046.1V726.4H1047V724.4H1047.9V726.5H1048.8V727.3H1049.6V727.5H1050.5V726H1051.4V726.7H1052.3V721.7H1053.1V726.9H1054V726.4H1054.9V724.8H1055.8V722.9H1056.6V724.4H1057.5V725.5H1058.4V725.3H1059.3V724.6H1060.2V722.4H1061V726.1H1061.9V724.7H1062.8V725.8H1063.7V724.1H1064.5V723.9H1065.4V727H1066.3V719.9H1067.2V723.4H1068V724.3H1068.9V724.6H1069.8V723.2H1070.7V722.5H1071.6V721.3H1072.4V722.4H1073.3V721.6H1074.2V725.5H1075.1V724.1H1075.9V724.7H1076.8V722.8H1077.7V722.3H1078.6V725.8H1079.4V723.5H1080.3V721.9H1081.2V721.5H1082.1V725.2H1082.9V722.3H1083.8V722.8H1084.7V724.3H1085.6V720.2H1086.5V725.9H1087.3V724.7H1088.2V723.5H1089.1V724.1H1090V725H1090.8V722.4H1091.7V722.4H1092.6V723.5H1093.5V723.6H1094.3V725.7H1095.2V727.9H1096.1V722H1097V727.8H1097.9V722.2H1098.7V726.4H1099.6V725.7H1100.5V726.3H1101.4V724.2H1102.2V726.6H1103.1V722.2H1104V724.3H1104.9V724.6H1105.7V725.7H1106.6V723.9H1107.5V724.2H1108.4V720.6H1109.2V722.1H1110.1V726.4H1111V720.7H1111.9V727.5H1112.8V720.3H1113.6V726.1H1114.5V722.4H1115.4V720.6H1116.3V721.6H1117.1V723.1H1118V718.5H1118.9V723.5H1119.8V722.6H1120.6V717.3H1121.5V721.3H1122.4V719.5H1123.3V718.8H1124.1V720.9H1125V720.8H1125.9V721.6H1126.8V721.9H1127.7V720.6H1128.5V721.4H1129.4V722.7H1130.3V721.8H1131.2V724.4H1132V724.7H1132.9V725H1133.8V721.6H1134.7V719.9H1135.5V722.4H1136.4V725.9H1137.3V723H1138.2V721.1H1139.1V721.2H1139.9V721.3H1140.8V719.6H1141.7V719.5H1142.6V723.4H1143.4V720H1144.3V721.9H1145.2V720H1146.1V718H1146.9V716.8H1147.8V718.7H1148.7V720.8H1149.6V720.4H1150.4V718.7H1151.3V721.3H1152.2V719.4H1153.1V717.9H1154V717H1154.8V718.7H1155.7V717.1H1156.6V714.8H1157.5V716.3H1158.3V719.6H1159.2V715.9H1160.1V715.6H1161V716.7H1161.8V715.8H1162.7V718.5H1163.6V713.7H1164.5V715.2H1165.4V716.9H1166.2V715.4H1167.1V715.4H1168V716.8H1168.9V719.7H1169.7V719.5H1170.6V710.2H1171.5V715.3H1172.4V713.2H1173.2V711.2H1174.1V712.4H1175V709.2H1175.9V712.7H1176.7V709.7H1177.6V714.2H1178.5V709H1179.4V708.9H1180.3V709.2H1181.1V709.1H1182V708.9H1182.9V707.5H1183.8V706.9H1184.6V709.7H1185.5V705.5H1186.4V708.3H1187.3V705.4H1188.1V705.2H1189V702.9H1189.9V703.3H1190.8V700.8H1191.7V701.3H1192.5V701H1193.4V696.1H1194.3V695.8H1195.2V694.6H1196V692.4H1196.9V694.5H1197.8V689.3H1198.7V691.1H1199.5V686.6H1200.4V685.5H1201.3V682.7H1202.2V680.3H1203V680.1H1203.9V680.4H1204.8V675.5H1205.7V673.3H1206.6V672.2H1207.4V669.2H1208.3V671.6H1209.2V665.4H1210.1V662.8H1210.9V663H1211.8V656.4H1212.7V653.8H1213.6V653.6H1214.4V649.5H1215.3V645H1216.2V641.6H1217.1V639.4H1218V641.4H1218.8V640.3H1219.7V637.3H1220.6V628.8H1221.5V612.8H1222.3V600.7H1223.2V611.8H1224.1V623.1H1225V626.4H1225.8V616.1H1226.7V608.2H1227.6V625.3H1228.5V639.6H1229.3V647.5H1230.2V653.7H1231.1V654.3H1232V656.8H1232.9V660.9H1233.7V658.6H1234.6V660.6H1235.5V655.8H1236.4V658.5H1237.2V662H1238.1V662.8H1239V664.7H1239.9V665.4H1240.7V672.6H1241.6V676.3H1242.5V680.5H1243.4V681.7H1244.3V684H1245.1V687.2H1246V690.1H1246.9V689H1247.8V692.3H1248.6V689.5H1249.5V693H1250.4V694.1H1251.3V690H1252.1V694.5H1253V694H1253.9V696.8H1254.8V696.7H1255.6V696.7H1256.5V698.5H1257.4V695.1H1258.3V699.2H1259.2V700.7H1260V696.9H1260.9V698.2H1261.8V704H1262.7V701.3H1263.5V698.9H1264.4V702.4H1265.3V701.9H1266.2V702.2H1267V706.2H1267.9V704.1H1268.8V701.5H1269.7V700.6H1270.6V703.6H1271.4V703.9H1272.3V703H1273.2V704H1274.1V703.8H1274.9V706.6H1275.8V705.4H1276.7V705H1277.6V705.4H1278.4V709.8H1279.3V706.1H1280.2V707.8H1281.1V708.3H1281.9V712.2H1282.8V709.4H1283.7V712.7H1284.6V714.9H1285.5V710.7H1286.3V711.3H1287.2V711.6H1288.1V711.7H1289V712.3H1289.8V710.5H1290.7V711.2H1291.6V709.9H1292.5V708.5H1293.3V711.9H1294.2V712.2H1295.1V710.6H1296V716H1296.9V715.6H1297.7V715.2H1298.6V719.1H1299.5V715.4H1300.4V715H1301.2V720.8H1302.1V720.7H1303V718.2H1303.9V717.9H1304.7V723.6H1305.6V719.9H1306.5V721.3H1307.4V724H1308.2V721.1H1309.1V720.6H1310V718.4H1310.9V717.2H1311.8V716.3H1312.6V714.8H1313.5V714.1H1314.4V712.7H1315.3V712.3H1316.1V713H1317V717H1317.9V717.3H1318.8V717.3H1319.6V713.2H1320.5V714.3H1321.4V715.9H1322.3V716.4H1323.1V716.4H1324V715.5H1324.9V719H1325.8V718.8H1326.7V718.2H1327.5V722.6H1328.4V721.9H1329.3V726.9H1330.2V724.1H1331V724.3H1331.9V726.5H1332.8V722.3H1333.7V724.8H1334.5V725.9H1335.4V725.2H1336.3V723.1H1337.2V727.4H1338.1V724.8H1338.9V727H1339.8V725.1H1340.7V726.7H1341.6V726.1H1342.4V724.8H1343.3V726.3H1344.2V725.5H1345.1V725.3H1345.9V725.8H1346.8V726.1H1347.7V726.3H1348.6V725.1H1349.4V724H1350.3V722.8H1351.2V722.9H1352.1V727.7H1353V725.4H1353.8V725H1354.7V723.6H1355.6V723.9H1356.5V728.3H1357.3V725.3H1358.2V729H1359.1V726.9H1360V727.9H1360.8V727.5H1361.7V723.7H1362.6V727.6H1363.5V727.6H1364.4V726.5H1365.2V724.7H1366.1V729.5H1367V723.4H1367.9V727.5H1368.7V727.8H1369.6V725.7H1370.5V724.8H1371.4V721.3H1372.2V724.7H1373.1V727.6H1374V727.1H1374.9V728.7H1375.7V725.9H1376.6V725.7H1377.5V727.8H1378.4V725.1H1379.3V730H1380.1V727.6H1381V728.2H1381.9V727.3H1382.8V728.8H1383.6V723.9H1384.5V727H1385.4V725.2H1386.3V722.6H1387.1V721.7H1388V722.4H1388.9V728.6H1389.8V725.3H1390.7V725.7H1391.5V726.7H1392.4V727.4H1393.3V727.5H1394.2V726H1395V728.3H1395.9V730.3H1396.8V731H1397.7V728.2H1398.5V731.7H1399.4V727.4H1400.3V729.6H1401.2V729.5H1402V728H1402.9V728.9H1403.8V726.8H1404.7V730.2H1405.6V731.1H1406.4V724.3H1407.3V727.6H1408.2V732.7H1409.1V725.1H1409.5" stroke="#2a7f2a" stroke-width="1.45"/>
<path d="M1011.5 726.5l.9 .1 .9 0 .8 0 .9 0 .9 .1 .9 0 .8 0 .9 .1 .9 0 .9 0 .8 0 .9 .1 .9 0 .9 0 .8 0 .9 0 .9 .1 .9 0 .9 0 .8 0 .9 0 .9 0 .9 .1 .8 0 .9 0 .9 0 .9 0 .8 0 .9 0 .9 0 .9 0 .9 0 .8 0 .9 0 .9-.1 .9 0 .8 0 .9-.1 .9 0 .9-.1 .8-.1 .9 0 .9-.1 .9-.1 .8-.1 .9-.2 .9-.1 .9-.1 .9-.2 .8-.1 .9-.2 .9-.2 .9-.1 .8-.2 .9-.2 .9-.2 .9-.1 .8-.2 .9-.2 .9-.1 .9-.1 .9-.2 .8-.1 .9-.1 .9 0 .9-.1 .8 0 .9 0 .9 0 .9 .1 .8 0 .9 .1 .9 .1 .9 .1 .8 .1 .9 .1 .9 .2 .9 .1 .9 .2 .8 .1 .9 .2 .9 .1 .9 .1 .8 .2 .9 .1 .9 .1 .9 .1 .8 .1 .9 .1 .9 0 .9 0 .9 .1 .8 0 .9-.1 .9 0 .9-.1 .8 0 .9-.1 .9-.2 .9-.1 .8-.1 .9-.2 .9-.2 .9-.2 .8-.2 .9-.2 .9-.2 .9-.3 .9-.2 .8-.2 .9-.2 .9-.2 .9-.2 .8-.2 .9-.2 .9-.1 .9-.1 .8-.1 .9-.1 .9-.1 .9 0 .9 0 .8 0 .9 0 .9 0 .9 0 .8 .1 .9 0 .9 0 .9 .1 .8 0 .9 0 .9 .1 .9 0 .8 0 .9 0 .9 0 .9 0 .9 0 .8-.1 .9-.1 .9 0 .9-.1 .8-.1 .9-.2 .9-.1 .9-.1 .8-.2 .9-.2 .9-.1 .9-.2 .9-.2 .8-.2 .9-.2 .9-.2 .9-.2 .8-.2 .9-.2 .9-.2 .9-.1 .8-.2 .9-.2 .9-.2 .9-.2 .8-.2 .9-.2 .9-.2 .9-.2 .9-.2 .8-.2 .9-.2 .9-.2 .9-.2 .8-.3 .9-.2 .9-.2 .9-.3 .8-.2 .9-.3 .9-.3 .9-.2 .9-.3 .8-.3 .9-.3 .9-.3 .9-.4 .8-.3 .9-.3 .9-.4 .9-.4 .8-.3 .9-.4 .9-.5 .9-.4 .8-.4 .9-.5 .9-.6 .9-.6 .9-.7 .8-.8 .9-.8 .9-.8 .9-.9 .8-1 .9-1 .9-1.1 .9-1.1 .8-1.2 .9-1.2 .9-1.3 .9-1.4 .9-1.5 .8-1.5 .9-1.6 .9-1.8 .9-1.8 .8-1.6 .9-1.4 .9-1.2 .9-1.2 .8-1.5 .9-1.8 .9-2 .9-2.5 .8-2.8 .9-3 .9-3.1 .9-3.2 .9-3.1 .8-2.9 .9-3 .9-3.1 .9-3 .8-2.7 .9-2.3 .9-1.4 .9-1.3 .8-2.1 .9-7.9 .9-17 .9-11.4 .8 12.7 .9 11.3 .9 2.3 .9-12.4 .9-6.8 .8 19.1 .9 14.8 .9 8.3 .9 2.5 .8 1.7 .9 1.1 .9 1 .9 1.1 .8 .8 .9 .8 .9 1 .9 1.6 .9 2 .8 2.6 .9 3.1 .9 5.4 .9 5 .8 2.4 .9 2.6 .9 2.7 .9 2.4 .8 1.5 .9 1.1 .9 .9 .9 .7 .8 .7 .9 .7 .9 .5 .9 .6 .9 .4 .8 .5 .9 .4 .9 .4 .9 .4 .8 .3 .9 .4 .9 .3 .9 .4 .8 .3 .9 .3 .9 .4 .9 .3 .9 .3 .8 .4 .9 .3 .9 .4 .9 .3 .8 .4 .9 .3 .9 .4 .9 .3 .8 .4 .9 .4 .9 .3 .9 .4 .8 .4 .9 .3 .9 .4 .9 .4 .9 .3 .8 .4 .9 .3 .9 .4 .9 .4 .8 .3 .9 .4 .9 .3 .9 .4 .8 .3 .9 .4 .9 .3 .9 .4 .9 .3 .8 .4 .9 .4 .9 .5 .9 .5 .8 .5 .9 .6 .9 .6 .9 .5 .8 .7 .9 .6 .9 .6 .9 .6 .8 .5 .9 .6 .9 .5 .9 .5 .9 .3 .8 .3 .9 0 .9-.3 .9-.6 .8-.9 .9-1.3 .9-1.4 .9-1.3 .8-.8 .9-.3 .9 .3 .9 .6 .9 .7 .8 .5 .9 .1 .9-.2 .9-.5 .8-.4 .9-.1 .9 .5 .9 1.1 .8 1.6 .9 1.8 .9 1.8 .9 1.6 .8 1.2 .9 .9 .9 .6 .9 .3 .9 .1 .8 .1 .9 .1 .9 .1 .9 0 .8 .1 .9 .1 .9 0 .9 .1 .8 0 .9 0 .9 .1 .9 0 .9 .1 .8 0 .9 0 .9 .1 .9 0 .8 0 .9 0 .9 .1 .9 0 .8 0 .9 0 .9 0 .9 .1 .8 0 .9 0 .9 0 .9 0 .9 0 .8 0 .9 0 .9 .1 .9 0 .8 0 .9 0 .9 0 .9 0 .8 0 .9 0 .9 0 .9 0 .9 0 .8 0 .9 0 .9 0 .9 0 .8 0 .9 0 .9 0 .9 0 .8 0 .9-.1 .9 0 .9 0 .8 0 .9 0 .9 0 .9 0 .9 0 .8 0 .9 0 .9 0 .9-.1 .8 0 .9 0 .9 0 .9 0 .8 0 .9 0 .9 0 .9-.1 .9 0 .8 0 .9 0 .9 0 .9 0 .8-.1 .9 0 .9 0 .9 0 .8 0 .9-.1 .9 0 .9 0 .8 0 .9-.1 .9 0" stroke="#e8281e" stroke-width="0.9"/>
<path d="M1011.5 727.1l3.5 0 3.5 0 3.5 0 3.5 0 3.5 0 3.5 0 3.5 0 3.6 0 3.5 0 3.5 0 3.5 0 3.5 0 3.5 0 3.5 0 3.5 0 3.5 0 3.5 0 3.5 0 3.5 0 3.5 0 3.5 0 3.5 0 3.6 0 3.5 0 3.5 0 3.5 0 3.5 0 3.5 0 3.5 0 3.5 0 3.5 0 3.5 0 3.5 0 3.5 0 3.5 0 3.5 0 3.5 0 3.6 0 3.5 0 3.5 0 3.5 0 3.5 0 3.5 0 3.5 0 3.5 0 3.5 0 3.5 0 3.5 0 3.5 0 3.5 0 3.5 0 3.5 0 3.6 0 3.5 0 3.5 0 3.5 0 3.5 0 3.5 0 3.5 0 3.5 0 3.5 0 3.5 0 3.5 0 3.5 0 3.5 0 3.5 0 3.5 0 3.5 0 3.6 0 3.5 0 3.5 0 3.5 0 3.5 0 3.5 0 3.5 0 3.5 0 3.5 0 3.5 0 3.5 0 3.5 0 3.5 0 3.5 0 3.5 0 3.6 0 3.5 0 3.5 0 3.5 0 3.5 0 3.5 0 3.5 0 3.5 0 3.5 0 3.5 0 3.5 0 3.5 0 3.5 0 3.5 0 3.5 0 3.6 0 3.5 0 3.5 0 3.5 0 3.5 0 3.5 0 3.5 0 3.5 0 3.5 0 3.5 0 3.5 0 3.5 0 3.5 0 3.5 0 3.5 0" stroke="#40f0ff" stroke-width="1.0" stroke-dasharray="2.5,2"/>
<path d="M1044.8 745.2l.9-.1 .9-.1 .8 0 .9-.1 .9-.1 .9-.1 .8-.2 .9-.1 .9-.1 .9-.2 .9-.1 .8-.2 .9-.1 .9-.2 .9-.2 .8-.2 .9-.1 .9-.2 .9-.2 .8-.2 .9-.1 .9-.2 .9-.1 .9-.1 .8-.1 .9-.1 .9-.1 .9 0 .8-.1 .9 0 .9 .1 .9 0 .8 .1 .9 .1 .9 .1 .9 .1 .8 .1 .9 .2 .9 .1 .9 .2 .9 .2 .8 .1 .9 .2 .9 .2 .9 .2 .8 .2 .9 .1 .9 .2 .9 .1 .8 .2 .9 .1 .9 .1 .9 .2 .9 .1 .8 .1 .9 0 .9 .1 .9 .1 .8 .1" stroke="#2828ff" stroke-width="1.2"/>
<path d="M1090.4 745.1l.9 0 .9-.1 .8-.1 .9-.1 .9-.1 .9-.1 .8-.1 .9-.2 .9-.1 .9-.2 .8-.2 .9-.2 .9-.2 .9-.2 .8-.2 .9-.2 .9-.2 .9-.3 .9-.2 .8-.2 .9-.2 .9-.2 .9-.2 .8-.2 .9-.1 .9-.1 .9-.2 .8 0 .9-.1 .9 0 .9 0 .9 0 .8 .1 .9 0 .9 .1 .9 .2 .8 .1 .9 .2 .9 .2 .9 .2 .8 .2 .9 .2 .9 .2 .9 .2 .8 .2 .9 .3 .9 .2 .9 .2 .9 .2 .8 .2 .9 .2 .9 .1 .9 .2 .8 .1 .9 .2 .9 .1 .9 .1 .8 .1 .9 .1 .9 .1 .9 0 .9 .1" stroke="#2828ff" stroke-width="1.2"/>
<path d="M1186 745.2l1.7-.2 1.8-.3 1.7-.5 1.8-.7 1.7-1 1.8-1.3 1.7-1.8 1.8-2.4 1.7-2.9 1.8-3.6 1.7-4.3 1.8-4.9 1.7-5.3 1.8-5.6 1.8-5.7 1.7-5.4 1.8-4.8 1.7-4 1.8-2.8 1.7-1.5 1.8 0 1.7 1.5 1.8 2.8 1.7 4 1.8 4.8 1.7 5.4 1.8 5.7 1.7 5.6 1.8 5.3 1.8 4.9 1.7 4.3 1.8 3.6 1.7 2.9 1.8 2.4 1.7 1.8 1.8 1.3 1.7 1 1.8 .7 1.7 .5 1.8 .3 1.7 .2" stroke="#30f030" stroke-width="1.4"/>
<path d="M1125.5 745.2l1.7-.1 1.8 0 1.7-.1 1.8-.1 1.7 0 1.8-.1 1.7-.1 1.8-.1 1.7-.2 1.8-.1 1.8-.1 1.7-.2 1.8-.2 1.7-.1 1.8-.3 1.7-.2 1.8-.2 1.7-.3 1.8-.3 1.7-.3 1.8-.3 1.7-.4 1.8-.3 1.7-.4 1.8-.5 1.8-.4 1.7-.5 1.8-.5 1.7-.5 1.8-.6 1.7-.6 1.8-.6 1.7-.6 1.8-.7 1.7-.6 1.8-.7 1.7-.7 1.8-.8 1.7-.7 1.8-.7 1.8-.8 1.7-.8 1.8-.7 1.7-.8 1.8-.7 1.7-.8 1.8-.7 1.7-.7 1.8-.7 1.7-.7 1.8-.7 1.7-.6 1.8-.6 1.7-.5 1.8-.5 1.7-.5 1.8-.4 1.8-.4 1.7-.3 1.8-.3 1.7-.2 1.8-.1 1.7-.1 1.8-.1 1.7 0 1.8 .1 1.7 .1 1.8 .2 1.7 .3 1.8 .3 1.7 .3 1.8 .4 1.8 .4 1.7 .5 1.8 .6 1.7 .5 1.8 .6 1.7 .7 1.8 .6 1.7 .7 1.8 .7 1.7 .8 1.8 .7 1.7 .8 1.8 .7 1.7 .8 1.8 .7 1.8 .8 1.7 .8 1.8 .7 1.7 .7 1.8 .7 1.7 .7 1.8 .7 1.7 .7 1.8 .6 1.7 .6 1.8 .6 1.7 .6 1.8 .5 1.7 .6 1.8 .4 1.8 .5 1.7 .5 1.8 .4 1.7 .4 1.8 .3 1.7 .4 1.8 .3 1.7 .3 1.8 .3 1.7 .2 1.8 .2 1.7 .3 1.8 .2 1.7 .1 1.8 .2 1.8 .1 1.7 .2 1.8 .1 1.7 .1 1.8 .1 1.7 .1 1.8 .1 1.7 .1 1.8 0 1.7 .1 1.8 0" stroke="#30f030" stroke-width="1.4"/>
<path d="M1218.4 745.5l.9-.5 .8-5.3 .9-20.3 .9-16.9 .9 16.9 .8 20.3 .9 5.3 .9 .5" stroke="#2828ff" stroke-width="1.2" stroke-dasharray="2.5,2"/>
<path d="M1223.6 745.5l.9-.4 .9-4.2 .9-17.5 .9-16.9 .8 13.7 .9 19.3 .9 5.5 .9 .5" stroke="#ff2020" stroke-width="1.2" stroke-dasharray="2.5,2"/>
<path d="M1208.7 745.3l.9-.3 .9-.5 .9-.9 .9-1.2 .8-1.3 .9-.9 .9-.4 .9 .5 .8 1 .9 1.3 .9 1.1 .9 .9 .8 .5 .9 .2" stroke="#8020b0" stroke-width="1.2" stroke-dasharray="2.5,2"/>
<path d="M1230.7 745.2l.8-.5 .9-.9 .9-1.5 .9-2.4 .8-3.1 .9-3.4 .9-3 .9-1.7 .9 .1 .8 1.8 .9 3 .9 3.4 .9 3.1 .8 2.3 .9 1.5 .9 .9 .9 .4" stroke="#8020b0" stroke-width="1.2" stroke-dasharray="2.5,2"/>
<path d="M1306.1 745.3l.8-.2 .9-.3 .9-.6 .9-.9 .8-1.1 .9-1.3 .9-1.2 .9-.9 .8-.4 .9 .2 .9 .8 .9 1.2 .9 1.3 .8 1.1 .9 1 .9 .6 .9 .5 .8 .2" stroke="#8020b0" stroke-width="1.2" stroke-dasharray="2.5,2"/>
<path d="M1315.7 745.3l.9-.3 .9-.4 .8-.7 .9-1 .9-1.2 .9-1.3 .8-1.1 .9-.8 .9-.1 .9 .5 .8 .9 .9 1.3 .9 1.3 .9 1.1 .8 .8 .9 .5 .9 .4" stroke="#8020b0" stroke-width="1.2" stroke-dasharray="2.5,2"/>
</g>
<g clip-path="url(#c8r)" fill="none">
<path d="M1011.5 782.2H1011.9V773.4H1012.8V790.3H1013.7V770.8H1014.6V767.2H1015.4V781.6H1016.3V774.3H1017.2V775.8H1018.1V780.9H1019V784.1H1019.8V793.1H1020.7V762H1021.6V773.6H1022.5V750.7H1023.3V765.3H1024.2V770.6H1025.1V779.8H1026V763.5H1026.8V781.4H1027.7V764.6H1028.6V782.3H1029.5V777.3H1030.3V791.5H1031.2V757.1H1032.1V777H1033V778.5H1033.9V767.2H1034.7V781.3H1035.6V766.6H1036.5V783.1H1037.4V768.1H1038.2V781.7H1039.1V788.4H1040V777.5H1040.9V785H1041.7V767.6H1042.6V772.4H1043.5V768.4H1044.4V772.2H1045.3V776.1H1046.1V772.7H1047V763.6H1047.9V774H1048.8V778.7H1049.6V780.1H1050.5V773.1H1051.4V777.1H1052.3V753.7H1053.1V779.5H1054V777.9H1054.9V770.7H1055.8V762.1H1056.6V770.2H1057.5V776.7H1058.4V776.4H1059.3V773.9H1060.2V764.2H1061V782.9H1061.9V776.9H1062.8V782.8H1063.7V775.6H1064.5V775.2H1065.4V791H1066.3V756.7H1067.2V774.4H1068V778.9H1068.9V780.7H1069.8V773.8H1070.7V770.3H1071.6V764.8H1072.4V769.7H1073.3V765.7H1074.2V784.1H1075.1V777.1H1075.9V779.5H1076.8V769.5H1077.7V766.7H1078.6V782.9H1079.4V770.9H1080.3V762.4H1081.2V760H1082.1V776.9H1082.9V762H1083.8V763.8H1084.7V770.7H1085.6V750.3H1086.5V777.5H1087.3V770.7H1088.2V764.9H1089.1V767.2H1090V771.3H1090.8V758.5H1091.7V758.6H1092.6V764.1H1093.5V764.4H1094.3V774.8H1095.2V785.7H1096.1V757.8H1097V786.2H1097.9V759.5H1098.7V780.6H1099.6V778H1100.5V781.8H1101.4V772.2H1102.2V785H1103.1V764.5H1104V775.7H1104.9V778.6H1105.7V784.9H1106.6V777.3H1107.5V779.7H1108.4V763.2H1109.2V771.7H1110.1V793.4H1111V766.6H1111.9V800.3H1112.8V766H1113.6V795H1114.5V777.6H1115.4V769.1H1116.3V774.3H1117.1V781.7H1118V759.4H1118.9V783.5H1119.8V779.2H1120.6V753.6H1121.5V772.9H1122.4V764H1123.3V760.6H1124.1V770.6H1125V769.6H1125.9V773.4H1126.8V774.9H1127.7V768.4H1128.5V772H1129.4V778.3H1130.3V773.6H1131.2V786.4H1132V788.1H1132.9V789.7H1133.8V773.6H1134.7V765.6H1135.5V778.2H1136.4V795.3H1137.3V782H1138.2V773H1139.1V774.2H1139.9V775.8H1140.8V768H1141.7V768.5H1142.6V788.1H1143.4V772.7H1144.3V782.9H1145.2V774.5H1146.1V765.8H1146.9V761H1147.8V771.1H1148.7V782H1149.6V781.1H1150.4V773.9H1151.3V787.2H1152.2V779.1H1153.1V772.7H1154V769.1H1154.8V778.4H1155.7V771.2H1156.6V761.3H1157.5V769.4H1158.3V786.2H1159.2V769.2H1160.1V769H1161V775.4H1161.8V772.2H1162.7V786.5H1163.6V764.1H1164.5V772.4H1165.4V781.7H1166.2V775.7H1167.1V776.9H1168V785.3H1168.9V800.2H1169.7V800.7H1170.6V757.3H1171.5V783.1H1172.4V774.7H1173.2V766.1H1174.1V773.6H1175V759.8H1175.9V778.5H1176.7V765.8H1177.6V789.4H1178.5V766H1179.4V767.2H1180.3V770.9H1181.1V772.5H1182V773.7H1182.9V769.4H1183.8V769.2H1184.6V786H1185.5V768.7H1186.4V785.9H1187.3V775.9H1188.1V779H1189V772H1189.9V778.5H1190.8V771.7H1191.7V779H1192.5V782.9H1193.4V765.2H1194.3V769.4H1195.2V769.9H1196V766.1H1196.9V783.4H1197.8V765.9H1198.7V782.3H1199.5V768.8H1200.4V772.4H1201.3V767H1202.2V761.9H1203V766.6H1203.9V773.9H1204.8V757.4H1205.7V755.2H1206.6V759.8H1207.4V757.4H1208.3V782.4H1209.2V767.3H1210.1V769.7H1210.9V786.3H1211.8V769H1212.7V770.6H1213.6V784.3H1214.4V779.2H1215.3V772.1H1216.2V768.6H1217.1V768.8H1218V785.6H1218.8V786.4H1219.7V782.4H1220.6V779.1H1221.5V784.1H1222.3V780.9H1223.2V773.1H1224.1V773.1H1225V777.6H1225.8V788.4H1226.7V782.6H1227.6V773.2H1228.5V770.3H1229.3V768.5H1230.2V786.7H1231.1V781.4H1232V787.8H1232.9V802.7H1233.7V786.7H1234.6V792.6H1235.5V765.2H1236.4V773.1H1237.2V782.7H1238.1V776.6H1239V773.6H1239.9V762.1H1240.7V770.7H1241.6V764.2H1242.5V773.2H1243.4V766H1244.3V764.3H1245.1V768.1H1246V774.9H1246.9V764.5H1247.8V776H1248.6V758.8H1249.5V772.2H1250.4V774.7H1251.3V751.7H1252.1V771.4H1253V766.6H1253.9V777.8H1254.8V775.5H1255.6V773.4H1256.5V780.2H1257.4V762.2H1258.3V780.1H1259.2V785.7H1260V766.1H1260.9V770.4H1261.8V797.2H1262.7V782.4H1263.5V769.2H1264.4V784.7H1265.3V780.5H1266.2V780.3H1267V797.8H1267.9V785.9H1268.8V771.5H1269.7V765.4H1270.6V778.4H1271.4V778.3H1272.3V772.2H1273.2V775.3H1274.1V772.1H1274.9V784.2H1275.8V776.7H1276.7V773.1H1277.6V773H1278.4V792.5H1279.3V772.7H1280.2V779.6H1281.1V779.8H1281.9V797H1282.8V781.8H1283.7V796.3H1284.6V805H1285.5V782.8H1286.3V784.2H1287.2V783.9H1288.1V782.8H1289V784H1289.8V773.8H1290.7V775.4H1291.6V767.4H1292.5V758.5H1293.3V772.7H1294.2V771.6H1295.1V761.4H1296V784.9H1296.9V780H1297.7V775.1H1298.6V791.3H1299.5V770H1300.4V765.4H1301.2V790.6H1302.1V787.2H1303V772.5H1303.9V768.3H1304.7V793.8H1305.6V774H1306.5V779.7H1307.4V793.1H1308.2V780H1309.1V780.8H1310V774.6H1310.9V775H1311.8V777.7H1312.6V776.6H1313.5V777H1314.4V771.5H1315.3V768H1316.1V768.4H1317V784.7H1317.9V784H1318.8V782.8H1319.6V764.2H1320.5V771.7H1321.4V781.7H1322.3V784.2H1323.1V782.1H1324V772.5H1324.9V781.9H1325.8V772.1H1326.7V760.3H1327.5V774.1H1328.4V764.4H1329.3V784.8H1330.2V768.1H1331V768H1331.9V777.8H1332.8V757H1333.7V768.3H1334.5V773.7H1335.4V770.1H1336.3V759.3H1337.2V779.8H1338.1V767.1H1338.9V777.5H1339.8V768.1H1340.7V775.5H1341.6V772.5H1342.4V766.1H1343.3V772.9H1344.2V769H1345.1V767.8H1345.9V770.2H1346.8V771.4H1347.7V772.4H1348.6V766.6H1349.4V761.1H1350.3V755H1351.2V755.3H1352.1V778.8H1353V767.3H1353.8V765.2H1354.7V758.7H1355.6V759.8H1356.5V781.3H1357.3V766.7H1358.2V784.3H1359.1V774.2H1360V778.9H1360.8V777H1361.7V758.7H1362.6V777.6H1363.5V777.5H1364.4V771.9H1365.2V763.2H1366.1V786.5H1367V756.8H1367.9V776.7H1368.7V778.2H1369.6V768.2H1370.5V763.7H1371.4V746.7H1372.2V763.3H1373.1V777.4H1374V775.2H1374.9V782.7H1375.7V769.5H1376.6V768.4H1377.5V778.5H1378.4V765.4H1379.3V789.2H1380.1V777.7H1381V780.4H1381.9V776.2H1382.8V783.8H1383.6V759.8H1384.5V774.9H1385.4V766.4H1386.3V753.9H1387.1V749.5H1388V753H1388.9V782.9H1389.8V767.2H1390.7V769.2H1391.5V774.1H1392.4V777.4H1393.3V777.9H1394.2V770.6H1395V782H1395.9V791.7H1396.8V795.3H1397.7V781.7H1398.5V798.7H1399.4V778.1H1400.3V788.6H1401.2V788.4H1402V781.4H1402.9V785.7H1403.8V775.6H1404.7V792.3H1405.6V796.7H1406.4V763.9H1407.3V780H1408.2V804.6H1409.1V768.1H1409.5" stroke="#2020f0" stroke-width="1.05"/>
<line x1="1011.5" y1="774.9" x2="1409.5" y2="774.9" stroke="#40f040" stroke-width="1.1"/>
<line x1="1011.5" y1="764.42" x2="1409.5" y2="764.42" stroke="#60ff60" stroke-width="1.1" stroke-dasharray="3,3"/>
<line x1="1011.5" y1="784.97" x2="1409.5" y2="784.97" stroke="#60ff60" stroke-width="1.1" stroke-dasharray="3,3"/>
</g>
<g fill="none" stroke="#909090" stroke-width="1">
<rect x="1011.5" y="568.5" width="398" height="177"/>
<rect x="1011.5" y="754.5" width="398" height="40"/>
<path d="M1017.5 745.5v-2.3 M1017.5 568.5v2.3 M1017.5 794.5v-1.2 M1017.5 754.5v1.2 M1023.5 745.5v-2.3 M1023.5 568.5v2.3 M1023.5 794.5v-1.2 M1023.5 754.5v1.2 M1029.5 745.5v-2.3 M1029.5 568.5v2.3 M1029.5 794.5v-1.2 M1029.5 754.5v1.2 M1034.5 745.5v-2.3 M1034.5 568.5v2.3 M1034.5 794.5v-1.2 M1034.5 754.5v1.2 M1040.5 745.5v-2.3 M1040.5 568.5v2.3 M1040.5 794.5v-1.2 M1040.5 754.5v1.2 M1046.5 745.5v-2.3 M1046.5 568.5v2.3 M1046.5 794.5v-1.2 M1046.5 754.5v1.2 M1052.5 745.5v-2.3 M1052.5 568.5v2.3 M1052.5 794.5v-1.2 M1052.5 754.5v1.2 M1058.5 745.5v-2.3 M1058.5 568.5v2.3 M1058.5 794.5v-1.2 M1058.5 754.5v1.2 M1064.5 745.5v-2.3 M1064.5 568.5v2.3 M1064.5 794.5v-1.2 M1064.5 754.5v1.2 M1069.5 745.5v-3.6 M1069.5 568.5v3.6 M1069.5 794.5v-2 M1069.5 754.5v2 M1075.5 745.5v-2.3 M1075.5 568.5v2.3 M1075.5 794.5v-1.2 M1075.5 754.5v1.2 M1081.5 745.5v-2.3 M1081.5 568.5v2.3 M1081.5 794.5v-1.2 M1081.5 754.5v1.2 M1087.5 745.5v-2.3 M1087.5 568.5v2.3 M1087.5 794.5v-1.2 M1087.5 754.5v1.2 M1093.5 745.5v-2.3 M1093.5 568.5v2.3 M1093.5 794.5v-1.2 M1093.5 754.5v1.2 M1099.5 745.5v-2.3 M1099.5 568.5v2.3 M1099.5 794.5v-1.2 M1099.5 754.5v1.2 M1105.5 745.5v-2.3 M1105.5 568.5v2.3 M1105.5 794.5v-1.2 M1105.5 754.5v1.2 M1110.5 745.5v-2.3 M1110.5 568.5v2.3 M1110.5 794.5v-1.2 M1110.5 754.5v1.2 M1116.5 745.5v-2.3 M1116.5 568.5v2.3 M1116.5 794.5v-1.2 M1116.5 754.5v1.2 M1122.5 745.5v-2.3 M1122.5 568.5v2.3 M1122.5 794.5v-1.2 M1122.5 754.5v1.2 M1128.5 745.5v-3.6 M1128.5 568.5v3.6 M1128.5 794.5v-2 M1128.5 754.5v2 M1134.5 745.5v-2.3 M1134.5 568.5v2.3 M1134.5 794.5v-1.2 M1134.5 754.5v1.2 M1140.5 745.5v-2.3 M1140.5 568.5v2.3 M1140.5 794.5v-1.2 M1140.5 754.5v1.2 M1145.5 745.5v-2.3 M1145.5 568.5v2.3 M1145.5 794.5v-1.2 M1145.5 754.5v1.2 M1151.5 745.5v-2.3 M1151.5 568.5v2.3 M1151.5 794.5v-1.2 M1151.5 754.5v1.2 M1157.5 745.5v-2.3 M1157.5 568.5v2.3 M1157.5 794.5v-1.2 M1157.5 754.5v1.2 M1163.5 745.5v-2.3 M1163.5 568.5v2.3 M1163.5 794.5v-1.2 M1163.5 754.5v1.2 M1169.5 745.5v-2.3 M1169.5 568.5v2.3 M1169.5 794.5v-1.2 M1169.5 754.5v1.2 M1175.5 745.5v-2.3 M1175.5 568.5v2.3 M1175.5 794.5v-1.2 M1175.5 754.5v1.2 M1180.5 745.5v-2.3 M1180.5 568.5v2.3 M1180.5 794.5v-1.2 M1180.5 754.5v1.2 M1186.5 745.5v-3.6 M1186.5 568.5v3.6 M1186.5 794.5v-2 M1186.5 754.5v2 M1192.5 745.5v-2.3 M1192.5 568.5v2.3 M1192.5 794.5v-1.2 M1192.5 754.5v1.2 M1198.5 745.5v-2.3 M1198.5 568.5v2.3 M1198.5 794.5v-1.2 M1198.5 754.5v1.2 M1204.5 745.5v-2.3 M1204.5 568.5v2.3 M1204.5 794.5v-1.2 M1204.5 754.5v1.2 M1210.5 745.5v-2.3 M1210.5 568.5v2.3 M1210.5 794.5v-1.2 M1210.5 754.5v1.2 M1216.5 745.5v-2.3 M1216.5 568.5v2.3 M1216.5 794.5v-1.2 M1216.5 754.5v1.2 M1221.5 745.5v-2.3 M1221.5 568.5v2.3 M1221.5 794.5v-1.2 M1221.5 754.5v1.2 M1227.5 745.5v-2.3 M1227.5 568.5v2.3 M1227.5 794.5v-1.2 M1227.5 754.5v1.2 M1233.5 745.5v-2.3 M1233.5 568.5v2.3 M1233.5 794.5v-1.2 M1233.5 754.5v1.2 M1239.5 745.5v-2.3 M1239.5 568.5v2.3 M1239.5 794.5v-1.2 M1239.5 754.5v1.2 M1245.5 745.5v-3.6 M1245.5 568.5v3.6 M1245.5 794.5v-2 M1245.5 754.5v2 M1251.5 745.5v-2.3 M1251.5 568.5v2.3 M1251.5 794.5v-1.2 M1251.5 754.5v1.2 M1256.5 745.5v-2.3 M1256.5 568.5v2.3 M1256.5 794.5v-1.2 M1256.5 754.5v1.2 M1262.5 745.5v-2.3 M1262.5 568.5v2.3 M1262.5 794.5v-1.2 M1262.5 754.5v1.2 M1268.5 745.5v-2.3 M1268.5 568.5v2.3 M1268.5 794.5v-1.2 M1268.5 754.5v1.2 M1274.5 745.5v-2.3 M1274.5 568.5v2.3 M1274.5 794.5v-1.2 M1274.5 754.5v1.2 M1280.5 745.5v-2.3 M1280.5 568.5v2.3 M1280.5 794.5v-1.2 M1280.5 754.5v1.2 M1286.5 745.5v-2.3 M1286.5 568.5v2.3 M1286.5 794.5v-1.2 M1286.5 754.5v1.2 M1292.5 745.5v-2.3 M1292.5 568.5v2.3 M1292.5 794.5v-1.2 M1292.5 754.5v1.2 M1297.5 745.5v-2.3 M1297.5 568.5v2.3 M1297.5 794.5v-1.2 M1297.5 754.5v1.2 M1303.5 745.5v-3.6 M1303.5 568.5v3.6 M1303.5 794.5v-2 M1303.5 754.5v2 M1309.5 745.5v-2.3 M1309.5 568.5v2.3 M1309.5 794.5v-1.2 M1309.5 754.5v1.2 M1315.5 745.5v-2.3 M1315.5 568.5v2.3 M1315.5 794.5v-1.2 M1315.5 754.5v1.2 M1321.5 745.5v-2.3 M1321.5 568.5v2.3 M1321.5 794.5v-1.2 M1321.5 754.5v1.2 M1327.5 745.5v-2.3 M1327.5 568.5v2.3 M1327.5 794.5v-1.2 M1327.5 754.5v1.2 M1332.5 745.5v-2.3 M1332.5 568.5v2.3 M1332.5 794.5v-1.2 M1332.5 754.5v1.2 M1338.5 745.5v-2.3 M1338.5 568.5v2.3 M1338.5 794.5v-1.2 M1338.5 754.5v1.2 M1344.5 745.5v-2.3 M1344.5 568.5v2.3 M1344.5 794.5v-1.2 M1344.5 754.5v1.2 M1350.5 745.5v-2.3 M1350.5 568.5v2.3 M1350.5 794.5v-1.2 M1350.5 754.5v1.2 M1356.5 745.5v-2.3 M1356.5 568.5v2.3 M1356.5 794.5v-1.2 M1356.5 754.5v1.2 M1362.5 745.5v-3.6 M1362.5 568.5v3.6 M1362.5 794.5v-2 M1362.5 754.5v2 M1368.5 745.5v-2.3 M1368.5 568.5v2.3 M1368.5 794.5v-1.2 M1368.5 754.5v1.2 M1373.5 745.5v-2.3 M1373.5 568.5v2.3 M1373.5 794.5v-1.2 M1373.5 754.5v1.2 M1379.5 745.5v-2.3 M1379.5 568.5v2.3 M1379.5 794.5v-1.2 M1379.5 754.5v1.2 M1385.5 745.5v-2.3 M1385.5 568.5v2.3 M1385.5 794.5v-1.2 M1385.5 754.5v1.2 M1391.5 745.5v-2.3 M1391.5 568.5v2.3 M1391.5 794.5v-1.2 M1391.5 754.5v1.2 M1397.5 745.5v-2.3 M1397.5 568.5v2.3 M1397.5 794.5v-1.2 M1397.5 754.5v1.2 M1403.5 745.5v-2.3 M1403.5 568.5v2.3 M1403.5 794.5v-1.2 M1403.5 754.5v1.2 M1408.5 745.5v-2.3 M1408.5 568.5v2.3 M1408.5 794.5v-1.2 M1408.5 754.5v1.2 M1011.5 739.5h4 M1409.5 739.5h-4 M1011.5 734.5h4 M1409.5 734.5h-4 M1011.5 728.5h4 M1409.5 728.5h-4 M1011.5 722.5h4 M1409.5 722.5h-4 M1011.5 717.5h8 M1409.5 717.5h-8 M1011.5 711.5h4 M1409.5 711.5h-4 M1011.5 705.5h4 M1409.5 705.5h-4 M1011.5 700.5h4 M1409.5 700.5h-4 M1011.5 694.5h4 M1409.5 694.5h-4 M1011.5 688.5h8 M1409.5 688.5h-8 M1011.5 683.5h4 M1409.5 683.5h-4 M1011.5 677.5h4 M1409.5 677.5h-4 M1011.5 671.5h4 M1409.5 671.5h-4 M1011.5 666.5h4 M1409.5 666.5h-4 M1011.5 660.5h8 M1409.5 660.5h-8 M1011.5 654.5h4 M1409.5 654.5h-4 M1011.5 649.5h4 M1409.5 649.5h-4 M1011.5 643.5h4 M1409.5 643.5h-4 M1011.5 637.5h4 M1409.5 637.5h-4 M1011.5 632.5h8 M1409.5 632.5h-8 M1011.5 626.5h4 M1409.5 626.5h-4 M1011.5 620.5h4 M1409.5 620.5h-4 M1011.5 615.5h4 M1409.5 615.5h-4 M1011.5 609.5h4 M1409.5 609.5h-4 M1011.5 603.5h8 M1409.5 603.5h-8 M1011.5 598.5h4 M1409.5 598.5h-4 M1011.5 592.5h4 M1409.5 592.5h-4 M1011.5 586.5h4 M1409.5 586.5h-4 M1011.5 581.5h4 M1409.5 581.5h-4 M1011.5 575.5h8 M1409.5 575.5h-8 M1011.5 569.5h4 M1409.5 569.5h-4"/>
</g>
<path d="M1011.5 754.5h8M1011.5 794.5h8" stroke="#6e6e6e" stroke-width="1.3" fill="none"/>
<line x1="1011.5" y1="746" x2="1409.5" y2="746" stroke="#2418e8" stroke-width="2"/>
<line x1="1011.5" y1="746" x2="1409.5" y2="746" stroke="#68009c" stroke-width="2" stroke-dasharray="3,2"/>
<g fill="#8c8c8c" font-family="'DejaVu Sans', 'Liberation Sans', sans-serif">
<text x="1006.9" y="746.1" font-size="12.2" text-anchor="end" textLength="7" lengthAdjust="spacingAndGlyphs">0</text>
<text x="1006.9" y="722.18" font-size="12.2" text-anchor="end" textLength="7" lengthAdjust="spacingAndGlyphs">5</text>
<text x="1006.9" y="693.86" font-size="12.2" text-anchor="end" textLength="14" lengthAdjust="spacingAndGlyphs">10</text>
<text x="1006.9" y="665.54" font-size="12.2" text-anchor="end" textLength="14" lengthAdjust="spacingAndGlyphs">15</text>
<text x="1006.9" y="637.22" font-size="12.2" text-anchor="end" textLength="14" lengthAdjust="spacingAndGlyphs">20</text>
<text x="1006.9" y="608.9" font-size="12.2" text-anchor="end" textLength="14" lengthAdjust="spacingAndGlyphs">25</text>
<text x="1006.9" y="580.58" font-size="12.2" text-anchor="end" textLength="14" lengthAdjust="spacingAndGlyphs">30</text>
<text x="1007.3" y="763" font-size="12.2" text-anchor="end" textLength="7" lengthAdjust="spacingAndGlyphs">2</text>
<text x="1007.3" y="779.5" font-size="12.2" text-anchor="end" textLength="7" lengthAdjust="spacingAndGlyphs">0</text>
<text x="1007.3" y="796" font-size="12.2" text-anchor="end" textLength="17" lengthAdjust="spacingAndGlyphs">&#8722;2</text>
<text x="1011.5" y="812.1" font-size="12.4" text-anchor="middle" textLength="31" lengthAdjust="spacingAndGlyphs">6200</text>
<text x="1069.94" y="812.1" font-size="12.4" text-anchor="middle" textLength="31" lengthAdjust="spacingAndGlyphs">6300</text>
<text x="1128.39" y="812.1" font-size="12.4" text-anchor="middle" textLength="31" lengthAdjust="spacingAndGlyphs">6400</text>
<text x="1186.83" y="812.1" font-size="12.4" text-anchor="middle" textLength="31" lengthAdjust="spacingAndGlyphs">6500</text>
<text x="1245.27" y="812.1" font-size="12.4" text-anchor="middle" textLength="31" lengthAdjust="spacingAndGlyphs">6600</text>
<text x="1303.72" y="812.1" font-size="12.4" text-anchor="middle" textLength="31" lengthAdjust="spacingAndGlyphs">6700</text>
<text x="1362.16" y="812.1" font-size="12.4" text-anchor="middle" textLength="31" lengthAdjust="spacingAndGlyphs">6800</text>
<text x="1210.5" y="826.3" font-size="12" text-anchor="middle" textLength="122.5" lengthAdjust="spacingAndGlyphs">rest wavelength (&#197;)</text>
<text y="583.1" font-size="13.8"><tspan x="1015.7" textLength="37.5" lengthAdjust="spacingAndGlyphs">7875</tspan><tspan x="1052.4" textLength="13.2" lengthAdjust="spacingAndGlyphs">-</tspan><tspan x="1064.4" textLength="46" lengthAdjust="spacingAndGlyphs">56980</tspan><tspan x="1109.7" textLength="12.8" lengthAdjust="spacingAndGlyphs">-</tspan><tspan x="1121.8" textLength="36.8" lengthAdjust="spacingAndGlyphs">0296</tspan></text>
<text x="1016.3" y="600.8" font-size="13.8" textLength="88.5" lengthAdjust="spacingAndGlyphs"><tspan font-size="15">&#967;</tspan><tspan font-size="9" dy="-7">2</tspan><tspan dy="7">/dof~1.07</tspan></text>
<text x="980.3" y="658.2" font-size="12" text-anchor="middle" textLength="135.5" lengthAdjust="spacingAndGlyphs" transform="rotate(-90 980.3 658.2)">F<tspan font-size="8" dy="3">&#955;</tspan><tspan dy="-3"> (10</tspan><tspan font-size="9.5" dy="-5">&#8722;17</tspan><tspan dy="5">erg/s/cm</tspan><tspan font-size="8" dy="-5">2</tspan><tspan dy="5">/&#197;)</tspan></text>
<text x="979.8" y="775.5" font-size="11.6" text-anchor="middle" textLength="49.7" lengthAdjust="spacingAndGlyphs" transform="rotate(-90 979.8 775.5)">residuals</text>
</g>
</svg>
</body></html>
